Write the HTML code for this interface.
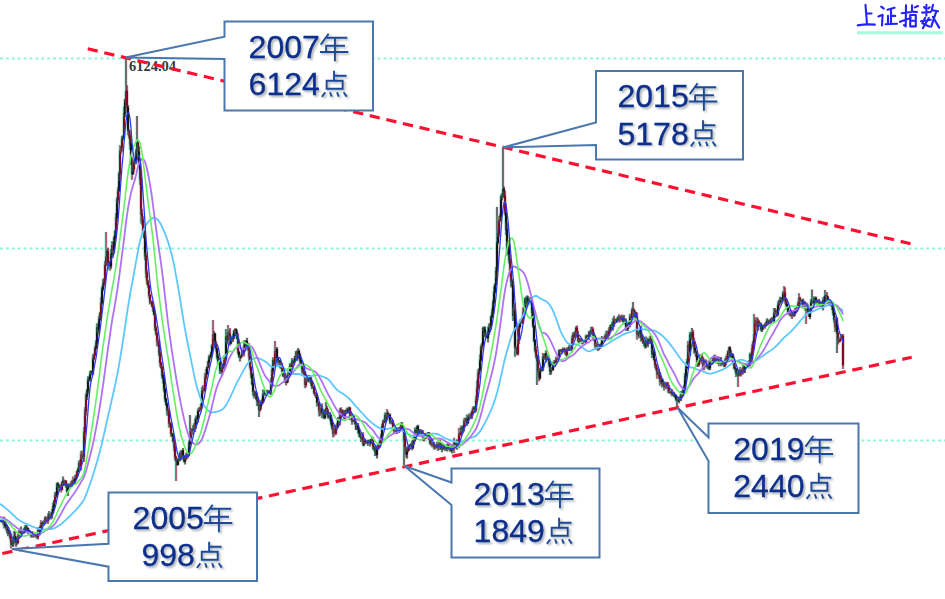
<!DOCTYPE html><html><head><meta charset="utf-8"><style>html,body{margin:0;padding:0;background:#fff;overflow:hidden}svg{display:block}</style></head><body>
<svg width="945" height="599" viewBox="0 0 945 599">
<defs><filter id="b" x="-10%" y="-10%" width="120%" height="120%"><feGaussianBlur stdDeviation="0.45"/></filter><filter id="tb" x="-10%" y="-10%" width="120%" height="120%"><feGaussianBlur stdDeviation="0.4"/></filter><filter id="sh" x="-10%" y="-10%" width="120%" height="130%"><feGaussianBlur stdDeviation="0.9"/></filter></defs>
<rect width="945" height="599" fill="#fff"/>
<line x1="0" y1="58.5" x2="945" y2="58.5" stroke="#8ef5d8" stroke-width="2.2" stroke-dasharray="2.9 3"/>
<line x1="0" y1="248.5" x2="945" y2="248.5" stroke="#8ef5d8" stroke-width="2.2" stroke-dasharray="2.9 3"/>
<line x1="0" y1="440.5" x2="945" y2="440.5" stroke="#8ef5d8" stroke-width="2.2" stroke-dasharray="2.9 3"/>
<g filter="url(#b)"><line x1="-0.1" y1="519.1" x2="-0.1" y2="522.3" stroke="#40e8b8" stroke-width="1" opacity="0.45"/><line x1="2.0" y1="519.1" x2="2.0" y2="522.3" stroke="#e070a0" stroke-width="1" opacity="0.4"/><line x1="1" y1="519.1" x2="1" y2="522.3" stroke="#181818" stroke-width="1.2"/><line x1="1" y1="520.1" x2="1" y2="521.7" stroke="#181818" stroke-width="2.2"/><line x1="0.9" y1="520.2" x2="0.9" y2="522.6" stroke="#40e8b8" stroke-width="1" opacity="0.45"/><line x1="3.0" y1="520.2" x2="3.0" y2="522.6" stroke="#e070a0" stroke-width="1" opacity="0.4"/><line x1="2" y1="520.2" x2="2" y2="522.6" stroke="#181818" stroke-width="1.2"/><line x1="2" y1="520.7" x2="2" y2="522.3" stroke="#181818" stroke-width="2.2"/><line x1="1.9" y1="518.4" x2="1.9" y2="524.6" stroke="#40e8b8" stroke-width="1" opacity="0.45"/><line x1="4.0" y1="518.4" x2="4.0" y2="524.6" stroke="#e070a0" stroke-width="1" opacity="0.4"/><line x1="3" y1="518.4" x2="3" y2="524.6" stroke="#7a0a28" stroke-width="1.2"/><line x1="3" y1="519.0" x2="3" y2="522.3" stroke="#7a0a28" stroke-width="2.2"/><line x1="2.9" y1="516.4" x2="2.9" y2="528.4" stroke="#40e8b8" stroke-width="1" opacity="0.45"/><line x1="5.0" y1="516.4" x2="5.0" y2="528.4" stroke="#e070a0" stroke-width="1" opacity="0.4"/><line x1="4" y1="516.4" x2="4" y2="528.4" stroke="#7a0a28" stroke-width="1.2"/><line x1="4" y1="519.0" x2="4" y2="525.1" stroke="#7a0a28" stroke-width="2.2"/><line x1="3.9" y1="521.1" x2="3.9" y2="528.1" stroke="#40e8b8" stroke-width="1" opacity="0.45"/><line x1="6.0" y1="521.1" x2="6.0" y2="528.1" stroke="#e070a0" stroke-width="1" opacity="0.4"/><line x1="5" y1="521.1" x2="5" y2="528.1" stroke="#181818" stroke-width="1.2"/><line x1="5" y1="524.1" x2="5" y2="526.2" stroke="#181818" stroke-width="2.2"/><line x1="4.9" y1="524.7" x2="4.9" y2="530.5" stroke="#40e8b8" stroke-width="1" opacity="0.45"/><line x1="7.0" y1="524.7" x2="7.0" y2="530.5" stroke="#e070a0" stroke-width="1" opacity="0.4"/><line x1="6" y1="524.7" x2="6" y2="530.5" stroke="#181818" stroke-width="1.2"/><line x1="6" y1="525.2" x2="6" y2="527.7" stroke="#181818" stroke-width="2.2"/><line x1="5.9" y1="526.5" x2="5.9" y2="533.6" stroke="#40e8b8" stroke-width="1" opacity="0.45"/><line x1="8.0" y1="526.5" x2="8.0" y2="533.6" stroke="#e070a0" stroke-width="1" opacity="0.4"/><line x1="7" y1="526.5" x2="7" y2="533.6" stroke="#7a0a28" stroke-width="1.2"/><line x1="7" y1="526.7" x2="7" y2="531.2" stroke="#7a0a28" stroke-width="2.2"/><line x1="6.9" y1="526.8" x2="6.9" y2="536.3" stroke="#40e8b8" stroke-width="1" opacity="0.45"/><line x1="9.0" y1="526.8" x2="9.0" y2="536.3" stroke="#e070a0" stroke-width="1" opacity="0.4"/><line x1="8" y1="526.8" x2="8" y2="536.3" stroke="#181818" stroke-width="1.2"/><line x1="8" y1="530.2" x2="8" y2="533.4" stroke="#181818" stroke-width="2.2"/><line x1="7.9" y1="530.2" x2="7.9" y2="534.5" stroke="#40e8b8" stroke-width="1" opacity="0.45"/><line x1="10.0" y1="530.2" x2="10.0" y2="534.5" stroke="#e070a0" stroke-width="1" opacity="0.4"/><line x1="9" y1="530.2" x2="9" y2="534.5" stroke="#181818" stroke-width="1.2"/><line x1="9" y1="532.1" x2="9" y2="533.4" stroke="#181818" stroke-width="2.2"/><line x1="8.9" y1="531.1" x2="8.9" y2="539.4" stroke="#40e8b8" stroke-width="1" opacity="0.45"/><line x1="11.0" y1="531.1" x2="11.0" y2="539.4" stroke="#e070a0" stroke-width="1" opacity="0.4"/><line x1="10" y1="531.1" x2="10" y2="539.4" stroke="#7a0a28" stroke-width="1.2"/><line x1="10" y1="532.1" x2="10" y2="538.1" stroke="#7a0a28" stroke-width="2.2"/><line x1="9.9" y1="534.3" x2="9.9" y2="548.6" stroke="#40e8b8" stroke-width="1" opacity="0.45"/><line x1="12.0" y1="534.3" x2="12.0" y2="548.6" stroke="#e070a0" stroke-width="1" opacity="0.4"/><line x1="11" y1="534.3" x2="11" y2="548.6" stroke="#7a0a28" stroke-width="1.2"/><line x1="11" y1="537.1" x2="11" y2="544.7" stroke="#7a0a28" stroke-width="2.2"/><line x1="10.9" y1="542.2" x2="10.9" y2="545.8" stroke="#40e8b8" stroke-width="1" opacity="0.45"/><line x1="13.0" y1="542.2" x2="13.0" y2="545.8" stroke="#e070a0" stroke-width="1" opacity="0.4"/><line x1="12" y1="542.2" x2="12" y2="545.8" stroke="#181818" stroke-width="1.2"/><line x1="12" y1="543.3" x2="12" y2="544.7" stroke="#181818" stroke-width="2.2"/><line x1="11.9" y1="537.1" x2="11.9" y2="546.9" stroke="#40e8b8" stroke-width="1" opacity="0.45"/><line x1="14.0" y1="537.1" x2="14.0" y2="546.9" stroke="#e070a0" stroke-width="1" opacity="0.4"/><line x1="13" y1="537.1" x2="13" y2="546.9" stroke="#181818" stroke-width="1.2"/><line x1="13" y1="540.3" x2="13" y2="544.3" stroke="#181818" stroke-width="2.2"/><line x1="12.9" y1="531.1" x2="12.9" y2="544.7" stroke="#40e8b8" stroke-width="1" opacity="0.45"/><line x1="15.0" y1="531.1" x2="15.0" y2="544.7" stroke="#e070a0" stroke-width="1" opacity="0.4"/><line x1="14" y1="531.1" x2="14" y2="544.7" stroke="#7a0a28" stroke-width="1.2"/><line x1="14" y1="535.9" x2="14" y2="541.3" stroke="#7a0a28" stroke-width="2.2"/><line x1="13.9" y1="531.8" x2="13.9" y2="542.4" stroke="#40e8b8" stroke-width="1" opacity="0.45"/><line x1="16.0" y1="531.8" x2="16.0" y2="542.4" stroke="#e070a0" stroke-width="1" opacity="0.4"/><line x1="15" y1="531.8" x2="15" y2="542.4" stroke="#181818" stroke-width="1.2"/><line x1="15" y1="535.9" x2="15" y2="538.5" stroke="#181818" stroke-width="2.2"/><line x1="14.9" y1="536.2" x2="14.9" y2="546.8" stroke="#40e8b8" stroke-width="1" opacity="0.45"/><line x1="17.0" y1="536.2" x2="17.0" y2="546.8" stroke="#e070a0" stroke-width="1" opacity="0.4"/><line x1="16" y1="536.2" x2="16" y2="546.8" stroke="#181818" stroke-width="1.2"/><line x1="16" y1="537.5" x2="16" y2="543.1" stroke="#181818" stroke-width="2.2"/><line x1="15.9" y1="541.6" x2="15.9" y2="544.8" stroke="#40e8b8" stroke-width="1" opacity="0.45"/><line x1="18.0" y1="541.6" x2="18.0" y2="544.8" stroke="#e070a0" stroke-width="1" opacity="0.4"/><line x1="17" y1="541.6" x2="17" y2="544.8" stroke="#181818" stroke-width="1.2"/><line x1="17" y1="541.7" x2="17" y2="543.1" stroke="#181818" stroke-width="2.2"/><line x1="16.9" y1="533.4" x2="16.9" y2="543.8" stroke="#40e8b8" stroke-width="1" opacity="0.45"/><line x1="19.0" y1="533.4" x2="19.0" y2="543.8" stroke="#e070a0" stroke-width="1" opacity="0.4"/><line x1="18" y1="533.4" x2="18" y2="543.8" stroke="#7a0a28" stroke-width="1.2"/><line x1="18" y1="535.5" x2="18" y2="542.7" stroke="#7a0a28" stroke-width="2.2"/><line x1="17.9" y1="529.4" x2="17.9" y2="538.9" stroke="#40e8b8" stroke-width="1" opacity="0.45"/><line x1="20.0" y1="529.4" x2="20.0" y2="538.9" stroke="#e070a0" stroke-width="1" opacity="0.4"/><line x1="19" y1="529.4" x2="19" y2="538.9" stroke="#7a0a28" stroke-width="1.2"/><line x1="19" y1="531.5" x2="19" y2="536.5" stroke="#7a0a28" stroke-width="2.2"/><line x1="18.9" y1="531.1" x2="18.9" y2="537.1" stroke="#40e8b8" stroke-width="1" opacity="0.45"/><line x1="21.0" y1="531.1" x2="21.0" y2="537.1" stroke="#e070a0" stroke-width="1" opacity="0.4"/><line x1="20" y1="531.1" x2="20" y2="537.1" stroke="#7a0a28" stroke-width="1.2"/><line x1="20" y1="531.5" x2="20" y2="534.5" stroke="#7a0a28" stroke-width="2.2"/><line x1="19.9" y1="526.4" x2="19.9" y2="537.1" stroke="#40e8b8" stroke-width="1" opacity="0.45"/><line x1="22.0" y1="526.4" x2="22.0" y2="537.1" stroke="#e070a0" stroke-width="1" opacity="0.4"/><line x1="21" y1="526.4" x2="21" y2="537.1" stroke="#181818" stroke-width="1.2"/><line x1="21" y1="530.9" x2="21" y2="534.5" stroke="#181818" stroke-width="2.2"/><line x1="20.9" y1="530.7" x2="20.9" y2="534.1" stroke="#40e8b8" stroke-width="1" opacity="0.45"/><line x1="23.0" y1="530.7" x2="23.0" y2="534.1" stroke="#e070a0" stroke-width="1" opacity="0.4"/><line x1="22" y1="530.7" x2="22" y2="534.1" stroke="#7a0a28" stroke-width="1.2"/><line x1="22" y1="530.9" x2="22" y2="532.8" stroke="#7a0a28" stroke-width="2.2"/><line x1="21.9" y1="531.1" x2="21.9" y2="534.1" stroke="#40e8b8" stroke-width="1" opacity="0.45"/><line x1="24.0" y1="531.1" x2="24.0" y2="534.1" stroke="#e070a0" stroke-width="1" opacity="0.4"/><line x1="23" y1="531.1" x2="23" y2="534.1" stroke="#7a0a28" stroke-width="1.2"/><line x1="23" y1="531.8" x2="23" y2="533.1" stroke="#7a0a28" stroke-width="2.2"/><line x1="22.9" y1="528.0" x2="22.9" y2="533.6" stroke="#40e8b8" stroke-width="1" opacity="0.45"/><line x1="25.0" y1="528.0" x2="25.0" y2="533.6" stroke="#e070a0" stroke-width="1" opacity="0.4"/><line x1="24" y1="528.0" x2="24" y2="533.6" stroke="#181818" stroke-width="1.2"/><line x1="24" y1="529.4" x2="24" y2="533.1" stroke="#181818" stroke-width="2.2"/><line x1="23.9" y1="525.2" x2="23.9" y2="532.7" stroke="#40e8b8" stroke-width="1" opacity="0.45"/><line x1="26.0" y1="525.2" x2="26.0" y2="532.7" stroke="#e070a0" stroke-width="1" opacity="0.4"/><line x1="25" y1="525.2" x2="25" y2="532.7" stroke="#181818" stroke-width="1.2"/><line x1="25" y1="527.2" x2="25" y2="530.4" stroke="#181818" stroke-width="2.2"/><line x1="24.9" y1="525.1" x2="24.9" y2="531.7" stroke="#40e8b8" stroke-width="1" opacity="0.45"/><line x1="27.0" y1="525.1" x2="27.0" y2="531.7" stroke="#e070a0" stroke-width="1" opacity="0.4"/><line x1="26" y1="525.1" x2="26" y2="531.7" stroke="#181818" stroke-width="1.2"/><line x1="26" y1="527.2" x2="26" y2="529.6" stroke="#181818" stroke-width="2.2"/><line x1="25.9" y1="525.8" x2="25.9" y2="531.7" stroke="#40e8b8" stroke-width="1" opacity="0.45"/><line x1="28.0" y1="525.8" x2="28.0" y2="531.7" stroke="#e070a0" stroke-width="1" opacity="0.4"/><line x1="27" y1="525.8" x2="27" y2="531.7" stroke="#181818" stroke-width="1.2"/><line x1="27" y1="528.2" x2="27" y2="529.6" stroke="#181818" stroke-width="2.2"/><line x1="26.9" y1="527.5" x2="26.9" y2="534.3" stroke="#40e8b8" stroke-width="1" opacity="0.45"/><line x1="29.0" y1="527.5" x2="29.0" y2="534.3" stroke="#e070a0" stroke-width="1" opacity="0.4"/><line x1="28" y1="527.5" x2="28" y2="534.3" stroke="#181818" stroke-width="1.2"/><line x1="28" y1="528.2" x2="28" y2="532.0" stroke="#181818" stroke-width="2.2"/><line x1="27.9" y1="530.8" x2="27.9" y2="534.4" stroke="#40e8b8" stroke-width="1" opacity="0.45"/><line x1="30.0" y1="530.8" x2="30.0" y2="534.4" stroke="#e070a0" stroke-width="1" opacity="0.4"/><line x1="29" y1="530.8" x2="29" y2="534.4" stroke="#181818" stroke-width="1.2"/><line x1="29" y1="531.0" x2="29" y2="533.0" stroke="#181818" stroke-width="2.2"/><line x1="28.9" y1="531.2" x2="28.9" y2="535.5" stroke="#40e8b8" stroke-width="1" opacity="0.45"/><line x1="31.0" y1="531.2" x2="31.0" y2="535.5" stroke="#e070a0" stroke-width="1" opacity="0.4"/><line x1="30" y1="531.2" x2="30" y2="535.5" stroke="#7a0a28" stroke-width="1.2"/><line x1="30" y1="532.0" x2="30" y2="534.7" stroke="#7a0a28" stroke-width="2.2"/><line x1="29.9" y1="532.1" x2="29.9" y2="537.7" stroke="#40e8b8" stroke-width="1" opacity="0.45"/><line x1="32.0" y1="532.1" x2="32.0" y2="537.7" stroke="#e070a0" stroke-width="1" opacity="0.4"/><line x1="31" y1="532.1" x2="31" y2="537.7" stroke="#7a0a28" stroke-width="1.2"/><line x1="31" y1="533.7" x2="31" y2="535.4" stroke="#7a0a28" stroke-width="2.2"/><line x1="30.9" y1="531.6" x2="30.9" y2="537.1" stroke="#40e8b8" stroke-width="1" opacity="0.45"/><line x1="33.0" y1="531.6" x2="33.0" y2="537.1" stroke="#e070a0" stroke-width="1" opacity="0.4"/><line x1="32" y1="531.6" x2="32" y2="537.1" stroke="#7a0a28" stroke-width="1.2"/><line x1="32" y1="534.4" x2="32" y2="536.7" stroke="#7a0a28" stroke-width="2.2"/><line x1="31.9" y1="531.6" x2="31.9" y2="537.7" stroke="#40e8b8" stroke-width="1" opacity="0.45"/><line x1="34.0" y1="531.6" x2="34.0" y2="537.7" stroke="#e070a0" stroke-width="1" opacity="0.4"/><line x1="33" y1="531.6" x2="33" y2="537.7" stroke="#7a0a28" stroke-width="1.2"/><line x1="33" y1="534.9" x2="33" y2="536.7" stroke="#7a0a28" stroke-width="2.2"/><line x1="32.9" y1="533.8" x2="32.9" y2="537.2" stroke="#40e8b8" stroke-width="1" opacity="0.45"/><line x1="35.0" y1="533.8" x2="35.0" y2="537.2" stroke="#e070a0" stroke-width="1" opacity="0.4"/><line x1="34" y1="533.8" x2="34" y2="537.2" stroke="#7a0a28" stroke-width="1.2"/><line x1="34" y1="534.9" x2="34" y2="536.0" stroke="#7a0a28" stroke-width="2.2"/><line x1="33.9" y1="533.3" x2="33.9" y2="536.7" stroke="#40e8b8" stroke-width="1" opacity="0.45"/><line x1="36.0" y1="533.3" x2="36.0" y2="536.7" stroke="#e070a0" stroke-width="1" opacity="0.4"/><line x1="35" y1="533.3" x2="35" y2="536.7" stroke="#7a0a28" stroke-width="1.2"/><line x1="35" y1="534.7" x2="35" y2="536.0" stroke="#7a0a28" stroke-width="2.2"/><line x1="34.9" y1="534.2" x2="34.9" y2="537.8" stroke="#40e8b8" stroke-width="1" opacity="0.45"/><line x1="37.0" y1="534.2" x2="37.0" y2="537.8" stroke="#e070a0" stroke-width="1" opacity="0.4"/><line x1="36" y1="534.2" x2="36" y2="537.8" stroke="#181818" stroke-width="1.2"/><line x1="36" y1="534.6" x2="36" y2="535.7" stroke="#181818" stroke-width="2.2"/><line x1="35.9" y1="534.1" x2="35.9" y2="539.1" stroke="#40e8b8" stroke-width="1" opacity="0.45"/><line x1="38.0" y1="534.1" x2="38.0" y2="539.1" stroke="#e070a0" stroke-width="1" opacity="0.4"/><line x1="37" y1="534.1" x2="37" y2="539.1" stroke="#7a0a28" stroke-width="1.2"/><line x1="37" y1="534.6" x2="37" y2="537.2" stroke="#7a0a28" stroke-width="2.2"/><line x1="36.9" y1="527.2" x2="36.9" y2="539.5" stroke="#40e8b8" stroke-width="1" opacity="0.45"/><line x1="39.0" y1="527.2" x2="39.0" y2="539.5" stroke="#e070a0" stroke-width="1" opacity="0.4"/><line x1="38" y1="527.2" x2="38" y2="539.5" stroke="#7a0a28" stroke-width="1.2"/><line x1="38" y1="528.7" x2="38" y2="537.2" stroke="#7a0a28" stroke-width="2.2"/><line x1="37.9" y1="527.7" x2="37.9" y2="535.4" stroke="#40e8b8" stroke-width="1" opacity="0.45"/><line x1="40.0" y1="527.7" x2="40.0" y2="535.4" stroke="#e070a0" stroke-width="1" opacity="0.4"/><line x1="39" y1="527.7" x2="39" y2="535.4" stroke="#7a0a28" stroke-width="1.2"/><line x1="39" y1="528.7" x2="39" y2="533.1" stroke="#7a0a28" stroke-width="2.2"/><line x1="38.9" y1="525.5" x2="38.9" y2="535.2" stroke="#40e8b8" stroke-width="1" opacity="0.45"/><line x1="41.0" y1="525.5" x2="41.0" y2="535.2" stroke="#e070a0" stroke-width="1" opacity="0.4"/><line x1="40" y1="525.5" x2="40" y2="535.2" stroke="#181818" stroke-width="1.2"/><line x1="40" y1="526.9" x2="40" y2="533.1" stroke="#181818" stroke-width="2.2"/><line x1="39.9" y1="520.3" x2="39.9" y2="529.4" stroke="#40e8b8" stroke-width="1" opacity="0.45"/><line x1="42.0" y1="520.3" x2="42.0" y2="529.4" stroke="#e070a0" stroke-width="1" opacity="0.4"/><line x1="41" y1="520.3" x2="41" y2="529.4" stroke="#7a0a28" stroke-width="1.2"/><line x1="41" y1="522.8" x2="41" y2="527.9" stroke="#7a0a28" stroke-width="2.2"/><line x1="40.9" y1="522.2" x2="40.9" y2="526.2" stroke="#40e8b8" stroke-width="1" opacity="0.45"/><line x1="43.0" y1="522.2" x2="43.0" y2="526.2" stroke="#e070a0" stroke-width="1" opacity="0.4"/><line x1="42" y1="522.2" x2="42" y2="526.2" stroke="#181818" stroke-width="1.2"/><line x1="42" y1="522.8" x2="42" y2="524.0" stroke="#181818" stroke-width="2.2"/><line x1="41.9" y1="521.3" x2="41.9" y2="525.4" stroke="#40e8b8" stroke-width="1" opacity="0.45"/><line x1="44.0" y1="521.3" x2="44.0" y2="525.4" stroke="#e070a0" stroke-width="1" opacity="0.4"/><line x1="43" y1="521.3" x2="43" y2="525.4" stroke="#181818" stroke-width="1.2"/><line x1="43" y1="521.7" x2="43" y2="524.0" stroke="#181818" stroke-width="2.2"/><line x1="42.9" y1="520.1" x2="42.9" y2="523.5" stroke="#40e8b8" stroke-width="1" opacity="0.45"/><line x1="45.0" y1="520.1" x2="45.0" y2="523.5" stroke="#e070a0" stroke-width="1" opacity="0.4"/><line x1="44" y1="520.1" x2="44" y2="523.5" stroke="#7a0a28" stroke-width="1.2"/><line x1="44" y1="521.6" x2="44" y2="522.7" stroke="#7a0a28" stroke-width="2.2"/><line x1="43.9" y1="516.3" x2="43.9" y2="524.5" stroke="#40e8b8" stroke-width="1" opacity="0.45"/><line x1="46.0" y1="516.3" x2="46.0" y2="524.5" stroke="#e070a0" stroke-width="1" opacity="0.4"/><line x1="45" y1="516.3" x2="45" y2="524.5" stroke="#7a0a28" stroke-width="1.2"/><line x1="45" y1="517.8" x2="45" y2="522.6" stroke="#7a0a28" stroke-width="2.2"/><line x1="44.9" y1="516.6" x2="44.9" y2="523.4" stroke="#40e8b8" stroke-width="1" opacity="0.45"/><line x1="47.0" y1="516.6" x2="47.0" y2="523.4" stroke="#e070a0" stroke-width="1" opacity="0.4"/><line x1="46" y1="516.6" x2="46" y2="523.4" stroke="#7a0a28" stroke-width="1.2"/><line x1="46" y1="517.8" x2="46" y2="520.8" stroke="#7a0a28" stroke-width="2.2"/><line x1="45.9" y1="518.9" x2="45.9" y2="521.8" stroke="#40e8b8" stroke-width="1" opacity="0.45"/><line x1="48.0" y1="518.9" x2="48.0" y2="521.8" stroke="#e070a0" stroke-width="1" opacity="0.4"/><line x1="47" y1="518.9" x2="47" y2="521.8" stroke="#181818" stroke-width="1.2"/><line x1="47" y1="519.8" x2="47" y2="521.0" stroke="#181818" stroke-width="2.2"/><line x1="46.9" y1="513.4" x2="46.9" y2="524.0" stroke="#40e8b8" stroke-width="1" opacity="0.45"/><line x1="49.0" y1="513.4" x2="49.0" y2="524.0" stroke="#e070a0" stroke-width="1" opacity="0.4"/><line x1="48" y1="513.4" x2="48" y2="524.0" stroke="#7a0a28" stroke-width="1.2"/><line x1="48" y1="516.5" x2="48" y2="521.0" stroke="#7a0a28" stroke-width="2.2"/><line x1="47.9" y1="511.1" x2="47.9" y2="520.2" stroke="#40e8b8" stroke-width="1" opacity="0.45"/><line x1="50.0" y1="511.1" x2="50.0" y2="520.2" stroke="#e070a0" stroke-width="1" opacity="0.4"/><line x1="49" y1="511.1" x2="49" y2="520.2" stroke="#181818" stroke-width="1.2"/><line x1="49" y1="514.4" x2="49" y2="517.5" stroke="#181818" stroke-width="2.2"/><line x1="48.9" y1="513.7" x2="48.9" y2="517.2" stroke="#40e8b8" stroke-width="1" opacity="0.45"/><line x1="51.0" y1="513.7" x2="51.0" y2="517.2" stroke="#e070a0" stroke-width="1" opacity="0.4"/><line x1="50" y1="513.7" x2="50" y2="517.2" stroke="#7a0a28" stroke-width="1.2"/><line x1="50" y1="514.4" x2="50" y2="516.7" stroke="#7a0a28" stroke-width="2.2"/><line x1="49.9" y1="512.2" x2="49.9" y2="519.5" stroke="#40e8b8" stroke-width="1" opacity="0.45"/><line x1="52.0" y1="512.2" x2="52.0" y2="519.5" stroke="#e070a0" stroke-width="1" opacity="0.4"/><line x1="51" y1="512.2" x2="51" y2="519.5" stroke="#7a0a28" stroke-width="1.2"/><line x1="51" y1="513.4" x2="51" y2="516.7" stroke="#7a0a28" stroke-width="2.2"/><line x1="50.9" y1="509.1" x2="50.9" y2="518.4" stroke="#40e8b8" stroke-width="1" opacity="0.45"/><line x1="53.0" y1="509.1" x2="53.0" y2="518.4" stroke="#e070a0" stroke-width="1" opacity="0.4"/><line x1="52" y1="509.1" x2="52" y2="518.4" stroke="#181818" stroke-width="1.2"/><line x1="52" y1="512.2" x2="52" y2="514.4" stroke="#181818" stroke-width="2.2"/><line x1="51.9" y1="502.9" x2="51.9" y2="513.9" stroke="#40e8b8" stroke-width="1" opacity="0.45"/><line x1="54.0" y1="502.9" x2="54.0" y2="513.9" stroke="#e070a0" stroke-width="1" opacity="0.4"/><line x1="53" y1="502.9" x2="53" y2="513.9" stroke="#181818" stroke-width="1.2"/><line x1="53" y1="506.2" x2="53" y2="513.2" stroke="#181818" stroke-width="2.2"/><line x1="52.9" y1="500.1" x2="52.9" y2="509.0" stroke="#40e8b8" stroke-width="1" opacity="0.45"/><line x1="55.0" y1="500.1" x2="55.0" y2="509.0" stroke="#e070a0" stroke-width="1" opacity="0.4"/><line x1="54" y1="500.1" x2="54" y2="509.0" stroke="#181818" stroke-width="1.2"/><line x1="54" y1="501.0" x2="54" y2="507.2" stroke="#181818" stroke-width="2.2"/><line x1="53.9" y1="492.0" x2="53.9" y2="504.2" stroke="#40e8b8" stroke-width="1" opacity="0.45"/><line x1="56.0" y1="492.0" x2="56.0" y2="504.2" stroke="#e070a0" stroke-width="1" opacity="0.4"/><line x1="55" y1="492.0" x2="55" y2="504.2" stroke="#7a0a28" stroke-width="1.2"/><line x1="55" y1="495.3" x2="55" y2="502.0" stroke="#7a0a28" stroke-width="2.2"/><line x1="54.9" y1="491.8" x2="54.9" y2="497.4" stroke="#40e8b8" stroke-width="1" opacity="0.45"/><line x1="57.0" y1="491.8" x2="57.0" y2="497.4" stroke="#e070a0" stroke-width="1" opacity="0.4"/><line x1="56" y1="491.8" x2="56" y2="497.4" stroke="#181818" stroke-width="1.2"/><line x1="56" y1="493.7" x2="56" y2="496.3" stroke="#181818" stroke-width="2.2"/><line x1="55.9" y1="482.5" x2="55.9" y2="497.2" stroke="#40e8b8" stroke-width="1" opacity="0.45"/><line x1="58.0" y1="482.5" x2="58.0" y2="497.2" stroke="#e070a0" stroke-width="1" opacity="0.4"/><line x1="57" y1="482.5" x2="57" y2="497.2" stroke="#181818" stroke-width="1.2"/><line x1="57" y1="483.6" x2="57" y2="494.7" stroke="#181818" stroke-width="2.2"/><line x1="56.9" y1="482.3" x2="56.9" y2="487.4" stroke="#40e8b8" stroke-width="1" opacity="0.45"/><line x1="59.0" y1="482.3" x2="59.0" y2="487.4" stroke="#e070a0" stroke-width="1" opacity="0.4"/><line x1="58" y1="482.3" x2="58" y2="487.4" stroke="#181818" stroke-width="1.2"/><line x1="58" y1="483.6" x2="58" y2="485.8" stroke="#181818" stroke-width="2.2"/><line x1="57.9" y1="484.3" x2="57.9" y2="490.8" stroke="#40e8b8" stroke-width="1" opacity="0.45"/><line x1="60.0" y1="484.3" x2="60.0" y2="490.8" stroke="#e070a0" stroke-width="1" opacity="0.4"/><line x1="59" y1="484.3" x2="59" y2="490.8" stroke="#181818" stroke-width="1.2"/><line x1="59" y1="484.8" x2="59" y2="488.0" stroke="#181818" stroke-width="2.2"/><line x1="58.9" y1="485.6" x2="58.9" y2="488.3" stroke="#40e8b8" stroke-width="1" opacity="0.45"/><line x1="61.0" y1="485.6" x2="61.0" y2="488.3" stroke="#e070a0" stroke-width="1" opacity="0.4"/><line x1="60" y1="485.6" x2="60" y2="488.3" stroke="#181818" stroke-width="1.2"/><line x1="60" y1="485.8" x2="60" y2="488.0" stroke="#181818" stroke-width="2.2"/><line x1="59.9" y1="484.3" x2="59.9" y2="492.5" stroke="#40e8b8" stroke-width="1" opacity="0.45"/><line x1="62.0" y1="484.3" x2="62.0" y2="492.5" stroke="#e070a0" stroke-width="1" opacity="0.4"/><line x1="61" y1="484.3" x2="61" y2="492.5" stroke="#7a0a28" stroke-width="1.2"/><line x1="61" y1="485.8" x2="61" y2="490.0" stroke="#7a0a28" stroke-width="2.2"/><line x1="60.9" y1="481.3" x2="60.9" y2="490.5" stroke="#40e8b8" stroke-width="1" opacity="0.45"/><line x1="63.0" y1="481.3" x2="63.0" y2="490.5" stroke="#e070a0" stroke-width="1" opacity="0.4"/><line x1="62" y1="481.3" x2="62" y2="490.5" stroke="#7a0a28" stroke-width="1.2"/><line x1="62" y1="481.7" x2="62" y2="490.0" stroke="#7a0a28" stroke-width="2.2"/><line x1="61.9" y1="476.4" x2="61.9" y2="483.6" stroke="#40e8b8" stroke-width="1" opacity="0.45"/><line x1="64.0" y1="476.4" x2="64.0" y2="483.6" stroke="#e070a0" stroke-width="1" opacity="0.4"/><line x1="63" y1="476.4" x2="63" y2="483.6" stroke="#181818" stroke-width="1.2"/><line x1="63" y1="480.4" x2="63" y2="482.7" stroke="#181818" stroke-width="2.2"/><line x1="62.9" y1="479.4" x2="62.9" y2="485.7" stroke="#40e8b8" stroke-width="1" opacity="0.45"/><line x1="65.0" y1="479.4" x2="65.0" y2="485.7" stroke="#e070a0" stroke-width="1" opacity="0.4"/><line x1="64" y1="479.4" x2="64" y2="485.7" stroke="#181818" stroke-width="1.2"/><line x1="64" y1="480.4" x2="64" y2="484.7" stroke="#181818" stroke-width="2.2"/><line x1="63.9" y1="480.0" x2="63.9" y2="485.6" stroke="#40e8b8" stroke-width="1" opacity="0.45"/><line x1="66.0" y1="480.0" x2="66.0" y2="485.6" stroke="#e070a0" stroke-width="1" opacity="0.4"/><line x1="65" y1="480.0" x2="65" y2="485.6" stroke="#7a0a28" stroke-width="1.2"/><line x1="65" y1="481.4" x2="65" y2="484.7" stroke="#7a0a28" stroke-width="2.2"/><line x1="64.9" y1="480.1" x2="64.9" y2="488.1" stroke="#40e8b8" stroke-width="1" opacity="0.45"/><line x1="67.0" y1="480.1" x2="67.0" y2="488.1" stroke="#e070a0" stroke-width="1" opacity="0.4"/><line x1="66" y1="480.1" x2="66" y2="488.1" stroke="#7a0a28" stroke-width="1.2"/><line x1="66" y1="481.4" x2="66" y2="486.5" stroke="#7a0a28" stroke-width="2.2"/><line x1="65.9" y1="485.0" x2="65.9" y2="492.9" stroke="#40e8b8" stroke-width="1" opacity="0.45"/><line x1="68.0" y1="485.0" x2="68.0" y2="492.9" stroke="#e070a0" stroke-width="1" opacity="0.4"/><line x1="67" y1="485.0" x2="67" y2="492.9" stroke="#181818" stroke-width="1.2"/><line x1="67" y1="485.5" x2="67" y2="492.0" stroke="#181818" stroke-width="2.2"/><line x1="66.9" y1="483.2" x2="66.9" y2="496.0" stroke="#40e8b8" stroke-width="1" opacity="0.45"/><line x1="69.0" y1="483.2" x2="69.0" y2="496.0" stroke="#e070a0" stroke-width="1" opacity="0.4"/><line x1="68" y1="483.2" x2="68" y2="496.0" stroke="#181818" stroke-width="1.2"/><line x1="68" y1="485.4" x2="68" y2="492.0" stroke="#181818" stroke-width="2.2"/><line x1="67.9" y1="483.9" x2="67.9" y2="487.7" stroke="#40e8b8" stroke-width="1" opacity="0.45"/><line x1="70.0" y1="483.9" x2="70.0" y2="487.7" stroke="#e070a0" stroke-width="1" opacity="0.4"/><line x1="69" y1="483.9" x2="69" y2="487.7" stroke="#181818" stroke-width="1.2"/><line x1="69" y1="484.9" x2="69" y2="486.4" stroke="#181818" stroke-width="2.2"/><line x1="68.9" y1="483.2" x2="68.9" y2="487.0" stroke="#40e8b8" stroke-width="1" opacity="0.45"/><line x1="71.0" y1="483.2" x2="71.0" y2="487.0" stroke="#e070a0" stroke-width="1" opacity="0.4"/><line x1="70" y1="483.2" x2="70" y2="487.0" stroke="#7a0a28" stroke-width="1.2"/><line x1="70" y1="484.9" x2="70" y2="485.9" stroke="#7a0a28" stroke-width="2.2"/><line x1="69.9" y1="481.1" x2="69.9" y2="486.3" stroke="#40e8b8" stroke-width="1" opacity="0.45"/><line x1="72.0" y1="481.1" x2="72.0" y2="486.3" stroke="#e070a0" stroke-width="1" opacity="0.4"/><line x1="71" y1="481.1" x2="71" y2="486.3" stroke="#7a0a28" stroke-width="1.2"/><line x1="71" y1="483.3" x2="71" y2="485.9" stroke="#7a0a28" stroke-width="2.2"/><line x1="70.9" y1="479.7" x2="70.9" y2="486.8" stroke="#40e8b8" stroke-width="1" opacity="0.45"/><line x1="73.0" y1="479.7" x2="73.0" y2="486.8" stroke="#e070a0" stroke-width="1" opacity="0.4"/><line x1="72" y1="479.7" x2="72" y2="486.8" stroke="#7a0a28" stroke-width="1.2"/><line x1="72" y1="482.0" x2="72" y2="484.3" stroke="#7a0a28" stroke-width="2.2"/><line x1="71.9" y1="476.5" x2="71.9" y2="484.5" stroke="#40e8b8" stroke-width="1" opacity="0.45"/><line x1="74.0" y1="476.5" x2="74.0" y2="484.5" stroke="#e070a0" stroke-width="1" opacity="0.4"/><line x1="73" y1="476.5" x2="73" y2="484.5" stroke="#7a0a28" stroke-width="1.2"/><line x1="73" y1="480.1" x2="73" y2="483.0" stroke="#7a0a28" stroke-width="2.2"/><line x1="72.9" y1="479.0" x2="72.9" y2="482.3" stroke="#40e8b8" stroke-width="1" opacity="0.45"/><line x1="75.0" y1="479.0" x2="75.0" y2="482.3" stroke="#e070a0" stroke-width="1" opacity="0.4"/><line x1="74" y1="479.0" x2="74" y2="482.3" stroke="#181818" stroke-width="1.2"/><line x1="74" y1="480.1" x2="74" y2="481.4" stroke="#181818" stroke-width="2.2"/><line x1="73.9" y1="475.1" x2="73.9" y2="484.6" stroke="#40e8b8" stroke-width="1" opacity="0.45"/><line x1="76.0" y1="475.1" x2="76.0" y2="484.6" stroke="#e070a0" stroke-width="1" opacity="0.4"/><line x1="75" y1="475.1" x2="75" y2="484.6" stroke="#181818" stroke-width="1.2"/><line x1="75" y1="478.0" x2="75" y2="481.4" stroke="#181818" stroke-width="2.2"/><line x1="74.9" y1="474.2" x2="74.9" y2="479.0" stroke="#40e8b8" stroke-width="1" opacity="0.45"/><line x1="77.0" y1="474.2" x2="77.0" y2="479.0" stroke="#e070a0" stroke-width="1" opacity="0.4"/><line x1="76" y1="474.2" x2="76" y2="479.0" stroke="#7a0a28" stroke-width="1.2"/><line x1="76" y1="475.3" x2="76" y2="479.0" stroke="#7a0a28" stroke-width="2.2"/><line x1="75.9" y1="470.2" x2="75.9" y2="477.1" stroke="#40e8b8" stroke-width="1" opacity="0.45"/><line x1="78.0" y1="470.2" x2="78.0" y2="477.1" stroke="#e070a0" stroke-width="1" opacity="0.4"/><line x1="77" y1="470.2" x2="77" y2="477.1" stroke="#7a0a28" stroke-width="1.2"/><line x1="77" y1="470.9" x2="77" y2="476.3" stroke="#7a0a28" stroke-width="2.2"/><line x1="76.9" y1="467.5" x2="76.9" y2="472.5" stroke="#40e8b8" stroke-width="1" opacity="0.45"/><line x1="79.0" y1="467.5" x2="79.0" y2="472.5" stroke="#e070a0" stroke-width="1" opacity="0.4"/><line x1="78" y1="467.5" x2="78" y2="472.5" stroke="#181818" stroke-width="1.2"/><line x1="78" y1="468.7" x2="78" y2="471.9" stroke="#181818" stroke-width="2.2"/><line x1="77.9" y1="460.4" x2="77.9" y2="471.5" stroke="#40e8b8" stroke-width="1" opacity="0.45"/><line x1="80.0" y1="460.4" x2="80.0" y2="471.5" stroke="#e070a0" stroke-width="1" opacity="0.4"/><line x1="79" y1="460.4" x2="79" y2="471.5" stroke="#181818" stroke-width="1.2"/><line x1="79" y1="462.6" x2="79" y2="469.7" stroke="#181818" stroke-width="2.2"/><line x1="78.9" y1="459.6" x2="78.9" y2="469.9" stroke="#40e8b8" stroke-width="1" opacity="0.45"/><line x1="81.0" y1="459.6" x2="81.0" y2="469.9" stroke="#e070a0" stroke-width="1" opacity="0.4"/><line x1="80" y1="459.6" x2="80" y2="469.9" stroke="#7a0a28" stroke-width="1.2"/><line x1="80" y1="462.6" x2="80" y2="466.0" stroke="#7a0a28" stroke-width="2.2"/><line x1="79.9" y1="451.0" x2="79.9" y2="470.4" stroke="#40e8b8" stroke-width="1" opacity="0.45"/><line x1="82.0" y1="451.0" x2="82.0" y2="470.4" stroke="#e070a0" stroke-width="1" opacity="0.4"/><line x1="81" y1="451.0" x2="81" y2="470.4" stroke="#7a0a28" stroke-width="1.2"/><line x1="81" y1="454.3" x2="81" y2="466.0" stroke="#7a0a28" stroke-width="2.2"/><line x1="80.9" y1="450.4" x2="80.9" y2="459.0" stroke="#40e8b8" stroke-width="1" opacity="0.45"/><line x1="83.0" y1="450.4" x2="83.0" y2="459.0" stroke="#e070a0" stroke-width="1" opacity="0.4"/><line x1="82" y1="450.4" x2="82" y2="459.0" stroke="#7a0a28" stroke-width="1.2"/><line x1="82" y1="454.3" x2="82" y2="458.4" stroke="#7a0a28" stroke-width="2.2"/><line x1="81.9" y1="453.0" x2="81.9" y2="459.3" stroke="#40e8b8" stroke-width="1" opacity="0.45"/><line x1="84.0" y1="453.0" x2="84.0" y2="459.3" stroke="#e070a0" stroke-width="1" opacity="0.4"/><line x1="83" y1="453.0" x2="83" y2="459.3" stroke="#7a0a28" stroke-width="1.2"/><line x1="83" y1="455.8" x2="83" y2="458.4" stroke="#7a0a28" stroke-width="2.2"/><line x1="82.9" y1="427.0" x2="82.9" y2="462.1" stroke="#40e8b8" stroke-width="1" opacity="0.45"/><line x1="85.0" y1="427.0" x2="85.0" y2="462.1" stroke="#e070a0" stroke-width="1" opacity="0.4"/><line x1="84" y1="427.0" x2="84" y2="462.1" stroke="#7a0a28" stroke-width="1.2"/><line x1="84" y1="431.6" x2="84" y2="456.8" stroke="#7a0a28" stroke-width="2.2"/><line x1="83.9" y1="407.1" x2="83.9" y2="435.5" stroke="#40e8b8" stroke-width="1" opacity="0.45"/><line x1="86.0" y1="407.1" x2="86.0" y2="435.5" stroke="#e070a0" stroke-width="1" opacity="0.4"/><line x1="85" y1="407.1" x2="85" y2="435.5" stroke="#7a0a28" stroke-width="1.2"/><line x1="85" y1="410.3" x2="85" y2="432.6" stroke="#7a0a28" stroke-width="2.2"/><line x1="84.9" y1="393.3" x2="84.9" y2="415.5" stroke="#40e8b8" stroke-width="1" opacity="0.45"/><line x1="87.0" y1="393.3" x2="87.0" y2="415.5" stroke="#e070a0" stroke-width="1" opacity="0.4"/><line x1="86" y1="393.3" x2="86" y2="415.5" stroke="#7a0a28" stroke-width="1.2"/><line x1="86" y1="395.6" x2="86" y2="411.3" stroke="#7a0a28" stroke-width="2.2"/><line x1="85.9" y1="389.1" x2="85.9" y2="400.0" stroke="#40e8b8" stroke-width="1" opacity="0.45"/><line x1="88.0" y1="389.1" x2="88.0" y2="400.0" stroke="#e070a0" stroke-width="1" opacity="0.4"/><line x1="87" y1="389.1" x2="87" y2="400.0" stroke="#181818" stroke-width="1.2"/><line x1="87" y1="390.3" x2="87" y2="396.6" stroke="#181818" stroke-width="2.2"/><line x1="86.9" y1="376.3" x2="86.9" y2="394.3" stroke="#40e8b8" stroke-width="1" opacity="0.45"/><line x1="89.0" y1="376.3" x2="89.0" y2="394.3" stroke="#e070a0" stroke-width="1" opacity="0.4"/><line x1="88" y1="376.3" x2="88" y2="394.3" stroke="#181818" stroke-width="1.2"/><line x1="88" y1="379.5" x2="88" y2="391.3" stroke="#181818" stroke-width="2.2"/><line x1="87.9" y1="377.0" x2="87.9" y2="381.3" stroke="#40e8b8" stroke-width="1" opacity="0.45"/><line x1="90.0" y1="377.0" x2="90.0" y2="381.3" stroke="#e070a0" stroke-width="1" opacity="0.4"/><line x1="89" y1="377.0" x2="89" y2="381.3" stroke="#181818" stroke-width="1.2"/><line x1="89" y1="378.1" x2="89" y2="380.5" stroke="#181818" stroke-width="2.2"/><line x1="88.9" y1="370.8" x2="88.9" y2="381.6" stroke="#40e8b8" stroke-width="1" opacity="0.45"/><line x1="91.0" y1="370.8" x2="91.0" y2="381.6" stroke="#e070a0" stroke-width="1" opacity="0.4"/><line x1="90" y1="370.8" x2="90" y2="381.6" stroke="#181818" stroke-width="1.2"/><line x1="90" y1="373.7" x2="90" y2="379.1" stroke="#181818" stroke-width="2.2"/><line x1="89.9" y1="370.4" x2="89.9" y2="375.2" stroke="#40e8b8" stroke-width="1" opacity="0.45"/><line x1="92.0" y1="370.4" x2="92.0" y2="375.2" stroke="#e070a0" stroke-width="1" opacity="0.4"/><line x1="91" y1="370.4" x2="91" y2="375.2" stroke="#181818" stroke-width="1.2"/><line x1="91" y1="371.0" x2="91" y2="374.7" stroke="#181818" stroke-width="2.2"/><line x1="90.9" y1="370.4" x2="90.9" y2="374.5" stroke="#40e8b8" stroke-width="1" opacity="0.45"/><line x1="93.0" y1="370.4" x2="93.0" y2="374.5" stroke="#e070a0" stroke-width="1" opacity="0.4"/><line x1="92" y1="370.4" x2="92" y2="374.5" stroke="#181818" stroke-width="1.2"/><line x1="92" y1="371.0" x2="92" y2="373.0" stroke="#181818" stroke-width="2.2"/><line x1="91.9" y1="354.4" x2="91.9" y2="375.3" stroke="#40e8b8" stroke-width="1" opacity="0.45"/><line x1="94.0" y1="354.4" x2="94.0" y2="375.3" stroke="#e070a0" stroke-width="1" opacity="0.4"/><line x1="93" y1="354.4" x2="93" y2="375.3" stroke="#181818" stroke-width="1.2"/><line x1="93" y1="358.0" x2="93" y2="373.0" stroke="#181818" stroke-width="2.2"/><line x1="92.9" y1="353.2" x2="92.9" y2="360.1" stroke="#40e8b8" stroke-width="1" opacity="0.45"/><line x1="95.0" y1="353.2" x2="95.0" y2="360.1" stroke="#e070a0" stroke-width="1" opacity="0.4"/><line x1="94" y1="353.2" x2="94" y2="360.1" stroke="#7a0a28" stroke-width="1.2"/><line x1="94" y1="354.4" x2="94" y2="359.0" stroke="#7a0a28" stroke-width="2.2"/><line x1="93.9" y1="346.0" x2="93.9" y2="356.4" stroke="#40e8b8" stroke-width="1" opacity="0.45"/><line x1="96.0" y1="346.0" x2="96.0" y2="356.4" stroke="#e070a0" stroke-width="1" opacity="0.4"/><line x1="95" y1="346.0" x2="95" y2="356.4" stroke="#7a0a28" stroke-width="1.2"/><line x1="95" y1="347.8" x2="95" y2="355.4" stroke="#7a0a28" stroke-width="2.2"/><line x1="94.9" y1="340.1" x2="94.9" y2="349.4" stroke="#40e8b8" stroke-width="1" opacity="0.45"/><line x1="97.0" y1="340.1" x2="97.0" y2="349.4" stroke="#e070a0" stroke-width="1" opacity="0.4"/><line x1="96" y1="340.1" x2="96" y2="349.4" stroke="#181818" stroke-width="1.2"/><line x1="96" y1="342.6" x2="96" y2="348.8" stroke="#181818" stroke-width="2.2"/><line x1="95.9" y1="323.3" x2="95.9" y2="346.7" stroke="#40e8b8" stroke-width="1" opacity="0.45"/><line x1="98.0" y1="323.3" x2="98.0" y2="346.7" stroke="#e070a0" stroke-width="1" opacity="0.4"/><line x1="97" y1="323.3" x2="97" y2="346.7" stroke="#181818" stroke-width="1.2"/><line x1="97" y1="327.1" x2="97" y2="343.6" stroke="#181818" stroke-width="2.2"/><line x1="96.9" y1="324.6" x2="96.9" y2="331.9" stroke="#40e8b8" stroke-width="1" opacity="0.45"/><line x1="99.0" y1="324.6" x2="99.0" y2="331.9" stroke="#e070a0" stroke-width="1" opacity="0.4"/><line x1="98" y1="324.6" x2="98" y2="331.9" stroke="#181818" stroke-width="1.2"/><line x1="98" y1="327.1" x2="98" y2="329.7" stroke="#181818" stroke-width="2.2"/><line x1="97.9" y1="315.8" x2="97.9" y2="334.4" stroke="#40e8b8" stroke-width="1" opacity="0.45"/><line x1="100.0" y1="315.8" x2="100.0" y2="334.4" stroke="#e070a0" stroke-width="1" opacity="0.4"/><line x1="99" y1="315.8" x2="99" y2="334.4" stroke="#181818" stroke-width="1.2"/><line x1="99" y1="318.7" x2="99" y2="329.7" stroke="#181818" stroke-width="2.2"/><line x1="98.9" y1="311.8" x2="98.9" y2="320.9" stroke="#40e8b8" stroke-width="1" opacity="0.45"/><line x1="101.0" y1="311.8" x2="101.0" y2="320.9" stroke="#e070a0" stroke-width="1" opacity="0.4"/><line x1="100" y1="311.8" x2="100" y2="320.9" stroke="#181818" stroke-width="1.2"/><line x1="100" y1="312.9" x2="100" y2="319.7" stroke="#181818" stroke-width="2.2"/><line x1="99.9" y1="297.2" x2="99.9" y2="318.7" stroke="#40e8b8" stroke-width="1" opacity="0.45"/><line x1="102.0" y1="297.2" x2="102.0" y2="318.7" stroke="#e070a0" stroke-width="1" opacity="0.4"/><line x1="101" y1="297.2" x2="101" y2="318.7" stroke="#7a0a28" stroke-width="1.2"/><line x1="101" y1="302.4" x2="101" y2="313.9" stroke="#7a0a28" stroke-width="2.2"/><line x1="100.9" y1="286.6" x2="100.9" y2="304.7" stroke="#40e8b8" stroke-width="1" opacity="0.45"/><line x1="103.0" y1="286.6" x2="103.0" y2="304.7" stroke="#e070a0" stroke-width="1" opacity="0.4"/><line x1="102" y1="286.6" x2="102" y2="304.7" stroke="#181818" stroke-width="1.2"/><line x1="102" y1="288.2" x2="102" y2="303.4" stroke="#181818" stroke-width="2.2"/><line x1="101.9" y1="278.8" x2="101.9" y2="290.9" stroke="#40e8b8" stroke-width="1" opacity="0.45"/><line x1="104.0" y1="278.8" x2="104.0" y2="290.9" stroke="#e070a0" stroke-width="1" opacity="0.4"/><line x1="103" y1="278.8" x2="103" y2="290.9" stroke="#181818" stroke-width="1.2"/><line x1="103" y1="283.3" x2="103" y2="289.2" stroke="#181818" stroke-width="2.2"/><line x1="102.9" y1="278.2" x2="102.9" y2="286.4" stroke="#40e8b8" stroke-width="1" opacity="0.45"/><line x1="105.0" y1="278.2" x2="105.0" y2="286.4" stroke="#e070a0" stroke-width="1" opacity="0.4"/><line x1="104" y1="278.2" x2="104" y2="286.4" stroke="#7a0a28" stroke-width="1.2"/><line x1="104" y1="279.5" x2="104" y2="284.3" stroke="#7a0a28" stroke-width="2.2"/><line x1="103.9" y1="261.0" x2="103.9" y2="282.1" stroke="#40e8b8" stroke-width="1" opacity="0.45"/><line x1="106.0" y1="261.0" x2="106.0" y2="282.1" stroke="#e070a0" stroke-width="1" opacity="0.4"/><line x1="105" y1="261.0" x2="105" y2="282.1" stroke="#7a0a28" stroke-width="1.2"/><line x1="105" y1="264.7" x2="105" y2="280.5" stroke="#7a0a28" stroke-width="2.2"/><line x1="104.9" y1="232.0" x2="104.9" y2="266.2" stroke="#40e8b8" stroke-width="1" opacity="0.45"/><line x1="107.0" y1="232.0" x2="107.0" y2="266.2" stroke="#e070a0" stroke-width="1" opacity="0.4"/><line x1="106" y1="232.0" x2="106" y2="266.2" stroke="#7a0a28" stroke-width="1.2"/><line x1="106" y1="256.4" x2="106" y2="265.7" stroke="#7a0a28" stroke-width="2.2"/><line x1="105.9" y1="249.2" x2="105.9" y2="258.4" stroke="#40e8b8" stroke-width="1" opacity="0.45"/><line x1="108.0" y1="249.2" x2="108.0" y2="258.4" stroke="#e070a0" stroke-width="1" opacity="0.4"/><line x1="107" y1="249.2" x2="107" y2="258.4" stroke="#181818" stroke-width="1.2"/><line x1="107" y1="251.0" x2="107" y2="257.4" stroke="#181818" stroke-width="2.2"/><line x1="106.9" y1="247.7" x2="106.9" y2="269.5" stroke="#40e8b8" stroke-width="1" opacity="0.45"/><line x1="109.0" y1="247.7" x2="109.0" y2="269.5" stroke="#e070a0" stroke-width="1" opacity="0.4"/><line x1="108" y1="247.7" x2="108" y2="269.5" stroke="#7a0a28" stroke-width="1.2"/><line x1="108" y1="251.0" x2="108" y2="265.2" stroke="#7a0a28" stroke-width="2.2"/><line x1="107.9" y1="262.1" x2="107.9" y2="265.5" stroke="#40e8b8" stroke-width="1" opacity="0.45"/><line x1="110.0" y1="262.1" x2="110.0" y2="265.5" stroke="#e070a0" stroke-width="1" opacity="0.4"/><line x1="109" y1="262.1" x2="109" y2="265.5" stroke="#181818" stroke-width="1.2"/><line x1="109" y1="263.5" x2="109" y2="265.2" stroke="#181818" stroke-width="2.2"/><line x1="108.9" y1="262.6" x2="108.9" y2="270.7" stroke="#40e8b8" stroke-width="1" opacity="0.45"/><line x1="111.0" y1="262.6" x2="111.0" y2="270.7" stroke="#e070a0" stroke-width="1" opacity="0.4"/><line x1="110" y1="262.6" x2="110" y2="270.7" stroke="#7a0a28" stroke-width="1.2"/><line x1="110" y1="263.5" x2="110" y2="266.4" stroke="#7a0a28" stroke-width="2.2"/><line x1="109.9" y1="248.9" x2="109.9" y2="268.8" stroke="#40e8b8" stroke-width="1" opacity="0.45"/><line x1="112.0" y1="248.9" x2="112.0" y2="268.8" stroke="#e070a0" stroke-width="1" opacity="0.4"/><line x1="111" y1="248.9" x2="111" y2="268.8" stroke="#181818" stroke-width="1.2"/><line x1="111" y1="253.7" x2="111" y2="266.4" stroke="#181818" stroke-width="2.2"/><line x1="110.9" y1="241.2" x2="110.9" y2="256.4" stroke="#40e8b8" stroke-width="1" opacity="0.45"/><line x1="113.0" y1="241.2" x2="113.0" y2="256.4" stroke="#e070a0" stroke-width="1" opacity="0.4"/><line x1="112" y1="241.2" x2="112" y2="256.4" stroke="#181818" stroke-width="1.2"/><line x1="112" y1="245.3" x2="112" y2="254.7" stroke="#181818" stroke-width="2.2"/><line x1="111.9" y1="241.7" x2="111.9" y2="252.9" stroke="#40e8b8" stroke-width="1" opacity="0.45"/><line x1="114.0" y1="241.7" x2="114.0" y2="252.9" stroke="#e070a0" stroke-width="1" opacity="0.4"/><line x1="113" y1="241.7" x2="113" y2="252.9" stroke="#7a0a28" stroke-width="1.2"/><line x1="113" y1="245.3" x2="113" y2="249.9" stroke="#7a0a28" stroke-width="2.2"/><line x1="112.9" y1="235.9" x2="112.9" y2="253.6" stroke="#40e8b8" stroke-width="1" opacity="0.45"/><line x1="115.0" y1="235.9" x2="115.0" y2="253.6" stroke="#e070a0" stroke-width="1" opacity="0.4"/><line x1="114" y1="235.9" x2="114" y2="253.6" stroke="#181818" stroke-width="1.2"/><line x1="114" y1="238.0" x2="114" y2="249.9" stroke="#181818" stroke-width="2.2"/><line x1="113.9" y1="230.1" x2="113.9" y2="242.0" stroke="#40e8b8" stroke-width="1" opacity="0.45"/><line x1="116.0" y1="230.1" x2="116.0" y2="242.0" stroke="#e070a0" stroke-width="1" opacity="0.4"/><line x1="115" y1="230.1" x2="115" y2="242.0" stroke="#181818" stroke-width="1.2"/><line x1="115" y1="231.3" x2="115" y2="239.0" stroke="#181818" stroke-width="2.2"/><line x1="114.9" y1="213.0" x2="114.9" y2="235.4" stroke="#40e8b8" stroke-width="1" opacity="0.45"/><line x1="117.0" y1="213.0" x2="117.0" y2="235.4" stroke="#e070a0" stroke-width="1" opacity="0.4"/><line x1="116" y1="213.0" x2="116" y2="235.4" stroke="#7a0a28" stroke-width="1.2"/><line x1="116" y1="217.0" x2="116" y2="232.3" stroke="#7a0a28" stroke-width="2.2"/><line x1="115.9" y1="197.0" x2="115.9" y2="221.5" stroke="#40e8b8" stroke-width="1" opacity="0.45"/><line x1="118.0" y1="197.0" x2="118.0" y2="221.5" stroke="#e070a0" stroke-width="1" opacity="0.4"/><line x1="117" y1="197.0" x2="117" y2="221.5" stroke="#181818" stroke-width="1.2"/><line x1="117" y1="199.2" x2="117" y2="218.0" stroke="#181818" stroke-width="2.2"/><line x1="116.9" y1="186.9" x2="116.9" y2="203.6" stroke="#40e8b8" stroke-width="1" opacity="0.45"/><line x1="119.0" y1="186.9" x2="119.0" y2="203.6" stroke="#e070a0" stroke-width="1" opacity="0.4"/><line x1="118" y1="186.9" x2="118" y2="203.6" stroke="#7a0a28" stroke-width="1.2"/><line x1="118" y1="189.9" x2="118" y2="200.2" stroke="#7a0a28" stroke-width="2.2"/><line x1="117.9" y1="171.8" x2="117.9" y2="191.9" stroke="#40e8b8" stroke-width="1" opacity="0.45"/><line x1="120.0" y1="171.8" x2="120.0" y2="191.9" stroke="#e070a0" stroke-width="1" opacity="0.4"/><line x1="119" y1="171.8" x2="119" y2="191.9" stroke="#181818" stroke-width="1.2"/><line x1="119" y1="173.4" x2="119" y2="190.9" stroke="#181818" stroke-width="2.2"/><line x1="118.9" y1="145.0" x2="118.9" y2="180.9" stroke="#40e8b8" stroke-width="1" opacity="0.45"/><line x1="121.0" y1="145.0" x2="121.0" y2="180.9" stroke="#e070a0" stroke-width="1" opacity="0.4"/><line x1="120" y1="145.0" x2="120" y2="180.9" stroke="#7a0a28" stroke-width="1.2"/><line x1="120" y1="150.2" x2="120" y2="174.4" stroke="#7a0a28" stroke-width="2.2"/><line x1="119.9" y1="145.9" x2="119.9" y2="153.4" stroke="#40e8b8" stroke-width="1" opacity="0.45"/><line x1="122.0" y1="145.9" x2="122.0" y2="153.4" stroke="#e070a0" stroke-width="1" opacity="0.4"/><line x1="121" y1="145.9" x2="121" y2="153.4" stroke="#7a0a28" stroke-width="1.2"/><line x1="121" y1="147.0" x2="121" y2="151.2" stroke="#7a0a28" stroke-width="2.2"/><line x1="120.9" y1="136.1" x2="120.9" y2="151.6" stroke="#40e8b8" stroke-width="1" opacity="0.45"/><line x1="123.0" y1="136.1" x2="123.0" y2="151.6" stroke="#e070a0" stroke-width="1" opacity="0.4"/><line x1="122" y1="136.1" x2="122" y2="151.6" stroke="#7a0a28" stroke-width="1.2"/><line x1="122" y1="137.6" x2="122" y2="148.0" stroke="#7a0a28" stroke-width="2.2"/><line x1="121.9" y1="134.9" x2="121.9" y2="140.0" stroke="#40e8b8" stroke-width="1" opacity="0.45"/><line x1="124.0" y1="134.9" x2="124.0" y2="140.0" stroke="#e070a0" stroke-width="1" opacity="0.4"/><line x1="123" y1="134.9" x2="123" y2="140.0" stroke="#181818" stroke-width="1.2"/><line x1="123" y1="136.0" x2="123" y2="138.6" stroke="#181818" stroke-width="2.2"/><line x1="122.9" y1="106.6" x2="122.9" y2="138.6" stroke="#40e8b8" stroke-width="1" opacity="0.45"/><line x1="125.0" y1="106.6" x2="125.0" y2="138.6" stroke="#e070a0" stroke-width="1" opacity="0.4"/><line x1="124" y1="106.6" x2="124" y2="138.6" stroke="#7a0a28" stroke-width="1.2"/><line x1="124" y1="112.7" x2="124" y2="137.0" stroke="#7a0a28" stroke-width="2.2"/><line x1="123.9" y1="98.8" x2="123.9" y2="116.9" stroke="#40e8b8" stroke-width="1" opacity="0.45"/><line x1="126.0" y1="98.8" x2="126.0" y2="116.9" stroke="#e070a0" stroke-width="1" opacity="0.4"/><line x1="125" y1="98.8" x2="125" y2="116.9" stroke="#181818" stroke-width="1.2"/><line x1="125" y1="99.6" x2="125" y2="113.7" stroke="#181818" stroke-width="2.2"/><line x1="124.9" y1="57.5" x2="124.9" y2="102.2" stroke="#40e8b8" stroke-width="1" opacity="0.45"/><line x1="127.0" y1="57.5" x2="127.0" y2="102.2" stroke="#e070a0" stroke-width="1" opacity="0.4"/><line x1="126" y1="57.5" x2="126" y2="102.2" stroke="#181818" stroke-width="1.2"/><line x1="126" y1="90.8" x2="126" y2="100.6" stroke="#181818" stroke-width="2.2"/><line x1="125.9" y1="85.2" x2="125.9" y2="112.9" stroke="#40e8b8" stroke-width="1" opacity="0.45"/><line x1="128.0" y1="85.2" x2="128.0" y2="112.9" stroke="#e070a0" stroke-width="1" opacity="0.4"/><line x1="127" y1="85.2" x2="127" y2="112.9" stroke="#7a0a28" stroke-width="1.2"/><line x1="127" y1="90.8" x2="127" y2="108.2" stroke="#7a0a28" stroke-width="2.2"/><line x1="126.9" y1="105.0" x2="126.9" y2="135.3" stroke="#40e8b8" stroke-width="1" opacity="0.45"/><line x1="129.0" y1="105.0" x2="129.0" y2="135.3" stroke="#e070a0" stroke-width="1" opacity="0.4"/><line x1="128" y1="105.0" x2="128" y2="135.3" stroke="#181818" stroke-width="1.2"/><line x1="128" y1="107.2" x2="128" y2="131.1" stroke="#181818" stroke-width="2.2"/><line x1="127.9" y1="129.3" x2="127.9" y2="138.7" stroke="#40e8b8" stroke-width="1" opacity="0.45"/><line x1="130.0" y1="129.3" x2="130.0" y2="138.7" stroke="#e070a0" stroke-width="1" opacity="0.4"/><line x1="129" y1="129.3" x2="129" y2="138.7" stroke="#7a0a28" stroke-width="1.2"/><line x1="129" y1="130.1" x2="129" y2="136.5" stroke="#7a0a28" stroke-width="2.2"/><line x1="128.9" y1="130.7" x2="128.9" y2="149.7" stroke="#40e8b8" stroke-width="1" opacity="0.45"/><line x1="131.0" y1="130.7" x2="131.0" y2="149.7" stroke="#e070a0" stroke-width="1" opacity="0.4"/><line x1="130" y1="130.7" x2="130" y2="149.7" stroke="#7a0a28" stroke-width="1.2"/><line x1="130" y1="135.5" x2="130" y2="144.5" stroke="#7a0a28" stroke-width="2.2"/><line x1="129.9" y1="139.5" x2="129.9" y2="165.0" stroke="#40e8b8" stroke-width="1" opacity="0.45"/><line x1="132.0" y1="139.5" x2="132.0" y2="165.0" stroke="#e070a0" stroke-width="1" opacity="0.4"/><line x1="131" y1="139.5" x2="131" y2="165.0" stroke="#181818" stroke-width="1.2"/><line x1="131" y1="143.5" x2="131" y2="160.7" stroke="#181818" stroke-width="2.2"/><line x1="130.9" y1="157.3" x2="130.9" y2="179.8" stroke="#40e8b8" stroke-width="1" opacity="0.45"/><line x1="133.0" y1="157.3" x2="133.0" y2="179.8" stroke="#e070a0" stroke-width="1" opacity="0.4"/><line x1="132" y1="157.3" x2="132" y2="179.8" stroke="#7a0a28" stroke-width="1.2"/><line x1="132" y1="159.7" x2="132" y2="174.3" stroke="#7a0a28" stroke-width="2.2"/><line x1="131.9" y1="164.9" x2="131.9" y2="174.8" stroke="#40e8b8" stroke-width="1" opacity="0.45"/><line x1="134.0" y1="164.9" x2="134.0" y2="174.8" stroke="#e070a0" stroke-width="1" opacity="0.4"/><line x1="133" y1="164.9" x2="133" y2="174.8" stroke="#181818" stroke-width="1.2"/><line x1="133" y1="168.0" x2="133" y2="174.3" stroke="#181818" stroke-width="2.2"/><line x1="132.9" y1="159.0" x2="132.9" y2="171.7" stroke="#40e8b8" stroke-width="1" opacity="0.45"/><line x1="135.0" y1="159.0" x2="135.0" y2="171.7" stroke="#e070a0" stroke-width="1" opacity="0.4"/><line x1="134" y1="159.0" x2="134" y2="171.7" stroke="#7a0a28" stroke-width="1.2"/><line x1="134" y1="161.5" x2="134" y2="169.0" stroke="#7a0a28" stroke-width="2.2"/><line x1="133.9" y1="159.2" x2="133.9" y2="162.6" stroke="#40e8b8" stroke-width="1" opacity="0.45"/><line x1="136.0" y1="159.2" x2="136.0" y2="162.6" stroke="#e070a0" stroke-width="1" opacity="0.4"/><line x1="135" y1="159.2" x2="135" y2="162.6" stroke="#181818" stroke-width="1.2"/><line x1="135" y1="160.1" x2="135" y2="162.5" stroke="#181818" stroke-width="2.2"/><line x1="134.9" y1="148.8" x2="134.9" y2="164.2" stroke="#40e8b8" stroke-width="1" opacity="0.45"/><line x1="137.0" y1="148.8" x2="137.0" y2="164.2" stroke="#e070a0" stroke-width="1" opacity="0.4"/><line x1="136" y1="148.8" x2="136" y2="164.2" stroke="#181818" stroke-width="1.2"/><line x1="136" y1="151.3" x2="136" y2="161.1" stroke="#181818" stroke-width="2.2"/><line x1="135.9" y1="116.0" x2="135.9" y2="157.2" stroke="#40e8b8" stroke-width="1" opacity="0.45"/><line x1="138.0" y1="116.0" x2="138.0" y2="157.2" stroke="#e070a0" stroke-width="1" opacity="0.4"/><line x1="137" y1="116.0" x2="137" y2="157.2" stroke="#181818" stroke-width="1.2"/><line x1="137" y1="142.4" x2="137" y2="152.3" stroke="#181818" stroke-width="2.2"/><line x1="136.9" y1="141.2" x2="136.9" y2="153.1" stroke="#40e8b8" stroke-width="1" opacity="0.45"/><line x1="139.0" y1="141.2" x2="139.0" y2="153.1" stroke="#e070a0" stroke-width="1" opacity="0.4"/><line x1="138" y1="141.2" x2="138" y2="153.1" stroke="#7a0a28" stroke-width="1.2"/><line x1="138" y1="142.4" x2="138" y2="152.3" stroke="#7a0a28" stroke-width="2.2"/><line x1="137.9" y1="146.2" x2="137.9" y2="166.9" stroke="#40e8b8" stroke-width="1" opacity="0.45"/><line x1="140.0" y1="146.2" x2="140.0" y2="166.9" stroke="#e070a0" stroke-width="1" opacity="0.4"/><line x1="139" y1="146.2" x2="139" y2="166.9" stroke="#181818" stroke-width="1.2"/><line x1="139" y1="151.3" x2="139" y2="164.7" stroke="#181818" stroke-width="2.2"/><line x1="138.9" y1="162.1" x2="138.9" y2="184.9" stroke="#40e8b8" stroke-width="1" opacity="0.45"/><line x1="141.0" y1="162.1" x2="141.0" y2="184.9" stroke="#e070a0" stroke-width="1" opacity="0.4"/><line x1="140" y1="162.1" x2="140" y2="184.9" stroke="#181818" stroke-width="1.2"/><line x1="140" y1="163.7" x2="140" y2="179.3" stroke="#181818" stroke-width="2.2"/><line x1="139.9" y1="169.5" x2="139.9" y2="223.4" stroke="#40e8b8" stroke-width="1" opacity="0.45"/><line x1="142.0" y1="169.5" x2="142.0" y2="223.4" stroke="#e070a0" stroke-width="1" opacity="0.4"/><line x1="141" y1="169.5" x2="141" y2="223.4" stroke="#7a0a28" stroke-width="1.2"/><line x1="141" y1="178.3" x2="141" y2="214.4" stroke="#7a0a28" stroke-width="2.2"/><line x1="140.9" y1="208.7" x2="140.9" y2="224.9" stroke="#40e8b8" stroke-width="1" opacity="0.45"/><line x1="143.0" y1="208.7" x2="143.0" y2="224.9" stroke="#e070a0" stroke-width="1" opacity="0.4"/><line x1="142" y1="208.7" x2="142" y2="224.9" stroke="#7a0a28" stroke-width="1.2"/><line x1="142" y1="213.4" x2="142" y2="220.5" stroke="#7a0a28" stroke-width="2.2"/><line x1="141.9" y1="216.3" x2="141.9" y2="233.0" stroke="#40e8b8" stroke-width="1" opacity="0.45"/><line x1="144.0" y1="216.3" x2="144.0" y2="233.0" stroke="#e070a0" stroke-width="1" opacity="0.4"/><line x1="143" y1="216.3" x2="143" y2="233.0" stroke="#7a0a28" stroke-width="1.2"/><line x1="143" y1="219.5" x2="143" y2="231.7" stroke="#7a0a28" stroke-width="2.2"/><line x1="142.9" y1="230.1" x2="142.9" y2="238.4" stroke="#40e8b8" stroke-width="1" opacity="0.45"/><line x1="145.0" y1="230.1" x2="145.0" y2="238.4" stroke="#e070a0" stroke-width="1" opacity="0.4"/><line x1="144" y1="230.1" x2="144" y2="238.4" stroke="#7a0a28" stroke-width="1.2"/><line x1="144" y1="230.7" x2="144" y2="237.9" stroke="#7a0a28" stroke-width="2.2"/><line x1="143.9" y1="232.5" x2="143.9" y2="260.3" stroke="#40e8b8" stroke-width="1" opacity="0.45"/><line x1="146.0" y1="232.5" x2="146.0" y2="260.3" stroke="#e070a0" stroke-width="1" opacity="0.4"/><line x1="145" y1="232.5" x2="145" y2="260.3" stroke="#181818" stroke-width="1.2"/><line x1="145" y1="236.9" x2="145" y2="256.6" stroke="#181818" stroke-width="2.2"/><line x1="144.9" y1="252.7" x2="144.9" y2="277.9" stroke="#40e8b8" stroke-width="1" opacity="0.45"/><line x1="147.0" y1="252.7" x2="147.0" y2="277.9" stroke="#e070a0" stroke-width="1" opacity="0.4"/><line x1="146" y1="252.7" x2="146" y2="277.9" stroke="#7a0a28" stroke-width="1.2"/><line x1="146" y1="255.6" x2="146" y2="273.5" stroke="#7a0a28" stroke-width="2.2"/><line x1="145.9" y1="269.4" x2="145.9" y2="285.1" stroke="#40e8b8" stroke-width="1" opacity="0.45"/><line x1="148.0" y1="269.4" x2="148.0" y2="285.1" stroke="#e070a0" stroke-width="1" opacity="0.4"/><line x1="147" y1="269.4" x2="147" y2="285.1" stroke="#7a0a28" stroke-width="1.2"/><line x1="147" y1="272.5" x2="147" y2="282.5" stroke="#7a0a28" stroke-width="2.2"/><line x1="146.9" y1="279.9" x2="146.9" y2="288.2" stroke="#40e8b8" stroke-width="1" opacity="0.45"/><line x1="149.0" y1="279.9" x2="149.0" y2="288.2" stroke="#e070a0" stroke-width="1" opacity="0.4"/><line x1="148" y1="279.9" x2="148" y2="288.2" stroke="#7a0a28" stroke-width="1.2"/><line x1="148" y1="281.5" x2="148" y2="286.4" stroke="#7a0a28" stroke-width="2.2"/><line x1="147.9" y1="284.6" x2="147.9" y2="298.3" stroke="#40e8b8" stroke-width="1" opacity="0.45"/><line x1="150.0" y1="284.6" x2="150.0" y2="298.3" stroke="#e070a0" stroke-width="1" opacity="0.4"/><line x1="149" y1="284.6" x2="149" y2="298.3" stroke="#7a0a28" stroke-width="1.2"/><line x1="149" y1="285.4" x2="149" y2="296.0" stroke="#7a0a28" stroke-width="2.2"/><line x1="148.9" y1="293.9" x2="148.9" y2="304.5" stroke="#40e8b8" stroke-width="1" opacity="0.45"/><line x1="151.0" y1="293.9" x2="151.0" y2="304.5" stroke="#e070a0" stroke-width="1" opacity="0.4"/><line x1="150" y1="293.9" x2="150" y2="304.5" stroke="#7a0a28" stroke-width="1.2"/><line x1="150" y1="295.0" x2="150" y2="303.3" stroke="#7a0a28" stroke-width="2.2"/><line x1="149.9" y1="301.3" x2="149.9" y2="303.5" stroke="#40e8b8" stroke-width="1" opacity="0.45"/><line x1="152.0" y1="301.3" x2="152.0" y2="303.5" stroke="#e070a0" stroke-width="1" opacity="0.4"/><line x1="151" y1="301.3" x2="151" y2="303.5" stroke="#7a0a28" stroke-width="1.2"/><line x1="151" y1="301.7" x2="151" y2="303.3" stroke="#7a0a28" stroke-width="2.2"/><line x1="150.9" y1="300.5" x2="150.9" y2="307.3" stroke="#40e8b8" stroke-width="1" opacity="0.45"/><line x1="153.0" y1="300.5" x2="153.0" y2="307.3" stroke="#e070a0" stroke-width="1" opacity="0.4"/><line x1="152" y1="300.5" x2="152" y2="307.3" stroke="#7a0a28" stroke-width="1.2"/><line x1="152" y1="301.7" x2="152" y2="307.1" stroke="#7a0a28" stroke-width="2.2"/><line x1="151.9" y1="304.8" x2="151.9" y2="312.0" stroke="#40e8b8" stroke-width="1" opacity="0.45"/><line x1="154.0" y1="304.8" x2="154.0" y2="312.0" stroke="#e070a0" stroke-width="1" opacity="0.4"/><line x1="153" y1="304.8" x2="153" y2="312.0" stroke="#7a0a28" stroke-width="1.2"/><line x1="153" y1="306.1" x2="153" y2="309.8" stroke="#7a0a28" stroke-width="2.2"/><line x1="152.9" y1="307.3" x2="152.9" y2="315.5" stroke="#40e8b8" stroke-width="1" opacity="0.45"/><line x1="155.0" y1="307.3" x2="155.0" y2="315.5" stroke="#e070a0" stroke-width="1" opacity="0.4"/><line x1="154" y1="307.3" x2="154" y2="315.5" stroke="#181818" stroke-width="1.2"/><line x1="154" y1="308.8" x2="154" y2="315.1" stroke="#181818" stroke-width="2.2"/><line x1="153.9" y1="313.2" x2="153.9" y2="331.1" stroke="#40e8b8" stroke-width="1" opacity="0.45"/><line x1="156.0" y1="313.2" x2="156.0" y2="331.1" stroke="#e070a0" stroke-width="1" opacity="0.4"/><line x1="155" y1="313.2" x2="155" y2="331.1" stroke="#7a0a28" stroke-width="1.2"/><line x1="155" y1="314.1" x2="155" y2="328.6" stroke="#7a0a28" stroke-width="2.2"/><line x1="154.9" y1="325.9" x2="154.9" y2="335.4" stroke="#40e8b8" stroke-width="1" opacity="0.45"/><line x1="157.0" y1="325.9" x2="157.0" y2="335.4" stroke="#e070a0" stroke-width="1" opacity="0.4"/><line x1="156" y1="325.9" x2="156" y2="335.4" stroke="#7a0a28" stroke-width="1.2"/><line x1="156" y1="327.6" x2="156" y2="334.5" stroke="#7a0a28" stroke-width="2.2"/><line x1="155.9" y1="331.6" x2="155.9" y2="346.4" stroke="#40e8b8" stroke-width="1" opacity="0.45"/><line x1="158.0" y1="331.6" x2="158.0" y2="346.4" stroke="#e070a0" stroke-width="1" opacity="0.4"/><line x1="157" y1="331.6" x2="157" y2="346.4" stroke="#7a0a28" stroke-width="1.2"/><line x1="157" y1="333.5" x2="157" y2="342.2" stroke="#7a0a28" stroke-width="2.2"/><line x1="156.9" y1="339.5" x2="156.9" y2="345.9" stroke="#40e8b8" stroke-width="1" opacity="0.45"/><line x1="159.0" y1="339.5" x2="159.0" y2="345.9" stroke="#e070a0" stroke-width="1" opacity="0.4"/><line x1="158" y1="339.5" x2="158" y2="345.9" stroke="#7a0a28" stroke-width="1.2"/><line x1="158" y1="341.2" x2="158" y2="344.3" stroke="#7a0a28" stroke-width="2.2"/><line x1="157.9" y1="339.5" x2="157.9" y2="356.1" stroke="#40e8b8" stroke-width="1" opacity="0.45"/><line x1="160.0" y1="339.5" x2="160.0" y2="356.1" stroke="#e070a0" stroke-width="1" opacity="0.4"/><line x1="159" y1="339.5" x2="159" y2="356.1" stroke="#7a0a28" stroke-width="1.2"/><line x1="159" y1="343.3" x2="159" y2="353.6" stroke="#7a0a28" stroke-width="2.2"/><line x1="158.9" y1="347.4" x2="158.9" y2="366.7" stroke="#40e8b8" stroke-width="1" opacity="0.45"/><line x1="161.0" y1="347.4" x2="161.0" y2="366.7" stroke="#e070a0" stroke-width="1" opacity="0.4"/><line x1="160" y1="347.4" x2="160" y2="366.7" stroke="#7a0a28" stroke-width="1.2"/><line x1="160" y1="352.6" x2="160" y2="363.3" stroke="#7a0a28" stroke-width="2.2"/><line x1="159.9" y1="362.1" x2="159.9" y2="368.6" stroke="#40e8b8" stroke-width="1" opacity="0.45"/><line x1="162.0" y1="362.1" x2="162.0" y2="368.6" stroke="#e070a0" stroke-width="1" opacity="0.4"/><line x1="161" y1="362.1" x2="161" y2="368.6" stroke="#7a0a28" stroke-width="1.2"/><line x1="161" y1="362.3" x2="161" y2="368.2" stroke="#7a0a28" stroke-width="2.2"/><line x1="160.9" y1="365.4" x2="160.9" y2="378.5" stroke="#40e8b8" stroke-width="1" opacity="0.45"/><line x1="163.0" y1="365.4" x2="163.0" y2="378.5" stroke="#e070a0" stroke-width="1" opacity="0.4"/><line x1="162" y1="365.4" x2="162" y2="378.5" stroke="#7a0a28" stroke-width="1.2"/><line x1="162" y1="367.2" x2="162" y2="376.0" stroke="#7a0a28" stroke-width="2.2"/><line x1="161.9" y1="372.3" x2="161.9" y2="383.5" stroke="#40e8b8" stroke-width="1" opacity="0.45"/><line x1="164.0" y1="372.3" x2="164.0" y2="383.5" stroke="#e070a0" stroke-width="1" opacity="0.4"/><line x1="163" y1="372.3" x2="163" y2="383.5" stroke="#181818" stroke-width="1.2"/><line x1="163" y1="375.0" x2="163" y2="379.4" stroke="#181818" stroke-width="2.2"/><line x1="162.9" y1="377.3" x2="162.9" y2="392.4" stroke="#40e8b8" stroke-width="1" opacity="0.45"/><line x1="165.0" y1="377.3" x2="165.0" y2="392.4" stroke="#e070a0" stroke-width="1" opacity="0.4"/><line x1="164" y1="377.3" x2="164" y2="392.4" stroke="#181818" stroke-width="1.2"/><line x1="164" y1="378.4" x2="164" y2="389.9" stroke="#181818" stroke-width="2.2"/><line x1="163.9" y1="387.5" x2="163.9" y2="402.1" stroke="#40e8b8" stroke-width="1" opacity="0.45"/><line x1="166.0" y1="387.5" x2="166.0" y2="402.1" stroke="#e070a0" stroke-width="1" opacity="0.4"/><line x1="165" y1="387.5" x2="165" y2="402.1" stroke="#181818" stroke-width="1.2"/><line x1="165" y1="388.9" x2="165" y2="399.6" stroke="#181818" stroke-width="2.2"/><line x1="164.9" y1="397.7" x2="164.9" y2="405.7" stroke="#40e8b8" stroke-width="1" opacity="0.45"/><line x1="167.0" y1="397.7" x2="167.0" y2="405.7" stroke="#e070a0" stroke-width="1" opacity="0.4"/><line x1="166" y1="397.7" x2="166" y2="405.7" stroke="#181818" stroke-width="1.2"/><line x1="166" y1="398.6" x2="166" y2="404.8" stroke="#181818" stroke-width="2.2"/><line x1="165.9" y1="402.3" x2="165.9" y2="415.4" stroke="#40e8b8" stroke-width="1" opacity="0.45"/><line x1="168.0" y1="402.3" x2="168.0" y2="415.4" stroke="#e070a0" stroke-width="1" opacity="0.4"/><line x1="167" y1="402.3" x2="167" y2="415.4" stroke="#181818" stroke-width="1.2"/><line x1="167" y1="403.8" x2="167" y2="411.1" stroke="#181818" stroke-width="2.2"/><line x1="166.9" y1="407.7" x2="166.9" y2="416.3" stroke="#40e8b8" stroke-width="1" opacity="0.45"/><line x1="169.0" y1="407.7" x2="169.0" y2="416.3" stroke="#e070a0" stroke-width="1" opacity="0.4"/><line x1="168" y1="407.7" x2="168" y2="416.3" stroke="#7a0a28" stroke-width="1.2"/><line x1="168" y1="410.1" x2="168" y2="412.4" stroke="#7a0a28" stroke-width="2.2"/><line x1="167.9" y1="409.9" x2="167.9" y2="427.8" stroke="#40e8b8" stroke-width="1" opacity="0.45"/><line x1="170.0" y1="409.9" x2="170.0" y2="427.8" stroke="#e070a0" stroke-width="1" opacity="0.4"/><line x1="169" y1="409.9" x2="169" y2="427.8" stroke="#7a0a28" stroke-width="1.2"/><line x1="169" y1="411.4" x2="169" y2="423.9" stroke="#7a0a28" stroke-width="2.2"/><line x1="168.9" y1="422.5" x2="168.9" y2="426.9" stroke="#40e8b8" stroke-width="1" opacity="0.45"/><line x1="171.0" y1="422.5" x2="171.0" y2="426.9" stroke="#e070a0" stroke-width="1" opacity="0.4"/><line x1="170" y1="422.5" x2="170" y2="426.9" stroke="#181818" stroke-width="1.2"/><line x1="170" y1="422.9" x2="170" y2="425.3" stroke="#181818" stroke-width="2.2"/><line x1="169.9" y1="421.9" x2="169.9" y2="437.1" stroke="#40e8b8" stroke-width="1" opacity="0.45"/><line x1="172.0" y1="421.9" x2="172.0" y2="437.1" stroke="#e070a0" stroke-width="1" opacity="0.4"/><line x1="171" y1="421.9" x2="171" y2="437.1" stroke="#7a0a28" stroke-width="1.2"/><line x1="171" y1="424.3" x2="171" y2="434.2" stroke="#7a0a28" stroke-width="2.2"/><line x1="170.9" y1="432.8" x2="170.9" y2="437.2" stroke="#40e8b8" stroke-width="1" opacity="0.45"/><line x1="173.0" y1="432.8" x2="173.0" y2="437.2" stroke="#e070a0" stroke-width="1" opacity="0.4"/><line x1="172" y1="432.8" x2="172" y2="437.2" stroke="#181818" stroke-width="1.2"/><line x1="172" y1="433.2" x2="172" y2="435.3" stroke="#181818" stroke-width="2.2"/><line x1="171.9" y1="433.4" x2="171.9" y2="442.5" stroke="#40e8b8" stroke-width="1" opacity="0.45"/><line x1="174.0" y1="433.4" x2="174.0" y2="442.5" stroke="#e070a0" stroke-width="1" opacity="0.4"/><line x1="173" y1="433.4" x2="173" y2="442.5" stroke="#181818" stroke-width="1.2"/><line x1="173" y1="434.3" x2="173" y2="441.1" stroke="#181818" stroke-width="2.2"/><line x1="172.9" y1="436.1" x2="172.9" y2="451.3" stroke="#40e8b8" stroke-width="1" opacity="0.45"/><line x1="175.0" y1="436.1" x2="175.0" y2="451.3" stroke="#e070a0" stroke-width="1" opacity="0.4"/><line x1="174" y1="436.1" x2="174" y2="451.3" stroke="#7a0a28" stroke-width="1.2"/><line x1="174" y1="440.1" x2="174" y2="447.4" stroke="#7a0a28" stroke-width="2.2"/><line x1="173.9" y1="441.6" x2="173.9" y2="460.5" stroke="#40e8b8" stroke-width="1" opacity="0.45"/><line x1="176.0" y1="441.6" x2="176.0" y2="460.5" stroke="#e070a0" stroke-width="1" opacity="0.4"/><line x1="175" y1="441.6" x2="175" y2="460.5" stroke="#7a0a28" stroke-width="1.2"/><line x1="175" y1="446.4" x2="175" y2="457.9" stroke="#7a0a28" stroke-width="2.2"/><line x1="174.9" y1="456.1" x2="174.9" y2="481.0" stroke="#40e8b8" stroke-width="1" opacity="0.45"/><line x1="177.0" y1="456.1" x2="177.0" y2="481.0" stroke="#e070a0" stroke-width="1" opacity="0.4"/><line x1="176" y1="456.1" x2="176" y2="481.0" stroke="#7a0a28" stroke-width="1.2"/><line x1="176" y1="456.9" x2="176" y2="461.7" stroke="#7a0a28" stroke-width="2.2"/><line x1="175.9" y1="460.0" x2="175.9" y2="465.4" stroke="#40e8b8" stroke-width="1" opacity="0.45"/><line x1="178.0" y1="460.0" x2="178.0" y2="465.4" stroke="#e070a0" stroke-width="1" opacity="0.4"/><line x1="177" y1="460.0" x2="177" y2="465.4" stroke="#181818" stroke-width="1.2"/><line x1="177" y1="460.7" x2="177" y2="464.9" stroke="#181818" stroke-width="2.2"/><line x1="176.9" y1="458.4" x2="176.9" y2="465.4" stroke="#40e8b8" stroke-width="1" opacity="0.45"/><line x1="179.0" y1="458.4" x2="179.0" y2="465.4" stroke="#e070a0" stroke-width="1" opacity="0.4"/><line x1="178" y1="458.4" x2="178" y2="465.4" stroke="#181818" stroke-width="1.2"/><line x1="178" y1="458.7" x2="178" y2="464.9" stroke="#181818" stroke-width="2.2"/><line x1="177.9" y1="458.5" x2="177.9" y2="460.7" stroke="#40e8b8" stroke-width="1" opacity="0.45"/><line x1="180.0" y1="458.5" x2="180.0" y2="460.7" stroke="#e070a0" stroke-width="1" opacity="0.4"/><line x1="179" y1="458.5" x2="179" y2="460.7" stroke="#181818" stroke-width="1.2"/><line x1="179" y1="458.7" x2="179" y2="459.8" stroke="#181818" stroke-width="2.2"/><line x1="178.9" y1="451.2" x2="178.9" y2="461.2" stroke="#40e8b8" stroke-width="1" opacity="0.45"/><line x1="181.0" y1="451.2" x2="181.0" y2="461.2" stroke="#e070a0" stroke-width="1" opacity="0.4"/><line x1="180" y1="451.2" x2="180" y2="461.2" stroke="#181818" stroke-width="1.2"/><line x1="180" y1="452.9" x2="180" y2="459.8" stroke="#181818" stroke-width="2.2"/><line x1="179.9" y1="449.9" x2="179.9" y2="459.6" stroke="#40e8b8" stroke-width="1" opacity="0.45"/><line x1="182.0" y1="449.9" x2="182.0" y2="459.6" stroke="#e070a0" stroke-width="1" opacity="0.4"/><line x1="181" y1="449.9" x2="181" y2="459.6" stroke="#7a0a28" stroke-width="1.2"/><line x1="181" y1="452.9" x2="181" y2="457.4" stroke="#7a0a28" stroke-width="2.2"/><line x1="180.9" y1="449.9" x2="180.9" y2="459.8" stroke="#40e8b8" stroke-width="1" opacity="0.45"/><line x1="183.0" y1="449.9" x2="183.0" y2="459.8" stroke="#e070a0" stroke-width="1" opacity="0.4"/><line x1="182" y1="449.9" x2="182" y2="459.8" stroke="#7a0a28" stroke-width="1.2"/><line x1="182" y1="450.3" x2="182" y2="457.4" stroke="#7a0a28" stroke-width="2.2"/><line x1="181.9" y1="448.1" x2="181.9" y2="457.8" stroke="#40e8b8" stroke-width="1" opacity="0.45"/><line x1="184.0" y1="448.1" x2="184.0" y2="457.8" stroke="#e070a0" stroke-width="1" opacity="0.4"/><line x1="183" y1="448.1" x2="183" y2="457.8" stroke="#181818" stroke-width="1.2"/><line x1="183" y1="450.3" x2="183" y2="457.3" stroke="#181818" stroke-width="2.2"/><line x1="182.9" y1="455.3" x2="182.9" y2="462.2" stroke="#40e8b8" stroke-width="1" opacity="0.45"/><line x1="185.0" y1="455.3" x2="185.0" y2="462.2" stroke="#e070a0" stroke-width="1" opacity="0.4"/><line x1="184" y1="455.3" x2="184" y2="462.2" stroke="#181818" stroke-width="1.2"/><line x1="184" y1="456.3" x2="184" y2="461.7" stroke="#181818" stroke-width="2.2"/><line x1="183.9" y1="455.4" x2="183.9" y2="464.6" stroke="#40e8b8" stroke-width="1" opacity="0.45"/><line x1="186.0" y1="455.4" x2="186.0" y2="464.6" stroke="#e070a0" stroke-width="1" opacity="0.4"/><line x1="185" y1="455.4" x2="185" y2="464.6" stroke="#181818" stroke-width="1.2"/><line x1="185" y1="457.8" x2="185" y2="461.7" stroke="#181818" stroke-width="2.2"/><line x1="184.9" y1="453.0" x2="184.9" y2="460.2" stroke="#40e8b8" stroke-width="1" opacity="0.45"/><line x1="187.0" y1="453.0" x2="187.0" y2="460.2" stroke="#e070a0" stroke-width="1" opacity="0.4"/><line x1="186" y1="453.0" x2="186" y2="460.2" stroke="#7a0a28" stroke-width="1.2"/><line x1="186" y1="454.8" x2="186" y2="458.8" stroke="#7a0a28" stroke-width="2.2"/><line x1="185.9" y1="452.0" x2="185.9" y2="459.0" stroke="#40e8b8" stroke-width="1" opacity="0.45"/><line x1="188.0" y1="452.0" x2="188.0" y2="459.0" stroke="#e070a0" stroke-width="1" opacity="0.4"/><line x1="187" y1="452.0" x2="187" y2="459.0" stroke="#7a0a28" stroke-width="1.2"/><line x1="187" y1="454.4" x2="187" y2="455.8" stroke="#7a0a28" stroke-width="2.2"/><line x1="186.9" y1="453.0" x2="186.9" y2="457.5" stroke="#40e8b8" stroke-width="1" opacity="0.45"/><line x1="189.0" y1="453.0" x2="189.0" y2="457.5" stroke="#e070a0" stroke-width="1" opacity="0.4"/><line x1="188" y1="453.0" x2="188" y2="457.5" stroke="#7a0a28" stroke-width="1.2"/><line x1="188" y1="454.4" x2="188" y2="455.4" stroke="#7a0a28" stroke-width="2.2"/><line x1="187.9" y1="440.6" x2="187.9" y2="456.2" stroke="#40e8b8" stroke-width="1" opacity="0.45"/><line x1="190.0" y1="440.6" x2="190.0" y2="456.2" stroke="#e070a0" stroke-width="1" opacity="0.4"/><line x1="189" y1="440.6" x2="189" y2="456.2" stroke="#181818" stroke-width="1.2"/><line x1="189" y1="443.0" x2="189" y2="455.4" stroke="#181818" stroke-width="2.2"/><line x1="188.9" y1="415.0" x2="188.9" y2="447.3" stroke="#40e8b8" stroke-width="1" opacity="0.45"/><line x1="191.0" y1="415.0" x2="191.0" y2="447.3" stroke="#e070a0" stroke-width="1" opacity="0.4"/><line x1="190" y1="415.0" x2="190" y2="447.3" stroke="#181818" stroke-width="1.2"/><line x1="190" y1="436.6" x2="190" y2="444.0" stroke="#181818" stroke-width="2.2"/><line x1="189.9" y1="428.1" x2="189.9" y2="440.7" stroke="#40e8b8" stroke-width="1" opacity="0.45"/><line x1="192.0" y1="428.1" x2="192.0" y2="440.7" stroke="#e070a0" stroke-width="1" opacity="0.4"/><line x1="191" y1="428.1" x2="191" y2="440.7" stroke="#7a0a28" stroke-width="1.2"/><line x1="191" y1="429.4" x2="191" y2="437.6" stroke="#7a0a28" stroke-width="2.2"/><line x1="190.9" y1="429.1" x2="190.9" y2="431.4" stroke="#40e8b8" stroke-width="1" opacity="0.45"/><line x1="193.0" y1="429.1" x2="193.0" y2="431.4" stroke="#e070a0" stroke-width="1" opacity="0.4"/><line x1="192" y1="429.1" x2="192" y2="431.4" stroke="#7a0a28" stroke-width="1.2"/><line x1="192" y1="429.4" x2="192" y2="430.8" stroke="#7a0a28" stroke-width="2.2"/><line x1="191.9" y1="424.9" x2="191.9" y2="434.8" stroke="#40e8b8" stroke-width="1" opacity="0.45"/><line x1="194.0" y1="424.9" x2="194.0" y2="434.8" stroke="#e070a0" stroke-width="1" opacity="0.4"/><line x1="193" y1="424.9" x2="193" y2="434.8" stroke="#181818" stroke-width="1.2"/><line x1="193" y1="428.3" x2="193" y2="430.8" stroke="#181818" stroke-width="2.2"/><line x1="192.9" y1="423.2" x2="192.9" y2="431.3" stroke="#40e8b8" stroke-width="1" opacity="0.45"/><line x1="195.0" y1="423.2" x2="195.0" y2="431.3" stroke="#e070a0" stroke-width="1" opacity="0.4"/><line x1="194" y1="423.2" x2="194" y2="431.3" stroke="#7a0a28" stroke-width="1.2"/><line x1="194" y1="426.4" x2="194" y2="429.3" stroke="#7a0a28" stroke-width="2.2"/><line x1="193.9" y1="418.5" x2="193.9" y2="432.1" stroke="#40e8b8" stroke-width="1" opacity="0.45"/><line x1="196.0" y1="418.5" x2="196.0" y2="432.1" stroke="#e070a0" stroke-width="1" opacity="0.4"/><line x1="195" y1="418.5" x2="195" y2="432.1" stroke="#7a0a28" stroke-width="1.2"/><line x1="195" y1="423.0" x2="195" y2="427.4" stroke="#7a0a28" stroke-width="2.2"/><line x1="194.9" y1="415.5" x2="194.9" y2="428.7" stroke="#40e8b8" stroke-width="1" opacity="0.45"/><line x1="197.0" y1="415.5" x2="197.0" y2="428.7" stroke="#e070a0" stroke-width="1" opacity="0.4"/><line x1="196" y1="415.5" x2="196" y2="428.7" stroke="#181818" stroke-width="1.2"/><line x1="196" y1="417.8" x2="196" y2="424.0" stroke="#181818" stroke-width="2.2"/><line x1="195.9" y1="415.8" x2="195.9" y2="419.8" stroke="#40e8b8" stroke-width="1" opacity="0.45"/><line x1="198.0" y1="415.8" x2="198.0" y2="419.8" stroke="#e070a0" stroke-width="1" opacity="0.4"/><line x1="197" y1="415.8" x2="197" y2="419.8" stroke="#7a0a28" stroke-width="1.2"/><line x1="197" y1="417.8" x2="197" y2="419.4" stroke="#7a0a28" stroke-width="2.2"/><line x1="196.9" y1="408.7" x2="196.9" y2="422.4" stroke="#40e8b8" stroke-width="1" opacity="0.45"/><line x1="199.0" y1="408.7" x2="199.0" y2="422.4" stroke="#e070a0" stroke-width="1" opacity="0.4"/><line x1="198" y1="408.7" x2="198" y2="422.4" stroke="#181818" stroke-width="1.2"/><line x1="198" y1="410.6" x2="198" y2="419.4" stroke="#181818" stroke-width="2.2"/><line x1="197.9" y1="407.3" x2="197.9" y2="411.9" stroke="#40e8b8" stroke-width="1" opacity="0.45"/><line x1="200.0" y1="407.3" x2="200.0" y2="411.9" stroke="#e070a0" stroke-width="1" opacity="0.4"/><line x1="199" y1="407.3" x2="199" y2="411.9" stroke="#7a0a28" stroke-width="1.2"/><line x1="199" y1="408.4" x2="199" y2="411.6" stroke="#7a0a28" stroke-width="2.2"/><line x1="198.9" y1="406.6" x2="198.9" y2="411.0" stroke="#40e8b8" stroke-width="1" opacity="0.45"/><line x1="201.0" y1="406.6" x2="201.0" y2="411.0" stroke="#e070a0" stroke-width="1" opacity="0.4"/><line x1="200" y1="406.6" x2="200" y2="411.0" stroke="#7a0a28" stroke-width="1.2"/><line x1="200" y1="408.2" x2="200" y2="409.4" stroke="#7a0a28" stroke-width="2.2"/><line x1="199.9" y1="403.6" x2="199.9" y2="410.0" stroke="#40e8b8" stroke-width="1" opacity="0.45"/><line x1="202.0" y1="403.6" x2="202.0" y2="410.0" stroke="#e070a0" stroke-width="1" opacity="0.4"/><line x1="201" y1="403.6" x2="201" y2="410.0" stroke="#7a0a28" stroke-width="1.2"/><line x1="201" y1="404.2" x2="201" y2="409.2" stroke="#7a0a28" stroke-width="2.2"/><line x1="200.9" y1="387.0" x2="200.9" y2="408.4" stroke="#40e8b8" stroke-width="1" opacity="0.45"/><line x1="203.0" y1="387.0" x2="203.0" y2="408.4" stroke="#e070a0" stroke-width="1" opacity="0.4"/><line x1="202" y1="387.0" x2="202" y2="408.4" stroke="#181818" stroke-width="1.2"/><line x1="202" y1="390.4" x2="202" y2="405.2" stroke="#181818" stroke-width="2.2"/><line x1="201.9" y1="385.1" x2="201.9" y2="393.4" stroke="#40e8b8" stroke-width="1" opacity="0.45"/><line x1="204.0" y1="385.1" x2="204.0" y2="393.4" stroke="#e070a0" stroke-width="1" opacity="0.4"/><line x1="203" y1="385.1" x2="203" y2="393.4" stroke="#7a0a28" stroke-width="1.2"/><line x1="203" y1="389.2" x2="203" y2="391.4" stroke="#7a0a28" stroke-width="2.2"/><line x1="202.9" y1="388.0" x2="202.9" y2="391.3" stroke="#40e8b8" stroke-width="1" opacity="0.45"/><line x1="205.0" y1="388.0" x2="205.0" y2="391.3" stroke="#e070a0" stroke-width="1" opacity="0.4"/><line x1="204" y1="388.0" x2="204" y2="391.3" stroke="#181818" stroke-width="1.2"/><line x1="204" y1="389.0" x2="204" y2="390.2" stroke="#181818" stroke-width="2.2"/><line x1="203.9" y1="372.9" x2="203.9" y2="391.7" stroke="#40e8b8" stroke-width="1" opacity="0.45"/><line x1="206.0" y1="372.9" x2="206.0" y2="391.7" stroke="#e070a0" stroke-width="1" opacity="0.4"/><line x1="205" y1="372.9" x2="205" y2="391.7" stroke="#7a0a28" stroke-width="1.2"/><line x1="205" y1="376.9" x2="205" y2="390.0" stroke="#7a0a28" stroke-width="2.2"/><line x1="204.9" y1="369.1" x2="204.9" y2="379.8" stroke="#40e8b8" stroke-width="1" opacity="0.45"/><line x1="207.0" y1="369.1" x2="207.0" y2="379.8" stroke="#e070a0" stroke-width="1" opacity="0.4"/><line x1="206" y1="369.1" x2="206" y2="379.8" stroke="#7a0a28" stroke-width="1.2"/><line x1="206" y1="373.1" x2="206" y2="377.9" stroke="#7a0a28" stroke-width="2.2"/><line x1="205.9" y1="366.3" x2="205.9" y2="375.3" stroke="#40e8b8" stroke-width="1" opacity="0.45"/><line x1="208.0" y1="366.3" x2="208.0" y2="375.3" stroke="#e070a0" stroke-width="1" opacity="0.4"/><line x1="207" y1="366.3" x2="207" y2="375.3" stroke="#181818" stroke-width="1.2"/><line x1="207" y1="366.9" x2="207" y2="374.1" stroke="#181818" stroke-width="2.2"/><line x1="206.9" y1="360.7" x2="206.9" y2="368.5" stroke="#40e8b8" stroke-width="1" opacity="0.45"/><line x1="209.0" y1="360.7" x2="209.0" y2="368.5" stroke="#e070a0" stroke-width="1" opacity="0.4"/><line x1="208" y1="360.7" x2="208" y2="368.5" stroke="#7a0a28" stroke-width="1.2"/><line x1="208" y1="361.6" x2="208" y2="367.9" stroke="#7a0a28" stroke-width="2.2"/><line x1="207.9" y1="354.8" x2="207.9" y2="367.1" stroke="#40e8b8" stroke-width="1" opacity="0.45"/><line x1="210.0" y1="354.8" x2="210.0" y2="367.1" stroke="#e070a0" stroke-width="1" opacity="0.4"/><line x1="209" y1="354.8" x2="209" y2="367.1" stroke="#181818" stroke-width="1.2"/><line x1="209" y1="357.2" x2="209" y2="362.6" stroke="#181818" stroke-width="2.2"/><line x1="208.9" y1="355.5" x2="208.9" y2="359.5" stroke="#40e8b8" stroke-width="1" opacity="0.45"/><line x1="211.0" y1="355.5" x2="211.0" y2="359.5" stroke="#e070a0" stroke-width="1" opacity="0.4"/><line x1="210" y1="355.5" x2="210" y2="359.5" stroke="#7a0a28" stroke-width="1.2"/><line x1="210" y1="356.1" x2="210" y2="358.2" stroke="#7a0a28" stroke-width="2.2"/><line x1="209.9" y1="351.4" x2="209.9" y2="357.5" stroke="#40e8b8" stroke-width="1" opacity="0.45"/><line x1="212.0" y1="351.4" x2="212.0" y2="357.5" stroke="#e070a0" stroke-width="1" opacity="0.4"/><line x1="211" y1="351.4" x2="211" y2="357.5" stroke="#181818" stroke-width="1.2"/><line x1="211" y1="352.7" x2="211" y2="357.1" stroke="#181818" stroke-width="2.2"/><line x1="210.9" y1="344.2" x2="210.9" y2="354.5" stroke="#40e8b8" stroke-width="1" opacity="0.45"/><line x1="213.0" y1="344.2" x2="213.0" y2="354.5" stroke="#e070a0" stroke-width="1" opacity="0.4"/><line x1="212" y1="344.2" x2="212" y2="354.5" stroke="#181818" stroke-width="1.2"/><line x1="212" y1="345.1" x2="212" y2="353.7" stroke="#181818" stroke-width="2.2"/><line x1="211.9" y1="320.0" x2="211.9" y2="346.8" stroke="#40e8b8" stroke-width="1" opacity="0.45"/><line x1="214.0" y1="320.0" x2="214.0" y2="346.8" stroke="#e070a0" stroke-width="1" opacity="0.4"/><line x1="213" y1="320.0" x2="213" y2="346.8" stroke="#7a0a28" stroke-width="1.2"/><line x1="213" y1="334.5" x2="213" y2="346.1" stroke="#7a0a28" stroke-width="2.2"/><line x1="212.9" y1="331.3" x2="212.9" y2="338.5" stroke="#40e8b8" stroke-width="1" opacity="0.45"/><line x1="215.0" y1="331.3" x2="215.0" y2="338.5" stroke="#e070a0" stroke-width="1" opacity="0.4"/><line x1="214" y1="331.3" x2="214" y2="338.5" stroke="#181818" stroke-width="1.2"/><line x1="214" y1="333.6" x2="214" y2="335.5" stroke="#181818" stroke-width="2.2"/><line x1="213.9" y1="332.7" x2="213.9" y2="348.0" stroke="#40e8b8" stroke-width="1" opacity="0.45"/><line x1="216.0" y1="332.7" x2="216.0" y2="348.0" stroke="#e070a0" stroke-width="1" opacity="0.4"/><line x1="215" y1="332.7" x2="215" y2="348.0" stroke="#181818" stroke-width="1.2"/><line x1="215" y1="333.6" x2="215" y2="344.9" stroke="#181818" stroke-width="2.2"/><line x1="214.9" y1="340.9" x2="214.9" y2="351.5" stroke="#40e8b8" stroke-width="1" opacity="0.45"/><line x1="217.0" y1="340.9" x2="217.0" y2="351.5" stroke="#e070a0" stroke-width="1" opacity="0.4"/><line x1="216" y1="340.9" x2="216" y2="351.5" stroke="#7a0a28" stroke-width="1.2"/><line x1="216" y1="343.9" x2="216" y2="349.3" stroke="#7a0a28" stroke-width="2.2"/><line x1="215.9" y1="348.0" x2="215.9" y2="359.5" stroke="#40e8b8" stroke-width="1" opacity="0.45"/><line x1="218.0" y1="348.0" x2="218.0" y2="359.5" stroke="#e070a0" stroke-width="1" opacity="0.4"/><line x1="217" y1="348.0" x2="217" y2="359.5" stroke="#181818" stroke-width="1.2"/><line x1="217" y1="348.3" x2="217" y2="357.3" stroke="#181818" stroke-width="2.2"/><line x1="216.9" y1="353.7" x2="216.9" y2="365.1" stroke="#40e8b8" stroke-width="1" opacity="0.45"/><line x1="219.0" y1="353.7" x2="219.0" y2="365.1" stroke="#e070a0" stroke-width="1" opacity="0.4"/><line x1="218" y1="353.7" x2="218" y2="365.1" stroke="#181818" stroke-width="1.2"/><line x1="218" y1="356.3" x2="218" y2="361.6" stroke="#181818" stroke-width="2.2"/><line x1="217.9" y1="358.0" x2="217.9" y2="363.4" stroke="#40e8b8" stroke-width="1" opacity="0.45"/><line x1="220.0" y1="358.0" x2="220.0" y2="363.4" stroke="#e070a0" stroke-width="1" opacity="0.4"/><line x1="219" y1="358.0" x2="219" y2="363.4" stroke="#181818" stroke-width="1.2"/><line x1="219" y1="360.4" x2="219" y2="361.6" stroke="#181818" stroke-width="2.2"/><line x1="218.9" y1="359.5" x2="218.9" y2="374.0" stroke="#40e8b8" stroke-width="1" opacity="0.45"/><line x1="221.0" y1="359.5" x2="221.0" y2="374.0" stroke="#e070a0" stroke-width="1" opacity="0.4"/><line x1="220" y1="359.5" x2="220" y2="374.0" stroke="#181818" stroke-width="1.2"/><line x1="220" y1="360.4" x2="220" y2="371.4" stroke="#181818" stroke-width="2.2"/><line x1="219.9" y1="369.1" x2="219.9" y2="373.0" stroke="#40e8b8" stroke-width="1" opacity="0.45"/><line x1="222.0" y1="369.1" x2="222.0" y2="373.0" stroke="#e070a0" stroke-width="1" opacity="0.4"/><line x1="221" y1="369.1" x2="221" y2="373.0" stroke="#7a0a28" stroke-width="1.2"/><line x1="221" y1="370.4" x2="221" y2="371.9" stroke="#7a0a28" stroke-width="2.2"/><line x1="220.9" y1="364.6" x2="220.9" y2="376.2" stroke="#40e8b8" stroke-width="1" opacity="0.45"/><line x1="223.0" y1="364.6" x2="223.0" y2="376.2" stroke="#e070a0" stroke-width="1" opacity="0.4"/><line x1="222" y1="364.6" x2="222" y2="376.2" stroke="#7a0a28" stroke-width="1.2"/><line x1="222" y1="366.9" x2="222" y2="371.9" stroke="#7a0a28" stroke-width="2.2"/><line x1="221.9" y1="363.9" x2="221.9" y2="368.9" stroke="#40e8b8" stroke-width="1" opacity="0.45"/><line x1="224.0" y1="363.9" x2="224.0" y2="368.9" stroke="#e070a0" stroke-width="1" opacity="0.4"/><line x1="223" y1="363.9" x2="223" y2="368.9" stroke="#181818" stroke-width="1.2"/><line x1="223" y1="365.2" x2="223" y2="367.9" stroke="#181818" stroke-width="2.2"/><line x1="222.9" y1="355.5" x2="222.9" y2="369.4" stroke="#40e8b8" stroke-width="1" opacity="0.45"/><line x1="225.0" y1="355.5" x2="225.0" y2="369.4" stroke="#e070a0" stroke-width="1" opacity="0.4"/><line x1="224" y1="355.5" x2="224" y2="369.4" stroke="#7a0a28" stroke-width="1.2"/><line x1="224" y1="360.1" x2="224" y2="366.2" stroke="#7a0a28" stroke-width="2.2"/><line x1="223.9" y1="355.6" x2="223.9" y2="362.9" stroke="#40e8b8" stroke-width="1" opacity="0.45"/><line x1="226.0" y1="355.6" x2="226.0" y2="362.9" stroke="#e070a0" stroke-width="1" opacity="0.4"/><line x1="225" y1="355.6" x2="225" y2="362.9" stroke="#7a0a28" stroke-width="1.2"/><line x1="225" y1="357.6" x2="225" y2="361.1" stroke="#7a0a28" stroke-width="2.2"/><line x1="224.9" y1="329.0" x2="224.9" y2="360.5" stroke="#40e8b8" stroke-width="1" opacity="0.45"/><line x1="227.0" y1="329.0" x2="227.0" y2="360.5" stroke="#e070a0" stroke-width="1" opacity="0.4"/><line x1="226" y1="329.0" x2="226" y2="360.5" stroke="#181818" stroke-width="1.2"/><line x1="226" y1="336.3" x2="226" y2="358.6" stroke="#181818" stroke-width="2.2"/><line x1="225.9" y1="334.8" x2="225.9" y2="342.7" stroke="#40e8b8" stroke-width="1" opacity="0.45"/><line x1="228.0" y1="334.8" x2="228.0" y2="342.7" stroke="#e070a0" stroke-width="1" opacity="0.4"/><line x1="227" y1="334.8" x2="227" y2="342.7" stroke="#181818" stroke-width="1.2"/><line x1="227" y1="336.3" x2="227" y2="340.1" stroke="#181818" stroke-width="2.2"/><line x1="226.9" y1="325.0" x2="226.9" y2="344.4" stroke="#40e8b8" stroke-width="1" opacity="0.45"/><line x1="229.0" y1="325.0" x2="229.0" y2="344.4" stroke="#e070a0" stroke-width="1" opacity="0.4"/><line x1="228" y1="325.0" x2="228" y2="344.4" stroke="#7a0a28" stroke-width="1.2"/><line x1="228" y1="332.1" x2="228" y2="340.1" stroke="#7a0a28" stroke-width="2.2"/><line x1="227.9" y1="330.0" x2="227.9" y2="335.6" stroke="#40e8b8" stroke-width="1" opacity="0.45"/><line x1="230.0" y1="330.0" x2="230.0" y2="335.6" stroke="#e070a0" stroke-width="1" opacity="0.4"/><line x1="229" y1="330.0" x2="229" y2="335.6" stroke="#7a0a28" stroke-width="1.2"/><line x1="229" y1="332.1" x2="229" y2="334.7" stroke="#7a0a28" stroke-width="2.2"/><line x1="228.9" y1="327.9" x2="228.9" y2="345.8" stroke="#40e8b8" stroke-width="1" opacity="0.45"/><line x1="231.0" y1="327.9" x2="231.0" y2="345.8" stroke="#e070a0" stroke-width="1" opacity="0.4"/><line x1="230" y1="327.9" x2="230" y2="345.8" stroke="#7a0a28" stroke-width="1.2"/><line x1="230" y1="333.7" x2="230" y2="343.4" stroke="#7a0a28" stroke-width="2.2"/><line x1="229.9" y1="336.4" x2="229.9" y2="344.3" stroke="#40e8b8" stroke-width="1" opacity="0.45"/><line x1="232.0" y1="336.4" x2="232.0" y2="344.3" stroke="#e070a0" stroke-width="1" opacity="0.4"/><line x1="231" y1="336.4" x2="231" y2="344.3" stroke="#181818" stroke-width="1.2"/><line x1="231" y1="337.0" x2="231" y2="343.4" stroke="#181818" stroke-width="2.2"/><line x1="230.9" y1="336.8" x2="230.9" y2="339.6" stroke="#40e8b8" stroke-width="1" opacity="0.45"/><line x1="233.0" y1="336.8" x2="233.0" y2="339.6" stroke="#e070a0" stroke-width="1" opacity="0.4"/><line x1="232" y1="336.8" x2="232" y2="339.6" stroke="#7a0a28" stroke-width="1.2"/><line x1="232" y1="337.0" x2="232" y2="339.3" stroke="#7a0a28" stroke-width="2.2"/><line x1="231.9" y1="333.7" x2="231.9" y2="342.1" stroke="#40e8b8" stroke-width="1" opacity="0.45"/><line x1="234.0" y1="333.7" x2="234.0" y2="342.1" stroke="#e070a0" stroke-width="1" opacity="0.4"/><line x1="233" y1="333.7" x2="233" y2="342.1" stroke="#181818" stroke-width="1.2"/><line x1="233" y1="336.2" x2="233" y2="339.3" stroke="#181818" stroke-width="2.2"/><line x1="232.9" y1="330.0" x2="232.9" y2="339.0" stroke="#40e8b8" stroke-width="1" opacity="0.45"/><line x1="235.0" y1="330.0" x2="235.0" y2="339.0" stroke="#e070a0" stroke-width="1" opacity="0.4"/><line x1="234" y1="330.0" x2="234" y2="339.0" stroke="#181818" stroke-width="1.2"/><line x1="234" y1="330.6" x2="234" y2="337.2" stroke="#181818" stroke-width="2.2"/><line x1="233.9" y1="328.5" x2="233.9" y2="332.3" stroke="#40e8b8" stroke-width="1" opacity="0.45"/><line x1="236.0" y1="328.5" x2="236.0" y2="332.3" stroke="#e070a0" stroke-width="1" opacity="0.4"/><line x1="235" y1="328.5" x2="235" y2="332.3" stroke="#7a0a28" stroke-width="1.2"/><line x1="235" y1="328.9" x2="235" y2="331.6" stroke="#7a0a28" stroke-width="2.2"/><line x1="234.9" y1="328.4" x2="234.9" y2="334.5" stroke="#40e8b8" stroke-width="1" opacity="0.45"/><line x1="237.0" y1="328.4" x2="237.0" y2="334.5" stroke="#e070a0" stroke-width="1" opacity="0.4"/><line x1="236" y1="328.4" x2="236" y2="334.5" stroke="#181818" stroke-width="1.2"/><line x1="236" y1="328.9" x2="236" y2="333.4" stroke="#181818" stroke-width="2.2"/><line x1="235.9" y1="330.1" x2="235.9" y2="339.5" stroke="#40e8b8" stroke-width="1" opacity="0.45"/><line x1="238.0" y1="330.1" x2="238.0" y2="339.5" stroke="#e070a0" stroke-width="1" opacity="0.4"/><line x1="237" y1="330.1" x2="237" y2="339.5" stroke="#181818" stroke-width="1.2"/><line x1="237" y1="332.4" x2="237" y2="339.0" stroke="#181818" stroke-width="2.2"/><line x1="236.9" y1="333.7" x2="236.9" y2="354.6" stroke="#40e8b8" stroke-width="1" opacity="0.45"/><line x1="239.0" y1="333.7" x2="239.0" y2="354.6" stroke="#e070a0" stroke-width="1" opacity="0.4"/><line x1="238" y1="333.7" x2="238" y2="354.6" stroke="#7a0a28" stroke-width="1.2"/><line x1="238" y1="338.0" x2="238" y2="353.0" stroke="#7a0a28" stroke-width="2.2"/><line x1="237.9" y1="350.8" x2="237.9" y2="358.1" stroke="#40e8b8" stroke-width="1" opacity="0.45"/><line x1="240.0" y1="350.8" x2="240.0" y2="358.1" stroke="#e070a0" stroke-width="1" opacity="0.4"/><line x1="239" y1="350.8" x2="239" y2="358.1" stroke="#181818" stroke-width="1.2"/><line x1="239" y1="352.0" x2="239" y2="356.9" stroke="#181818" stroke-width="2.2"/><line x1="238.9" y1="355.3" x2="238.9" y2="361.5" stroke="#40e8b8" stroke-width="1" opacity="0.45"/><line x1="241.0" y1="355.3" x2="241.0" y2="361.5" stroke="#e070a0" stroke-width="1" opacity="0.4"/><line x1="240" y1="355.3" x2="240" y2="361.5" stroke="#181818" stroke-width="1.2"/><line x1="240" y1="355.9" x2="240" y2="357.5" stroke="#181818" stroke-width="2.2"/><line x1="239.9" y1="355.0" x2="239.9" y2="358.6" stroke="#40e8b8" stroke-width="1" opacity="0.45"/><line x1="242.0" y1="355.0" x2="242.0" y2="358.6" stroke="#e070a0" stroke-width="1" opacity="0.4"/><line x1="241" y1="355.0" x2="241" y2="358.6" stroke="#181818" stroke-width="1.2"/><line x1="241" y1="355.3" x2="241" y2="357.5" stroke="#181818" stroke-width="2.2"/><line x1="240.9" y1="352.2" x2="240.9" y2="356.8" stroke="#40e8b8" stroke-width="1" opacity="0.45"/><line x1="243.0" y1="352.2" x2="243.0" y2="356.8" stroke="#e070a0" stroke-width="1" opacity="0.4"/><line x1="242" y1="352.2" x2="242" y2="356.8" stroke="#7a0a28" stroke-width="1.2"/><line x1="242" y1="352.6" x2="242" y2="356.3" stroke="#7a0a28" stroke-width="2.2"/><line x1="241.9" y1="347.9" x2="241.9" y2="353.9" stroke="#40e8b8" stroke-width="1" opacity="0.45"/><line x1="244.0" y1="347.9" x2="244.0" y2="353.9" stroke="#e070a0" stroke-width="1" opacity="0.4"/><line x1="243" y1="347.9" x2="243" y2="353.9" stroke="#7a0a28" stroke-width="1.2"/><line x1="243" y1="350.3" x2="243" y2="353.6" stroke="#7a0a28" stroke-width="2.2"/><line x1="242.9" y1="340.4" x2="242.9" y2="356.4" stroke="#40e8b8" stroke-width="1" opacity="0.45"/><line x1="245.0" y1="340.4" x2="245.0" y2="356.4" stroke="#e070a0" stroke-width="1" opacity="0.4"/><line x1="244" y1="340.4" x2="244" y2="356.4" stroke="#7a0a28" stroke-width="1.2"/><line x1="244" y1="345.6" x2="244" y2="351.3" stroke="#7a0a28" stroke-width="2.2"/><line x1="243.9" y1="340.3" x2="243.9" y2="348.0" stroke="#40e8b8" stroke-width="1" opacity="0.45"/><line x1="246.0" y1="340.3" x2="246.0" y2="348.0" stroke="#e070a0" stroke-width="1" opacity="0.4"/><line x1="245" y1="340.3" x2="245" y2="348.0" stroke="#181818" stroke-width="1.2"/><line x1="245" y1="342.9" x2="245" y2="346.6" stroke="#181818" stroke-width="2.2"/><line x1="244.9" y1="340.5" x2="244.9" y2="344.8" stroke="#40e8b8" stroke-width="1" opacity="0.45"/><line x1="247.0" y1="340.5" x2="247.0" y2="344.8" stroke="#e070a0" stroke-width="1" opacity="0.4"/><line x1="246" y1="340.5" x2="246" y2="344.8" stroke="#181818" stroke-width="1.2"/><line x1="246" y1="340.7" x2="246" y2="343.9" stroke="#181818" stroke-width="2.2"/><line x1="245.9" y1="337.7" x2="245.9" y2="349.7" stroke="#40e8b8" stroke-width="1" opacity="0.45"/><line x1="248.0" y1="337.7" x2="248.0" y2="349.7" stroke="#e070a0" stroke-width="1" opacity="0.4"/><line x1="247" y1="337.7" x2="247" y2="349.7" stroke="#181818" stroke-width="1.2"/><line x1="247" y1="340.7" x2="247" y2="347.2" stroke="#181818" stroke-width="2.2"/><line x1="246.9" y1="344.6" x2="246.9" y2="351.0" stroke="#40e8b8" stroke-width="1" opacity="0.45"/><line x1="249.0" y1="344.6" x2="249.0" y2="351.0" stroke="#e070a0" stroke-width="1" opacity="0.4"/><line x1="248" y1="344.6" x2="248" y2="351.0" stroke="#7a0a28" stroke-width="1.2"/><line x1="248" y1="346.2" x2="248" y2="348.7" stroke="#7a0a28" stroke-width="2.2"/><line x1="247.9" y1="343.3" x2="247.9" y2="360.9" stroke="#40e8b8" stroke-width="1" opacity="0.45"/><line x1="250.0" y1="343.3" x2="250.0" y2="360.9" stroke="#e070a0" stroke-width="1" opacity="0.4"/><line x1="249" y1="343.3" x2="249" y2="360.9" stroke="#7a0a28" stroke-width="1.2"/><line x1="249" y1="347.7" x2="249" y2="356.8" stroke="#7a0a28" stroke-width="2.2"/><line x1="248.9" y1="350.1" x2="248.9" y2="369.7" stroke="#40e8b8" stroke-width="1" opacity="0.45"/><line x1="251.0" y1="350.1" x2="251.0" y2="369.7" stroke="#e070a0" stroke-width="1" opacity="0.4"/><line x1="250" y1="350.1" x2="250" y2="369.7" stroke="#7a0a28" stroke-width="1.2"/><line x1="250" y1="355.8" x2="250" y2="367.8" stroke="#7a0a28" stroke-width="2.2"/><line x1="249.9" y1="366.4" x2="249.9" y2="378.2" stroke="#40e8b8" stroke-width="1" opacity="0.45"/><line x1="252.0" y1="366.4" x2="252.0" y2="378.2" stroke="#e070a0" stroke-width="1" opacity="0.4"/><line x1="251" y1="366.4" x2="251" y2="378.2" stroke="#7a0a28" stroke-width="1.2"/><line x1="251" y1="366.8" x2="251" y2="375.1" stroke="#7a0a28" stroke-width="2.2"/><line x1="250.9" y1="372.7" x2="250.9" y2="385.2" stroke="#40e8b8" stroke-width="1" opacity="0.45"/><line x1="253.0" y1="372.7" x2="253.0" y2="385.2" stroke="#e070a0" stroke-width="1" opacity="0.4"/><line x1="252" y1="372.7" x2="252" y2="385.2" stroke="#181818" stroke-width="1.2"/><line x1="252" y1="374.1" x2="252" y2="384.3" stroke="#181818" stroke-width="2.2"/><line x1="251.9" y1="378.1" x2="251.9" y2="395.8" stroke="#40e8b8" stroke-width="1" opacity="0.45"/><line x1="254.0" y1="378.1" x2="254.0" y2="395.8" stroke="#e070a0" stroke-width="1" opacity="0.4"/><line x1="253" y1="378.1" x2="253" y2="395.8" stroke="#181818" stroke-width="1.2"/><line x1="253" y1="383.3" x2="253" y2="392.0" stroke="#181818" stroke-width="2.2"/><line x1="252.9" y1="390.1" x2="252.9" y2="398.5" stroke="#40e8b8" stroke-width="1" opacity="0.45"/><line x1="255.0" y1="390.1" x2="255.0" y2="398.5" stroke="#e070a0" stroke-width="1" opacity="0.4"/><line x1="254" y1="390.1" x2="254" y2="398.5" stroke="#7a0a28" stroke-width="1.2"/><line x1="254" y1="391.0" x2="254" y2="395.9" stroke="#7a0a28" stroke-width="2.2"/><line x1="253.9" y1="391.5" x2="253.9" y2="396.5" stroke="#40e8b8" stroke-width="1" opacity="0.45"/><line x1="256.0" y1="391.5" x2="256.0" y2="396.5" stroke="#e070a0" stroke-width="1" opacity="0.4"/><line x1="255" y1="391.5" x2="255" y2="396.5" stroke="#181818" stroke-width="1.2"/><line x1="255" y1="392.6" x2="255" y2="395.9" stroke="#181818" stroke-width="2.2"/><line x1="254.9" y1="391.4" x2="254.9" y2="399.9" stroke="#40e8b8" stroke-width="1" opacity="0.45"/><line x1="257.0" y1="391.4" x2="257.0" y2="399.9" stroke="#e070a0" stroke-width="1" opacity="0.4"/><line x1="256" y1="391.4" x2="256" y2="399.9" stroke="#181818" stroke-width="1.2"/><line x1="256" y1="392.6" x2="256" y2="398.5" stroke="#181818" stroke-width="2.2"/><line x1="255.9" y1="392.8" x2="255.9" y2="406.0" stroke="#40e8b8" stroke-width="1" opacity="0.45"/><line x1="258.0" y1="392.8" x2="258.0" y2="406.0" stroke="#e070a0" stroke-width="1" opacity="0.4"/><line x1="257" y1="392.8" x2="257" y2="406.0" stroke="#181818" stroke-width="1.2"/><line x1="257" y1="397.5" x2="257" y2="401.6" stroke="#181818" stroke-width="2.2"/><line x1="256.9" y1="398.0" x2="256.9" y2="406.2" stroke="#40e8b8" stroke-width="1" opacity="0.45"/><line x1="259.0" y1="398.0" x2="259.0" y2="406.2" stroke="#e070a0" stroke-width="1" opacity="0.4"/><line x1="258" y1="398.0" x2="258" y2="406.2" stroke="#7a0a28" stroke-width="1.2"/><line x1="258" y1="400.6" x2="258" y2="405.4" stroke="#7a0a28" stroke-width="2.2"/><line x1="257.9" y1="401.6" x2="257.9" y2="417.0" stroke="#40e8b8" stroke-width="1" opacity="0.45"/><line x1="260.0" y1="401.6" x2="260.0" y2="417.0" stroke="#e070a0" stroke-width="1" opacity="0.4"/><line x1="259" y1="401.6" x2="259" y2="417.0" stroke="#181818" stroke-width="1.2"/><line x1="259" y1="404.4" x2="259" y2="410.3" stroke="#181818" stroke-width="2.2"/><line x1="258.9" y1="402.6" x2="258.9" y2="411.6" stroke="#40e8b8" stroke-width="1" opacity="0.45"/><line x1="261.0" y1="402.6" x2="261.0" y2="411.6" stroke="#e070a0" stroke-width="1" opacity="0.4"/><line x1="260" y1="402.6" x2="260" y2="411.6" stroke="#7a0a28" stroke-width="1.2"/><line x1="260" y1="405.3" x2="260" y2="410.3" stroke="#7a0a28" stroke-width="2.2"/><line x1="259.9" y1="400.3" x2="259.9" y2="409.4" stroke="#40e8b8" stroke-width="1" opacity="0.45"/><line x1="262.0" y1="400.3" x2="262.0" y2="409.4" stroke="#e070a0" stroke-width="1" opacity="0.4"/><line x1="261" y1="400.3" x2="261" y2="409.4" stroke="#181818" stroke-width="1.2"/><line x1="261" y1="403.2" x2="261" y2="406.3" stroke="#181818" stroke-width="2.2"/><line x1="260.9" y1="398.5" x2="260.9" y2="404.6" stroke="#40e8b8" stroke-width="1" opacity="0.45"/><line x1="263.0" y1="398.5" x2="263.0" y2="404.6" stroke="#e070a0" stroke-width="1" opacity="0.4"/><line x1="262" y1="398.5" x2="262" y2="404.6" stroke="#7a0a28" stroke-width="1.2"/><line x1="262" y1="400.4" x2="262" y2="404.2" stroke="#7a0a28" stroke-width="2.2"/><line x1="261.9" y1="389.6" x2="261.9" y2="402.4" stroke="#40e8b8" stroke-width="1" opacity="0.45"/><line x1="264.0" y1="389.6" x2="264.0" y2="402.4" stroke="#e070a0" stroke-width="1" opacity="0.4"/><line x1="263" y1="389.6" x2="263" y2="402.4" stroke="#181818" stroke-width="1.2"/><line x1="263" y1="393.8" x2="263" y2="401.4" stroke="#181818" stroke-width="2.2"/><line x1="262.9" y1="390.9" x2="262.9" y2="395.7" stroke="#40e8b8" stroke-width="1" opacity="0.45"/><line x1="265.0" y1="390.9" x2="265.0" y2="395.7" stroke="#e070a0" stroke-width="1" opacity="0.4"/><line x1="264" y1="390.9" x2="264" y2="395.7" stroke="#7a0a28" stroke-width="1.2"/><line x1="264" y1="393.3" x2="264" y2="394.8" stroke="#7a0a28" stroke-width="2.2"/><line x1="263.9" y1="390.0" x2="263.9" y2="395.6" stroke="#40e8b8" stroke-width="1" opacity="0.45"/><line x1="266.0" y1="390.0" x2="266.0" y2="395.6" stroke="#e070a0" stroke-width="1" opacity="0.4"/><line x1="265" y1="390.0" x2="265" y2="395.6" stroke="#181818" stroke-width="1.2"/><line x1="265" y1="392.6" x2="265" y2="394.3" stroke="#181818" stroke-width="2.2"/><line x1="264.9" y1="391.1" x2="264.9" y2="395.3" stroke="#40e8b8" stroke-width="1" opacity="0.45"/><line x1="267.0" y1="391.1" x2="267.0" y2="395.3" stroke="#e070a0" stroke-width="1" opacity="0.4"/><line x1="266" y1="391.1" x2="266" y2="395.3" stroke="#181818" stroke-width="1.2"/><line x1="266" y1="392.6" x2="266" y2="394.0" stroke="#181818" stroke-width="2.2"/><line x1="265.9" y1="389.7" x2="265.9" y2="395.9" stroke="#40e8b8" stroke-width="1" opacity="0.45"/><line x1="268.0" y1="389.7" x2="268.0" y2="395.9" stroke="#e070a0" stroke-width="1" opacity="0.4"/><line x1="267" y1="389.7" x2="267" y2="395.9" stroke="#181818" stroke-width="1.2"/><line x1="267" y1="390.8" x2="267" y2="394.0" stroke="#181818" stroke-width="2.2"/><line x1="266.9" y1="390.2" x2="266.9" y2="393.1" stroke="#40e8b8" stroke-width="1" opacity="0.45"/><line x1="269.0" y1="390.2" x2="269.0" y2="393.1" stroke="#e070a0" stroke-width="1" opacity="0.4"/><line x1="268" y1="390.2" x2="268" y2="393.1" stroke="#7a0a28" stroke-width="1.2"/><line x1="268" y1="390.8" x2="268" y2="392.3" stroke="#7a0a28" stroke-width="2.2"/><line x1="267.9" y1="390.6" x2="267.9" y2="393.5" stroke="#40e8b8" stroke-width="1" opacity="0.45"/><line x1="270.0" y1="390.6" x2="270.0" y2="393.5" stroke="#e070a0" stroke-width="1" opacity="0.4"/><line x1="269" y1="390.6" x2="269" y2="393.5" stroke="#7a0a28" stroke-width="1.2"/><line x1="269" y1="391.3" x2="269" y2="393.0" stroke="#7a0a28" stroke-width="2.2"/><line x1="268.9" y1="390.0" x2="268.9" y2="394.2" stroke="#40e8b8" stroke-width="1" opacity="0.45"/><line x1="271.0" y1="390.0" x2="271.0" y2="394.2" stroke="#e070a0" stroke-width="1" opacity="0.4"/><line x1="270" y1="390.0" x2="270" y2="394.2" stroke="#181818" stroke-width="1.2"/><line x1="270" y1="390.2" x2="270" y2="393.0" stroke="#181818" stroke-width="2.2"/><line x1="269.9" y1="377.9" x2="269.9" y2="395.1" stroke="#40e8b8" stroke-width="1" opacity="0.45"/><line x1="272.0" y1="377.9" x2="272.0" y2="395.1" stroke="#e070a0" stroke-width="1" opacity="0.4"/><line x1="271" y1="377.9" x2="271" y2="395.1" stroke="#181818" stroke-width="1.2"/><line x1="271" y1="381.4" x2="271" y2="391.2" stroke="#181818" stroke-width="2.2"/><line x1="270.9" y1="366.6" x2="270.9" y2="387.1" stroke="#40e8b8" stroke-width="1" opacity="0.45"/><line x1="273.0" y1="366.6" x2="273.0" y2="387.1" stroke="#e070a0" stroke-width="1" opacity="0.4"/><line x1="272" y1="366.6" x2="272" y2="387.1" stroke="#7a0a28" stroke-width="1.2"/><line x1="272" y1="370.0" x2="272" y2="382.4" stroke="#7a0a28" stroke-width="2.2"/><line x1="271.9" y1="357.2" x2="271.9" y2="374.3" stroke="#40e8b8" stroke-width="1" opacity="0.45"/><line x1="274.0" y1="357.2" x2="274.0" y2="374.3" stroke="#e070a0" stroke-width="1" opacity="0.4"/><line x1="273" y1="357.2" x2="273" y2="374.3" stroke="#181818" stroke-width="1.2"/><line x1="273" y1="360.0" x2="273" y2="371.0" stroke="#181818" stroke-width="2.2"/><line x1="272.9" y1="359.4" x2="272.9" y2="365.5" stroke="#40e8b8" stroke-width="1" opacity="0.45"/><line x1="275.0" y1="359.4" x2="275.0" y2="365.5" stroke="#e070a0" stroke-width="1" opacity="0.4"/><line x1="274" y1="359.4" x2="274" y2="365.5" stroke="#181818" stroke-width="1.2"/><line x1="274" y1="360.0" x2="274" y2="363.5" stroke="#181818" stroke-width="2.2"/><line x1="273.9" y1="341.0" x2="273.9" y2="365.0" stroke="#40e8b8" stroke-width="1" opacity="0.45"/><line x1="276.0" y1="341.0" x2="276.0" y2="365.0" stroke="#e070a0" stroke-width="1" opacity="0.4"/><line x1="275" y1="341.0" x2="275" y2="365.0" stroke="#7a0a28" stroke-width="1.2"/><line x1="275" y1="350.8" x2="275" y2="363.5" stroke="#7a0a28" stroke-width="2.2"/><line x1="274.9" y1="348.1" x2="274.9" y2="353.3" stroke="#40e8b8" stroke-width="1" opacity="0.45"/><line x1="277.0" y1="348.1" x2="277.0" y2="353.3" stroke="#e070a0" stroke-width="1" opacity="0.4"/><line x1="276" y1="348.1" x2="276" y2="353.3" stroke="#7a0a28" stroke-width="1.2"/><line x1="276" y1="349.2" x2="276" y2="351.8" stroke="#7a0a28" stroke-width="2.2"/><line x1="275.9" y1="346.9" x2="275.9" y2="362.2" stroke="#40e8b8" stroke-width="1" opacity="0.45"/><line x1="278.0" y1="346.9" x2="278.0" y2="362.2" stroke="#e070a0" stroke-width="1" opacity="0.4"/><line x1="277" y1="346.9" x2="277" y2="362.2" stroke="#181818" stroke-width="1.2"/><line x1="277" y1="349.2" x2="277" y2="359.1" stroke="#181818" stroke-width="2.2"/><line x1="276.9" y1="357.7" x2="276.9" y2="364.7" stroke="#40e8b8" stroke-width="1" opacity="0.45"/><line x1="279.0" y1="357.7" x2="279.0" y2="364.7" stroke="#e070a0" stroke-width="1" opacity="0.4"/><line x1="278" y1="357.7" x2="278" y2="364.7" stroke="#181818" stroke-width="1.2"/><line x1="278" y1="358.1" x2="278" y2="361.7" stroke="#181818" stroke-width="2.2"/><line x1="277.9" y1="359.9" x2="277.9" y2="362.7" stroke="#40e8b8" stroke-width="1" opacity="0.45"/><line x1="280.0" y1="359.9" x2="280.0" y2="362.7" stroke="#e070a0" stroke-width="1" opacity="0.4"/><line x1="279" y1="359.9" x2="279" y2="362.7" stroke="#181818" stroke-width="1.2"/><line x1="279" y1="360.4" x2="279" y2="361.7" stroke="#181818" stroke-width="2.2"/><line x1="278.9" y1="360.3" x2="278.9" y2="368.3" stroke="#40e8b8" stroke-width="1" opacity="0.45"/><line x1="281.0" y1="360.3" x2="281.0" y2="368.3" stroke="#e070a0" stroke-width="1" opacity="0.4"/><line x1="280" y1="360.3" x2="280" y2="368.3" stroke="#7a0a28" stroke-width="1.2"/><line x1="280" y1="360.4" x2="280" y2="367.1" stroke="#7a0a28" stroke-width="2.2"/><line x1="279.9" y1="362.6" x2="279.9" y2="369.1" stroke="#40e8b8" stroke-width="1" opacity="0.45"/><line x1="282.0" y1="362.6" x2="282.0" y2="369.1" stroke="#e070a0" stroke-width="1" opacity="0.4"/><line x1="281" y1="362.6" x2="281" y2="369.1" stroke="#7a0a28" stroke-width="1.2"/><line x1="281" y1="366.1" x2="281" y2="367.4" stroke="#7a0a28" stroke-width="2.2"/><line x1="280.9" y1="363.1" x2="280.9" y2="372.5" stroke="#40e8b8" stroke-width="1" opacity="0.45"/><line x1="283.0" y1="363.1" x2="283.0" y2="372.5" stroke="#e070a0" stroke-width="1" opacity="0.4"/><line x1="282" y1="363.1" x2="282" y2="372.5" stroke="#7a0a28" stroke-width="1.2"/><line x1="282" y1="366.4" x2="282" y2="371.4" stroke="#7a0a28" stroke-width="2.2"/><line x1="281.9" y1="368.9" x2="281.9" y2="376.5" stroke="#40e8b8" stroke-width="1" opacity="0.45"/><line x1="284.0" y1="368.9" x2="284.0" y2="376.5" stroke="#e070a0" stroke-width="1" opacity="0.4"/><line x1="283" y1="368.9" x2="283" y2="376.5" stroke="#181818" stroke-width="1.2"/><line x1="283" y1="370.4" x2="283" y2="376.4" stroke="#181818" stroke-width="2.2"/><line x1="282.9" y1="373.6" x2="282.9" y2="377.5" stroke="#40e8b8" stroke-width="1" opacity="0.45"/><line x1="285.0" y1="373.6" x2="285.0" y2="377.5" stroke="#e070a0" stroke-width="1" opacity="0.4"/><line x1="284" y1="373.6" x2="284" y2="377.5" stroke="#7a0a28" stroke-width="1.2"/><line x1="284" y1="375.4" x2="284" y2="377.1" stroke="#7a0a28" stroke-width="2.2"/><line x1="283.9" y1="373.2" x2="283.9" y2="382.9" stroke="#40e8b8" stroke-width="1" opacity="0.45"/><line x1="286.0" y1="373.2" x2="286.0" y2="382.9" stroke="#e070a0" stroke-width="1" opacity="0.4"/><line x1="285" y1="373.2" x2="285" y2="382.9" stroke="#7a0a28" stroke-width="1.2"/><line x1="285" y1="376.1" x2="285" y2="380.9" stroke="#7a0a28" stroke-width="2.2"/><line x1="284.9" y1="376.6" x2="284.9" y2="385.6" stroke="#40e8b8" stroke-width="1" opacity="0.45"/><line x1="287.0" y1="376.6" x2="287.0" y2="385.6" stroke="#e070a0" stroke-width="1" opacity="0.4"/><line x1="286" y1="376.6" x2="286" y2="385.6" stroke="#7a0a28" stroke-width="1.2"/><line x1="286" y1="379.9" x2="286" y2="382.9" stroke="#7a0a28" stroke-width="2.2"/><line x1="285.9" y1="375.8" x2="285.9" y2="383.3" stroke="#40e8b8" stroke-width="1" opacity="0.45"/><line x1="288.0" y1="375.8" x2="288.0" y2="383.3" stroke="#e070a0" stroke-width="1" opacity="0.4"/><line x1="287" y1="375.8" x2="287" y2="383.3" stroke="#181818" stroke-width="1.2"/><line x1="287" y1="378.3" x2="287" y2="382.9" stroke="#181818" stroke-width="2.2"/><line x1="286.9" y1="372.1" x2="286.9" y2="382.4" stroke="#40e8b8" stroke-width="1" opacity="0.45"/><line x1="289.0" y1="372.1" x2="289.0" y2="382.4" stroke="#e070a0" stroke-width="1" opacity="0.4"/><line x1="288" y1="372.1" x2="288" y2="382.4" stroke="#181818" stroke-width="1.2"/><line x1="288" y1="373.8" x2="288" y2="379.3" stroke="#181818" stroke-width="2.2"/><line x1="287.9" y1="370.8" x2="287.9" y2="376.2" stroke="#40e8b8" stroke-width="1" opacity="0.45"/><line x1="290.0" y1="370.8" x2="290.0" y2="376.2" stroke="#e070a0" stroke-width="1" opacity="0.4"/><line x1="289" y1="370.8" x2="289" y2="376.2" stroke="#7a0a28" stroke-width="1.2"/><line x1="289" y1="373.8" x2="289" y2="375.1" stroke="#7a0a28" stroke-width="2.2"/><line x1="288.9" y1="363.1" x2="288.9" y2="376.3" stroke="#40e8b8" stroke-width="1" opacity="0.45"/><line x1="291.0" y1="363.1" x2="291.0" y2="376.3" stroke="#e070a0" stroke-width="1" opacity="0.4"/><line x1="290" y1="363.1" x2="290" y2="376.3" stroke="#181818" stroke-width="1.2"/><line x1="290" y1="364.8" x2="290" y2="375.1" stroke="#181818" stroke-width="2.2"/><line x1="289.9" y1="363.2" x2="289.9" y2="369.4" stroke="#40e8b8" stroke-width="1" opacity="0.45"/><line x1="292.0" y1="363.2" x2="292.0" y2="369.4" stroke="#e070a0" stroke-width="1" opacity="0.4"/><line x1="291" y1="363.2" x2="291" y2="369.4" stroke="#7a0a28" stroke-width="1.2"/><line x1="291" y1="364.8" x2="291" y2="367.5" stroke="#7a0a28" stroke-width="2.2"/><line x1="290.9" y1="358.1" x2="290.9" y2="369.2" stroke="#40e8b8" stroke-width="1" opacity="0.45"/><line x1="293.0" y1="358.1" x2="293.0" y2="369.2" stroke="#e070a0" stroke-width="1" opacity="0.4"/><line x1="292" y1="358.1" x2="292" y2="369.2" stroke="#7a0a28" stroke-width="1.2"/><line x1="292" y1="360.6" x2="292" y2="367.5" stroke="#7a0a28" stroke-width="2.2"/><line x1="291.9" y1="360.0" x2="291.9" y2="363.4" stroke="#40e8b8" stroke-width="1" opacity="0.45"/><line x1="294.0" y1="360.0" x2="294.0" y2="363.4" stroke="#e070a0" stroke-width="1" opacity="0.4"/><line x1="293" y1="360.0" x2="293" y2="363.4" stroke="#181818" stroke-width="1.2"/><line x1="293" y1="360.6" x2="293" y2="363.0" stroke="#181818" stroke-width="2.2"/><line x1="292.9" y1="358.8" x2="292.9" y2="365.0" stroke="#40e8b8" stroke-width="1" opacity="0.45"/><line x1="295.0" y1="358.8" x2="295.0" y2="365.0" stroke="#e070a0" stroke-width="1" opacity="0.4"/><line x1="294" y1="358.8" x2="294" y2="365.0" stroke="#7a0a28" stroke-width="1.2"/><line x1="294" y1="359.5" x2="294" y2="363.0" stroke="#7a0a28" stroke-width="2.2"/><line x1="293.9" y1="355.7" x2="293.9" y2="361.1" stroke="#40e8b8" stroke-width="1" opacity="0.45"/><line x1="296.0" y1="355.7" x2="296.0" y2="361.1" stroke="#e070a0" stroke-width="1" opacity="0.4"/><line x1="295" y1="355.7" x2="295" y2="361.1" stroke="#181818" stroke-width="1.2"/><line x1="295" y1="356.3" x2="295" y2="360.5" stroke="#181818" stroke-width="2.2"/><line x1="294.9" y1="350.9" x2="294.9" y2="358.2" stroke="#40e8b8" stroke-width="1" opacity="0.45"/><line x1="297.0" y1="350.9" x2="297.0" y2="358.2" stroke="#e070a0" stroke-width="1" opacity="0.4"/><line x1="296" y1="350.9" x2="296" y2="358.2" stroke="#7a0a28" stroke-width="1.2"/><line x1="296" y1="351.4" x2="296" y2="357.3" stroke="#7a0a28" stroke-width="2.2"/><line x1="295.9" y1="350.1" x2="295.9" y2="361.3" stroke="#40e8b8" stroke-width="1" opacity="0.45"/><line x1="298.0" y1="350.1" x2="298.0" y2="361.3" stroke="#e070a0" stroke-width="1" opacity="0.4"/><line x1="297" y1="350.1" x2="297" y2="361.3" stroke="#7a0a28" stroke-width="1.2"/><line x1="297" y1="351.4" x2="297" y2="358.3" stroke="#7a0a28" stroke-width="2.2"/><line x1="296.9" y1="348.1" x2="296.9" y2="359.5" stroke="#40e8b8" stroke-width="1" opacity="0.45"/><line x1="299.0" y1="348.1" x2="299.0" y2="359.5" stroke="#e070a0" stroke-width="1" opacity="0.4"/><line x1="298" y1="348.1" x2="298" y2="359.5" stroke="#181818" stroke-width="1.2"/><line x1="298" y1="351.1" x2="298" y2="358.3" stroke="#181818" stroke-width="2.2"/><line x1="297.9" y1="349.4" x2="297.9" y2="356.9" stroke="#40e8b8" stroke-width="1" opacity="0.45"/><line x1="300.0" y1="349.4" x2="300.0" y2="356.9" stroke="#e070a0" stroke-width="1" opacity="0.4"/><line x1="299" y1="349.4" x2="299" y2="356.9" stroke="#181818" stroke-width="1.2"/><line x1="299" y1="351.1" x2="299" y2="355.1" stroke="#181818" stroke-width="2.2"/><line x1="298.9" y1="353.6" x2="298.9" y2="364.5" stroke="#40e8b8" stroke-width="1" opacity="0.45"/><line x1="301.0" y1="353.6" x2="301.0" y2="364.5" stroke="#e070a0" stroke-width="1" opacity="0.4"/><line x1="300" y1="353.6" x2="300" y2="364.5" stroke="#181818" stroke-width="1.2"/><line x1="300" y1="354.1" x2="300" y2="361.4" stroke="#181818" stroke-width="2.2"/><line x1="299.9" y1="358.4" x2="299.9" y2="365.9" stroke="#40e8b8" stroke-width="1" opacity="0.45"/><line x1="302.0" y1="358.4" x2="302.0" y2="365.9" stroke="#e070a0" stroke-width="1" opacity="0.4"/><line x1="301" y1="358.4" x2="301" y2="365.9" stroke="#181818" stroke-width="1.2"/><line x1="301" y1="360.4" x2="301" y2="364.8" stroke="#181818" stroke-width="2.2"/><line x1="300.9" y1="362.5" x2="300.9" y2="373.3" stroke="#40e8b8" stroke-width="1" opacity="0.45"/><line x1="303.0" y1="362.5" x2="303.0" y2="373.3" stroke="#e070a0" stroke-width="1" opacity="0.4"/><line x1="302" y1="362.5" x2="302" y2="373.3" stroke="#181818" stroke-width="1.2"/><line x1="302" y1="363.8" x2="302" y2="369.7" stroke="#181818" stroke-width="2.2"/><line x1="301.9" y1="365.9" x2="301.9" y2="374.5" stroke="#40e8b8" stroke-width="1" opacity="0.45"/><line x1="304.0" y1="365.9" x2="304.0" y2="374.5" stroke="#e070a0" stroke-width="1" opacity="0.4"/><line x1="303" y1="365.9" x2="303" y2="374.5" stroke="#7a0a28" stroke-width="1.2"/><line x1="303" y1="368.7" x2="303" y2="373.1" stroke="#7a0a28" stroke-width="2.2"/><line x1="302.9" y1="370.6" x2="302.9" y2="377.1" stroke="#40e8b8" stroke-width="1" opacity="0.45"/><line x1="305.0" y1="370.6" x2="305.0" y2="377.1" stroke="#e070a0" stroke-width="1" opacity="0.4"/><line x1="304" y1="370.6" x2="304" y2="377.1" stroke="#181818" stroke-width="1.2"/><line x1="304" y1="372.1" x2="304" y2="374.3" stroke="#181818" stroke-width="2.2"/><line x1="303.9" y1="371.3" x2="303.9" y2="388.2" stroke="#40e8b8" stroke-width="1" opacity="0.45"/><line x1="306.0" y1="371.3" x2="306.0" y2="388.2" stroke="#e070a0" stroke-width="1" opacity="0.4"/><line x1="305" y1="371.3" x2="305" y2="388.2" stroke="#7a0a28" stroke-width="1.2"/><line x1="305" y1="373.3" x2="305" y2="385.1" stroke="#7a0a28" stroke-width="2.2"/><line x1="304.9" y1="376.6" x2="304.9" y2="387.0" stroke="#40e8b8" stroke-width="1" opacity="0.45"/><line x1="307.0" y1="376.6" x2="307.0" y2="387.0" stroke="#e070a0" stroke-width="1" opacity="0.4"/><line x1="306" y1="376.6" x2="306" y2="387.0" stroke="#7a0a28" stroke-width="1.2"/><line x1="306" y1="379.9" x2="306" y2="385.1" stroke="#7a0a28" stroke-width="2.2"/><line x1="305.9" y1="376.9" x2="305.9" y2="381.6" stroke="#40e8b8" stroke-width="1" opacity="0.45"/><line x1="308.0" y1="376.9" x2="308.0" y2="381.6" stroke="#e070a0" stroke-width="1" opacity="0.4"/><line x1="307" y1="376.9" x2="307" y2="381.6" stroke="#7a0a28" stroke-width="1.2"/><line x1="307" y1="379.5" x2="307" y2="380.9" stroke="#7a0a28" stroke-width="2.2"/><line x1="306.9" y1="375.2" x2="306.9" y2="381.9" stroke="#40e8b8" stroke-width="1" opacity="0.45"/><line x1="309.0" y1="375.2" x2="309.0" y2="381.9" stroke="#e070a0" stroke-width="1" opacity="0.4"/><line x1="308" y1="375.2" x2="308" y2="381.9" stroke="#181818" stroke-width="1.2"/><line x1="308" y1="377.6" x2="308" y2="380.5" stroke="#181818" stroke-width="2.2"/><line x1="307.9" y1="374.9" x2="307.9" y2="382.6" stroke="#40e8b8" stroke-width="1" opacity="0.45"/><line x1="310.0" y1="374.9" x2="310.0" y2="382.6" stroke="#e070a0" stroke-width="1" opacity="0.4"/><line x1="309" y1="374.9" x2="309" y2="382.6" stroke="#181818" stroke-width="1.2"/><line x1="309" y1="377.3" x2="309" y2="378.6" stroke="#181818" stroke-width="2.2"/><line x1="308.9" y1="375.9" x2="308.9" y2="380.1" stroke="#40e8b8" stroke-width="1" opacity="0.45"/><line x1="311.0" y1="375.9" x2="311.0" y2="380.1" stroke="#e070a0" stroke-width="1" opacity="0.4"/><line x1="310" y1="375.9" x2="310" y2="380.1" stroke="#181818" stroke-width="1.2"/><line x1="310" y1="377.3" x2="310" y2="379.7" stroke="#181818" stroke-width="2.2"/><line x1="309.9" y1="376.9" x2="309.9" y2="385.8" stroke="#40e8b8" stroke-width="1" opacity="0.45"/><line x1="312.0" y1="376.9" x2="312.0" y2="385.8" stroke="#e070a0" stroke-width="1" opacity="0.4"/><line x1="311" y1="376.9" x2="311" y2="385.8" stroke="#181818" stroke-width="1.2"/><line x1="311" y1="378.7" x2="311" y2="383.5" stroke="#181818" stroke-width="2.2"/><line x1="310.9" y1="380.6" x2="310.9" y2="389.2" stroke="#40e8b8" stroke-width="1" opacity="0.45"/><line x1="313.0" y1="380.6" x2="313.0" y2="389.2" stroke="#e070a0" stroke-width="1" opacity="0.4"/><line x1="312" y1="380.6" x2="312" y2="389.2" stroke="#7a0a28" stroke-width="1.2"/><line x1="312" y1="382.5" x2="312" y2="387.7" stroke="#7a0a28" stroke-width="2.2"/><line x1="311.9" y1="386.0" x2="311.9" y2="388.2" stroke="#40e8b8" stroke-width="1" opacity="0.45"/><line x1="314.0" y1="386.0" x2="314.0" y2="388.2" stroke="#e070a0" stroke-width="1" opacity="0.4"/><line x1="313" y1="386.0" x2="313" y2="388.2" stroke="#181818" stroke-width="1.2"/><line x1="313" y1="386.7" x2="313" y2="387.8" stroke="#181818" stroke-width="2.2"/><line x1="312.9" y1="385.7" x2="312.9" y2="394.3" stroke="#40e8b8" stroke-width="1" opacity="0.45"/><line x1="315.0" y1="385.7" x2="315.0" y2="394.3" stroke="#e070a0" stroke-width="1" opacity="0.4"/><line x1="314" y1="385.7" x2="314" y2="394.3" stroke="#7a0a28" stroke-width="1.2"/><line x1="314" y1="386.8" x2="314" y2="393.6" stroke="#7a0a28" stroke-width="2.2"/><line x1="313.9" y1="392.0" x2="313.9" y2="396.1" stroke="#40e8b8" stroke-width="1" opacity="0.45"/><line x1="316.0" y1="392.0" x2="316.0" y2="396.1" stroke="#e070a0" stroke-width="1" opacity="0.4"/><line x1="315" y1="392.0" x2="315" y2="396.1" stroke="#7a0a28" stroke-width="1.2"/><line x1="315" y1="392.6" x2="315" y2="395.7" stroke="#7a0a28" stroke-width="2.2"/><line x1="314.9" y1="393.6" x2="314.9" y2="398.2" stroke="#40e8b8" stroke-width="1" opacity="0.45"/><line x1="317.0" y1="393.6" x2="317.0" y2="398.2" stroke="#e070a0" stroke-width="1" opacity="0.4"/><line x1="316" y1="393.6" x2="316" y2="398.2" stroke="#7a0a28" stroke-width="1.2"/><line x1="316" y1="394.7" x2="316" y2="397.9" stroke="#7a0a28" stroke-width="2.2"/><line x1="315.9" y1="393.3" x2="315.9" y2="406.5" stroke="#40e8b8" stroke-width="1" opacity="0.45"/><line x1="318.0" y1="393.3" x2="318.0" y2="406.5" stroke="#e070a0" stroke-width="1" opacity="0.4"/><line x1="317" y1="393.3" x2="317" y2="406.5" stroke="#181818" stroke-width="1.2"/><line x1="317" y1="396.9" x2="317" y2="403.1" stroke="#181818" stroke-width="2.2"/><line x1="316.9" y1="401.8" x2="316.9" y2="405.4" stroke="#40e8b8" stroke-width="1" opacity="0.45"/><line x1="319.0" y1="401.8" x2="319.0" y2="405.4" stroke="#e070a0" stroke-width="1" opacity="0.4"/><line x1="318" y1="401.8" x2="318" y2="405.4" stroke="#7a0a28" stroke-width="1.2"/><line x1="318" y1="402.1" x2="318" y2="404.6" stroke="#7a0a28" stroke-width="2.2"/><line x1="317.9" y1="402.3" x2="317.9" y2="416.4" stroke="#40e8b8" stroke-width="1" opacity="0.45"/><line x1="320.0" y1="402.3" x2="320.0" y2="416.4" stroke="#e070a0" stroke-width="1" opacity="0.4"/><line x1="319" y1="402.3" x2="319" y2="416.4" stroke="#7a0a28" stroke-width="1.2"/><line x1="319" y1="403.6" x2="319" y2="411.1" stroke="#7a0a28" stroke-width="2.2"/><line x1="318.9" y1="409.2" x2="318.9" y2="416.0" stroke="#40e8b8" stroke-width="1" opacity="0.45"/><line x1="321.0" y1="409.2" x2="321.0" y2="416.0" stroke="#e070a0" stroke-width="1" opacity="0.4"/><line x1="320" y1="409.2" x2="320" y2="416.0" stroke="#7a0a28" stroke-width="1.2"/><line x1="320" y1="410.1" x2="320" y2="413.2" stroke="#7a0a28" stroke-width="2.2"/><line x1="319.9" y1="405.7" x2="319.9" y2="414.3" stroke="#40e8b8" stroke-width="1" opacity="0.45"/><line x1="322.0" y1="405.7" x2="322.0" y2="414.3" stroke="#e070a0" stroke-width="1" opacity="0.4"/><line x1="321" y1="405.7" x2="321" y2="414.3" stroke="#7a0a28" stroke-width="1.2"/><line x1="321" y1="407.8" x2="321" y2="413.2" stroke="#7a0a28" stroke-width="2.2"/><line x1="320.9" y1="403.4" x2="320.9" y2="418.3" stroke="#40e8b8" stroke-width="1" opacity="0.45"/><line x1="323.0" y1="403.4" x2="323.0" y2="418.3" stroke="#e070a0" stroke-width="1" opacity="0.4"/><line x1="322" y1="403.4" x2="322" y2="418.3" stroke="#181818" stroke-width="1.2"/><line x1="322" y1="407.8" x2="322" y2="414.1" stroke="#181818" stroke-width="2.2"/><line x1="321.9" y1="411.8" x2="321.9" y2="415.0" stroke="#40e8b8" stroke-width="1" opacity="0.45"/><line x1="324.0" y1="411.8" x2="324.0" y2="415.0" stroke="#e070a0" stroke-width="1" opacity="0.4"/><line x1="323" y1="411.8" x2="323" y2="415.0" stroke="#7a0a28" stroke-width="1.2"/><line x1="323" y1="412.7" x2="323" y2="414.1" stroke="#7a0a28" stroke-width="2.2"/><line x1="322.9" y1="409.3" x2="322.9" y2="419.3" stroke="#40e8b8" stroke-width="1" opacity="0.45"/><line x1="325.0" y1="409.3" x2="325.0" y2="419.3" stroke="#e070a0" stroke-width="1" opacity="0.4"/><line x1="324" y1="409.3" x2="324" y2="419.3" stroke="#181818" stroke-width="1.2"/><line x1="324" y1="412.7" x2="324" y2="418.0" stroke="#181818" stroke-width="2.2"/><line x1="323.9" y1="409.6" x2="323.9" y2="418.8" stroke="#40e8b8" stroke-width="1" opacity="0.45"/><line x1="326.0" y1="409.6" x2="326.0" y2="418.8" stroke="#e070a0" stroke-width="1" opacity="0.4"/><line x1="325" y1="409.6" x2="325" y2="418.8" stroke="#181818" stroke-width="1.2"/><line x1="325" y1="411.4" x2="325" y2="418.0" stroke="#181818" stroke-width="2.2"/><line x1="324.9" y1="402.0" x2="324.9" y2="414.7" stroke="#40e8b8" stroke-width="1" opacity="0.45"/><line x1="327.0" y1="402.0" x2="327.0" y2="414.7" stroke="#e070a0" stroke-width="1" opacity="0.4"/><line x1="326" y1="402.0" x2="326" y2="414.7" stroke="#181818" stroke-width="1.2"/><line x1="326" y1="408.1" x2="326" y2="412.4" stroke="#181818" stroke-width="2.2"/><line x1="325.9" y1="406.1" x2="325.9" y2="415.5" stroke="#40e8b8" stroke-width="1" opacity="0.45"/><line x1="328.0" y1="406.1" x2="328.0" y2="415.5" stroke="#e070a0" stroke-width="1" opacity="0.4"/><line x1="327" y1="406.1" x2="327" y2="415.5" stroke="#7a0a28" stroke-width="1.2"/><line x1="327" y1="408.1" x2="327" y2="412.2" stroke="#7a0a28" stroke-width="2.2"/><line x1="326.9" y1="408.9" x2="326.9" y2="418.7" stroke="#40e8b8" stroke-width="1" opacity="0.45"/><line x1="329.0" y1="408.9" x2="329.0" y2="418.7" stroke="#e070a0" stroke-width="1" opacity="0.4"/><line x1="328" y1="408.9" x2="328" y2="418.7" stroke="#7a0a28" stroke-width="1.2"/><line x1="328" y1="411.2" x2="328" y2="417.0" stroke="#7a0a28" stroke-width="2.2"/><line x1="327.9" y1="414.9" x2="327.9" y2="418.3" stroke="#40e8b8" stroke-width="1" opacity="0.45"/><line x1="330.0" y1="414.9" x2="330.0" y2="418.3" stroke="#e070a0" stroke-width="1" opacity="0.4"/><line x1="329" y1="414.9" x2="329" y2="418.3" stroke="#181818" stroke-width="1.2"/><line x1="329" y1="416.0" x2="329" y2="417.9" stroke="#181818" stroke-width="2.2"/><line x1="328.9" y1="412.1" x2="328.9" y2="420.6" stroke="#40e8b8" stroke-width="1" opacity="0.45"/><line x1="331.0" y1="412.1" x2="331.0" y2="420.6" stroke="#e070a0" stroke-width="1" opacity="0.4"/><line x1="330" y1="412.1" x2="330" y2="420.6" stroke="#181818" stroke-width="1.2"/><line x1="330" y1="415.1" x2="330" y2="417.9" stroke="#181818" stroke-width="2.2"/><line x1="329.9" y1="414.6" x2="329.9" y2="425.7" stroke="#40e8b8" stroke-width="1" opacity="0.45"/><line x1="332.0" y1="414.6" x2="332.0" y2="425.7" stroke="#e070a0" stroke-width="1" opacity="0.4"/><line x1="331" y1="414.6" x2="331" y2="425.7" stroke="#181818" stroke-width="1.2"/><line x1="331" y1="415.1" x2="331" y2="423.5" stroke="#181818" stroke-width="2.2"/><line x1="330.9" y1="420.9" x2="330.9" y2="429.7" stroke="#40e8b8" stroke-width="1" opacity="0.45"/><line x1="333.0" y1="420.9" x2="333.0" y2="429.7" stroke="#e070a0" stroke-width="1" opacity="0.4"/><line x1="332" y1="420.9" x2="332" y2="429.7" stroke="#181818" stroke-width="1.2"/><line x1="332" y1="422.5" x2="332" y2="428.4" stroke="#181818" stroke-width="2.2"/><line x1="331.9" y1="424.9" x2="331.9" y2="437.5" stroke="#40e8b8" stroke-width="1" opacity="0.45"/><line x1="334.0" y1="424.9" x2="334.0" y2="437.5" stroke="#e070a0" stroke-width="1" opacity="0.4"/><line x1="333" y1="424.9" x2="333" y2="437.5" stroke="#7a0a28" stroke-width="1.2"/><line x1="333" y1="427.4" x2="333" y2="434.0" stroke="#7a0a28" stroke-width="2.2"/><line x1="332.9" y1="426.7" x2="332.9" y2="436.3" stroke="#40e8b8" stroke-width="1" opacity="0.45"/><line x1="335.0" y1="426.7" x2="335.0" y2="436.3" stroke="#e070a0" stroke-width="1" opacity="0.4"/><line x1="334" y1="426.7" x2="334" y2="436.3" stroke="#7a0a28" stroke-width="1.2"/><line x1="334" y1="429.2" x2="334" y2="434.0" stroke="#7a0a28" stroke-width="2.2"/><line x1="333.9" y1="428.0" x2="333.9" y2="434.8" stroke="#40e8b8" stroke-width="1" opacity="0.45"/><line x1="336.0" y1="428.0" x2="336.0" y2="434.8" stroke="#e070a0" stroke-width="1" opacity="0.4"/><line x1="335" y1="428.0" x2="335" y2="434.8" stroke="#7a0a28" stroke-width="1.2"/><line x1="335" y1="429.2" x2="335" y2="433.0" stroke="#7a0a28" stroke-width="2.2"/><line x1="334.9" y1="424.7" x2="334.9" y2="435.0" stroke="#40e8b8" stroke-width="1" opacity="0.45"/><line x1="337.0" y1="424.7" x2="337.0" y2="435.0" stroke="#e070a0" stroke-width="1" opacity="0.4"/><line x1="336" y1="424.7" x2="336" y2="435.0" stroke="#7a0a28" stroke-width="1.2"/><line x1="336" y1="424.9" x2="336" y2="433.0" stroke="#7a0a28" stroke-width="2.2"/><line x1="335.9" y1="422.4" x2="335.9" y2="427.8" stroke="#40e8b8" stroke-width="1" opacity="0.45"/><line x1="338.0" y1="422.4" x2="338.0" y2="427.8" stroke="#e070a0" stroke-width="1" opacity="0.4"/><line x1="337" y1="422.4" x2="337" y2="427.8" stroke="#7a0a28" stroke-width="1.2"/><line x1="337" y1="424.9" x2="337" y2="426.2" stroke="#7a0a28" stroke-width="2.2"/><line x1="336.9" y1="417.2" x2="336.9" y2="428.0" stroke="#40e8b8" stroke-width="1" opacity="0.45"/><line x1="339.0" y1="417.2" x2="339.0" y2="428.0" stroke="#e070a0" stroke-width="1" opacity="0.4"/><line x1="338" y1="417.2" x2="338" y2="428.0" stroke="#181818" stroke-width="1.2"/><line x1="338" y1="417.8" x2="338" y2="426.2" stroke="#181818" stroke-width="2.2"/><line x1="337.9" y1="417.8" x2="337.9" y2="421.0" stroke="#40e8b8" stroke-width="1" opacity="0.45"/><line x1="340.0" y1="417.8" x2="340.0" y2="421.0" stroke="#e070a0" stroke-width="1" opacity="0.4"/><line x1="339" y1="417.8" x2="339" y2="421.0" stroke="#7a0a28" stroke-width="1.2"/><line x1="339" y1="417.8" x2="339" y2="420.1" stroke="#7a0a28" stroke-width="2.2"/><line x1="338.9" y1="408.0" x2="338.9" y2="425.4" stroke="#40e8b8" stroke-width="1" opacity="0.45"/><line x1="341.0" y1="408.0" x2="341.0" y2="425.4" stroke="#e070a0" stroke-width="1" opacity="0.4"/><line x1="340" y1="408.0" x2="340" y2="425.4" stroke="#7a0a28" stroke-width="1.2"/><line x1="340" y1="409.4" x2="340" y2="420.1" stroke="#7a0a28" stroke-width="2.2"/><line x1="339.9" y1="407.2" x2="339.9" y2="416.5" stroke="#40e8b8" stroke-width="1" opacity="0.45"/><line x1="342.0" y1="407.2" x2="342.0" y2="416.5" stroke="#e070a0" stroke-width="1" opacity="0.4"/><line x1="341" y1="407.2" x2="341" y2="416.5" stroke="#7a0a28" stroke-width="1.2"/><line x1="341" y1="409.4" x2="341" y2="413.4" stroke="#7a0a28" stroke-width="2.2"/><line x1="340.9" y1="409.8" x2="340.9" y2="415.1" stroke="#40e8b8" stroke-width="1" opacity="0.45"/><line x1="343.0" y1="409.8" x2="343.0" y2="415.1" stroke="#e070a0" stroke-width="1" opacity="0.4"/><line x1="342" y1="409.8" x2="342" y2="415.1" stroke="#7a0a28" stroke-width="1.2"/><line x1="342" y1="410.8" x2="342" y2="413.4" stroke="#7a0a28" stroke-width="2.2"/><line x1="341.9" y1="409.6" x2="341.9" y2="416.6" stroke="#40e8b8" stroke-width="1" opacity="0.45"/><line x1="344.0" y1="409.6" x2="344.0" y2="416.6" stroke="#e070a0" stroke-width="1" opacity="0.4"/><line x1="343" y1="409.6" x2="343" y2="416.6" stroke="#7a0a28" stroke-width="1.2"/><line x1="343" y1="410.8" x2="343" y2="416.3" stroke="#7a0a28" stroke-width="2.2"/><line x1="342.9" y1="413.3" x2="342.9" y2="420.2" stroke="#40e8b8" stroke-width="1" opacity="0.45"/><line x1="345.0" y1="413.3" x2="345.0" y2="420.2" stroke="#e070a0" stroke-width="1" opacity="0.4"/><line x1="344" y1="413.3" x2="344" y2="420.2" stroke="#7a0a28" stroke-width="1.2"/><line x1="344" y1="415.3" x2="344" y2="418.1" stroke="#7a0a28" stroke-width="2.2"/><line x1="343.9" y1="410.2" x2="343.9" y2="419.0" stroke="#40e8b8" stroke-width="1" opacity="0.45"/><line x1="346.0" y1="410.2" x2="346.0" y2="419.0" stroke="#e070a0" stroke-width="1" opacity="0.4"/><line x1="345" y1="410.2" x2="345" y2="419.0" stroke="#7a0a28" stroke-width="1.2"/><line x1="345" y1="410.4" x2="345" y2="418.1" stroke="#7a0a28" stroke-width="2.2"/><line x1="344.9" y1="409.2" x2="344.9" y2="413.7" stroke="#40e8b8" stroke-width="1" opacity="0.45"/><line x1="347.0" y1="409.2" x2="347.0" y2="413.7" stroke="#e070a0" stroke-width="1" opacity="0.4"/><line x1="346" y1="409.2" x2="346" y2="413.7" stroke="#181818" stroke-width="1.2"/><line x1="346" y1="410.1" x2="346" y2="411.4" stroke="#181818" stroke-width="2.2"/><line x1="345.9" y1="407.6" x2="345.9" y2="413.3" stroke="#40e8b8" stroke-width="1" opacity="0.45"/><line x1="348.0" y1="407.6" x2="348.0" y2="413.3" stroke="#e070a0" stroke-width="1" opacity="0.4"/><line x1="347" y1="407.6" x2="347" y2="413.3" stroke="#7a0a28" stroke-width="1.2"/><line x1="347" y1="410.1" x2="347" y2="411.5" stroke="#7a0a28" stroke-width="2.2"/><line x1="346.9" y1="408.0" x2="346.9" y2="413.5" stroke="#40e8b8" stroke-width="1" opacity="0.45"/><line x1="349.0" y1="408.0" x2="349.0" y2="413.5" stroke="#e070a0" stroke-width="1" opacity="0.4"/><line x1="348" y1="408.0" x2="348" y2="413.5" stroke="#181818" stroke-width="1.2"/><line x1="348" y1="408.2" x2="348" y2="411.5" stroke="#181818" stroke-width="2.2"/><line x1="347.9" y1="406.5" x2="347.9" y2="410.0" stroke="#40e8b8" stroke-width="1" opacity="0.45"/><line x1="350.0" y1="406.5" x2="350.0" y2="410.0" stroke="#e070a0" stroke-width="1" opacity="0.4"/><line x1="349" y1="406.5" x2="349" y2="410.0" stroke="#181818" stroke-width="1.2"/><line x1="349" y1="407.8" x2="349" y2="409.2" stroke="#181818" stroke-width="2.2"/><line x1="348.9" y1="406.9" x2="348.9" y2="420.3" stroke="#40e8b8" stroke-width="1" opacity="0.45"/><line x1="351.0" y1="406.9" x2="351.0" y2="420.3" stroke="#e070a0" stroke-width="1" opacity="0.4"/><line x1="350" y1="406.9" x2="350" y2="420.3" stroke="#7a0a28" stroke-width="1.2"/><line x1="350" y1="407.8" x2="350" y2="416.3" stroke="#7a0a28" stroke-width="2.2"/><line x1="349.9" y1="413.1" x2="349.9" y2="416.7" stroke="#40e8b8" stroke-width="1" opacity="0.45"/><line x1="352.0" y1="413.1" x2="352.0" y2="416.7" stroke="#e070a0" stroke-width="1" opacity="0.4"/><line x1="351" y1="413.1" x2="351" y2="416.7" stroke="#7a0a28" stroke-width="1.2"/><line x1="351" y1="415.3" x2="351" y2="416.4" stroke="#7a0a28" stroke-width="2.2"/><line x1="350.9" y1="414.3" x2="350.9" y2="424.7" stroke="#40e8b8" stroke-width="1" opacity="0.45"/><line x1="353.0" y1="414.3" x2="353.0" y2="424.7" stroke="#e070a0" stroke-width="1" opacity="0.4"/><line x1="352" y1="414.3" x2="352" y2="424.7" stroke="#7a0a28" stroke-width="1.2"/><line x1="352" y1="415.4" x2="352" y2="421.4" stroke="#7a0a28" stroke-width="2.2"/><line x1="351.9" y1="420.0" x2="351.9" y2="421.4" stroke="#40e8b8" stroke-width="1" opacity="0.45"/><line x1="354.0" y1="420.0" x2="354.0" y2="421.4" stroke="#e070a0" stroke-width="1" opacity="0.4"/><line x1="353" y1="420.0" x2="353" y2="421.4" stroke="#181818" stroke-width="1.2"/><line x1="353" y1="420.4" x2="353" y2="421.6" stroke="#181818" stroke-width="2.2"/><line x1="352.9" y1="416.0" x2="352.9" y2="422.2" stroke="#40e8b8" stroke-width="1" opacity="0.45"/><line x1="355.0" y1="416.0" x2="355.0" y2="422.2" stroke="#e070a0" stroke-width="1" opacity="0.4"/><line x1="354" y1="416.0" x2="354" y2="422.2" stroke="#181818" stroke-width="1.2"/><line x1="354" y1="419.8" x2="354" y2="421.6" stroke="#181818" stroke-width="2.2"/><line x1="353.9" y1="418.5" x2="353.9" y2="425.0" stroke="#40e8b8" stroke-width="1" opacity="0.45"/><line x1="356.0" y1="418.5" x2="356.0" y2="425.0" stroke="#e070a0" stroke-width="1" opacity="0.4"/><line x1="355" y1="418.5" x2="355" y2="425.0" stroke="#7a0a28" stroke-width="1.2"/><line x1="355" y1="419.8" x2="355" y2="424.1" stroke="#7a0a28" stroke-width="2.2"/><line x1="354.9" y1="421.5" x2="354.9" y2="429.9" stroke="#40e8b8" stroke-width="1" opacity="0.45"/><line x1="357.0" y1="421.5" x2="357.0" y2="429.9" stroke="#e070a0" stroke-width="1" opacity="0.4"/><line x1="356" y1="421.5" x2="356" y2="429.9" stroke="#181818" stroke-width="1.2"/><line x1="356" y1="423.1" x2="356" y2="429.6" stroke="#181818" stroke-width="2.2"/><line x1="355.9" y1="423.7" x2="355.9" y2="429.9" stroke="#40e8b8" stroke-width="1" opacity="0.45"/><line x1="358.0" y1="423.7" x2="358.0" y2="429.9" stroke="#e070a0" stroke-width="1" opacity="0.4"/><line x1="357" y1="423.7" x2="357" y2="429.9" stroke="#7a0a28" stroke-width="1.2"/><line x1="357" y1="425.4" x2="357" y2="429.6" stroke="#7a0a28" stroke-width="2.2"/><line x1="356.9" y1="422.9" x2="356.9" y2="433.5" stroke="#40e8b8" stroke-width="1" opacity="0.45"/><line x1="359.0" y1="422.9" x2="359.0" y2="433.5" stroke="#e070a0" stroke-width="1" opacity="0.4"/><line x1="358" y1="422.9" x2="358" y2="433.5" stroke="#181818" stroke-width="1.2"/><line x1="358" y1="425.4" x2="358" y2="430.1" stroke="#181818" stroke-width="2.2"/><line x1="357.9" y1="428.4" x2="357.9" y2="436.9" stroke="#40e8b8" stroke-width="1" opacity="0.45"/><line x1="360.0" y1="428.4" x2="360.0" y2="436.9" stroke="#e070a0" stroke-width="1" opacity="0.4"/><line x1="359" y1="428.4" x2="359" y2="436.9" stroke="#181818" stroke-width="1.2"/><line x1="359" y1="429.1" x2="359" y2="434.1" stroke="#181818" stroke-width="2.2"/><line x1="358.9" y1="432.5" x2="358.9" y2="437.8" stroke="#40e8b8" stroke-width="1" opacity="0.45"/><line x1="361.0" y1="432.5" x2="361.0" y2="437.8" stroke="#e070a0" stroke-width="1" opacity="0.4"/><line x1="360" y1="432.5" x2="360" y2="437.8" stroke="#181818" stroke-width="1.2"/><line x1="360" y1="433.1" x2="360" y2="436.9" stroke="#181818" stroke-width="2.2"/><line x1="359.9" y1="433.7" x2="359.9" y2="441.9" stroke="#40e8b8" stroke-width="1" opacity="0.45"/><line x1="362.0" y1="433.7" x2="362.0" y2="441.9" stroke="#e070a0" stroke-width="1" opacity="0.4"/><line x1="361" y1="433.7" x2="361" y2="441.9" stroke="#181818" stroke-width="1.2"/><line x1="361" y1="435.9" x2="361" y2="438.6" stroke="#181818" stroke-width="2.2"/><line x1="360.9" y1="433.8" x2="360.9" y2="440.3" stroke="#40e8b8" stroke-width="1" opacity="0.45"/><line x1="363.0" y1="433.8" x2="363.0" y2="440.3" stroke="#e070a0" stroke-width="1" opacity="0.4"/><line x1="362" y1="433.8" x2="362" y2="440.3" stroke="#7a0a28" stroke-width="1.2"/><line x1="362" y1="435.2" x2="362" y2="438.6" stroke="#7a0a28" stroke-width="2.2"/><line x1="361.9" y1="432.3" x2="361.9" y2="445.9" stroke="#40e8b8" stroke-width="1" opacity="0.45"/><line x1="364.0" y1="432.3" x2="364.0" y2="445.9" stroke="#e070a0" stroke-width="1" opacity="0.4"/><line x1="363" y1="432.3" x2="363" y2="445.9" stroke="#7a0a28" stroke-width="1.2"/><line x1="363" y1="435.2" x2="363" y2="444.6" stroke="#7a0a28" stroke-width="2.2"/><line x1="362.9" y1="439.9" x2="362.9" y2="446.2" stroke="#40e8b8" stroke-width="1" opacity="0.45"/><line x1="365.0" y1="439.9" x2="365.0" y2="446.2" stroke="#e070a0" stroke-width="1" opacity="0.4"/><line x1="364" y1="439.9" x2="364" y2="446.2" stroke="#181818" stroke-width="1.2"/><line x1="364" y1="440.8" x2="364" y2="444.6" stroke="#181818" stroke-width="2.2"/><line x1="363.9" y1="438.5" x2="363.9" y2="443.8" stroke="#40e8b8" stroke-width="1" opacity="0.45"/><line x1="366.0" y1="438.5" x2="366.0" y2="443.8" stroke="#e070a0" stroke-width="1" opacity="0.4"/><line x1="365" y1="438.5" x2="365" y2="443.8" stroke="#7a0a28" stroke-width="1.2"/><line x1="365" y1="440.8" x2="365" y2="442.6" stroke="#7a0a28" stroke-width="2.2"/><line x1="364.9" y1="441.4" x2="364.9" y2="443.7" stroke="#40e8b8" stroke-width="1" opacity="0.45"/><line x1="367.0" y1="441.4" x2="367.0" y2="443.7" stroke="#e070a0" stroke-width="1" opacity="0.4"/><line x1="366" y1="441.4" x2="366" y2="443.7" stroke="#181818" stroke-width="1.2"/><line x1="366" y1="441.6" x2="366" y2="443.0" stroke="#181818" stroke-width="2.2"/><line x1="365.9" y1="441.7" x2="365.9" y2="443.4" stroke="#40e8b8" stroke-width="1" opacity="0.45"/><line x1="368.0" y1="441.7" x2="368.0" y2="443.4" stroke="#e070a0" stroke-width="1" opacity="0.4"/><line x1="367" y1="441.7" x2="367" y2="443.4" stroke="#7a0a28" stroke-width="1.2"/><line x1="367" y1="442.0" x2="367" y2="443.2" stroke="#7a0a28" stroke-width="2.2"/><line x1="366.9" y1="439.8" x2="366.9" y2="445.9" stroke="#40e8b8" stroke-width="1" opacity="0.45"/><line x1="369.0" y1="439.8" x2="369.0" y2="445.9" stroke="#e070a0" stroke-width="1" opacity="0.4"/><line x1="368" y1="439.8" x2="368" y2="445.9" stroke="#181818" stroke-width="1.2"/><line x1="368" y1="440.7" x2="368" y2="443.2" stroke="#181818" stroke-width="2.2"/><line x1="367.9" y1="439.7" x2="367.9" y2="442.2" stroke="#40e8b8" stroke-width="1" opacity="0.45"/><line x1="370.0" y1="439.7" x2="370.0" y2="442.2" stroke="#e070a0" stroke-width="1" opacity="0.4"/><line x1="369" y1="439.7" x2="369" y2="442.2" stroke="#181818" stroke-width="1.2"/><line x1="369" y1="440.7" x2="369" y2="442.1" stroke="#181818" stroke-width="2.2"/><line x1="368.9" y1="439.5" x2="368.9" y2="446.6" stroke="#40e8b8" stroke-width="1" opacity="0.45"/><line x1="371.0" y1="439.5" x2="371.0" y2="446.6" stroke="#e070a0" stroke-width="1" opacity="0.4"/><line x1="370" y1="439.5" x2="370" y2="446.6" stroke="#7a0a28" stroke-width="1.2"/><line x1="370" y1="441.1" x2="370" y2="443.7" stroke="#7a0a28" stroke-width="2.2"/><line x1="369.9" y1="438.8" x2="369.9" y2="444.2" stroke="#40e8b8" stroke-width="1" opacity="0.45"/><line x1="372.0" y1="438.8" x2="372.0" y2="444.2" stroke="#e070a0" stroke-width="1" opacity="0.4"/><line x1="371" y1="438.8" x2="371" y2="444.2" stroke="#181818" stroke-width="1.2"/><line x1="371" y1="439.4" x2="371" y2="443.7" stroke="#181818" stroke-width="2.2"/><line x1="370.9" y1="436.6" x2="370.9" y2="440.9" stroke="#40e8b8" stroke-width="1" opacity="0.45"/><line x1="373.0" y1="436.6" x2="373.0" y2="440.9" stroke="#e070a0" stroke-width="1" opacity="0.4"/><line x1="372" y1="436.6" x2="372" y2="440.9" stroke="#181818" stroke-width="1.2"/><line x1="372" y1="439.0" x2="372" y2="440.4" stroke="#181818" stroke-width="2.2"/><line x1="371.9" y1="437.1" x2="371.9" y2="449.9" stroke="#40e8b8" stroke-width="1" opacity="0.45"/><line x1="374.0" y1="437.1" x2="374.0" y2="449.9" stroke="#e070a0" stroke-width="1" opacity="0.4"/><line x1="373" y1="437.1" x2="373" y2="449.9" stroke="#7a0a28" stroke-width="1.2"/><line x1="373" y1="439.0" x2="373" y2="447.6" stroke="#7a0a28" stroke-width="2.2"/><line x1="372.9" y1="445.8" x2="372.9" y2="450.4" stroke="#40e8b8" stroke-width="1" opacity="0.45"/><line x1="375.0" y1="445.8" x2="375.0" y2="450.4" stroke="#e070a0" stroke-width="1" opacity="0.4"/><line x1="374" y1="445.8" x2="374" y2="450.4" stroke="#181818" stroke-width="1.2"/><line x1="374" y1="446.6" x2="374" y2="449.2" stroke="#181818" stroke-width="2.2"/><line x1="373.9" y1="446.8" x2="373.9" y2="456.1" stroke="#40e8b8" stroke-width="1" opacity="0.45"/><line x1="376.0" y1="446.8" x2="376.0" y2="456.1" stroke="#e070a0" stroke-width="1" opacity="0.4"/><line x1="375" y1="446.8" x2="375" y2="456.1" stroke="#181818" stroke-width="1.2"/><line x1="375" y1="448.2" x2="375" y2="451.9" stroke="#181818" stroke-width="2.2"/><line x1="374.9" y1="446.9" x2="374.9" y2="455.9" stroke="#40e8b8" stroke-width="1" opacity="0.45"/><line x1="377.0" y1="446.9" x2="377.0" y2="455.9" stroke="#e070a0" stroke-width="1" opacity="0.4"/><line x1="376" y1="446.9" x2="376" y2="455.9" stroke="#181818" stroke-width="1.2"/><line x1="376" y1="450.9" x2="376" y2="454.9" stroke="#181818" stroke-width="2.2"/><line x1="375.9" y1="445.3" x2="375.9" y2="458.6" stroke="#40e8b8" stroke-width="1" opacity="0.45"/><line x1="378.0" y1="445.3" x2="378.0" y2="458.6" stroke="#e070a0" stroke-width="1" opacity="0.4"/><line x1="377" y1="445.3" x2="377" y2="458.6" stroke="#181818" stroke-width="1.2"/><line x1="377" y1="446.6" x2="377" y2="454.9" stroke="#181818" stroke-width="2.2"/><line x1="376.9" y1="443.6" x2="376.9" y2="449.6" stroke="#40e8b8" stroke-width="1" opacity="0.45"/><line x1="379.0" y1="443.6" x2="379.0" y2="449.6" stroke="#e070a0" stroke-width="1" opacity="0.4"/><line x1="378" y1="443.6" x2="378" y2="449.6" stroke="#7a0a28" stroke-width="1.2"/><line x1="378" y1="445.5" x2="378" y2="447.6" stroke="#7a0a28" stroke-width="2.2"/><line x1="377.9" y1="442.5" x2="377.9" y2="448.1" stroke="#40e8b8" stroke-width="1" opacity="0.45"/><line x1="380.0" y1="442.5" x2="380.0" y2="448.1" stroke="#e070a0" stroke-width="1" opacity="0.4"/><line x1="379" y1="442.5" x2="379" y2="448.1" stroke="#7a0a28" stroke-width="1.2"/><line x1="379" y1="442.9" x2="379" y2="446.5" stroke="#7a0a28" stroke-width="2.2"/><line x1="378.9" y1="439.5" x2="378.9" y2="446.2" stroke="#40e8b8" stroke-width="1" opacity="0.45"/><line x1="381.0" y1="439.5" x2="381.0" y2="446.2" stroke="#e070a0" stroke-width="1" opacity="0.4"/><line x1="380" y1="439.5" x2="380" y2="446.2" stroke="#7a0a28" stroke-width="1.2"/><line x1="380" y1="440.6" x2="380" y2="443.9" stroke="#7a0a28" stroke-width="2.2"/><line x1="379.9" y1="433.8" x2="379.9" y2="442.2" stroke="#40e8b8" stroke-width="1" opacity="0.45"/><line x1="382.0" y1="433.8" x2="382.0" y2="442.2" stroke="#e070a0" stroke-width="1" opacity="0.4"/><line x1="381" y1="433.8" x2="381" y2="442.2" stroke="#7a0a28" stroke-width="1.2"/><line x1="381" y1="435.7" x2="381" y2="441.6" stroke="#7a0a28" stroke-width="2.2"/><line x1="380.9" y1="423.8" x2="380.9" y2="438.0" stroke="#40e8b8" stroke-width="1" opacity="0.45"/><line x1="383.0" y1="423.8" x2="383.0" y2="438.0" stroke="#e070a0" stroke-width="1" opacity="0.4"/><line x1="382" y1="423.8" x2="382" y2="438.0" stroke="#181818" stroke-width="1.2"/><line x1="382" y1="426.2" x2="382" y2="436.7" stroke="#181818" stroke-width="2.2"/><line x1="381.9" y1="419.9" x2="381.9" y2="429.9" stroke="#40e8b8" stroke-width="1" opacity="0.45"/><line x1="384.0" y1="419.9" x2="384.0" y2="429.9" stroke="#e070a0" stroke-width="1" opacity="0.4"/><line x1="383" y1="419.9" x2="383" y2="429.9" stroke="#7a0a28" stroke-width="1.2"/><line x1="383" y1="420.7" x2="383" y2="427.2" stroke="#7a0a28" stroke-width="2.2"/><line x1="382.9" y1="418.7" x2="382.9" y2="423.2" stroke="#40e8b8" stroke-width="1" opacity="0.45"/><line x1="385.0" y1="418.7" x2="385.0" y2="423.2" stroke="#e070a0" stroke-width="1" opacity="0.4"/><line x1="384" y1="418.7" x2="384" y2="423.2" stroke="#7a0a28" stroke-width="1.2"/><line x1="384" y1="420.4" x2="384" y2="421.7" stroke="#7a0a28" stroke-width="2.2"/><line x1="383.9" y1="412.6" x2="383.9" y2="423.2" stroke="#40e8b8" stroke-width="1" opacity="0.45"/><line x1="386.0" y1="412.6" x2="386.0" y2="423.2" stroke="#e070a0" stroke-width="1" opacity="0.4"/><line x1="385" y1="412.6" x2="385" y2="423.2" stroke="#181818" stroke-width="1.2"/><line x1="385" y1="415.0" x2="385" y2="421.4" stroke="#181818" stroke-width="2.2"/><line x1="384.9" y1="412.8" x2="384.9" y2="421.5" stroke="#40e8b8" stroke-width="1" opacity="0.45"/><line x1="387.0" y1="412.8" x2="387.0" y2="421.5" stroke="#e070a0" stroke-width="1" opacity="0.4"/><line x1="386" y1="412.8" x2="386" y2="421.5" stroke="#181818" stroke-width="1.2"/><line x1="386" y1="415.0" x2="386" y2="419.1" stroke="#181818" stroke-width="2.2"/><line x1="385.9" y1="409.0" x2="385.9" y2="420.7" stroke="#40e8b8" stroke-width="1" opacity="0.45"/><line x1="388.0" y1="409.0" x2="388.0" y2="420.7" stroke="#e070a0" stroke-width="1" opacity="0.4"/><line x1="387" y1="409.0" x2="387" y2="420.7" stroke="#7a0a28" stroke-width="1.2"/><line x1="387" y1="413.1" x2="387" y2="419.1" stroke="#7a0a28" stroke-width="2.2"/><line x1="386.9" y1="411.4" x2="386.9" y2="417.2" stroke="#40e8b8" stroke-width="1" opacity="0.45"/><line x1="389.0" y1="411.4" x2="389.0" y2="417.2" stroke="#e070a0" stroke-width="1" opacity="0.4"/><line x1="388" y1="411.4" x2="388" y2="417.2" stroke="#181818" stroke-width="1.2"/><line x1="388" y1="413.1" x2="388" y2="415.6" stroke="#181818" stroke-width="2.2"/><line x1="387.9" y1="414.1" x2="387.9" y2="417.7" stroke="#40e8b8" stroke-width="1" opacity="0.45"/><line x1="390.0" y1="414.1" x2="390.0" y2="417.7" stroke="#e070a0" stroke-width="1" opacity="0.4"/><line x1="389" y1="414.1" x2="389" y2="417.7" stroke="#7a0a28" stroke-width="1.2"/><line x1="389" y1="414.6" x2="389" y2="416.3" stroke="#7a0a28" stroke-width="2.2"/><line x1="388.9" y1="413.4" x2="388.9" y2="424.3" stroke="#40e8b8" stroke-width="1" opacity="0.45"/><line x1="391.0" y1="413.4" x2="391.0" y2="424.3" stroke="#e070a0" stroke-width="1" opacity="0.4"/><line x1="390" y1="413.4" x2="390" y2="424.3" stroke="#181818" stroke-width="1.2"/><line x1="390" y1="415.3" x2="390" y2="422.3" stroke="#181818" stroke-width="2.2"/><line x1="389.9" y1="419.8" x2="389.9" y2="422.8" stroke="#40e8b8" stroke-width="1" opacity="0.45"/><line x1="392.0" y1="419.8" x2="392.0" y2="422.8" stroke="#e070a0" stroke-width="1" opacity="0.4"/><line x1="391" y1="419.8" x2="391" y2="422.8" stroke="#181818" stroke-width="1.2"/><line x1="391" y1="421.3" x2="391" y2="422.4" stroke="#181818" stroke-width="2.2"/><line x1="390.9" y1="419.9" x2="390.9" y2="424.5" stroke="#40e8b8" stroke-width="1" opacity="0.45"/><line x1="393.0" y1="419.9" x2="393.0" y2="424.5" stroke="#e070a0" stroke-width="1" opacity="0.4"/><line x1="392" y1="419.9" x2="392" y2="424.5" stroke="#7a0a28" stroke-width="1.2"/><line x1="392" y1="421.4" x2="392" y2="423.9" stroke="#7a0a28" stroke-width="2.2"/><line x1="391.9" y1="420.1" x2="391.9" y2="430.7" stroke="#40e8b8" stroke-width="1" opacity="0.45"/><line x1="394.0" y1="420.1" x2="394.0" y2="430.7" stroke="#e070a0" stroke-width="1" opacity="0.4"/><line x1="393" y1="420.1" x2="393" y2="430.7" stroke="#7a0a28" stroke-width="1.2"/><line x1="393" y1="422.9" x2="393" y2="429.3" stroke="#7a0a28" stroke-width="2.2"/><line x1="392.9" y1="428.0" x2="392.9" y2="433.7" stroke="#40e8b8" stroke-width="1" opacity="0.45"/><line x1="395.0" y1="428.0" x2="395.0" y2="433.7" stroke="#e070a0" stroke-width="1" opacity="0.4"/><line x1="394" y1="428.0" x2="394" y2="433.7" stroke="#7a0a28" stroke-width="1.2"/><line x1="394" y1="428.3" x2="394" y2="430.9" stroke="#7a0a28" stroke-width="2.2"/><line x1="393.9" y1="429.3" x2="393.9" y2="431.8" stroke="#40e8b8" stroke-width="1" opacity="0.45"/><line x1="396.0" y1="429.3" x2="396.0" y2="431.8" stroke="#e070a0" stroke-width="1" opacity="0.4"/><line x1="395" y1="429.3" x2="395" y2="431.8" stroke="#7a0a28" stroke-width="1.2"/><line x1="395" y1="429.9" x2="395" y2="431.7" stroke="#7a0a28" stroke-width="2.2"/><line x1="394.9" y1="429.4" x2="394.9" y2="433.7" stroke="#40e8b8" stroke-width="1" opacity="0.45"/><line x1="397.0" y1="429.4" x2="397.0" y2="433.7" stroke="#e070a0" stroke-width="1" opacity="0.4"/><line x1="396" y1="429.4" x2="396" y2="433.7" stroke="#7a0a28" stroke-width="1.2"/><line x1="396" y1="430.7" x2="396" y2="432.6" stroke="#7a0a28" stroke-width="2.2"/><line x1="395.9" y1="427.3" x2="395.9" y2="434.0" stroke="#40e8b8" stroke-width="1" opacity="0.45"/><line x1="398.0" y1="427.3" x2="398.0" y2="434.0" stroke="#e070a0" stroke-width="1" opacity="0.4"/><line x1="397" y1="427.3" x2="397" y2="434.0" stroke="#181818" stroke-width="1.2"/><line x1="397" y1="429.7" x2="397" y2="432.6" stroke="#181818" stroke-width="2.2"/><line x1="396.9" y1="429.2" x2="396.9" y2="431.8" stroke="#40e8b8" stroke-width="1" opacity="0.45"/><line x1="399.0" y1="429.2" x2="399.0" y2="431.8" stroke="#e070a0" stroke-width="1" opacity="0.4"/><line x1="398" y1="429.2" x2="398" y2="431.8" stroke="#181818" stroke-width="1.2"/><line x1="398" y1="429.7" x2="398" y2="431.2" stroke="#181818" stroke-width="2.2"/><line x1="397.9" y1="427.0" x2="397.9" y2="432.9" stroke="#40e8b8" stroke-width="1" opacity="0.45"/><line x1="400.0" y1="427.0" x2="400.0" y2="432.9" stroke="#e070a0" stroke-width="1" opacity="0.4"/><line x1="399" y1="427.0" x2="399" y2="432.9" stroke="#181818" stroke-width="1.2"/><line x1="399" y1="428.3" x2="399" y2="431.2" stroke="#181818" stroke-width="2.2"/><line x1="398.9" y1="426.6" x2="398.9" y2="430.2" stroke="#40e8b8" stroke-width="1" opacity="0.45"/><line x1="401.0" y1="426.6" x2="401.0" y2="430.2" stroke="#e070a0" stroke-width="1" opacity="0.4"/><line x1="400" y1="426.6" x2="400" y2="430.2" stroke="#7a0a28" stroke-width="1.2"/><line x1="400" y1="427.6" x2="400" y2="429.3" stroke="#7a0a28" stroke-width="2.2"/><line x1="399.9" y1="422.4" x2="399.9" y2="430.4" stroke="#40e8b8" stroke-width="1" opacity="0.45"/><line x1="402.0" y1="422.4" x2="402.0" y2="430.4" stroke="#e070a0" stroke-width="1" opacity="0.4"/><line x1="401" y1="422.4" x2="401" y2="430.4" stroke="#7a0a28" stroke-width="1.2"/><line x1="401" y1="424.2" x2="401" y2="428.6" stroke="#7a0a28" stroke-width="2.2"/><line x1="400.9" y1="422.0" x2="400.9" y2="428.4" stroke="#40e8b8" stroke-width="1" opacity="0.45"/><line x1="403.0" y1="422.0" x2="403.0" y2="428.4" stroke="#e070a0" stroke-width="1" opacity="0.4"/><line x1="402" y1="422.0" x2="402" y2="428.4" stroke="#181818" stroke-width="1.2"/><line x1="402" y1="424.2" x2="402" y2="427.6" stroke="#181818" stroke-width="2.2"/><line x1="401.9" y1="424.9" x2="401.9" y2="431.2" stroke="#40e8b8" stroke-width="1" opacity="0.45"/><line x1="404.0" y1="424.9" x2="404.0" y2="431.2" stroke="#e070a0" stroke-width="1" opacity="0.4"/><line x1="403" y1="424.9" x2="403" y2="431.2" stroke="#181818" stroke-width="1.2"/><line x1="403" y1="426.6" x2="403" y2="430.9" stroke="#181818" stroke-width="2.2"/><line x1="402.9" y1="429.3" x2="402.9" y2="465.0" stroke="#40e8b8" stroke-width="1" opacity="0.45"/><line x1="405.0" y1="429.3" x2="405.0" y2="465.0" stroke="#e070a0" stroke-width="1" opacity="0.4"/><line x1="404" y1="429.3" x2="404" y2="465.0" stroke="#181818" stroke-width="1.2"/><line x1="404" y1="429.9" x2="404" y2="439.6" stroke="#181818" stroke-width="2.2"/><line x1="403.9" y1="433.4" x2="403.9" y2="454.2" stroke="#40e8b8" stroke-width="1" opacity="0.45"/><line x1="406.0" y1="433.4" x2="406.0" y2="454.2" stroke="#e070a0" stroke-width="1" opacity="0.4"/><line x1="405" y1="433.4" x2="405" y2="454.2" stroke="#7a0a28" stroke-width="1.2"/><line x1="405" y1="438.6" x2="405" y2="448.6" stroke="#7a0a28" stroke-width="2.2"/><line x1="404.9" y1="446.9" x2="404.9" y2="457.2" stroke="#40e8b8" stroke-width="1" opacity="0.45"/><line x1="407.0" y1="446.9" x2="407.0" y2="457.2" stroke="#e070a0" stroke-width="1" opacity="0.4"/><line x1="406" y1="446.9" x2="406" y2="457.2" stroke="#7a0a28" stroke-width="1.2"/><line x1="406" y1="447.6" x2="406" y2="454.5" stroke="#7a0a28" stroke-width="2.2"/><line x1="405.9" y1="446.7" x2="405.9" y2="458.7" stroke="#40e8b8" stroke-width="1" opacity="0.45"/><line x1="408.0" y1="446.7" x2="408.0" y2="458.7" stroke="#e070a0" stroke-width="1" opacity="0.4"/><line x1="407" y1="446.7" x2="407" y2="458.7" stroke="#181818" stroke-width="1.2"/><line x1="407" y1="450.1" x2="407" y2="454.5" stroke="#181818" stroke-width="2.2"/><line x1="406.9" y1="445.9" x2="406.9" y2="451.9" stroke="#40e8b8" stroke-width="1" opacity="0.45"/><line x1="409.0" y1="445.9" x2="409.0" y2="451.9" stroke="#e070a0" stroke-width="1" opacity="0.4"/><line x1="408" y1="445.9" x2="408" y2="451.9" stroke="#181818" stroke-width="1.2"/><line x1="408" y1="448.5" x2="408" y2="451.1" stroke="#181818" stroke-width="2.2"/><line x1="407.9" y1="445.0" x2="407.9" y2="451.1" stroke="#40e8b8" stroke-width="1" opacity="0.45"/><line x1="410.0" y1="445.0" x2="410.0" y2="451.1" stroke="#e070a0" stroke-width="1" opacity="0.4"/><line x1="409" y1="445.0" x2="409" y2="451.1" stroke="#7a0a28" stroke-width="1.2"/><line x1="409" y1="445.2" x2="409" y2="449.5" stroke="#7a0a28" stroke-width="2.2"/><line x1="408.9" y1="444.0" x2="408.9" y2="447.1" stroke="#40e8b8" stroke-width="1" opacity="0.45"/><line x1="411.0" y1="444.0" x2="411.0" y2="447.1" stroke="#e070a0" stroke-width="1" opacity="0.4"/><line x1="410" y1="444.0" x2="410" y2="447.1" stroke="#181818" stroke-width="1.2"/><line x1="410" y1="444.4" x2="410" y2="446.2" stroke="#181818" stroke-width="2.2"/><line x1="409.9" y1="443.2" x2="409.9" y2="446.5" stroke="#40e8b8" stroke-width="1" opacity="0.45"/><line x1="412.0" y1="443.2" x2="412.0" y2="446.5" stroke="#e070a0" stroke-width="1" opacity="0.4"/><line x1="411" y1="443.2" x2="411" y2="446.5" stroke="#7a0a28" stroke-width="1.2"/><line x1="411" y1="443.7" x2="411" y2="445.4" stroke="#7a0a28" stroke-width="2.2"/><line x1="410.9" y1="440.7" x2="410.9" y2="450.2" stroke="#40e8b8" stroke-width="1" opacity="0.45"/><line x1="413.0" y1="440.7" x2="413.0" y2="450.2" stroke="#e070a0" stroke-width="1" opacity="0.4"/><line x1="412" y1="440.7" x2="412" y2="450.2" stroke="#181818" stroke-width="1.2"/><line x1="412" y1="443.7" x2="412" y2="447.6" stroke="#181818" stroke-width="2.2"/><line x1="411.9" y1="440.0" x2="411.9" y2="448.9" stroke="#40e8b8" stroke-width="1" opacity="0.45"/><line x1="414.0" y1="440.0" x2="414.0" y2="448.9" stroke="#e070a0" stroke-width="1" opacity="0.4"/><line x1="413" y1="440.0" x2="413" y2="448.9" stroke="#181818" stroke-width="1.2"/><line x1="413" y1="440.5" x2="413" y2="447.6" stroke="#181818" stroke-width="2.2"/><line x1="412.9" y1="435.5" x2="412.9" y2="444.7" stroke="#40e8b8" stroke-width="1" opacity="0.45"/><line x1="415.0" y1="435.5" x2="415.0" y2="444.7" stroke="#e070a0" stroke-width="1" opacity="0.4"/><line x1="414" y1="435.5" x2="414" y2="444.7" stroke="#7a0a28" stroke-width="1.2"/><line x1="414" y1="437.1" x2="414" y2="441.5" stroke="#7a0a28" stroke-width="2.2"/><line x1="413.9" y1="427.4" x2="413.9" y2="441.2" stroke="#40e8b8" stroke-width="1" opacity="0.45"/><line x1="416.0" y1="427.4" x2="416.0" y2="441.2" stroke="#e070a0" stroke-width="1" opacity="0.4"/><line x1="415" y1="427.4" x2="415" y2="441.2" stroke="#181818" stroke-width="1.2"/><line x1="415" y1="430.2" x2="415" y2="438.1" stroke="#181818" stroke-width="2.2"/><line x1="414.9" y1="429.0" x2="414.9" y2="433.9" stroke="#40e8b8" stroke-width="1" opacity="0.45"/><line x1="417.0" y1="429.0" x2="417.0" y2="433.9" stroke="#e070a0" stroke-width="1" opacity="0.4"/><line x1="416" y1="429.0" x2="416" y2="433.9" stroke="#181818" stroke-width="1.2"/><line x1="416" y1="430.2" x2="416" y2="432.6" stroke="#181818" stroke-width="2.2"/><line x1="415.9" y1="425.5" x2="415.9" y2="433.2" stroke="#40e8b8" stroke-width="1" opacity="0.45"/><line x1="418.0" y1="425.5" x2="418.0" y2="433.2" stroke="#e070a0" stroke-width="1" opacity="0.4"/><line x1="417" y1="425.5" x2="417" y2="433.2" stroke="#181818" stroke-width="1.2"/><line x1="417" y1="426.4" x2="417" y2="432.6" stroke="#181818" stroke-width="2.2"/><line x1="416.9" y1="424.7" x2="416.9" y2="435.6" stroke="#40e8b8" stroke-width="1" opacity="0.45"/><line x1="419.0" y1="424.7" x2="419.0" y2="435.6" stroke="#e070a0" stroke-width="1" opacity="0.4"/><line x1="418" y1="424.7" x2="418" y2="435.6" stroke="#181818" stroke-width="1.2"/><line x1="418" y1="426.4" x2="418" y2="433.5" stroke="#181818" stroke-width="2.2"/><line x1="417.9" y1="428.9" x2="417.9" y2="435.5" stroke="#40e8b8" stroke-width="1" opacity="0.45"/><line x1="420.0" y1="428.9" x2="420.0" y2="435.5" stroke="#e070a0" stroke-width="1" opacity="0.4"/><line x1="419" y1="428.9" x2="419" y2="435.5" stroke="#181818" stroke-width="1.2"/><line x1="419" y1="429.8" x2="419" y2="433.5" stroke="#181818" stroke-width="2.2"/><line x1="418.9" y1="429.6" x2="418.9" y2="434.5" stroke="#40e8b8" stroke-width="1" opacity="0.45"/><line x1="421.0" y1="429.6" x2="421.0" y2="434.5" stroke="#e070a0" stroke-width="1" opacity="0.4"/><line x1="420" y1="429.6" x2="420" y2="434.5" stroke="#181818" stroke-width="1.2"/><line x1="420" y1="429.8" x2="420" y2="432.4" stroke="#181818" stroke-width="2.2"/><line x1="419.9" y1="429.2" x2="419.9" y2="435.4" stroke="#40e8b8" stroke-width="1" opacity="0.45"/><line x1="422.0" y1="429.2" x2="422.0" y2="435.4" stroke="#e070a0" stroke-width="1" opacity="0.4"/><line x1="421" y1="429.2" x2="421" y2="435.4" stroke="#7a0a28" stroke-width="1.2"/><line x1="421" y1="430.6" x2="421" y2="432.4" stroke="#7a0a28" stroke-width="2.2"/><line x1="420.9" y1="430.4" x2="420.9" y2="435.0" stroke="#40e8b8" stroke-width="1" opacity="0.45"/><line x1="423.0" y1="430.4" x2="423.0" y2="435.0" stroke="#e070a0" stroke-width="1" opacity="0.4"/><line x1="422" y1="430.4" x2="422" y2="435.0" stroke="#181818" stroke-width="1.2"/><line x1="422" y1="430.6" x2="422" y2="434.2" stroke="#181818" stroke-width="2.2"/><line x1="421.9" y1="430.2" x2="421.9" y2="441.1" stroke="#40e8b8" stroke-width="1" opacity="0.45"/><line x1="424.0" y1="430.2" x2="424.0" y2="441.1" stroke="#e070a0" stroke-width="1" opacity="0.4"/><line x1="423" y1="430.2" x2="423" y2="441.1" stroke="#7a0a28" stroke-width="1.2"/><line x1="423" y1="433.2" x2="423" y2="439.0" stroke="#7a0a28" stroke-width="2.2"/><line x1="422.9" y1="432.9" x2="422.9" y2="441.4" stroke="#40e8b8" stroke-width="1" opacity="0.45"/><line x1="425.0" y1="432.9" x2="425.0" y2="441.4" stroke="#e070a0" stroke-width="1" opacity="0.4"/><line x1="424" y1="432.9" x2="424" y2="441.4" stroke="#7a0a28" stroke-width="1.2"/><line x1="424" y1="435.3" x2="424" y2="439.0" stroke="#7a0a28" stroke-width="2.2"/><line x1="423.9" y1="433.4" x2="423.9" y2="438.7" stroke="#40e8b8" stroke-width="1" opacity="0.45"/><line x1="426.0" y1="433.4" x2="426.0" y2="438.7" stroke="#e070a0" stroke-width="1" opacity="0.4"/><line x1="425" y1="433.4" x2="425" y2="438.7" stroke="#7a0a28" stroke-width="1.2"/><line x1="425" y1="434.9" x2="425" y2="436.3" stroke="#7a0a28" stroke-width="2.2"/><line x1="424.9" y1="432.8" x2="424.9" y2="439.1" stroke="#40e8b8" stroke-width="1" opacity="0.45"/><line x1="427.0" y1="432.8" x2="427.0" y2="439.1" stroke="#e070a0" stroke-width="1" opacity="0.4"/><line x1="426" y1="432.8" x2="426" y2="439.1" stroke="#7a0a28" stroke-width="1.2"/><line x1="426" y1="434.2" x2="426" y2="435.9" stroke="#7a0a28" stroke-width="2.2"/><line x1="425.9" y1="432.9" x2="425.9" y2="438.0" stroke="#40e8b8" stroke-width="1" opacity="0.45"/><line x1="428.0" y1="432.9" x2="428.0" y2="438.0" stroke="#e070a0" stroke-width="1" opacity="0.4"/><line x1="427" y1="432.9" x2="427" y2="438.0" stroke="#7a0a28" stroke-width="1.2"/><line x1="427" y1="434.2" x2="427" y2="436.0" stroke="#7a0a28" stroke-width="2.2"/><line x1="426.9" y1="432.2" x2="426.9" y2="437.3" stroke="#40e8b8" stroke-width="1" opacity="0.45"/><line x1="429.0" y1="432.2" x2="429.0" y2="437.3" stroke="#e070a0" stroke-width="1" opacity="0.4"/><line x1="428" y1="432.2" x2="428" y2="437.3" stroke="#181818" stroke-width="1.2"/><line x1="428" y1="432.6" x2="428" y2="436.0" stroke="#181818" stroke-width="2.2"/><line x1="427.9" y1="432.1" x2="427.9" y2="439.9" stroke="#40e8b8" stroke-width="1" opacity="0.45"/><line x1="430.0" y1="432.1" x2="430.0" y2="439.9" stroke="#e070a0" stroke-width="1" opacity="0.4"/><line x1="429" y1="432.1" x2="429" y2="439.9" stroke="#181818" stroke-width="1.2"/><line x1="429" y1="432.6" x2="429" y2="439.4" stroke="#181818" stroke-width="2.2"/><line x1="428.9" y1="436.5" x2="428.9" y2="444.4" stroke="#40e8b8" stroke-width="1" opacity="0.45"/><line x1="431.0" y1="436.5" x2="431.0" y2="444.4" stroke="#e070a0" stroke-width="1" opacity="0.4"/><line x1="430" y1="436.5" x2="430" y2="444.4" stroke="#181818" stroke-width="1.2"/><line x1="430" y1="438.4" x2="430" y2="443.2" stroke="#181818" stroke-width="2.2"/><line x1="429.9" y1="439.3" x2="429.9" y2="445.5" stroke="#40e8b8" stroke-width="1" opacity="0.45"/><line x1="432.0" y1="439.3" x2="432.0" y2="445.5" stroke="#e070a0" stroke-width="1" opacity="0.4"/><line x1="431" y1="439.3" x2="431" y2="445.5" stroke="#7a0a28" stroke-width="1.2"/><line x1="431" y1="442.2" x2="431" y2="445.1" stroke="#7a0a28" stroke-width="2.2"/><line x1="430.9" y1="442.9" x2="430.9" y2="447.3" stroke="#40e8b8" stroke-width="1" opacity="0.45"/><line x1="433.0" y1="442.9" x2="433.0" y2="447.3" stroke="#e070a0" stroke-width="1" opacity="0.4"/><line x1="432" y1="442.9" x2="432" y2="447.3" stroke="#7a0a28" stroke-width="1.2"/><line x1="432" y1="443.2" x2="432" y2="445.1" stroke="#7a0a28" stroke-width="2.2"/><line x1="431.9" y1="441.8" x2="431.9" y2="446.7" stroke="#40e8b8" stroke-width="1" opacity="0.45"/><line x1="434.0" y1="441.8" x2="434.0" y2="446.7" stroke="#e070a0" stroke-width="1" opacity="0.4"/><line x1="433" y1="441.8" x2="433" y2="446.7" stroke="#7a0a28" stroke-width="1.2"/><line x1="433" y1="443.2" x2="433" y2="445.4" stroke="#7a0a28" stroke-width="2.2"/><line x1="432.9" y1="441.9" x2="432.9" y2="449.6" stroke="#40e8b8" stroke-width="1" opacity="0.45"/><line x1="435.0" y1="441.9" x2="435.0" y2="449.6" stroke="#e070a0" stroke-width="1" opacity="0.4"/><line x1="434" y1="441.9" x2="434" y2="449.6" stroke="#7a0a28" stroke-width="1.2"/><line x1="434" y1="444.4" x2="434" y2="447.7" stroke="#7a0a28" stroke-width="2.2"/><line x1="433.9" y1="444.6" x2="433.9" y2="449.5" stroke="#40e8b8" stroke-width="1" opacity="0.45"/><line x1="436.0" y1="444.6" x2="436.0" y2="449.5" stroke="#e070a0" stroke-width="1" opacity="0.4"/><line x1="435" y1="444.6" x2="435" y2="449.5" stroke="#7a0a28" stroke-width="1.2"/><line x1="435" y1="445.9" x2="435" y2="447.7" stroke="#7a0a28" stroke-width="2.2"/><line x1="434.9" y1="446.0" x2="434.9" y2="447.6" stroke="#40e8b8" stroke-width="1" opacity="0.45"/><line x1="437.0" y1="446.0" x2="437.0" y2="447.6" stroke="#e070a0" stroke-width="1" opacity="0.4"/><line x1="436" y1="446.0" x2="436" y2="447.6" stroke="#7a0a28" stroke-width="1.2"/><line x1="436" y1="445.9" x2="436" y2="447.6" stroke="#7a0a28" stroke-width="2.2"/><line x1="435.9" y1="441.7" x2="435.9" y2="449.0" stroke="#40e8b8" stroke-width="1" opacity="0.45"/><line x1="438.0" y1="441.7" x2="438.0" y2="449.0" stroke="#e070a0" stroke-width="1" opacity="0.4"/><line x1="437" y1="441.7" x2="437" y2="449.0" stroke="#181818" stroke-width="1.2"/><line x1="437" y1="444.4" x2="437" y2="447.6" stroke="#181818" stroke-width="2.2"/><line x1="436.9" y1="443.9" x2="436.9" y2="450.9" stroke="#40e8b8" stroke-width="1" opacity="0.45"/><line x1="439.0" y1="443.9" x2="439.0" y2="450.9" stroke="#e070a0" stroke-width="1" opacity="0.4"/><line x1="438" y1="443.9" x2="438" y2="450.9" stroke="#7a0a28" stroke-width="1.2"/><line x1="438" y1="444.4" x2="438" y2="448.1" stroke="#7a0a28" stroke-width="2.2"/><line x1="437.9" y1="442.0" x2="437.9" y2="450.0" stroke="#40e8b8" stroke-width="1" opacity="0.45"/><line x1="440.0" y1="442.0" x2="440.0" y2="450.0" stroke="#e070a0" stroke-width="1" opacity="0.4"/><line x1="439" y1="442.0" x2="439" y2="450.0" stroke="#7a0a28" stroke-width="1.2"/><line x1="439" y1="443.2" x2="439" y2="448.1" stroke="#7a0a28" stroke-width="2.2"/><line x1="438.9" y1="439.7" x2="438.9" y2="448.5" stroke="#40e8b8" stroke-width="1" opacity="0.45"/><line x1="441.0" y1="439.7" x2="441.0" y2="448.5" stroke="#e070a0" stroke-width="1" opacity="0.4"/><line x1="440" y1="439.7" x2="440" y2="448.5" stroke="#7a0a28" stroke-width="1.2"/><line x1="440" y1="443.2" x2="440" y2="445.9" stroke="#7a0a28" stroke-width="2.2"/><line x1="439.9" y1="442.6" x2="439.9" y2="449.7" stroke="#40e8b8" stroke-width="1" opacity="0.45"/><line x1="442.0" y1="442.6" x2="442.0" y2="449.7" stroke="#e070a0" stroke-width="1" opacity="0.4"/><line x1="441" y1="442.6" x2="441" y2="449.7" stroke="#181818" stroke-width="1.2"/><line x1="441" y1="444.9" x2="441" y2="449.3" stroke="#181818" stroke-width="2.2"/><line x1="440.9" y1="443.5" x2="440.9" y2="452.3" stroke="#40e8b8" stroke-width="1" opacity="0.45"/><line x1="443.0" y1="443.5" x2="443.0" y2="452.3" stroke="#e070a0" stroke-width="1" opacity="0.4"/><line x1="442" y1="443.5" x2="442" y2="452.3" stroke="#181818" stroke-width="1.2"/><line x1="442" y1="447.3" x2="442" y2="449.3" stroke="#181818" stroke-width="2.2"/><line x1="441.9" y1="444.4" x2="441.9" y2="450.1" stroke="#40e8b8" stroke-width="1" opacity="0.45"/><line x1="444.0" y1="444.4" x2="444.0" y2="450.1" stroke="#e070a0" stroke-width="1" opacity="0.4"/><line x1="443" y1="444.4" x2="443" y2="450.1" stroke="#7a0a28" stroke-width="1.2"/><line x1="443" y1="446.0" x2="443" y2="448.3" stroke="#7a0a28" stroke-width="2.2"/><line x1="442.9" y1="444.5" x2="442.9" y2="449.2" stroke="#40e8b8" stroke-width="1" opacity="0.45"/><line x1="445.0" y1="444.5" x2="445.0" y2="449.2" stroke="#e070a0" stroke-width="1" opacity="0.4"/><line x1="444" y1="444.5" x2="444" y2="449.2" stroke="#181818" stroke-width="1.2"/><line x1="444" y1="446.0" x2="444" y2="449.0" stroke="#181818" stroke-width="2.2"/><line x1="443.9" y1="446.0" x2="443.9" y2="450.9" stroke="#40e8b8" stroke-width="1" opacity="0.45"/><line x1="446.0" y1="446.0" x2="446.0" y2="450.9" stroke="#e070a0" stroke-width="1" opacity="0.4"/><line x1="445" y1="446.0" x2="445" y2="450.9" stroke="#181818" stroke-width="1.2"/><line x1="445" y1="448.0" x2="445" y2="449.1" stroke="#181818" stroke-width="2.2"/><line x1="444.9" y1="447.4" x2="444.9" y2="450.4" stroke="#40e8b8" stroke-width="1" opacity="0.45"/><line x1="447.0" y1="447.4" x2="447.0" y2="450.4" stroke="#e070a0" stroke-width="1" opacity="0.4"/><line x1="446" y1="447.4" x2="446" y2="450.4" stroke="#7a0a28" stroke-width="1.2"/><line x1="446" y1="447.9" x2="446" y2="449.1" stroke="#7a0a28" stroke-width="2.2"/><line x1="445.9" y1="444.0" x2="445.9" y2="451.4" stroke="#40e8b8" stroke-width="1" opacity="0.45"/><line x1="448.0" y1="444.0" x2="448.0" y2="451.4" stroke="#e070a0" stroke-width="1" opacity="0.4"/><line x1="447" y1="444.0" x2="447" y2="451.4" stroke="#181818" stroke-width="1.2"/><line x1="447" y1="446.0" x2="447" y2="448.9" stroke="#181818" stroke-width="2.2"/><line x1="446.9" y1="442.8" x2="446.9" y2="449.8" stroke="#40e8b8" stroke-width="1" opacity="0.45"/><line x1="449.0" y1="442.8" x2="449.0" y2="449.8" stroke="#e070a0" stroke-width="1" opacity="0.4"/><line x1="448" y1="442.8" x2="448" y2="449.8" stroke="#181818" stroke-width="1.2"/><line x1="448" y1="446.0" x2="448" y2="448.0" stroke="#181818" stroke-width="2.2"/><line x1="447.9" y1="443.9" x2="447.9" y2="450.4" stroke="#40e8b8" stroke-width="1" opacity="0.45"/><line x1="450.0" y1="443.9" x2="450.0" y2="450.4" stroke="#e070a0" stroke-width="1" opacity="0.4"/><line x1="449" y1="443.9" x2="449" y2="450.4" stroke="#7a0a28" stroke-width="1.2"/><line x1="449" y1="447.0" x2="449" y2="448.8" stroke="#7a0a28" stroke-width="2.2"/><line x1="448.9" y1="446.9" x2="448.9" y2="451.8" stroke="#40e8b8" stroke-width="1" opacity="0.45"/><line x1="451.0" y1="446.9" x2="451.0" y2="451.8" stroke="#e070a0" stroke-width="1" opacity="0.4"/><line x1="450" y1="446.9" x2="450" y2="451.8" stroke="#7a0a28" stroke-width="1.2"/><line x1="450" y1="447.8" x2="450" y2="449.1" stroke="#7a0a28" stroke-width="2.2"/><line x1="449.9" y1="446.2" x2="449.9" y2="451.8" stroke="#40e8b8" stroke-width="1" opacity="0.45"/><line x1="452.0" y1="446.2" x2="452.0" y2="451.8" stroke="#e070a0" stroke-width="1" opacity="0.4"/><line x1="451" y1="446.2" x2="451" y2="451.8" stroke="#181818" stroke-width="1.2"/><line x1="451" y1="448.1" x2="451" y2="450.8" stroke="#181818" stroke-width="2.2"/><line x1="450.9" y1="445.1" x2="450.9" y2="453.5" stroke="#40e8b8" stroke-width="1" opacity="0.45"/><line x1="453.0" y1="445.1" x2="453.0" y2="453.5" stroke="#e070a0" stroke-width="1" opacity="0.4"/><line x1="452" y1="445.1" x2="452" y2="453.5" stroke="#181818" stroke-width="1.2"/><line x1="452" y1="448.0" x2="452" y2="450.8" stroke="#181818" stroke-width="2.2"/><line x1="451.9" y1="444.4" x2="451.9" y2="450.1" stroke="#40e8b8" stroke-width="1" opacity="0.45"/><line x1="454.0" y1="444.4" x2="454.0" y2="450.1" stroke="#e070a0" stroke-width="1" opacity="0.4"/><line x1="453" y1="444.4" x2="453" y2="450.1" stroke="#181818" stroke-width="1.2"/><line x1="453" y1="448.0" x2="453" y2="449.1" stroke="#181818" stroke-width="2.2"/><line x1="452.9" y1="437.8" x2="452.9" y2="453.0" stroke="#40e8b8" stroke-width="1" opacity="0.45"/><line x1="455.0" y1="437.8" x2="455.0" y2="453.0" stroke="#e070a0" stroke-width="1" opacity="0.4"/><line x1="454" y1="437.8" x2="454" y2="453.0" stroke="#7a0a28" stroke-width="1.2"/><line x1="454" y1="442.7" x2="454" y2="449.1" stroke="#7a0a28" stroke-width="2.2"/><line x1="453.9" y1="441.1" x2="453.9" y2="447.9" stroke="#40e8b8" stroke-width="1" opacity="0.45"/><line x1="456.0" y1="441.1" x2="456.0" y2="447.9" stroke="#e070a0" stroke-width="1" opacity="0.4"/><line x1="455" y1="441.1" x2="455" y2="447.9" stroke="#181818" stroke-width="1.2"/><line x1="455" y1="442.7" x2="455" y2="447.3" stroke="#181818" stroke-width="2.2"/><line x1="454.9" y1="443.8" x2="454.9" y2="448.7" stroke="#40e8b8" stroke-width="1" opacity="0.45"/><line x1="457.0" y1="443.8" x2="457.0" y2="448.7" stroke="#e070a0" stroke-width="1" opacity="0.4"/><line x1="456" y1="443.8" x2="456" y2="448.7" stroke="#7a0a28" stroke-width="1.2"/><line x1="456" y1="446.3" x2="456" y2="447.6" stroke="#7a0a28" stroke-width="2.2"/><line x1="455.9" y1="439.3" x2="455.9" y2="449.8" stroke="#40e8b8" stroke-width="1" opacity="0.45"/><line x1="458.0" y1="439.3" x2="458.0" y2="449.8" stroke="#e070a0" stroke-width="1" opacity="0.4"/><line x1="457" y1="439.3" x2="457" y2="449.8" stroke="#181818" stroke-width="1.2"/><line x1="457" y1="442.7" x2="457" y2="447.6" stroke="#181818" stroke-width="2.2"/><line x1="456.9" y1="440.7" x2="456.9" y2="445.0" stroke="#40e8b8" stroke-width="1" opacity="0.45"/><line x1="459.0" y1="440.7" x2="459.0" y2="445.0" stroke="#e070a0" stroke-width="1" opacity="0.4"/><line x1="458" y1="440.7" x2="458" y2="445.0" stroke="#7a0a28" stroke-width="1.2"/><line x1="458" y1="442.4" x2="458" y2="443.7" stroke="#7a0a28" stroke-width="2.2"/><line x1="457.9" y1="427.8" x2="457.9" y2="448.3" stroke="#40e8b8" stroke-width="1" opacity="0.45"/><line x1="460.0" y1="427.8" x2="460.0" y2="448.3" stroke="#e070a0" stroke-width="1" opacity="0.4"/><line x1="459" y1="427.8" x2="459" y2="448.3" stroke="#7a0a28" stroke-width="1.2"/><line x1="459" y1="433.4" x2="459" y2="443.4" stroke="#7a0a28" stroke-width="2.2"/><line x1="458.9" y1="432.3" x2="458.9" y2="435.7" stroke="#40e8b8" stroke-width="1" opacity="0.45"/><line x1="461.0" y1="432.3" x2="461.0" y2="435.7" stroke="#e070a0" stroke-width="1" opacity="0.4"/><line x1="460" y1="432.3" x2="460" y2="435.7" stroke="#181818" stroke-width="1.2"/><line x1="460" y1="433.4" x2="460" y2="434.4" stroke="#181818" stroke-width="2.2"/><line x1="459.9" y1="425.6" x2="459.9" y2="436.0" stroke="#40e8b8" stroke-width="1" opacity="0.45"/><line x1="462.0" y1="425.6" x2="462.0" y2="436.0" stroke="#e070a0" stroke-width="1" opacity="0.4"/><line x1="461" y1="425.6" x2="461" y2="436.0" stroke="#7a0a28" stroke-width="1.2"/><line x1="461" y1="427.7" x2="461" y2="434.4" stroke="#7a0a28" stroke-width="2.2"/><line x1="460.9" y1="426.1" x2="460.9" y2="432.0" stroke="#40e8b8" stroke-width="1" opacity="0.45"/><line x1="463.0" y1="426.1" x2="463.0" y2="432.0" stroke="#e070a0" stroke-width="1" opacity="0.4"/><line x1="462" y1="426.1" x2="462" y2="432.0" stroke="#181818" stroke-width="1.2"/><line x1="462" y1="427.7" x2="462" y2="429.9" stroke="#181818" stroke-width="2.2"/><line x1="461.9" y1="425.6" x2="461.9" y2="432.9" stroke="#40e8b8" stroke-width="1" opacity="0.45"/><line x1="464.0" y1="425.6" x2="464.0" y2="432.9" stroke="#e070a0" stroke-width="1" opacity="0.4"/><line x1="463" y1="425.6" x2="463" y2="432.9" stroke="#181818" stroke-width="1.2"/><line x1="463" y1="426.6" x2="463" y2="429.9" stroke="#181818" stroke-width="2.2"/><line x1="462.9" y1="418.2" x2="462.9" y2="431.5" stroke="#40e8b8" stroke-width="1" opacity="0.45"/><line x1="465.0" y1="418.2" x2="465.0" y2="431.5" stroke="#e070a0" stroke-width="1" opacity="0.4"/><line x1="464" y1="418.2" x2="464" y2="431.5" stroke="#7a0a28" stroke-width="1.2"/><line x1="464" y1="421.0" x2="464" y2="427.6" stroke="#7a0a28" stroke-width="2.2"/><line x1="463.9" y1="417.4" x2="463.9" y2="424.4" stroke="#40e8b8" stroke-width="1" opacity="0.45"/><line x1="466.0" y1="417.4" x2="466.0" y2="424.4" stroke="#e070a0" stroke-width="1" opacity="0.4"/><line x1="465" y1="417.4" x2="465" y2="424.4" stroke="#7a0a28" stroke-width="1.2"/><line x1="465" y1="420.0" x2="465" y2="422.0" stroke="#7a0a28" stroke-width="2.2"/><line x1="464.9" y1="417.9" x2="464.9" y2="422.9" stroke="#40e8b8" stroke-width="1" opacity="0.45"/><line x1="467.0" y1="417.9" x2="467.0" y2="422.9" stroke="#e070a0" stroke-width="1" opacity="0.4"/><line x1="466" y1="417.9" x2="466" y2="422.9" stroke="#7a0a28" stroke-width="1.2"/><line x1="466" y1="418.6" x2="466" y2="421.0" stroke="#7a0a28" stroke-width="2.2"/><line x1="465.9" y1="414.5" x2="465.9" y2="425.9" stroke="#40e8b8" stroke-width="1" opacity="0.45"/><line x1="468.0" y1="414.5" x2="468.0" y2="425.9" stroke="#e070a0" stroke-width="1" opacity="0.4"/><line x1="467" y1="414.5" x2="467" y2="425.9" stroke="#181818" stroke-width="1.2"/><line x1="467" y1="418.6" x2="467" y2="423.2" stroke="#181818" stroke-width="2.2"/><line x1="466.9" y1="415.4" x2="466.9" y2="424.0" stroke="#40e8b8" stroke-width="1" opacity="0.45"/><line x1="469.0" y1="415.4" x2="469.0" y2="424.0" stroke="#e070a0" stroke-width="1" opacity="0.4"/><line x1="468" y1="415.4" x2="468" y2="424.0" stroke="#181818" stroke-width="1.2"/><line x1="468" y1="417.2" x2="468" y2="423.2" stroke="#181818" stroke-width="2.2"/><line x1="467.9" y1="413.6" x2="467.9" y2="418.9" stroke="#40e8b8" stroke-width="1" opacity="0.45"/><line x1="470.0" y1="413.6" x2="470.0" y2="418.9" stroke="#e070a0" stroke-width="1" opacity="0.4"/><line x1="469" y1="413.6" x2="469" y2="418.9" stroke="#181818" stroke-width="1.2"/><line x1="469" y1="416.5" x2="469" y2="418.2" stroke="#181818" stroke-width="2.2"/><line x1="468.9" y1="415.2" x2="468.9" y2="418.0" stroke="#40e8b8" stroke-width="1" opacity="0.45"/><line x1="471.0" y1="415.2" x2="471.0" y2="418.0" stroke="#e070a0" stroke-width="1" opacity="0.4"/><line x1="470" y1="415.2" x2="470" y2="418.0" stroke="#7a0a28" stroke-width="1.2"/><line x1="470" y1="415.8" x2="470" y2="417.5" stroke="#7a0a28" stroke-width="2.2"/><line x1="469.9" y1="411.7" x2="469.9" y2="418.5" stroke="#40e8b8" stroke-width="1" opacity="0.45"/><line x1="472.0" y1="411.7" x2="472.0" y2="418.5" stroke="#e070a0" stroke-width="1" opacity="0.4"/><line x1="471" y1="411.7" x2="471" y2="418.5" stroke="#7a0a28" stroke-width="1.2"/><line x1="471" y1="414.1" x2="471" y2="416.8" stroke="#7a0a28" stroke-width="2.2"/><line x1="470.9" y1="409.7" x2="470.9" y2="419.0" stroke="#40e8b8" stroke-width="1" opacity="0.45"/><line x1="473.0" y1="409.7" x2="473.0" y2="419.0" stroke="#e070a0" stroke-width="1" opacity="0.4"/><line x1="472" y1="409.7" x2="472" y2="419.0" stroke="#7a0a28" stroke-width="1.2"/><line x1="472" y1="411.6" x2="472" y2="415.1" stroke="#7a0a28" stroke-width="2.2"/><line x1="471.9" y1="406.2" x2="471.9" y2="412.7" stroke="#40e8b8" stroke-width="1" opacity="0.45"/><line x1="474.0" y1="406.2" x2="474.0" y2="412.7" stroke="#e070a0" stroke-width="1" opacity="0.4"/><line x1="473" y1="406.2" x2="473" y2="412.7" stroke="#7a0a28" stroke-width="1.2"/><line x1="473" y1="408.0" x2="473" y2="412.6" stroke="#7a0a28" stroke-width="2.2"/><line x1="472.9" y1="406.5" x2="472.9" y2="411.2" stroke="#40e8b8" stroke-width="1" opacity="0.45"/><line x1="475.0" y1="406.5" x2="475.0" y2="411.2" stroke="#e070a0" stroke-width="1" opacity="0.4"/><line x1="474" y1="406.5" x2="474" y2="411.2" stroke="#181818" stroke-width="1.2"/><line x1="474" y1="407.2" x2="474" y2="409.0" stroke="#181818" stroke-width="2.2"/><line x1="473.9" y1="405.9" x2="473.9" y2="412.7" stroke="#40e8b8" stroke-width="1" opacity="0.45"/><line x1="476.0" y1="405.9" x2="476.0" y2="412.7" stroke="#e070a0" stroke-width="1" opacity="0.4"/><line x1="475" y1="405.9" x2="475" y2="412.7" stroke="#181818" stroke-width="1.2"/><line x1="475" y1="407.2" x2="475" y2="410.1" stroke="#181818" stroke-width="2.2"/><line x1="474.9" y1="395.7" x2="474.9" y2="412.1" stroke="#40e8b8" stroke-width="1" opacity="0.45"/><line x1="477.0" y1="395.7" x2="477.0" y2="412.1" stroke="#e070a0" stroke-width="1" opacity="0.4"/><line x1="476" y1="395.7" x2="476" y2="412.1" stroke="#7a0a28" stroke-width="1.2"/><line x1="476" y1="399.1" x2="476" y2="410.1" stroke="#7a0a28" stroke-width="2.2"/><line x1="475.9" y1="380.6" x2="475.9" y2="401.1" stroke="#40e8b8" stroke-width="1" opacity="0.45"/><line x1="478.0" y1="380.6" x2="478.0" y2="401.1" stroke="#e070a0" stroke-width="1" opacity="0.4"/><line x1="477" y1="380.6" x2="477" y2="401.1" stroke="#7a0a28" stroke-width="1.2"/><line x1="477" y1="387.3" x2="477" y2="400.1" stroke="#7a0a28" stroke-width="2.2"/><line x1="476.9" y1="369.5" x2="476.9" y2="389.7" stroke="#40e8b8" stroke-width="1" opacity="0.45"/><line x1="479.0" y1="369.5" x2="479.0" y2="389.7" stroke="#e070a0" stroke-width="1" opacity="0.4"/><line x1="478" y1="369.5" x2="478" y2="389.7" stroke="#7a0a28" stroke-width="1.2"/><line x1="478" y1="373.3" x2="478" y2="388.3" stroke="#7a0a28" stroke-width="2.2"/><line x1="477.9" y1="368.1" x2="477.9" y2="378.6" stroke="#40e8b8" stroke-width="1" opacity="0.45"/><line x1="480.0" y1="368.1" x2="480.0" y2="378.6" stroke="#e070a0" stroke-width="1" opacity="0.4"/><line x1="479" y1="368.1" x2="479" y2="378.6" stroke="#7a0a28" stroke-width="1.2"/><line x1="479" y1="369.2" x2="479" y2="374.3" stroke="#7a0a28" stroke-width="2.2"/><line x1="478.9" y1="354.5" x2="478.9" y2="372.1" stroke="#40e8b8" stroke-width="1" opacity="0.45"/><line x1="481.0" y1="354.5" x2="481.0" y2="372.1" stroke="#e070a0" stroke-width="1" opacity="0.4"/><line x1="480" y1="354.5" x2="480" y2="372.1" stroke="#181818" stroke-width="1.2"/><line x1="480" y1="359.6" x2="480" y2="370.2" stroke="#181818" stroke-width="2.2"/><line x1="479.9" y1="344.8" x2="479.9" y2="361.5" stroke="#40e8b8" stroke-width="1" opacity="0.45"/><line x1="482.0" y1="344.8" x2="482.0" y2="361.5" stroke="#e070a0" stroke-width="1" opacity="0.4"/><line x1="481" y1="344.8" x2="481" y2="361.5" stroke="#181818" stroke-width="1.2"/><line x1="481" y1="346.4" x2="481" y2="360.6" stroke="#181818" stroke-width="2.2"/><line x1="480.9" y1="342.4" x2="480.9" y2="350.3" stroke="#40e8b8" stroke-width="1" opacity="0.45"/><line x1="483.0" y1="342.4" x2="483.0" y2="350.3" stroke="#e070a0" stroke-width="1" opacity="0.4"/><line x1="482" y1="342.4" x2="482" y2="350.3" stroke="#7a0a28" stroke-width="1.2"/><line x1="482" y1="343.7" x2="482" y2="347.4" stroke="#7a0a28" stroke-width="2.2"/><line x1="481.9" y1="326.6" x2="481.9" y2="347.2" stroke="#40e8b8" stroke-width="1" opacity="0.45"/><line x1="484.0" y1="326.6" x2="484.0" y2="347.2" stroke="#e070a0" stroke-width="1" opacity="0.4"/><line x1="483" y1="326.6" x2="483" y2="347.2" stroke="#181818" stroke-width="1.2"/><line x1="483" y1="327.8" x2="483" y2="344.7" stroke="#181818" stroke-width="2.2"/><line x1="482.9" y1="327.1" x2="482.9" y2="331.0" stroke="#40e8b8" stroke-width="1" opacity="0.45"/><line x1="485.0" y1="327.1" x2="485.0" y2="331.0" stroke="#e070a0" stroke-width="1" opacity="0.4"/><line x1="484" y1="327.1" x2="484" y2="331.0" stroke="#181818" stroke-width="1.2"/><line x1="484" y1="327.8" x2="484" y2="330.2" stroke="#181818" stroke-width="2.2"/><line x1="483.9" y1="326.3" x2="483.9" y2="337.1" stroke="#40e8b8" stroke-width="1" opacity="0.45"/><line x1="486.0" y1="326.3" x2="486.0" y2="337.1" stroke="#e070a0" stroke-width="1" opacity="0.4"/><line x1="485" y1="326.3" x2="485" y2="337.1" stroke="#181818" stroke-width="1.2"/><line x1="485" y1="329.2" x2="485" y2="336.7" stroke="#181818" stroke-width="2.2"/><line x1="484.9" y1="332.2" x2="484.9" y2="338.0" stroke="#40e8b8" stroke-width="1" opacity="0.45"/><line x1="487.0" y1="332.2" x2="487.0" y2="338.0" stroke="#e070a0" stroke-width="1" opacity="0.4"/><line x1="486" y1="332.2" x2="486" y2="338.0" stroke="#7a0a28" stroke-width="1.2"/><line x1="486" y1="334.9" x2="486" y2="336.7" stroke="#7a0a28" stroke-width="2.2"/><line x1="485.9" y1="333.7" x2="485.9" y2="338.3" stroke="#40e8b8" stroke-width="1" opacity="0.45"/><line x1="488.0" y1="333.7" x2="488.0" y2="338.3" stroke="#e070a0" stroke-width="1" opacity="0.4"/><line x1="487" y1="333.7" x2="487" y2="338.3" stroke="#7a0a28" stroke-width="1.2"/><line x1="487" y1="334.9" x2="487" y2="338.2" stroke="#7a0a28" stroke-width="2.2"/><line x1="486.9" y1="326.8" x2="486.9" y2="342.5" stroke="#40e8b8" stroke-width="1" opacity="0.45"/><line x1="489.0" y1="326.8" x2="489.0" y2="342.5" stroke="#e070a0" stroke-width="1" opacity="0.4"/><line x1="488" y1="326.8" x2="488" y2="342.5" stroke="#181818" stroke-width="1.2"/><line x1="488" y1="331.2" x2="488" y2="338.2" stroke="#181818" stroke-width="2.2"/><line x1="487.9" y1="323.2" x2="487.9" y2="335.0" stroke="#40e8b8" stroke-width="1" opacity="0.45"/><line x1="490.0" y1="323.2" x2="490.0" y2="335.0" stroke="#e070a0" stroke-width="1" opacity="0.4"/><line x1="489" y1="323.2" x2="489" y2="335.0" stroke="#181818" stroke-width="1.2"/><line x1="489" y1="326.5" x2="489" y2="332.2" stroke="#181818" stroke-width="2.2"/><line x1="488.9" y1="324.3" x2="488.9" y2="327.9" stroke="#40e8b8" stroke-width="1" opacity="0.45"/><line x1="491.0" y1="324.3" x2="491.0" y2="327.9" stroke="#e070a0" stroke-width="1" opacity="0.4"/><line x1="490" y1="324.3" x2="490" y2="327.9" stroke="#7a0a28" stroke-width="1.2"/><line x1="490" y1="324.6" x2="490" y2="327.5" stroke="#7a0a28" stroke-width="2.2"/><line x1="489.9" y1="315.4" x2="489.9" y2="329.7" stroke="#40e8b8" stroke-width="1" opacity="0.45"/><line x1="492.0" y1="315.4" x2="492.0" y2="329.7" stroke="#e070a0" stroke-width="1" opacity="0.4"/><line x1="491" y1="315.4" x2="491" y2="329.7" stroke="#181818" stroke-width="1.2"/><line x1="491" y1="316.3" x2="491" y2="325.6" stroke="#181818" stroke-width="2.2"/><line x1="490.9" y1="308.7" x2="490.9" y2="318.6" stroke="#40e8b8" stroke-width="1" opacity="0.45"/><line x1="493.0" y1="308.7" x2="493.0" y2="318.6" stroke="#e070a0" stroke-width="1" opacity="0.4"/><line x1="492" y1="308.7" x2="492" y2="318.6" stroke="#181818" stroke-width="1.2"/><line x1="492" y1="312.5" x2="492" y2="317.3" stroke="#181818" stroke-width="2.2"/><line x1="491.9" y1="299.8" x2="491.9" y2="315.1" stroke="#40e8b8" stroke-width="1" opacity="0.45"/><line x1="494.0" y1="299.8" x2="494.0" y2="315.1" stroke="#e070a0" stroke-width="1" opacity="0.4"/><line x1="493" y1="299.8" x2="493" y2="315.1" stroke="#181818" stroke-width="1.2"/><line x1="493" y1="302.2" x2="493" y2="313.5" stroke="#181818" stroke-width="2.2"/><line x1="492.9" y1="286.2" x2="492.9" y2="306.2" stroke="#40e8b8" stroke-width="1" opacity="0.45"/><line x1="495.0" y1="286.2" x2="495.0" y2="306.2" stroke="#e070a0" stroke-width="1" opacity="0.4"/><line x1="494" y1="286.2" x2="494" y2="306.2" stroke="#181818" stroke-width="1.2"/><line x1="494" y1="291.4" x2="494" y2="303.2" stroke="#181818" stroke-width="2.2"/><line x1="493.9" y1="283.2" x2="493.9" y2="293.7" stroke="#40e8b8" stroke-width="1" opacity="0.45"/><line x1="496.0" y1="283.2" x2="496.0" y2="293.7" stroke="#e070a0" stroke-width="1" opacity="0.4"/><line x1="495" y1="283.2" x2="495" y2="293.7" stroke="#181818" stroke-width="1.2"/><line x1="495" y1="284.0" x2="495" y2="292.4" stroke="#181818" stroke-width="2.2"/><line x1="494.9" y1="266.8" x2="494.9" y2="285.6" stroke="#40e8b8" stroke-width="1" opacity="0.45"/><line x1="497.0" y1="266.8" x2="497.0" y2="285.6" stroke="#e070a0" stroke-width="1" opacity="0.4"/><line x1="496" y1="266.8" x2="496" y2="285.6" stroke="#181818" stroke-width="1.2"/><line x1="496" y1="270.5" x2="496" y2="285.0" stroke="#181818" stroke-width="2.2"/><line x1="495.9" y1="207.0" x2="495.9" y2="278.1" stroke="#40e8b8" stroke-width="1" opacity="0.45"/><line x1="498.0" y1="207.0" x2="498.0" y2="278.1" stroke="#e070a0" stroke-width="1" opacity="0.4"/><line x1="497" y1="207.0" x2="497" y2="278.1" stroke="#181818" stroke-width="1.2"/><line x1="497" y1="241.7" x2="497" y2="271.5" stroke="#181818" stroke-width="2.2"/><line x1="496.9" y1="230.2" x2="496.9" y2="244.3" stroke="#40e8b8" stroke-width="1" opacity="0.45"/><line x1="499.0" y1="230.2" x2="499.0" y2="244.3" stroke="#e070a0" stroke-width="1" opacity="0.4"/><line x1="498" y1="230.2" x2="498" y2="244.3" stroke="#181818" stroke-width="1.2"/><line x1="498" y1="233.4" x2="498" y2="242.7" stroke="#181818" stroke-width="2.2"/><line x1="497.9" y1="216.3" x2="497.9" y2="237.0" stroke="#40e8b8" stroke-width="1" opacity="0.45"/><line x1="500.0" y1="216.3" x2="500.0" y2="237.0" stroke="#e070a0" stroke-width="1" opacity="0.4"/><line x1="499" y1="216.3" x2="499" y2="237.0" stroke="#7a0a28" stroke-width="1.2"/><line x1="499" y1="220.0" x2="499" y2="234.4" stroke="#7a0a28" stroke-width="2.2"/><line x1="498.9" y1="213.8" x2="498.9" y2="221.9" stroke="#40e8b8" stroke-width="1" opacity="0.45"/><line x1="501.0" y1="213.8" x2="501.0" y2="221.9" stroke="#e070a0" stroke-width="1" opacity="0.4"/><line x1="500" y1="213.8" x2="500" y2="221.9" stroke="#7a0a28" stroke-width="1.2"/><line x1="500" y1="215.8" x2="500" y2="221.0" stroke="#7a0a28" stroke-width="2.2"/><line x1="499.9" y1="194.6" x2="499.9" y2="220.5" stroke="#40e8b8" stroke-width="1" opacity="0.45"/><line x1="502.0" y1="194.6" x2="502.0" y2="220.5" stroke="#e070a0" stroke-width="1" opacity="0.4"/><line x1="501" y1="194.6" x2="501" y2="220.5" stroke="#181818" stroke-width="1.2"/><line x1="501" y1="196.5" x2="501" y2="216.8" stroke="#181818" stroke-width="2.2"/><line x1="500.9" y1="193.1" x2="500.9" y2="200.2" stroke="#40e8b8" stroke-width="1" opacity="0.45"/><line x1="503.0" y1="193.1" x2="503.0" y2="200.2" stroke="#e070a0" stroke-width="1" opacity="0.4"/><line x1="502" y1="193.1" x2="502" y2="200.2" stroke="#181818" stroke-width="1.2"/><line x1="502" y1="195.9" x2="502" y2="197.5" stroke="#181818" stroke-width="2.2"/><line x1="501.9" y1="147.5" x2="501.9" y2="197.7" stroke="#40e8b8" stroke-width="1" opacity="0.45"/><line x1="504.0" y1="147.5" x2="504.0" y2="197.7" stroke="#e070a0" stroke-width="1" opacity="0.4"/><line x1="503" y1="147.5" x2="503" y2="197.7" stroke="#181818" stroke-width="1.2"/><line x1="503" y1="188.9" x2="503" y2="196.9" stroke="#181818" stroke-width="2.2"/><line x1="502.9" y1="186.6" x2="502.9" y2="197.6" stroke="#40e8b8" stroke-width="1" opacity="0.45"/><line x1="505.0" y1="186.6" x2="505.0" y2="197.6" stroke="#e070a0" stroke-width="1" opacity="0.4"/><line x1="504" y1="186.6" x2="504" y2="197.6" stroke="#181818" stroke-width="1.2"/><line x1="504" y1="188.9" x2="504" y2="196.5" stroke="#181818" stroke-width="2.2"/><line x1="503.9" y1="191.1" x2="503.9" y2="215.5" stroke="#40e8b8" stroke-width="1" opacity="0.45"/><line x1="506.0" y1="191.1" x2="506.0" y2="215.5" stroke="#e070a0" stroke-width="1" opacity="0.4"/><line x1="505" y1="191.1" x2="505" y2="215.5" stroke="#7a0a28" stroke-width="1.2"/><line x1="505" y1="195.5" x2="505" y2="213.7" stroke="#7a0a28" stroke-width="2.2"/><line x1="504.9" y1="210.5" x2="504.9" y2="235.0" stroke="#40e8b8" stroke-width="1" opacity="0.45"/><line x1="507.0" y1="210.5" x2="507.0" y2="235.0" stroke="#e070a0" stroke-width="1" opacity="0.4"/><line x1="506" y1="210.5" x2="506" y2="235.0" stroke="#181818" stroke-width="1.2"/><line x1="506" y1="212.7" x2="506" y2="230.1" stroke="#181818" stroke-width="2.2"/><line x1="505.9" y1="222.7" x2="505.9" y2="255.4" stroke="#40e8b8" stroke-width="1" opacity="0.45"/><line x1="508.0" y1="222.7" x2="508.0" y2="255.4" stroke="#e070a0" stroke-width="1" opacity="0.4"/><line x1="507" y1="222.7" x2="507" y2="255.4" stroke="#181818" stroke-width="1.2"/><line x1="507" y1="229.1" x2="507" y2="250.9" stroke="#181818" stroke-width="2.2"/><line x1="506.9" y1="241.1" x2="506.9" y2="253.8" stroke="#40e8b8" stroke-width="1" opacity="0.45"/><line x1="509.0" y1="241.1" x2="509.0" y2="253.8" stroke="#e070a0" stroke-width="1" opacity="0.4"/><line x1="508" y1="241.1" x2="508" y2="253.8" stroke="#7a0a28" stroke-width="1.2"/><line x1="508" y1="244.1" x2="508" y2="250.9" stroke="#7a0a28" stroke-width="2.2"/><line x1="507.9" y1="240.4" x2="507.9" y2="263.6" stroke="#40e8b8" stroke-width="1" opacity="0.45"/><line x1="510.0" y1="240.4" x2="510.0" y2="263.6" stroke="#e070a0" stroke-width="1" opacity="0.4"/><line x1="509" y1="240.4" x2="509" y2="263.6" stroke="#181818" stroke-width="1.2"/><line x1="509" y1="244.1" x2="509" y2="260.4" stroke="#181818" stroke-width="2.2"/><line x1="508.9" y1="254.2" x2="508.9" y2="276.4" stroke="#40e8b8" stroke-width="1" opacity="0.45"/><line x1="511.0" y1="254.2" x2="511.0" y2="276.4" stroke="#e070a0" stroke-width="1" opacity="0.4"/><line x1="510" y1="254.2" x2="510" y2="276.4" stroke="#7a0a28" stroke-width="1.2"/><line x1="510" y1="259.4" x2="510" y2="271.1" stroke="#7a0a28" stroke-width="2.2"/><line x1="509.9" y1="266.3" x2="509.9" y2="287.6" stroke="#40e8b8" stroke-width="1" opacity="0.45"/><line x1="512.0" y1="266.3" x2="512.0" y2="287.6" stroke="#e070a0" stroke-width="1" opacity="0.4"/><line x1="511" y1="266.3" x2="511" y2="287.6" stroke="#7a0a28" stroke-width="1.2"/><line x1="511" y1="270.1" x2="511" y2="282.2" stroke="#7a0a28" stroke-width="2.2"/><line x1="510.9" y1="278.9" x2="510.9" y2="287.1" stroke="#40e8b8" stroke-width="1" opacity="0.45"/><line x1="513.0" y1="278.9" x2="513.0" y2="287.1" stroke="#e070a0" stroke-width="1" opacity="0.4"/><line x1="512" y1="278.9" x2="512" y2="287.1" stroke="#181818" stroke-width="1.2"/><line x1="512" y1="281.2" x2="512" y2="286.1" stroke="#181818" stroke-width="2.2"/><line x1="511.9" y1="280.6" x2="511.9" y2="320.9" stroke="#40e8b8" stroke-width="1" opacity="0.45"/><line x1="514.0" y1="280.6" x2="514.0" y2="320.9" stroke="#e070a0" stroke-width="1" opacity="0.4"/><line x1="513" y1="280.6" x2="513" y2="320.9" stroke="#181818" stroke-width="1.2"/><line x1="513" y1="285.1" x2="513" y2="316.0" stroke="#181818" stroke-width="2.2"/><line x1="512.9" y1="307.5" x2="512.9" y2="320.3" stroke="#40e8b8" stroke-width="1" opacity="0.45"/><line x1="515.0" y1="307.5" x2="515.0" y2="320.3" stroke="#e070a0" stroke-width="1" opacity="0.4"/><line x1="514" y1="307.5" x2="514" y2="320.3" stroke="#7a0a28" stroke-width="1.2"/><line x1="514" y1="310.7" x2="514" y2="316.0" stroke="#7a0a28" stroke-width="2.2"/><line x1="513.9" y1="303.3" x2="513.9" y2="356.8" stroke="#40e8b8" stroke-width="1" opacity="0.45"/><line x1="516.0" y1="303.3" x2="516.0" y2="356.8" stroke="#e070a0" stroke-width="1" opacity="0.4"/><line x1="515" y1="303.3" x2="515" y2="356.8" stroke="#181818" stroke-width="1.2"/><line x1="515" y1="310.7" x2="515" y2="348.1" stroke="#181818" stroke-width="2.2"/><line x1="514.9" y1="345.8" x2="514.9" y2="349.8" stroke="#40e8b8" stroke-width="1" opacity="0.45"/><line x1="517.0" y1="345.8" x2="517.0" y2="349.8" stroke="#e070a0" stroke-width="1" opacity="0.4"/><line x1="516" y1="345.8" x2="516" y2="349.8" stroke="#7a0a28" stroke-width="1.2"/><line x1="516" y1="347.1" x2="516" y2="349.0" stroke="#7a0a28" stroke-width="2.2"/><line x1="515.9" y1="347.4" x2="515.9" y2="354.9" stroke="#40e8b8" stroke-width="1" opacity="0.45"/><line x1="518.0" y1="347.4" x2="518.0" y2="354.9" stroke="#e070a0" stroke-width="1" opacity="0.4"/><line x1="517" y1="347.4" x2="517" y2="354.9" stroke="#181818" stroke-width="1.2"/><line x1="517" y1="348.0" x2="517" y2="353.8" stroke="#181818" stroke-width="2.2"/><line x1="516.9" y1="333.8" x2="516.9" y2="355.6" stroke="#40e8b8" stroke-width="1" opacity="0.45"/><line x1="519.0" y1="333.8" x2="519.0" y2="355.6" stroke="#e070a0" stroke-width="1" opacity="0.4"/><line x1="518" y1="333.8" x2="518" y2="355.6" stroke="#7a0a28" stroke-width="1.2"/><line x1="518" y1="339.3" x2="518" y2="353.8" stroke="#7a0a28" stroke-width="2.2"/><line x1="517.9" y1="323.1" x2="517.9" y2="344.1" stroke="#40e8b8" stroke-width="1" opacity="0.45"/><line x1="520.0" y1="323.1" x2="520.0" y2="344.1" stroke="#e070a0" stroke-width="1" opacity="0.4"/><line x1="519" y1="323.1" x2="519" y2="344.1" stroke="#7a0a28" stroke-width="1.2"/><line x1="519" y1="325.9" x2="519" y2="340.3" stroke="#7a0a28" stroke-width="2.2"/><line x1="518.9" y1="319.6" x2="518.9" y2="328.4" stroke="#40e8b8" stroke-width="1" opacity="0.45"/><line x1="521.0" y1="319.6" x2="521.0" y2="328.4" stroke="#e070a0" stroke-width="1" opacity="0.4"/><line x1="520" y1="319.6" x2="520" y2="328.4" stroke="#181818" stroke-width="1.2"/><line x1="520" y1="322.3" x2="520" y2="326.9" stroke="#181818" stroke-width="2.2"/><line x1="519.9" y1="320.1" x2="519.9" y2="323.5" stroke="#40e8b8" stroke-width="1" opacity="0.45"/><line x1="522.0" y1="320.1" x2="522.0" y2="323.5" stroke="#e070a0" stroke-width="1" opacity="0.4"/><line x1="521" y1="320.1" x2="521" y2="323.5" stroke="#7a0a28" stroke-width="1.2"/><line x1="521" y1="320.9" x2="521" y2="323.3" stroke="#7a0a28" stroke-width="2.2"/><line x1="520.9" y1="319.4" x2="520.9" y2="324.1" stroke="#40e8b8" stroke-width="1" opacity="0.45"/><line x1="523.0" y1="319.4" x2="523.0" y2="324.1" stroke="#e070a0" stroke-width="1" opacity="0.4"/><line x1="522" y1="319.4" x2="522" y2="324.1" stroke="#7a0a28" stroke-width="1.2"/><line x1="522" y1="320.9" x2="522" y2="322.4" stroke="#7a0a28" stroke-width="2.2"/><line x1="521.9" y1="307.5" x2="521.9" y2="324.0" stroke="#40e8b8" stroke-width="1" opacity="0.45"/><line x1="524.0" y1="307.5" x2="524.0" y2="324.0" stroke="#e070a0" stroke-width="1" opacity="0.4"/><line x1="523" y1="307.5" x2="523" y2="324.0" stroke="#7a0a28" stroke-width="1.2"/><line x1="523" y1="312.4" x2="523" y2="322.4" stroke="#7a0a28" stroke-width="2.2"/><line x1="522.9" y1="304.6" x2="522.9" y2="314.6" stroke="#40e8b8" stroke-width="1" opacity="0.45"/><line x1="525.0" y1="304.6" x2="525.0" y2="314.6" stroke="#e070a0" stroke-width="1" opacity="0.4"/><line x1="524" y1="304.6" x2="524" y2="314.6" stroke="#7a0a28" stroke-width="1.2"/><line x1="524" y1="307.2" x2="524" y2="313.4" stroke="#7a0a28" stroke-width="2.2"/><line x1="523.9" y1="297.2" x2="523.9" y2="310.5" stroke="#40e8b8" stroke-width="1" opacity="0.45"/><line x1="526.0" y1="297.2" x2="526.0" y2="310.5" stroke="#e070a0" stroke-width="1" opacity="0.4"/><line x1="525" y1="297.2" x2="525" y2="310.5" stroke="#181818" stroke-width="1.2"/><line x1="525" y1="298.6" x2="525" y2="308.2" stroke="#181818" stroke-width="2.2"/><line x1="524.9" y1="296.6" x2="524.9" y2="306.0" stroke="#40e8b8" stroke-width="1" opacity="0.45"/><line x1="527.0" y1="296.6" x2="527.0" y2="306.0" stroke="#e070a0" stroke-width="1" opacity="0.4"/><line x1="526" y1="296.6" x2="526" y2="306.0" stroke="#181818" stroke-width="1.2"/><line x1="526" y1="298.6" x2="526" y2="303.2" stroke="#181818" stroke-width="2.2"/><line x1="525.9" y1="295.5" x2="525.9" y2="304.7" stroke="#40e8b8" stroke-width="1" opacity="0.45"/><line x1="528.0" y1="295.5" x2="528.0" y2="304.7" stroke="#e070a0" stroke-width="1" opacity="0.4"/><line x1="527" y1="295.5" x2="527" y2="304.7" stroke="#181818" stroke-width="1.2"/><line x1="527" y1="298.1" x2="527" y2="303.2" stroke="#181818" stroke-width="2.2"/><line x1="526.9" y1="295.7" x2="526.9" y2="304.9" stroke="#40e8b8" stroke-width="1" opacity="0.45"/><line x1="529.0" y1="295.7" x2="529.0" y2="304.9" stroke="#e070a0" stroke-width="1" opacity="0.4"/><line x1="528" y1="295.7" x2="528" y2="304.9" stroke="#181818" stroke-width="1.2"/><line x1="528" y1="298.1" x2="528" y2="302.7" stroke="#181818" stroke-width="2.2"/><line x1="527.9" y1="300.5" x2="527.9" y2="304.3" stroke="#40e8b8" stroke-width="1" opacity="0.45"/><line x1="530.0" y1="300.5" x2="530.0" y2="304.3" stroke="#e070a0" stroke-width="1" opacity="0.4"/><line x1="529" y1="300.5" x2="529" y2="304.3" stroke="#7a0a28" stroke-width="1.2"/><line x1="529" y1="301.6" x2="529" y2="302.7" stroke="#7a0a28" stroke-width="2.2"/><line x1="528.9" y1="297.3" x2="528.9" y2="302.8" stroke="#40e8b8" stroke-width="1" opacity="0.45"/><line x1="531.0" y1="297.3" x2="531.0" y2="302.8" stroke="#e070a0" stroke-width="1" opacity="0.4"/><line x1="530" y1="297.3" x2="530" y2="302.8" stroke="#181818" stroke-width="1.2"/><line x1="530" y1="299.5" x2="530" y2="302.6" stroke="#181818" stroke-width="2.2"/><line x1="529.9" y1="299.0" x2="529.9" y2="304.6" stroke="#40e8b8" stroke-width="1" opacity="0.45"/><line x1="532.0" y1="299.0" x2="532.0" y2="304.6" stroke="#e070a0" stroke-width="1" opacity="0.4"/><line x1="531" y1="299.0" x2="531" y2="304.6" stroke="#7a0a28" stroke-width="1.2"/><line x1="531" y1="299.5" x2="531" y2="302.4" stroke="#7a0a28" stroke-width="2.2"/><line x1="530.9" y1="298.9" x2="530.9" y2="318.9" stroke="#40e8b8" stroke-width="1" opacity="0.45"/><line x1="533.0" y1="298.9" x2="533.0" y2="318.9" stroke="#e070a0" stroke-width="1" opacity="0.4"/><line x1="532" y1="298.9" x2="532" y2="318.9" stroke="#181818" stroke-width="1.2"/><line x1="532" y1="301.4" x2="532" y2="313.2" stroke="#181818" stroke-width="2.2"/><line x1="531.9" y1="310.2" x2="531.9" y2="327.7" stroke="#40e8b8" stroke-width="1" opacity="0.45"/><line x1="534.0" y1="310.2" x2="534.0" y2="327.7" stroke="#e070a0" stroke-width="1" opacity="0.4"/><line x1="533" y1="310.2" x2="533" y2="327.7" stroke="#181818" stroke-width="1.2"/><line x1="533" y1="312.2" x2="533" y2="326.7" stroke="#181818" stroke-width="2.2"/><line x1="532.9" y1="324.9" x2="532.9" y2="342.2" stroke="#40e8b8" stroke-width="1" opacity="0.45"/><line x1="535.0" y1="324.9" x2="535.0" y2="342.2" stroke="#e070a0" stroke-width="1" opacity="0.4"/><line x1="534" y1="324.9" x2="534" y2="342.2" stroke="#181818" stroke-width="1.2"/><line x1="534" y1="325.7" x2="534" y2="341.3" stroke="#181818" stroke-width="2.2"/><line x1="533.9" y1="338.9" x2="533.9" y2="352.5" stroke="#40e8b8" stroke-width="1" opacity="0.45"/><line x1="536.0" y1="338.9" x2="536.0" y2="352.5" stroke="#e070a0" stroke-width="1" opacity="0.4"/><line x1="535" y1="338.9" x2="535" y2="352.5" stroke="#181818" stroke-width="1.2"/><line x1="535" y1="340.3" x2="535" y2="350.6" stroke="#181818" stroke-width="2.2"/><line x1="534.9" y1="346.1" x2="534.9" y2="358.5" stroke="#40e8b8" stroke-width="1" opacity="0.45"/><line x1="537.0" y1="346.1" x2="537.0" y2="358.5" stroke="#e070a0" stroke-width="1" opacity="0.4"/><line x1="536" y1="346.1" x2="536" y2="358.5" stroke="#7a0a28" stroke-width="1.2"/><line x1="536" y1="349.6" x2="536" y2="357.1" stroke="#7a0a28" stroke-width="2.2"/><line x1="535.9" y1="354.5" x2="535.9" y2="385.0" stroke="#40e8b8" stroke-width="1" opacity="0.45"/><line x1="538.0" y1="354.5" x2="538.0" y2="385.0" stroke="#e070a0" stroke-width="1" opacity="0.4"/><line x1="537" y1="354.5" x2="537" y2="385.0" stroke="#181818" stroke-width="1.2"/><line x1="537" y1="356.1" x2="537" y2="361.2" stroke="#181818" stroke-width="2.2"/><line x1="536.9" y1="356.3" x2="536.9" y2="375.6" stroke="#40e8b8" stroke-width="1" opacity="0.45"/><line x1="539.0" y1="356.3" x2="539.0" y2="375.6" stroke="#e070a0" stroke-width="1" opacity="0.4"/><line x1="538" y1="356.3" x2="538" y2="375.6" stroke="#7a0a28" stroke-width="1.2"/><line x1="538" y1="360.2" x2="538" y2="372.0" stroke="#7a0a28" stroke-width="2.2"/><line x1="537.9" y1="370.4" x2="537.9" y2="381.3" stroke="#40e8b8" stroke-width="1" opacity="0.45"/><line x1="540.0" y1="370.4" x2="540.0" y2="381.3" stroke="#e070a0" stroke-width="1" opacity="0.4"/><line x1="539" y1="370.4" x2="539" y2="381.3" stroke="#7a0a28" stroke-width="1.2"/><line x1="539" y1="371.0" x2="539" y2="378.3" stroke="#7a0a28" stroke-width="2.2"/><line x1="538.9" y1="367.6" x2="538.9" y2="379.5" stroke="#40e8b8" stroke-width="1" opacity="0.45"/><line x1="541.0" y1="367.6" x2="541.0" y2="379.5" stroke="#e070a0" stroke-width="1" opacity="0.4"/><line x1="540" y1="367.6" x2="540" y2="379.5" stroke="#181818" stroke-width="1.2"/><line x1="540" y1="368.6" x2="540" y2="378.3" stroke="#181818" stroke-width="2.2"/><line x1="539.9" y1="367.8" x2="539.9" y2="371.6" stroke="#40e8b8" stroke-width="1" opacity="0.45"/><line x1="542.0" y1="367.8" x2="542.0" y2="371.6" stroke="#e070a0" stroke-width="1" opacity="0.4"/><line x1="541" y1="367.8" x2="541" y2="371.6" stroke="#181818" stroke-width="1.2"/><line x1="541" y1="368.6" x2="541" y2="370.6" stroke="#181818" stroke-width="2.2"/><line x1="540.9" y1="366.3" x2="540.9" y2="371.4" stroke="#40e8b8" stroke-width="1" opacity="0.45"/><line x1="543.0" y1="366.3" x2="543.0" y2="371.4" stroke="#e070a0" stroke-width="1" opacity="0.4"/><line x1="542" y1="366.3" x2="542" y2="371.4" stroke="#181818" stroke-width="1.2"/><line x1="542" y1="367.7" x2="542" y2="370.6" stroke="#181818" stroke-width="2.2"/><line x1="541.9" y1="353.1" x2="541.9" y2="370.9" stroke="#40e8b8" stroke-width="1" opacity="0.45"/><line x1="544.0" y1="353.1" x2="544.0" y2="370.9" stroke="#e070a0" stroke-width="1" opacity="0.4"/><line x1="543" y1="353.1" x2="543" y2="370.9" stroke="#181818" stroke-width="1.2"/><line x1="543" y1="357.0" x2="543" y2="368.7" stroke="#181818" stroke-width="2.2"/><line x1="542.9" y1="355.3" x2="542.9" y2="359.2" stroke="#40e8b8" stroke-width="1" opacity="0.45"/><line x1="545.0" y1="355.3" x2="545.0" y2="359.2" stroke="#e070a0" stroke-width="1" opacity="0.4"/><line x1="544" y1="355.3" x2="544" y2="359.2" stroke="#181818" stroke-width="1.2"/><line x1="544" y1="355.6" x2="544" y2="358.0" stroke="#181818" stroke-width="2.2"/><line x1="543.9" y1="352.9" x2="543.9" y2="359.9" stroke="#40e8b8" stroke-width="1" opacity="0.45"/><line x1="546.0" y1="352.9" x2="546.0" y2="359.9" stroke="#e070a0" stroke-width="1" opacity="0.4"/><line x1="545" y1="352.9" x2="545" y2="359.9" stroke="#7a0a28" stroke-width="1.2"/><line x1="545" y1="353.5" x2="545" y2="356.6" stroke="#7a0a28" stroke-width="2.2"/><line x1="544.9" y1="350.3" x2="544.9" y2="362.6" stroke="#40e8b8" stroke-width="1" opacity="0.45"/><line x1="547.0" y1="350.3" x2="547.0" y2="362.6" stroke="#e070a0" stroke-width="1" opacity="0.4"/><line x1="546" y1="350.3" x2="546" y2="362.6" stroke="#181818" stroke-width="1.2"/><line x1="546" y1="353.5" x2="546" y2="360.0" stroke="#181818" stroke-width="2.2"/><line x1="545.9" y1="356.5" x2="545.9" y2="360.5" stroke="#40e8b8" stroke-width="1" opacity="0.45"/><line x1="548.0" y1="356.5" x2="548.0" y2="360.5" stroke="#e070a0" stroke-width="1" opacity="0.4"/><line x1="547" y1="356.5" x2="547" y2="360.5" stroke="#7a0a28" stroke-width="1.2"/><line x1="547" y1="357.7" x2="547" y2="360.0" stroke="#7a0a28" stroke-width="2.2"/><line x1="546.9" y1="354.3" x2="546.9" y2="359.2" stroke="#40e8b8" stroke-width="1" opacity="0.45"/><line x1="549.0" y1="354.3" x2="549.0" y2="359.2" stroke="#e070a0" stroke-width="1" opacity="0.4"/><line x1="548" y1="354.3" x2="548" y2="359.2" stroke="#7a0a28" stroke-width="1.2"/><line x1="548" y1="357.7" x2="548" y2="358.7" stroke="#7a0a28" stroke-width="2.2"/><line x1="547.9" y1="355.5" x2="547.9" y2="367.3" stroke="#40e8b8" stroke-width="1" opacity="0.45"/><line x1="550.0" y1="355.5" x2="550.0" y2="367.3" stroke="#e070a0" stroke-width="1" opacity="0.4"/><line x1="549" y1="355.5" x2="549" y2="367.3" stroke="#181818" stroke-width="1.2"/><line x1="549" y1="357.7" x2="549" y2="365.1" stroke="#181818" stroke-width="2.2"/><line x1="548.9" y1="360.4" x2="548.9" y2="374.9" stroke="#40e8b8" stroke-width="1" opacity="0.45"/><line x1="551.0" y1="360.4" x2="551.0" y2="374.9" stroke="#e070a0" stroke-width="1" opacity="0.4"/><line x1="550" y1="360.4" x2="550" y2="374.9" stroke="#181818" stroke-width="1.2"/><line x1="550" y1="364.1" x2="550" y2="371.6" stroke="#181818" stroke-width="2.2"/><line x1="549.9" y1="367.4" x2="549.9" y2="374.4" stroke="#40e8b8" stroke-width="1" opacity="0.45"/><line x1="552.0" y1="367.4" x2="552.0" y2="374.4" stroke="#e070a0" stroke-width="1" opacity="0.4"/><line x1="551" y1="367.4" x2="551" y2="374.4" stroke="#181818" stroke-width="1.2"/><line x1="551" y1="368.5" x2="551" y2="371.6" stroke="#181818" stroke-width="2.2"/><line x1="550.9" y1="366.9" x2="550.9" y2="370.7" stroke="#40e8b8" stroke-width="1" opacity="0.45"/><line x1="553.0" y1="366.9" x2="553.0" y2="370.7" stroke="#e070a0" stroke-width="1" opacity="0.4"/><line x1="552" y1="366.9" x2="552" y2="370.7" stroke="#7a0a28" stroke-width="1.2"/><line x1="552" y1="368.5" x2="552" y2="369.8" stroke="#7a0a28" stroke-width="2.2"/><line x1="551.9" y1="361.8" x2="551.9" y2="370.8" stroke="#40e8b8" stroke-width="1" opacity="0.45"/><line x1="554.0" y1="361.8" x2="554.0" y2="370.8" stroke="#e070a0" stroke-width="1" opacity="0.4"/><line x1="553" y1="361.8" x2="553" y2="370.8" stroke="#181818" stroke-width="1.2"/><line x1="553" y1="364.0" x2="553" y2="369.8" stroke="#181818" stroke-width="2.2"/><line x1="552.9" y1="360.1" x2="552.9" y2="366.2" stroke="#40e8b8" stroke-width="1" opacity="0.45"/><line x1="555.0" y1="360.1" x2="555.0" y2="366.2" stroke="#e070a0" stroke-width="1" opacity="0.4"/><line x1="554" y1="360.1" x2="554" y2="366.2" stroke="#7a0a28" stroke-width="1.2"/><line x1="554" y1="362.3" x2="554" y2="365.0" stroke="#7a0a28" stroke-width="2.2"/><line x1="553.9" y1="360.4" x2="553.9" y2="364.4" stroke="#40e8b8" stroke-width="1" opacity="0.45"/><line x1="556.0" y1="360.4" x2="556.0" y2="364.4" stroke="#e070a0" stroke-width="1" opacity="0.4"/><line x1="555" y1="360.4" x2="555" y2="364.4" stroke="#181818" stroke-width="1.2"/><line x1="555" y1="362.3" x2="555" y2="363.7" stroke="#181818" stroke-width="2.2"/><line x1="554.9" y1="356.5" x2="554.9" y2="364.4" stroke="#40e8b8" stroke-width="1" opacity="0.45"/><line x1="557.0" y1="356.5" x2="557.0" y2="364.4" stroke="#e070a0" stroke-width="1" opacity="0.4"/><line x1="556" y1="356.5" x2="556" y2="364.4" stroke="#7a0a28" stroke-width="1.2"/><line x1="556" y1="358.9" x2="556" y2="363.7" stroke="#7a0a28" stroke-width="2.2"/><line x1="555.9" y1="357.9" x2="555.9" y2="360.7" stroke="#40e8b8" stroke-width="1" opacity="0.45"/><line x1="558.0" y1="357.9" x2="558.0" y2="360.7" stroke="#e070a0" stroke-width="1" opacity="0.4"/><line x1="557" y1="357.9" x2="557" y2="360.7" stroke="#7a0a28" stroke-width="1.2"/><line x1="557" y1="358.0" x2="557" y2="359.9" stroke="#7a0a28" stroke-width="2.2"/><line x1="556.9" y1="356.0" x2="556.9" y2="360.1" stroke="#40e8b8" stroke-width="1" opacity="0.45"/><line x1="559.0" y1="356.0" x2="559.0" y2="360.1" stroke="#e070a0" stroke-width="1" opacity="0.4"/><line x1="558" y1="356.0" x2="558" y2="360.1" stroke="#7a0a28" stroke-width="1.2"/><line x1="558" y1="356.8" x2="558" y2="359.0" stroke="#7a0a28" stroke-width="2.2"/><line x1="557.9" y1="349.4" x2="557.9" y2="360.4" stroke="#40e8b8" stroke-width="1" opacity="0.45"/><line x1="560.0" y1="349.4" x2="560.0" y2="360.4" stroke="#e070a0" stroke-width="1" opacity="0.4"/><line x1="559" y1="349.4" x2="559" y2="360.4" stroke="#181818" stroke-width="1.2"/><line x1="559" y1="350.4" x2="559" y2="357.8" stroke="#181818" stroke-width="2.2"/><line x1="558.9" y1="348.9" x2="558.9" y2="354.5" stroke="#40e8b8" stroke-width="1" opacity="0.45"/><line x1="561.0" y1="348.9" x2="561.0" y2="354.5" stroke="#e070a0" stroke-width="1" opacity="0.4"/><line x1="560" y1="348.9" x2="560" y2="354.5" stroke="#7a0a28" stroke-width="1.2"/><line x1="560" y1="349.9" x2="560" y2="351.4" stroke="#7a0a28" stroke-width="2.2"/><line x1="559.9" y1="349.7" x2="559.9" y2="351.4" stroke="#40e8b8" stroke-width="1" opacity="0.45"/><line x1="562.0" y1="349.7" x2="562.0" y2="351.4" stroke="#e070a0" stroke-width="1" opacity="0.4"/><line x1="561" y1="349.7" x2="561" y2="351.4" stroke="#181818" stroke-width="1.2"/><line x1="561" y1="349.6" x2="561" y2="350.9" stroke="#181818" stroke-width="2.2"/><line x1="560.9" y1="349.0" x2="560.9" y2="353.8" stroke="#40e8b8" stroke-width="1" opacity="0.45"/><line x1="563.0" y1="349.0" x2="563.0" y2="353.8" stroke="#e070a0" stroke-width="1" opacity="0.4"/><line x1="562" y1="349.0" x2="562" y2="353.8" stroke="#7a0a28" stroke-width="1.2"/><line x1="562" y1="349.6" x2="562" y2="352.0" stroke="#7a0a28" stroke-width="2.2"/><line x1="561.9" y1="347.6" x2="561.9" y2="352.1" stroke="#40e8b8" stroke-width="1" opacity="0.45"/><line x1="564.0" y1="347.6" x2="564.0" y2="352.1" stroke="#e070a0" stroke-width="1" opacity="0.4"/><line x1="563" y1="347.6" x2="563" y2="352.1" stroke="#181818" stroke-width="1.2"/><line x1="563" y1="348.6" x2="563" y2="352.0" stroke="#181818" stroke-width="2.2"/><line x1="562.9" y1="347.7" x2="562.9" y2="351.6" stroke="#40e8b8" stroke-width="1" opacity="0.45"/><line x1="565.0" y1="347.7" x2="565.0" y2="351.6" stroke="#e070a0" stroke-width="1" opacity="0.4"/><line x1="564" y1="347.7" x2="564" y2="351.6" stroke="#7a0a28" stroke-width="1.2"/><line x1="564" y1="348.6" x2="564" y2="350.3" stroke="#7a0a28" stroke-width="2.2"/><line x1="563.9" y1="347.8" x2="563.9" y2="354.3" stroke="#40e8b8" stroke-width="1" opacity="0.45"/><line x1="566.0" y1="347.8" x2="566.0" y2="354.3" stroke="#e070a0" stroke-width="1" opacity="0.4"/><line x1="565" y1="347.8" x2="565" y2="354.3" stroke="#7a0a28" stroke-width="1.2"/><line x1="565" y1="349.3" x2="565" y2="352.7" stroke="#7a0a28" stroke-width="2.2"/><line x1="564.9" y1="350.8" x2="564.9" y2="356.1" stroke="#40e8b8" stroke-width="1" opacity="0.45"/><line x1="567.0" y1="350.8" x2="567.0" y2="356.1" stroke="#e070a0" stroke-width="1" opacity="0.4"/><line x1="566" y1="350.8" x2="566" y2="356.1" stroke="#7a0a28" stroke-width="1.2"/><line x1="566" y1="351.7" x2="566" y2="355.0" stroke="#7a0a28" stroke-width="2.2"/><line x1="565.9" y1="347.3" x2="565.9" y2="358.9" stroke="#40e8b8" stroke-width="1" opacity="0.45"/><line x1="568.0" y1="347.3" x2="568.0" y2="358.9" stroke="#e070a0" stroke-width="1" opacity="0.4"/><line x1="567" y1="347.3" x2="567" y2="358.9" stroke="#7a0a28" stroke-width="1.2"/><line x1="567" y1="348.7" x2="567" y2="355.0" stroke="#7a0a28" stroke-width="2.2"/><line x1="566.9" y1="347.8" x2="566.9" y2="349.9" stroke="#40e8b8" stroke-width="1" opacity="0.45"/><line x1="569.0" y1="347.8" x2="569.0" y2="349.9" stroke="#e070a0" stroke-width="1" opacity="0.4"/><line x1="568" y1="347.8" x2="568" y2="349.9" stroke="#7a0a28" stroke-width="1.2"/><line x1="568" y1="347.9" x2="568" y2="349.7" stroke="#7a0a28" stroke-width="2.2"/><line x1="567.9" y1="345.2" x2="567.9" y2="351.0" stroke="#40e8b8" stroke-width="1" opacity="0.45"/><line x1="570.0" y1="345.2" x2="570.0" y2="351.0" stroke="#e070a0" stroke-width="1" opacity="0.4"/><line x1="569" y1="345.2" x2="569" y2="351.0" stroke="#181818" stroke-width="1.2"/><line x1="569" y1="347.2" x2="569" y2="348.9" stroke="#181818" stroke-width="2.2"/><line x1="568.9" y1="343.7" x2="568.9" y2="349.6" stroke="#40e8b8" stroke-width="1" opacity="0.45"/><line x1="571.0" y1="343.7" x2="571.0" y2="349.6" stroke="#e070a0" stroke-width="1" opacity="0.4"/><line x1="570" y1="343.7" x2="570" y2="349.6" stroke="#7a0a28" stroke-width="1.2"/><line x1="570" y1="347.1" x2="570" y2="348.2" stroke="#7a0a28" stroke-width="2.2"/><line x1="569.9" y1="346.2" x2="569.9" y2="351.2" stroke="#40e8b8" stroke-width="1" opacity="0.45"/><line x1="572.0" y1="346.2" x2="572.0" y2="351.2" stroke="#e070a0" stroke-width="1" opacity="0.4"/><line x1="571" y1="346.2" x2="571" y2="351.2" stroke="#7a0a28" stroke-width="1.2"/><line x1="571" y1="347.1" x2="571" y2="350.0" stroke="#7a0a28" stroke-width="2.2"/><line x1="570.9" y1="335.5" x2="570.9" y2="352.5" stroke="#40e8b8" stroke-width="1" opacity="0.45"/><line x1="573.0" y1="335.5" x2="573.0" y2="352.5" stroke="#e070a0" stroke-width="1" opacity="0.4"/><line x1="572" y1="335.5" x2="572" y2="352.5" stroke="#7a0a28" stroke-width="1.2"/><line x1="572" y1="338.5" x2="572" y2="350.0" stroke="#7a0a28" stroke-width="2.2"/><line x1="571.9" y1="332.1" x2="571.9" y2="342.0" stroke="#40e8b8" stroke-width="1" opacity="0.45"/><line x1="574.0" y1="332.1" x2="574.0" y2="342.0" stroke="#e070a0" stroke-width="1" opacity="0.4"/><line x1="573" y1="332.1" x2="573" y2="342.0" stroke="#7a0a28" stroke-width="1.2"/><line x1="573" y1="334.3" x2="573" y2="339.5" stroke="#7a0a28" stroke-width="2.2"/><line x1="572.9" y1="332.2" x2="572.9" y2="338.0" stroke="#40e8b8" stroke-width="1" opacity="0.45"/><line x1="575.0" y1="332.2" x2="575.0" y2="338.0" stroke="#e070a0" stroke-width="1" opacity="0.4"/><line x1="574" y1="332.2" x2="574" y2="338.0" stroke="#181818" stroke-width="1.2"/><line x1="574" y1="334.3" x2="574" y2="336.4" stroke="#181818" stroke-width="2.2"/><line x1="573.9" y1="331.0" x2="573.9" y2="336.9" stroke="#40e8b8" stroke-width="1" opacity="0.45"/><line x1="576.0" y1="331.0" x2="576.0" y2="336.9" stroke="#e070a0" stroke-width="1" opacity="0.4"/><line x1="575" y1="331.0" x2="575" y2="336.9" stroke="#7a0a28" stroke-width="1.2"/><line x1="575" y1="332.7" x2="575" y2="336.4" stroke="#7a0a28" stroke-width="2.2"/><line x1="574.9" y1="326.3" x2="574.9" y2="334.3" stroke="#40e8b8" stroke-width="1" opacity="0.45"/><line x1="577.0" y1="326.3" x2="577.0" y2="334.3" stroke="#e070a0" stroke-width="1" opacity="0.4"/><line x1="576" y1="326.3" x2="576" y2="334.3" stroke="#181818" stroke-width="1.2"/><line x1="576" y1="327.8" x2="576" y2="333.7" stroke="#181818" stroke-width="2.2"/><line x1="575.9" y1="325.4" x2="575.9" y2="336.4" stroke="#40e8b8" stroke-width="1" opacity="0.45"/><line x1="578.0" y1="325.4" x2="578.0" y2="336.4" stroke="#e070a0" stroke-width="1" opacity="0.4"/><line x1="577" y1="325.4" x2="577" y2="336.4" stroke="#7a0a28" stroke-width="1.2"/><line x1="577" y1="327.8" x2="577" y2="334.7" stroke="#7a0a28" stroke-width="2.2"/><line x1="576.9" y1="331.1" x2="576.9" y2="342.4" stroke="#40e8b8" stroke-width="1" opacity="0.45"/><line x1="579.0" y1="331.1" x2="579.0" y2="342.4" stroke="#e070a0" stroke-width="1" opacity="0.4"/><line x1="578" y1="331.1" x2="578" y2="342.4" stroke="#7a0a28" stroke-width="1.2"/><line x1="578" y1="333.7" x2="578" y2="341.4" stroke="#7a0a28" stroke-width="2.2"/><line x1="577.9" y1="338.1" x2="577.9" y2="342.7" stroke="#40e8b8" stroke-width="1" opacity="0.45"/><line x1="580.0" y1="338.1" x2="580.0" y2="342.7" stroke="#e070a0" stroke-width="1" opacity="0.4"/><line x1="579" y1="338.1" x2="579" y2="342.7" stroke="#181818" stroke-width="1.2"/><line x1="579" y1="338.6" x2="579" y2="341.4" stroke="#181818" stroke-width="2.2"/><line x1="578.9" y1="337.8" x2="578.9" y2="342.4" stroke="#40e8b8" stroke-width="1" opacity="0.45"/><line x1="581.0" y1="337.8" x2="581.0" y2="342.4" stroke="#e070a0" stroke-width="1" opacity="0.4"/><line x1="580" y1="337.8" x2="580" y2="342.4" stroke="#7a0a28" stroke-width="1.2"/><line x1="580" y1="338.6" x2="580" y2="341.3" stroke="#7a0a28" stroke-width="2.2"/><line x1="579.9" y1="338.8" x2="579.9" y2="341.4" stroke="#40e8b8" stroke-width="1" opacity="0.45"/><line x1="582.0" y1="338.8" x2="582.0" y2="341.4" stroke="#e070a0" stroke-width="1" opacity="0.4"/><line x1="581" y1="338.8" x2="581" y2="341.4" stroke="#7a0a28" stroke-width="1.2"/><line x1="581" y1="340.3" x2="581" y2="341.3" stroke="#7a0a28" stroke-width="2.2"/><line x1="580.9" y1="338.5" x2="580.9" y2="344.4" stroke="#40e8b8" stroke-width="1" opacity="0.45"/><line x1="583.0" y1="338.5" x2="583.0" y2="344.4" stroke="#e070a0" stroke-width="1" opacity="0.4"/><line x1="582" y1="338.5" x2="582" y2="344.4" stroke="#7a0a28" stroke-width="1.2"/><line x1="582" y1="340.3" x2="582" y2="342.2" stroke="#7a0a28" stroke-width="2.2"/><line x1="581.9" y1="340.3" x2="581.9" y2="343.7" stroke="#40e8b8" stroke-width="1" opacity="0.45"/><line x1="584.0" y1="340.3" x2="584.0" y2="343.7" stroke="#e070a0" stroke-width="1" opacity="0.4"/><line x1="583" y1="340.3" x2="583" y2="343.7" stroke="#181818" stroke-width="1.2"/><line x1="583" y1="341.2" x2="583" y2="342.2" stroke="#181818" stroke-width="2.2"/><line x1="582.9" y1="340.1" x2="582.9" y2="342.8" stroke="#40e8b8" stroke-width="1" opacity="0.45"/><line x1="585.0" y1="340.1" x2="585.0" y2="342.8" stroke="#e070a0" stroke-width="1" opacity="0.4"/><line x1="584" y1="340.1" x2="584" y2="342.8" stroke="#7a0a28" stroke-width="1.2"/><line x1="584" y1="340.7" x2="584" y2="342.2" stroke="#7a0a28" stroke-width="2.2"/><line x1="583.9" y1="339.2" x2="583.9" y2="342.5" stroke="#40e8b8" stroke-width="1" opacity="0.45"/><line x1="586.0" y1="339.2" x2="586.0" y2="342.5" stroke="#e070a0" stroke-width="1" opacity="0.4"/><line x1="585" y1="339.2" x2="585" y2="342.5" stroke="#7a0a28" stroke-width="1.2"/><line x1="585" y1="340.7" x2="585" y2="341.9" stroke="#7a0a28" stroke-width="2.2"/><line x1="584.9" y1="334.4" x2="584.9" y2="343.1" stroke="#40e8b8" stroke-width="1" opacity="0.45"/><line x1="587.0" y1="334.4" x2="587.0" y2="343.1" stroke="#e070a0" stroke-width="1" opacity="0.4"/><line x1="586" y1="334.4" x2="586" y2="343.1" stroke="#7a0a28" stroke-width="1.2"/><line x1="586" y1="336.0" x2="586" y2="341.9" stroke="#7a0a28" stroke-width="2.2"/><line x1="585.9" y1="335.1" x2="585.9" y2="338.1" stroke="#40e8b8" stroke-width="1" opacity="0.45"/><line x1="588.0" y1="335.1" x2="588.0" y2="338.1" stroke="#e070a0" stroke-width="1" opacity="0.4"/><line x1="587" y1="335.1" x2="587" y2="338.1" stroke="#181818" stroke-width="1.2"/><line x1="587" y1="335.5" x2="587" y2="337.0" stroke="#181818" stroke-width="2.2"/><line x1="586.9" y1="334.8" x2="586.9" y2="336.8" stroke="#40e8b8" stroke-width="1" opacity="0.45"/><line x1="589.0" y1="334.8" x2="589.0" y2="336.8" stroke="#e070a0" stroke-width="1" opacity="0.4"/><line x1="588" y1="334.8" x2="588" y2="336.8" stroke="#181818" stroke-width="1.2"/><line x1="588" y1="335.5" x2="588" y2="336.5" stroke="#181818" stroke-width="2.2"/><line x1="587.9" y1="330.9" x2="587.9" y2="340.1" stroke="#40e8b8" stroke-width="1" opacity="0.45"/><line x1="590.0" y1="330.9" x2="590.0" y2="340.1" stroke="#e070a0" stroke-width="1" opacity="0.4"/><line x1="589" y1="330.9" x2="589" y2="340.1" stroke="#7a0a28" stroke-width="1.2"/><line x1="589" y1="332.1" x2="589" y2="336.5" stroke="#7a0a28" stroke-width="2.2"/><line x1="588.9" y1="330.4" x2="588.9" y2="334.3" stroke="#40e8b8" stroke-width="1" opacity="0.45"/><line x1="591.0" y1="330.4" x2="591.0" y2="334.3" stroke="#e070a0" stroke-width="1" opacity="0.4"/><line x1="590" y1="330.4" x2="590" y2="334.3" stroke="#181818" stroke-width="1.2"/><line x1="590" y1="331.6" x2="590" y2="333.1" stroke="#181818" stroke-width="2.2"/><line x1="589.9" y1="326.9" x2="589.9" y2="334.6" stroke="#40e8b8" stroke-width="1" opacity="0.45"/><line x1="592.0" y1="326.9" x2="592.0" y2="334.6" stroke="#e070a0" stroke-width="1" opacity="0.4"/><line x1="591" y1="326.9" x2="591" y2="334.6" stroke="#181818" stroke-width="1.2"/><line x1="591" y1="330.3" x2="591" y2="332.6" stroke="#181818" stroke-width="2.2"/><line x1="590.9" y1="326.5" x2="590.9" y2="334.2" stroke="#40e8b8" stroke-width="1" opacity="0.45"/><line x1="593.0" y1="326.5" x2="593.0" y2="334.2" stroke="#e070a0" stroke-width="1" opacity="0.4"/><line x1="592" y1="326.5" x2="592" y2="334.2" stroke="#7a0a28" stroke-width="1.2"/><line x1="592" y1="329.4" x2="592" y2="331.3" stroke="#7a0a28" stroke-width="2.2"/><line x1="591.9" y1="327.6" x2="591.9" y2="339.0" stroke="#40e8b8" stroke-width="1" opacity="0.45"/><line x1="594.0" y1="327.6" x2="594.0" y2="339.0" stroke="#e070a0" stroke-width="1" opacity="0.4"/><line x1="593" y1="327.6" x2="593" y2="339.0" stroke="#7a0a28" stroke-width="1.2"/><line x1="593" y1="329.4" x2="593" y2="337.1" stroke="#7a0a28" stroke-width="2.2"/><line x1="592.9" y1="332.5" x2="592.9" y2="341.1" stroke="#40e8b8" stroke-width="1" opacity="0.45"/><line x1="595.0" y1="332.5" x2="595.0" y2="341.1" stroke="#e070a0" stroke-width="1" opacity="0.4"/><line x1="594" y1="332.5" x2="594" y2="341.1" stroke="#181818" stroke-width="1.2"/><line x1="594" y1="336.1" x2="594" y2="338.1" stroke="#181818" stroke-width="2.2"/><line x1="593.9" y1="335.7" x2="593.9" y2="349.9" stroke="#40e8b8" stroke-width="1" opacity="0.45"/><line x1="596.0" y1="335.7" x2="596.0" y2="349.9" stroke="#e070a0" stroke-width="1" opacity="0.4"/><line x1="595" y1="335.7" x2="595" y2="349.9" stroke="#7a0a28" stroke-width="1.2"/><line x1="595" y1="337.1" x2="595" y2="345.8" stroke="#7a0a28" stroke-width="2.2"/><line x1="594.9" y1="342.0" x2="594.9" y2="348.1" stroke="#40e8b8" stroke-width="1" opacity="0.45"/><line x1="597.0" y1="342.0" x2="597.0" y2="348.1" stroke="#e070a0" stroke-width="1" opacity="0.4"/><line x1="596" y1="342.0" x2="596" y2="348.1" stroke="#7a0a28" stroke-width="1.2"/><line x1="596" y1="344.8" x2="596" y2="346.6" stroke="#7a0a28" stroke-width="2.2"/><line x1="595.9" y1="344.0" x2="595.9" y2="349.7" stroke="#40e8b8" stroke-width="1" opacity="0.45"/><line x1="598.0" y1="344.0" x2="598.0" y2="349.7" stroke="#e070a0" stroke-width="1" opacity="0.4"/><line x1="597" y1="344.0" x2="597" y2="349.7" stroke="#7a0a28" stroke-width="1.2"/><line x1="597" y1="345.6" x2="597" y2="347.4" stroke="#7a0a28" stroke-width="2.2"/><line x1="596.9" y1="344.3" x2="596.9" y2="350.9" stroke="#40e8b8" stroke-width="1" opacity="0.45"/><line x1="599.0" y1="344.3" x2="599.0" y2="350.9" stroke="#e070a0" stroke-width="1" opacity="0.4"/><line x1="598" y1="344.3" x2="598" y2="350.9" stroke="#181818" stroke-width="1.2"/><line x1="598" y1="346.4" x2="598" y2="348.8" stroke="#181818" stroke-width="2.2"/><line x1="597.9" y1="345.1" x2="597.9" y2="349.9" stroke="#40e8b8" stroke-width="1" opacity="0.45"/><line x1="600.0" y1="345.1" x2="600.0" y2="349.9" stroke="#e070a0" stroke-width="1" opacity="0.4"/><line x1="599" y1="345.1" x2="599" y2="349.9" stroke="#7a0a28" stroke-width="1.2"/><line x1="599" y1="346.7" x2="599" y2="348.8" stroke="#7a0a28" stroke-width="2.2"/><line x1="598.9" y1="343.8" x2="598.9" y2="349.0" stroke="#40e8b8" stroke-width="1" opacity="0.45"/><line x1="601.0" y1="343.8" x2="601.0" y2="349.0" stroke="#e070a0" stroke-width="1" opacity="0.4"/><line x1="600" y1="343.8" x2="600" y2="349.0" stroke="#7a0a28" stroke-width="1.2"/><line x1="600" y1="344.1" x2="600" y2="347.7" stroke="#7a0a28" stroke-width="2.2"/><line x1="599.9" y1="342.8" x2="599.9" y2="345.5" stroke="#40e8b8" stroke-width="1" opacity="0.45"/><line x1="602.0" y1="342.8" x2="602.0" y2="345.5" stroke="#e070a0" stroke-width="1" opacity="0.4"/><line x1="601" y1="342.8" x2="601" y2="345.5" stroke="#181818" stroke-width="1.2"/><line x1="601" y1="343.9" x2="601" y2="345.1" stroke="#181818" stroke-width="2.2"/><line x1="600.9" y1="335.9" x2="600.9" y2="346.4" stroke="#40e8b8" stroke-width="1" opacity="0.45"/><line x1="603.0" y1="335.9" x2="603.0" y2="346.4" stroke="#e070a0" stroke-width="1" opacity="0.4"/><line x1="602" y1="335.9" x2="602" y2="346.4" stroke="#181818" stroke-width="1.2"/><line x1="602" y1="338.9" x2="602" y2="344.9" stroke="#181818" stroke-width="2.2"/><line x1="601.9" y1="338.1" x2="601.9" y2="340.5" stroke="#40e8b8" stroke-width="1" opacity="0.45"/><line x1="604.0" y1="338.1" x2="604.0" y2="340.5" stroke="#e070a0" stroke-width="1" opacity="0.4"/><line x1="603" y1="338.1" x2="603" y2="340.5" stroke="#181818" stroke-width="1.2"/><line x1="603" y1="338.9" x2="603" y2="340.4" stroke="#181818" stroke-width="2.2"/><line x1="602.9" y1="336.9" x2="602.9" y2="341.2" stroke="#40e8b8" stroke-width="1" opacity="0.45"/><line x1="605.0" y1="336.9" x2="605.0" y2="341.2" stroke="#e070a0" stroke-width="1" opacity="0.4"/><line x1="604" y1="336.9" x2="604" y2="341.2" stroke="#181818" stroke-width="1.2"/><line x1="604" y1="338.5" x2="604" y2="340.4" stroke="#181818" stroke-width="2.2"/><line x1="603.9" y1="333.9" x2="603.9" y2="341.5" stroke="#40e8b8" stroke-width="1" opacity="0.45"/><line x1="606.0" y1="333.9" x2="606.0" y2="341.5" stroke="#e070a0" stroke-width="1" opacity="0.4"/><line x1="605" y1="333.9" x2="605" y2="341.5" stroke="#7a0a28" stroke-width="1.2"/><line x1="605" y1="336.0" x2="605" y2="339.5" stroke="#7a0a28" stroke-width="2.2"/><line x1="604.9" y1="331.0" x2="604.9" y2="338.2" stroke="#40e8b8" stroke-width="1" opacity="0.45"/><line x1="607.0" y1="331.0" x2="607.0" y2="338.2" stroke="#e070a0" stroke-width="1" opacity="0.4"/><line x1="606" y1="331.0" x2="606" y2="338.2" stroke="#7a0a28" stroke-width="1.2"/><line x1="606" y1="334.6" x2="606" y2="337.0" stroke="#7a0a28" stroke-width="2.2"/><line x1="605.9" y1="330.6" x2="605.9" y2="336.6" stroke="#40e8b8" stroke-width="1" opacity="0.45"/><line x1="608.0" y1="330.6" x2="608.0" y2="336.6" stroke="#e070a0" stroke-width="1" opacity="0.4"/><line x1="607" y1="330.6" x2="607" y2="336.6" stroke="#181818" stroke-width="1.2"/><line x1="607" y1="334.6" x2="607" y2="335.7" stroke="#181818" stroke-width="2.2"/><line x1="606.9" y1="331.2" x2="606.9" y2="339.3" stroke="#40e8b8" stroke-width="1" opacity="0.45"/><line x1="609.0" y1="331.2" x2="609.0" y2="339.3" stroke="#e070a0" stroke-width="1" opacity="0.4"/><line x1="608" y1="331.2" x2="608" y2="339.3" stroke="#7a0a28" stroke-width="1.2"/><line x1="608" y1="332.8" x2="608" y2="335.7" stroke="#7a0a28" stroke-width="2.2"/><line x1="607.9" y1="327.1" x2="607.9" y2="336.1" stroke="#40e8b8" stroke-width="1" opacity="0.45"/><line x1="610.0" y1="327.1" x2="610.0" y2="336.1" stroke="#e070a0" stroke-width="1" opacity="0.4"/><line x1="609" y1="327.1" x2="609" y2="336.1" stroke="#7a0a28" stroke-width="1.2"/><line x1="609" y1="329.5" x2="609" y2="333.8" stroke="#7a0a28" stroke-width="2.2"/><line x1="608.9" y1="325.1" x2="608.9" y2="331.8" stroke="#40e8b8" stroke-width="1" opacity="0.45"/><line x1="611.0" y1="325.1" x2="611.0" y2="331.8" stroke="#e070a0" stroke-width="1" opacity="0.4"/><line x1="610" y1="325.1" x2="610" y2="331.8" stroke="#7a0a28" stroke-width="1.2"/><line x1="610" y1="327.7" x2="610" y2="330.5" stroke="#7a0a28" stroke-width="2.2"/><line x1="609.9" y1="324.3" x2="609.9" y2="330.6" stroke="#40e8b8" stroke-width="1" opacity="0.45"/><line x1="612.0" y1="324.3" x2="612.0" y2="330.6" stroke="#e070a0" stroke-width="1" opacity="0.4"/><line x1="611" y1="324.3" x2="611" y2="330.6" stroke="#181818" stroke-width="1.2"/><line x1="611" y1="324.7" x2="611" y2="328.7" stroke="#181818" stroke-width="2.2"/><line x1="610.9" y1="321.6" x2="610.9" y2="326.7" stroke="#40e8b8" stroke-width="1" opacity="0.45"/><line x1="613.0" y1="321.6" x2="613.0" y2="326.7" stroke="#e070a0" stroke-width="1" opacity="0.4"/><line x1="612" y1="321.6" x2="612" y2="326.7" stroke="#7a0a28" stroke-width="1.2"/><line x1="612" y1="324.7" x2="612" y2="325.8" stroke="#7a0a28" stroke-width="2.2"/><line x1="611.9" y1="318.0" x2="611.9" y2="330.5" stroke="#40e8b8" stroke-width="1" opacity="0.45"/><line x1="614.0" y1="318.0" x2="614.0" y2="330.5" stroke="#e070a0" stroke-width="1" opacity="0.4"/><line x1="613" y1="318.0" x2="613" y2="330.5" stroke="#181818" stroke-width="1.2"/><line x1="613" y1="322.2" x2="613" y2="325.8" stroke="#181818" stroke-width="2.2"/><line x1="612.9" y1="315.7" x2="612.9" y2="326.9" stroke="#40e8b8" stroke-width="1" opacity="0.45"/><line x1="615.0" y1="315.7" x2="615.0" y2="326.9" stroke="#e070a0" stroke-width="1" opacity="0.4"/><line x1="614" y1="315.7" x2="614" y2="326.9" stroke="#7a0a28" stroke-width="1.2"/><line x1="614" y1="318.9" x2="614" y2="323.2" stroke="#7a0a28" stroke-width="2.2"/><line x1="613.9" y1="318.7" x2="613.9" y2="320.7" stroke="#40e8b8" stroke-width="1" opacity="0.45"/><line x1="616.0" y1="318.7" x2="616.0" y2="320.7" stroke="#e070a0" stroke-width="1" opacity="0.4"/><line x1="615" y1="318.7" x2="615" y2="320.7" stroke="#7a0a28" stroke-width="1.2"/><line x1="615" y1="318.9" x2="615" y2="320.9" stroke="#7a0a28" stroke-width="2.2"/><line x1="614.9" y1="318.9" x2="614.9" y2="322.2" stroke="#40e8b8" stroke-width="1" opacity="0.45"/><line x1="617.0" y1="318.9" x2="617.0" y2="322.2" stroke="#e070a0" stroke-width="1" opacity="0.4"/><line x1="616" y1="318.9" x2="616" y2="322.2" stroke="#7a0a28" stroke-width="1.2"/><line x1="616" y1="319.9" x2="616" y2="321.3" stroke="#7a0a28" stroke-width="2.2"/><line x1="615.9" y1="317.8" x2="615.9" y2="322.7" stroke="#40e8b8" stroke-width="1" opacity="0.45"/><line x1="618.0" y1="317.8" x2="618.0" y2="322.7" stroke="#e070a0" stroke-width="1" opacity="0.4"/><line x1="617" y1="317.8" x2="617" y2="322.7" stroke="#181818" stroke-width="1.2"/><line x1="617" y1="319.1" x2="617" y2="321.3" stroke="#181818" stroke-width="2.2"/><line x1="616.9" y1="316.3" x2="616.9" y2="320.1" stroke="#40e8b8" stroke-width="1" opacity="0.45"/><line x1="619.0" y1="316.3" x2="619.0" y2="320.1" stroke="#e070a0" stroke-width="1" opacity="0.4"/><line x1="618" y1="316.3" x2="618" y2="320.1" stroke="#181818" stroke-width="1.2"/><line x1="618" y1="316.7" x2="618" y2="320.1" stroke="#181818" stroke-width="2.2"/><line x1="617.9" y1="314.3" x2="617.9" y2="322.2" stroke="#40e8b8" stroke-width="1" opacity="0.45"/><line x1="620.0" y1="314.3" x2="620.0" y2="322.2" stroke="#e070a0" stroke-width="1" opacity="0.4"/><line x1="619" y1="314.3" x2="619" y2="322.2" stroke="#7a0a28" stroke-width="1.2"/><line x1="619" y1="316.7" x2="619" y2="319.3" stroke="#7a0a28" stroke-width="2.2"/><line x1="618.9" y1="315.7" x2="618.9" y2="322.2" stroke="#40e8b8" stroke-width="1" opacity="0.45"/><line x1="621.0" y1="315.7" x2="621.0" y2="322.2" stroke="#e070a0" stroke-width="1" opacity="0.4"/><line x1="620" y1="315.7" x2="620" y2="322.2" stroke="#7a0a28" stroke-width="1.2"/><line x1="620" y1="317.5" x2="620" y2="319.3" stroke="#7a0a28" stroke-width="2.2"/><line x1="619.9" y1="315.3" x2="619.9" y2="319.7" stroke="#40e8b8" stroke-width="1" opacity="0.45"/><line x1="622.0" y1="315.3" x2="622.0" y2="319.7" stroke="#e070a0" stroke-width="1" opacity="0.4"/><line x1="621" y1="315.3" x2="621" y2="319.7" stroke="#7a0a28" stroke-width="1.2"/><line x1="621" y1="316.6" x2="621" y2="318.5" stroke="#7a0a28" stroke-width="2.2"/><line x1="620.9" y1="314.6" x2="620.9" y2="321.4" stroke="#40e8b8" stroke-width="1" opacity="0.45"/><line x1="623.0" y1="314.6" x2="623.0" y2="321.4" stroke="#e070a0" stroke-width="1" opacity="0.4"/><line x1="622" y1="314.6" x2="622" y2="321.4" stroke="#7a0a28" stroke-width="1.2"/><line x1="622" y1="316.6" x2="622" y2="320.5" stroke="#7a0a28" stroke-width="2.2"/><line x1="621.9" y1="316.9" x2="621.9" y2="322.4" stroke="#40e8b8" stroke-width="1" opacity="0.45"/><line x1="624.0" y1="316.9" x2="624.0" y2="322.4" stroke="#e070a0" stroke-width="1" opacity="0.4"/><line x1="623" y1="316.9" x2="623" y2="322.4" stroke="#181818" stroke-width="1.2"/><line x1="623" y1="318.3" x2="623" y2="320.5" stroke="#181818" stroke-width="2.2"/><line x1="622.9" y1="315.0" x2="622.9" y2="324.5" stroke="#40e8b8" stroke-width="1" opacity="0.45"/><line x1="625.0" y1="315.0" x2="625.0" y2="324.5" stroke="#e070a0" stroke-width="1" opacity="0.4"/><line x1="624" y1="315.0" x2="624" y2="324.5" stroke="#181818" stroke-width="1.2"/><line x1="624" y1="318.3" x2="624" y2="323.0" stroke="#181818" stroke-width="2.2"/><line x1="623.9" y1="319.6" x2="623.9" y2="324.0" stroke="#40e8b8" stroke-width="1" opacity="0.45"/><line x1="626.0" y1="319.6" x2="626.0" y2="324.0" stroke="#e070a0" stroke-width="1" opacity="0.4"/><line x1="625" y1="319.6" x2="625" y2="324.0" stroke="#7a0a28" stroke-width="1.2"/><line x1="625" y1="322.0" x2="625" y2="323.4" stroke="#7a0a28" stroke-width="2.2"/><line x1="624.9" y1="318.5" x2="624.9" y2="331.0" stroke="#40e8b8" stroke-width="1" opacity="0.45"/><line x1="627.0" y1="318.5" x2="627.0" y2="331.0" stroke="#e070a0" stroke-width="1" opacity="0.4"/><line x1="626" y1="318.5" x2="626" y2="331.0" stroke="#181818" stroke-width="1.2"/><line x1="626" y1="322.4" x2="626" y2="327.6" stroke="#181818" stroke-width="2.2"/><line x1="625.9" y1="326.1" x2="625.9" y2="330.6" stroke="#40e8b8" stroke-width="1" opacity="0.45"/><line x1="628.0" y1="326.1" x2="628.0" y2="330.6" stroke="#e070a0" stroke-width="1" opacity="0.4"/><line x1="627" y1="326.1" x2="627" y2="330.6" stroke="#181818" stroke-width="1.2"/><line x1="627" y1="326.6" x2="627" y2="328.7" stroke="#181818" stroke-width="2.2"/><line x1="626.9" y1="322.9" x2="626.9" y2="330.7" stroke="#40e8b8" stroke-width="1" opacity="0.45"/><line x1="629.0" y1="322.9" x2="629.0" y2="330.7" stroke="#e070a0" stroke-width="1" opacity="0.4"/><line x1="628" y1="322.9" x2="628" y2="330.7" stroke="#181818" stroke-width="1.2"/><line x1="628" y1="324.4" x2="628" y2="328.7" stroke="#181818" stroke-width="2.2"/><line x1="627.9" y1="321.5" x2="627.9" y2="327.3" stroke="#40e8b8" stroke-width="1" opacity="0.45"/><line x1="630.0" y1="321.5" x2="630.0" y2="327.3" stroke="#e070a0" stroke-width="1" opacity="0.4"/><line x1="629" y1="321.5" x2="629" y2="327.3" stroke="#181818" stroke-width="1.2"/><line x1="629" y1="322.2" x2="629" y2="325.4" stroke="#181818" stroke-width="2.2"/><line x1="628.9" y1="313.7" x2="628.9" y2="327.3" stroke="#40e8b8" stroke-width="1" opacity="0.45"/><line x1="631.0" y1="313.7" x2="631.0" y2="327.3" stroke="#e070a0" stroke-width="1" opacity="0.4"/><line x1="630" y1="313.7" x2="630" y2="327.3" stroke="#181818" stroke-width="1.2"/><line x1="630" y1="316.2" x2="630" y2="323.2" stroke="#181818" stroke-width="2.2"/><line x1="629.9" y1="314.5" x2="629.9" y2="318.5" stroke="#40e8b8" stroke-width="1" opacity="0.45"/><line x1="632.0" y1="314.5" x2="632.0" y2="318.5" stroke="#e070a0" stroke-width="1" opacity="0.4"/><line x1="631" y1="314.5" x2="631" y2="318.5" stroke="#7a0a28" stroke-width="1.2"/><line x1="631" y1="316.2" x2="631" y2="317.6" stroke="#7a0a28" stroke-width="2.2"/><line x1="630.9" y1="307.7" x2="630.9" y2="319.4" stroke="#40e8b8" stroke-width="1" opacity="0.45"/><line x1="633.0" y1="307.7" x2="633.0" y2="319.4" stroke="#e070a0" stroke-width="1" opacity="0.4"/><line x1="632" y1="307.7" x2="632" y2="319.4" stroke="#7a0a28" stroke-width="1.2"/><line x1="632" y1="309.4" x2="632" y2="317.6" stroke="#7a0a28" stroke-width="2.2"/><line x1="631.9" y1="302.0" x2="631.9" y2="311.1" stroke="#40e8b8" stroke-width="1" opacity="0.45"/><line x1="634.0" y1="302.0" x2="634.0" y2="311.1" stroke="#e070a0" stroke-width="1" opacity="0.4"/><line x1="633" y1="302.0" x2="633" y2="311.1" stroke="#181818" stroke-width="1.2"/><line x1="633" y1="309.4" x2="633" y2="311.0" stroke="#181818" stroke-width="2.2"/><line x1="632.9" y1="308.4" x2="632.9" y2="317.5" stroke="#40e8b8" stroke-width="1" opacity="0.45"/><line x1="635.0" y1="308.4" x2="635.0" y2="317.5" stroke="#e070a0" stroke-width="1" opacity="0.4"/><line x1="634" y1="308.4" x2="634" y2="317.5" stroke="#7a0a28" stroke-width="1.2"/><line x1="634" y1="310.0" x2="634" y2="316.0" stroke="#7a0a28" stroke-width="2.2"/><line x1="633.9" y1="310.6" x2="633.9" y2="318.4" stroke="#40e8b8" stroke-width="1" opacity="0.45"/><line x1="636.0" y1="310.6" x2="636.0" y2="318.4" stroke="#e070a0" stroke-width="1" opacity="0.4"/><line x1="635" y1="310.6" x2="635" y2="318.4" stroke="#181818" stroke-width="1.2"/><line x1="635" y1="312.8" x2="635" y2="316.0" stroke="#181818" stroke-width="2.2"/><line x1="634.9" y1="312.1" x2="634.9" y2="320.1" stroke="#40e8b8" stroke-width="1" opacity="0.45"/><line x1="637.0" y1="312.1" x2="637.0" y2="320.1" stroke="#e070a0" stroke-width="1" opacity="0.4"/><line x1="636" y1="312.1" x2="636" y2="320.1" stroke="#181818" stroke-width="1.2"/><line x1="636" y1="312.8" x2="636" y2="317.2" stroke="#181818" stroke-width="2.2"/><line x1="635.9" y1="312.5" x2="635.9" y2="339.7" stroke="#40e8b8" stroke-width="1" opacity="0.45"/><line x1="638.0" y1="312.5" x2="638.0" y2="339.7" stroke="#e070a0" stroke-width="1" opacity="0.4"/><line x1="637" y1="312.5" x2="637" y2="339.7" stroke="#7a0a28" stroke-width="1.2"/><line x1="637" y1="316.2" x2="637" y2="335.2" stroke="#7a0a28" stroke-width="2.2"/><line x1="636.9" y1="331.9" x2="636.9" y2="336.6" stroke="#40e8b8" stroke-width="1" opacity="0.45"/><line x1="639.0" y1="331.9" x2="639.0" y2="336.6" stroke="#e070a0" stroke-width="1" opacity="0.4"/><line x1="638" y1="331.9" x2="638" y2="336.6" stroke="#7a0a28" stroke-width="1.2"/><line x1="638" y1="332.7" x2="638" y2="335.2" stroke="#7a0a28" stroke-width="2.2"/><line x1="637.9" y1="329.7" x2="637.9" y2="338.2" stroke="#40e8b8" stroke-width="1" opacity="0.45"/><line x1="640.0" y1="329.7" x2="640.0" y2="338.2" stroke="#e070a0" stroke-width="1" opacity="0.4"/><line x1="639" y1="329.7" x2="639" y2="338.2" stroke="#181818" stroke-width="1.2"/><line x1="639" y1="331.8" x2="639" y2="333.7" stroke="#181818" stroke-width="2.2"/><line x1="638.9" y1="328.6" x2="638.9" y2="334.9" stroke="#40e8b8" stroke-width="1" opacity="0.45"/><line x1="641.0" y1="328.6" x2="641.0" y2="334.9" stroke="#e070a0" stroke-width="1" opacity="0.4"/><line x1="640" y1="328.6" x2="640" y2="334.9" stroke="#181818" stroke-width="1.2"/><line x1="640" y1="329.1" x2="640" y2="332.8" stroke="#181818" stroke-width="2.2"/><line x1="639.9" y1="325.7" x2="639.9" y2="341.5" stroke="#40e8b8" stroke-width="1" opacity="0.45"/><line x1="642.0" y1="325.7" x2="642.0" y2="341.5" stroke="#e070a0" stroke-width="1" opacity="0.4"/><line x1="641" y1="325.7" x2="641" y2="341.5" stroke="#181818" stroke-width="1.2"/><line x1="641" y1="329.1" x2="641" y2="338.3" stroke="#181818" stroke-width="2.2"/><line x1="640.9" y1="333.7" x2="640.9" y2="341.7" stroke="#40e8b8" stroke-width="1" opacity="0.45"/><line x1="643.0" y1="333.7" x2="643.0" y2="341.7" stroke="#e070a0" stroke-width="1" opacity="0.4"/><line x1="642" y1="333.7" x2="642" y2="341.7" stroke="#181818" stroke-width="1.2"/><line x1="642" y1="337.3" x2="642" y2="340.2" stroke="#181818" stroke-width="2.2"/><line x1="641.9" y1="336.1" x2="641.9" y2="343.9" stroke="#40e8b8" stroke-width="1" opacity="0.45"/><line x1="644.0" y1="336.1" x2="644.0" y2="343.9" stroke="#e070a0" stroke-width="1" opacity="0.4"/><line x1="643" y1="336.1" x2="643" y2="343.9" stroke="#7a0a28" stroke-width="1.2"/><line x1="643" y1="339.2" x2="643" y2="343.3" stroke="#7a0a28" stroke-width="2.2"/><line x1="642.9" y1="340.3" x2="642.9" y2="346.4" stroke="#40e8b8" stroke-width="1" opacity="0.45"/><line x1="645.0" y1="340.3" x2="645.0" y2="346.4" stroke="#e070a0" stroke-width="1" opacity="0.4"/><line x1="644" y1="340.3" x2="644" y2="346.4" stroke="#181818" stroke-width="1.2"/><line x1="644" y1="341.9" x2="644" y2="343.3" stroke="#181818" stroke-width="2.2"/><line x1="643.9" y1="340.9" x2="643.9" y2="348.4" stroke="#40e8b8" stroke-width="1" opacity="0.45"/><line x1="646.0" y1="340.9" x2="646.0" y2="348.4" stroke="#e070a0" stroke-width="1" opacity="0.4"/><line x1="645" y1="340.9" x2="645" y2="348.4" stroke="#181818" stroke-width="1.2"/><line x1="645" y1="341.9" x2="645" y2="346.1" stroke="#181818" stroke-width="2.2"/><line x1="644.9" y1="336.6" x2="644.9" y2="347.9" stroke="#40e8b8" stroke-width="1" opacity="0.45"/><line x1="647.0" y1="336.6" x2="647.0" y2="347.9" stroke="#e070a0" stroke-width="1" opacity="0.4"/><line x1="646" y1="336.6" x2="646" y2="347.9" stroke="#181818" stroke-width="1.2"/><line x1="646" y1="341.1" x2="646" y2="346.1" stroke="#181818" stroke-width="2.2"/><line x1="645.9" y1="340.2" x2="645.9" y2="344.9" stroke="#40e8b8" stroke-width="1" opacity="0.45"/><line x1="648.0" y1="340.2" x2="648.0" y2="344.9" stroke="#e070a0" stroke-width="1" opacity="0.4"/><line x1="647" y1="340.2" x2="647" y2="344.9" stroke="#7a0a28" stroke-width="1.2"/><line x1="647" y1="341.1" x2="647" y2="344.1" stroke="#7a0a28" stroke-width="2.2"/><line x1="646.9" y1="337.7" x2="646.9" y2="347.2" stroke="#40e8b8" stroke-width="1" opacity="0.45"/><line x1="649.0" y1="337.7" x2="649.0" y2="347.2" stroke="#e070a0" stroke-width="1" opacity="0.4"/><line x1="648" y1="337.7" x2="648" y2="347.2" stroke="#181818" stroke-width="1.2"/><line x1="648" y1="339.4" x2="648" y2="344.1" stroke="#181818" stroke-width="2.2"/><line x1="647.9" y1="338.9" x2="647.9" y2="343.7" stroke="#40e8b8" stroke-width="1" opacity="0.45"/><line x1="650.0" y1="338.9" x2="650.0" y2="343.7" stroke="#e070a0" stroke-width="1" opacity="0.4"/><line x1="649" y1="338.9" x2="649" y2="343.7" stroke="#181818" stroke-width="1.2"/><line x1="649" y1="339.4" x2="649" y2="340.9" stroke="#181818" stroke-width="2.2"/><line x1="648.9" y1="335.7" x2="648.9" y2="343.9" stroke="#40e8b8" stroke-width="1" opacity="0.45"/><line x1="651.0" y1="335.7" x2="651.0" y2="343.9" stroke="#e070a0" stroke-width="1" opacity="0.4"/><line x1="650" y1="335.7" x2="650" y2="343.9" stroke="#181818" stroke-width="1.2"/><line x1="650" y1="338.8" x2="650" y2="340.9" stroke="#181818" stroke-width="2.2"/><line x1="649.9" y1="336.0" x2="649.9" y2="344.3" stroke="#40e8b8" stroke-width="1" opacity="0.45"/><line x1="652.0" y1="336.0" x2="652.0" y2="344.3" stroke="#e070a0" stroke-width="1" opacity="0.4"/><line x1="651" y1="336.0" x2="651" y2="344.3" stroke="#7a0a28" stroke-width="1.2"/><line x1="651" y1="338.8" x2="651" y2="343.3" stroke="#7a0a28" stroke-width="2.2"/><line x1="650.9" y1="339.5" x2="650.9" y2="357.9" stroke="#40e8b8" stroke-width="1" opacity="0.45"/><line x1="653.0" y1="339.5" x2="653.0" y2="357.9" stroke="#e070a0" stroke-width="1" opacity="0.4"/><line x1="652" y1="339.5" x2="652" y2="357.9" stroke="#181818" stroke-width="1.2"/><line x1="652" y1="342.3" x2="652" y2="354.4" stroke="#181818" stroke-width="2.2"/><line x1="651.9" y1="348.6" x2="651.9" y2="356.3" stroke="#40e8b8" stroke-width="1" opacity="0.45"/><line x1="654.0" y1="348.6" x2="654.0" y2="356.3" stroke="#e070a0" stroke-width="1" opacity="0.4"/><line x1="653" y1="348.6" x2="653" y2="356.3" stroke="#181818" stroke-width="1.2"/><line x1="653" y1="351.6" x2="653" y2="354.4" stroke="#181818" stroke-width="2.2"/><line x1="652.9" y1="350.9" x2="652.9" y2="360.8" stroke="#40e8b8" stroke-width="1" opacity="0.45"/><line x1="655.0" y1="350.9" x2="655.0" y2="360.8" stroke="#e070a0" stroke-width="1" opacity="0.4"/><line x1="654" y1="350.9" x2="654" y2="360.8" stroke="#181818" stroke-width="1.2"/><line x1="654" y1="351.6" x2="654" y2="360.2" stroke="#181818" stroke-width="2.2"/><line x1="653.9" y1="358.6" x2="653.9" y2="368.0" stroke="#40e8b8" stroke-width="1" opacity="0.45"/><line x1="656.0" y1="358.6" x2="656.0" y2="368.0" stroke="#e070a0" stroke-width="1" opacity="0.4"/><line x1="655" y1="358.6" x2="655" y2="368.0" stroke="#7a0a28" stroke-width="1.2"/><line x1="655" y1="359.2" x2="655" y2="365.4" stroke="#7a0a28" stroke-width="2.2"/><line x1="654.9" y1="364.1" x2="654.9" y2="370.8" stroke="#40e8b8" stroke-width="1" opacity="0.45"/><line x1="657.0" y1="364.1" x2="657.0" y2="370.8" stroke="#e070a0" stroke-width="1" opacity="0.4"/><line x1="656" y1="364.1" x2="656" y2="370.8" stroke="#7a0a28" stroke-width="1.2"/><line x1="656" y1="364.4" x2="656" y2="369.3" stroke="#7a0a28" stroke-width="2.2"/><line x1="655.9" y1="365.9" x2="655.9" y2="378.8" stroke="#40e8b8" stroke-width="1" opacity="0.45"/><line x1="658.0" y1="365.9" x2="658.0" y2="378.8" stroke="#e070a0" stroke-width="1" opacity="0.4"/><line x1="657" y1="365.9" x2="657" y2="378.8" stroke="#7a0a28" stroke-width="1.2"/><line x1="657" y1="368.3" x2="657" y2="374.4" stroke="#7a0a28" stroke-width="2.2"/><line x1="656.9" y1="370.6" x2="656.9" y2="375.0" stroke="#40e8b8" stroke-width="1" opacity="0.45"/><line x1="659.0" y1="370.6" x2="659.0" y2="375.0" stroke="#e070a0" stroke-width="1" opacity="0.4"/><line x1="658" y1="370.6" x2="658" y2="375.0" stroke="#181818" stroke-width="1.2"/><line x1="658" y1="372.5" x2="658" y2="374.4" stroke="#181818" stroke-width="2.2"/><line x1="657.9" y1="368.8" x2="657.9" y2="379.2" stroke="#40e8b8" stroke-width="1" opacity="0.45"/><line x1="660.0" y1="368.8" x2="660.0" y2="379.2" stroke="#e070a0" stroke-width="1" opacity="0.4"/><line x1="659" y1="368.8" x2="659" y2="379.2" stroke="#7a0a28" stroke-width="1.2"/><line x1="659" y1="372.5" x2="659" y2="376.5" stroke="#7a0a28" stroke-width="2.2"/><line x1="658.9" y1="371.9" x2="658.9" y2="385.7" stroke="#40e8b8" stroke-width="1" opacity="0.45"/><line x1="661.0" y1="371.9" x2="661.0" y2="385.7" stroke="#e070a0" stroke-width="1" opacity="0.4"/><line x1="660" y1="371.9" x2="660" y2="385.7" stroke="#7a0a28" stroke-width="1.2"/><line x1="660" y1="375.5" x2="660" y2="382.4" stroke="#7a0a28" stroke-width="2.2"/><line x1="659.9" y1="379.2" x2="659.9" y2="383.7" stroke="#40e8b8" stroke-width="1" opacity="0.45"/><line x1="662.0" y1="379.2" x2="662.0" y2="383.7" stroke="#e070a0" stroke-width="1" opacity="0.4"/><line x1="661" y1="379.2" x2="661" y2="383.7" stroke="#7a0a28" stroke-width="1.2"/><line x1="661" y1="379.6" x2="661" y2="382.4" stroke="#7a0a28" stroke-width="2.2"/><line x1="660.9" y1="377.9" x2="660.9" y2="387.5" stroke="#40e8b8" stroke-width="1" opacity="0.45"/><line x1="663.0" y1="377.9" x2="663.0" y2="387.5" stroke="#e070a0" stroke-width="1" opacity="0.4"/><line x1="662" y1="377.9" x2="662" y2="387.5" stroke="#181818" stroke-width="1.2"/><line x1="662" y1="379.6" x2="662" y2="384.0" stroke="#181818" stroke-width="2.2"/><line x1="661.9" y1="382.0" x2="661.9" y2="386.1" stroke="#40e8b8" stroke-width="1" opacity="0.45"/><line x1="664.0" y1="382.0" x2="664.0" y2="386.1" stroke="#e070a0" stroke-width="1" opacity="0.4"/><line x1="663" y1="382.0" x2="663" y2="386.1" stroke="#7a0a28" stroke-width="1.2"/><line x1="663" y1="383.0" x2="663" y2="384.9" stroke="#7a0a28" stroke-width="2.2"/><line x1="662.9" y1="381.8" x2="662.9" y2="390.4" stroke="#40e8b8" stroke-width="1" opacity="0.45"/><line x1="665.0" y1="381.8" x2="665.0" y2="390.4" stroke="#e070a0" stroke-width="1" opacity="0.4"/><line x1="664" y1="381.8" x2="664" y2="390.4" stroke="#7a0a28" stroke-width="1.2"/><line x1="664" y1="383.9" x2="664" y2="387.3" stroke="#7a0a28" stroke-width="2.2"/><line x1="663.9" y1="384.8" x2="663.9" y2="388.2" stroke="#40e8b8" stroke-width="1" opacity="0.45"/><line x1="666.0" y1="384.8" x2="666.0" y2="388.2" stroke="#e070a0" stroke-width="1" opacity="0.4"/><line x1="665" y1="384.8" x2="665" y2="388.2" stroke="#7a0a28" stroke-width="1.2"/><line x1="665" y1="385.6" x2="665" y2="387.3" stroke="#7a0a28" stroke-width="2.2"/><line x1="664.9" y1="381.7" x2="664.9" y2="389.2" stroke="#40e8b8" stroke-width="1" opacity="0.45"/><line x1="667.0" y1="381.7" x2="667.0" y2="389.2" stroke="#e070a0" stroke-width="1" opacity="0.4"/><line x1="666" y1="381.7" x2="666" y2="389.2" stroke="#7a0a28" stroke-width="1.2"/><line x1="666" y1="383.1" x2="666" y2="386.6" stroke="#7a0a28" stroke-width="2.2"/><line x1="665.9" y1="382.0" x2="665.9" y2="387.9" stroke="#40e8b8" stroke-width="1" opacity="0.45"/><line x1="668.0" y1="382.0" x2="668.0" y2="387.9" stroke="#e070a0" stroke-width="1" opacity="0.4"/><line x1="667" y1="382.0" x2="667" y2="387.9" stroke="#7a0a28" stroke-width="1.2"/><line x1="667" y1="383.1" x2="667" y2="386.9" stroke="#7a0a28" stroke-width="2.2"/><line x1="666.9" y1="381.9" x2="666.9" y2="392.7" stroke="#40e8b8" stroke-width="1" opacity="0.45"/><line x1="669.0" y1="381.9" x2="669.0" y2="392.7" stroke="#e070a0" stroke-width="1" opacity="0.4"/><line x1="668" y1="381.9" x2="668" y2="392.7" stroke="#7a0a28" stroke-width="1.2"/><line x1="668" y1="385.9" x2="668" y2="388.8" stroke="#7a0a28" stroke-width="2.2"/><line x1="667.9" y1="384.8" x2="667.9" y2="393.6" stroke="#40e8b8" stroke-width="1" opacity="0.45"/><line x1="670.0" y1="384.8" x2="670.0" y2="393.6" stroke="#e070a0" stroke-width="1" opacity="0.4"/><line x1="669" y1="384.8" x2="669" y2="393.6" stroke="#7a0a28" stroke-width="1.2"/><line x1="669" y1="387.8" x2="669" y2="393.1" stroke="#7a0a28" stroke-width="2.2"/><line x1="668.9" y1="391.0" x2="668.9" y2="393.6" stroke="#40e8b8" stroke-width="1" opacity="0.45"/><line x1="671.0" y1="391.0" x2="671.0" y2="393.6" stroke="#e070a0" stroke-width="1" opacity="0.4"/><line x1="670" y1="391.0" x2="670" y2="393.6" stroke="#7a0a28" stroke-width="1.2"/><line x1="670" y1="392.1" x2="670" y2="393.1" stroke="#7a0a28" stroke-width="2.2"/><line x1="669.9" y1="390.7" x2="669.9" y2="394.4" stroke="#40e8b8" stroke-width="1" opacity="0.45"/><line x1="672.0" y1="390.7" x2="672.0" y2="394.4" stroke="#e070a0" stroke-width="1" opacity="0.4"/><line x1="671" y1="390.7" x2="671" y2="394.4" stroke="#181818" stroke-width="1.2"/><line x1="671" y1="391.8" x2="671" y2="393.1" stroke="#181818" stroke-width="2.2"/><line x1="670.9" y1="389.1" x2="670.9" y2="396.4" stroke="#40e8b8" stroke-width="1" opacity="0.45"/><line x1="673.0" y1="389.1" x2="673.0" y2="396.4" stroke="#e070a0" stroke-width="1" opacity="0.4"/><line x1="672" y1="389.1" x2="672" y2="396.4" stroke="#7a0a28" stroke-width="1.2"/><line x1="672" y1="391.8" x2="672" y2="394.7" stroke="#7a0a28" stroke-width="2.2"/><line x1="671.9" y1="392.8" x2="671.9" y2="395.5" stroke="#40e8b8" stroke-width="1" opacity="0.45"/><line x1="674.0" y1="392.8" x2="674.0" y2="395.5" stroke="#e070a0" stroke-width="1" opacity="0.4"/><line x1="673" y1="392.8" x2="673" y2="395.5" stroke="#7a0a28" stroke-width="1.2"/><line x1="673" y1="393.1" x2="673" y2="394.7" stroke="#7a0a28" stroke-width="2.2"/><line x1="672.9" y1="391.8" x2="672.9" y2="397.1" stroke="#40e8b8" stroke-width="1" opacity="0.45"/><line x1="675.0" y1="391.8" x2="675.0" y2="397.1" stroke="#e070a0" stroke-width="1" opacity="0.4"/><line x1="674" y1="391.8" x2="674" y2="397.1" stroke="#181818" stroke-width="1.2"/><line x1="674" y1="393.1" x2="674" y2="395.9" stroke="#181818" stroke-width="2.2"/><line x1="673.9" y1="393.9" x2="673.9" y2="398.1" stroke="#40e8b8" stroke-width="1" opacity="0.45"/><line x1="676.0" y1="393.9" x2="676.0" y2="398.1" stroke="#e070a0" stroke-width="1" opacity="0.4"/><line x1="675" y1="393.9" x2="675" y2="398.1" stroke="#181818" stroke-width="1.2"/><line x1="675" y1="394.9" x2="675" y2="396.8" stroke="#181818" stroke-width="2.2"/><line x1="674.9" y1="394.4" x2="674.9" y2="401.4" stroke="#40e8b8" stroke-width="1" opacity="0.45"/><line x1="677.0" y1="394.4" x2="677.0" y2="401.4" stroke="#e070a0" stroke-width="1" opacity="0.4"/><line x1="676" y1="394.4" x2="676" y2="401.4" stroke="#181818" stroke-width="1.2"/><line x1="676" y1="395.8" x2="676" y2="399.9" stroke="#181818" stroke-width="2.2"/><line x1="675.9" y1="398.9" x2="675.9" y2="407.0" stroke="#40e8b8" stroke-width="1" opacity="0.45"/><line x1="678.0" y1="398.9" x2="678.0" y2="407.0" stroke="#e070a0" stroke-width="1" opacity="0.4"/><line x1="677" y1="398.9" x2="677" y2="407.0" stroke="#181818" stroke-width="1.2"/><line x1="677" y1="398.9" x2="677" y2="400.0" stroke="#181818" stroke-width="2.2"/><line x1="676.9" y1="397.9" x2="676.9" y2="401.6" stroke="#40e8b8" stroke-width="1" opacity="0.45"/><line x1="679.0" y1="397.9" x2="679.0" y2="401.6" stroke="#e070a0" stroke-width="1" opacity="0.4"/><line x1="678" y1="397.9" x2="678" y2="401.6" stroke="#7a0a28" stroke-width="1.2"/><line x1="678" y1="399.0" x2="678" y2="401.4" stroke="#7a0a28" stroke-width="2.2"/><line x1="677.9" y1="396.8" x2="677.9" y2="403.3" stroke="#40e8b8" stroke-width="1" opacity="0.45"/><line x1="680.0" y1="396.8" x2="680.0" y2="403.3" stroke="#e070a0" stroke-width="1" opacity="0.4"/><line x1="679" y1="396.8" x2="679" y2="403.3" stroke="#181818" stroke-width="1.2"/><line x1="679" y1="397.5" x2="679" y2="401.4" stroke="#181818" stroke-width="2.2"/><line x1="678.9" y1="395.5" x2="678.9" y2="400.5" stroke="#40e8b8" stroke-width="1" opacity="0.45"/><line x1="681.0" y1="395.5" x2="681.0" y2="400.5" stroke="#e070a0" stroke-width="1" opacity="0.4"/><line x1="680" y1="395.5" x2="680" y2="400.5" stroke="#7a0a28" stroke-width="1.2"/><line x1="680" y1="397.3" x2="680" y2="398.5" stroke="#7a0a28" stroke-width="2.2"/><line x1="679.9" y1="391.0" x2="679.9" y2="401.0" stroke="#40e8b8" stroke-width="1" opacity="0.45"/><line x1="682.0" y1="391.0" x2="682.0" y2="401.0" stroke="#e070a0" stroke-width="1" opacity="0.4"/><line x1="681" y1="391.0" x2="681" y2="401.0" stroke="#181818" stroke-width="1.2"/><line x1="681" y1="394.3" x2="681" y2="398.3" stroke="#181818" stroke-width="2.2"/><line x1="680.9" y1="391.2" x2="680.9" y2="397.4" stroke="#40e8b8" stroke-width="1" opacity="0.45"/><line x1="683.0" y1="391.2" x2="683.0" y2="397.4" stroke="#e070a0" stroke-width="1" opacity="0.4"/><line x1="682" y1="391.2" x2="682" y2="397.4" stroke="#7a0a28" stroke-width="1.2"/><line x1="682" y1="393.5" x2="682" y2="395.3" stroke="#7a0a28" stroke-width="2.2"/><line x1="681.9" y1="387.1" x2="681.9" y2="396.6" stroke="#40e8b8" stroke-width="1" opacity="0.45"/><line x1="684.0" y1="387.1" x2="684.0" y2="396.6" stroke="#e070a0" stroke-width="1" opacity="0.4"/><line x1="683" y1="387.1" x2="683" y2="396.6" stroke="#181818" stroke-width="1.2"/><line x1="683" y1="390.0" x2="683" y2="394.5" stroke="#181818" stroke-width="2.2"/><line x1="682.9" y1="384.8" x2="682.9" y2="392.6" stroke="#40e8b8" stroke-width="1" opacity="0.45"/><line x1="685.0" y1="384.8" x2="685.0" y2="392.6" stroke="#e070a0" stroke-width="1" opacity="0.4"/><line x1="684" y1="384.8" x2="684" y2="392.6" stroke="#181818" stroke-width="1.2"/><line x1="684" y1="386.4" x2="684" y2="391.0" stroke="#181818" stroke-width="2.2"/><line x1="683.9" y1="372.9" x2="683.9" y2="388.2" stroke="#40e8b8" stroke-width="1" opacity="0.45"/><line x1="686.0" y1="372.9" x2="686.0" y2="388.2" stroke="#e070a0" stroke-width="1" opacity="0.4"/><line x1="685" y1="372.9" x2="685" y2="388.2" stroke="#181818" stroke-width="1.2"/><line x1="685" y1="375.6" x2="685" y2="387.4" stroke="#181818" stroke-width="2.2"/><line x1="684.9" y1="363.7" x2="684.9" y2="380.3" stroke="#40e8b8" stroke-width="1" opacity="0.45"/><line x1="687.0" y1="363.7" x2="687.0" y2="380.3" stroke="#e070a0" stroke-width="1" opacity="0.4"/><line x1="686" y1="363.7" x2="686" y2="380.3" stroke="#181818" stroke-width="1.2"/><line x1="686" y1="366.9" x2="686" y2="376.6" stroke="#181818" stroke-width="2.2"/><line x1="685.9" y1="358.7" x2="685.9" y2="369.3" stroke="#40e8b8" stroke-width="1" opacity="0.45"/><line x1="688.0" y1="358.7" x2="688.0" y2="369.3" stroke="#e070a0" stroke-width="1" opacity="0.4"/><line x1="687" y1="358.7" x2="687" y2="369.3" stroke="#181818" stroke-width="1.2"/><line x1="687" y1="361.3" x2="687" y2="367.9" stroke="#181818" stroke-width="2.2"/><line x1="686.9" y1="340.8" x2="686.9" y2="363.8" stroke="#40e8b8" stroke-width="1" opacity="0.45"/><line x1="689.0" y1="340.8" x2="689.0" y2="363.8" stroke="#e070a0" stroke-width="1" opacity="0.4"/><line x1="688" y1="340.8" x2="688" y2="363.8" stroke="#7a0a28" stroke-width="1.2"/><line x1="688" y1="344.7" x2="688" y2="362.3" stroke="#7a0a28" stroke-width="2.2"/><line x1="687.9" y1="343.8" x2="687.9" y2="352.3" stroke="#40e8b8" stroke-width="1" opacity="0.45"/><line x1="690.0" y1="343.8" x2="690.0" y2="352.3" stroke="#e070a0" stroke-width="1" opacity="0.4"/><line x1="689" y1="343.8" x2="689" y2="352.3" stroke="#7a0a28" stroke-width="1.2"/><line x1="689" y1="344.7" x2="689" y2="351.2" stroke="#7a0a28" stroke-width="2.2"/><line x1="688.9" y1="331.7" x2="688.9" y2="356.0" stroke="#40e8b8" stroke-width="1" opacity="0.45"/><line x1="691.0" y1="331.7" x2="691.0" y2="356.0" stroke="#e070a0" stroke-width="1" opacity="0.4"/><line x1="690" y1="331.7" x2="690" y2="356.0" stroke="#181818" stroke-width="1.2"/><line x1="690" y1="334.4" x2="690" y2="351.2" stroke="#181818" stroke-width="2.2"/><line x1="689.9" y1="332.4" x2="689.9" y2="340.8" stroke="#40e8b8" stroke-width="1" opacity="0.45"/><line x1="692.0" y1="332.4" x2="692.0" y2="340.8" stroke="#e070a0" stroke-width="1" opacity="0.4"/><line x1="691" y1="332.4" x2="691" y2="340.8" stroke="#181818" stroke-width="1.2"/><line x1="691" y1="334.4" x2="691" y2="337.5" stroke="#181818" stroke-width="2.2"/><line x1="690.9" y1="328.0" x2="690.9" y2="338.7" stroke="#40e8b8" stroke-width="1" opacity="0.45"/><line x1="693.0" y1="328.0" x2="693.0" y2="338.7" stroke="#e070a0" stroke-width="1" opacity="0.4"/><line x1="692" y1="328.0" x2="692" y2="338.7" stroke="#181818" stroke-width="1.2"/><line x1="692" y1="332.4" x2="692" y2="337.5" stroke="#181818" stroke-width="2.2"/><line x1="691.9" y1="330.1" x2="691.9" y2="346.9" stroke="#40e8b8" stroke-width="1" opacity="0.45"/><line x1="694.0" y1="330.1" x2="694.0" y2="346.9" stroke="#e070a0" stroke-width="1" opacity="0.4"/><line x1="693" y1="330.1" x2="693" y2="346.9" stroke="#7a0a28" stroke-width="1.2"/><line x1="693" y1="332.4" x2="693" y2="343.2" stroke="#7a0a28" stroke-width="2.2"/><line x1="692.9" y1="337.8" x2="692.9" y2="353.7" stroke="#40e8b8" stroke-width="1" opacity="0.45"/><line x1="695.0" y1="337.8" x2="695.0" y2="353.7" stroke="#e070a0" stroke-width="1" opacity="0.4"/><line x1="694" y1="337.8" x2="694" y2="353.7" stroke="#7a0a28" stroke-width="1.2"/><line x1="694" y1="342.2" x2="694" y2="349.0" stroke="#7a0a28" stroke-width="2.2"/><line x1="693.9" y1="344.8" x2="693.9" y2="353.1" stroke="#40e8b8" stroke-width="1" opacity="0.45"/><line x1="696.0" y1="344.8" x2="696.0" y2="353.1" stroke="#e070a0" stroke-width="1" opacity="0.4"/><line x1="695" y1="344.8" x2="695" y2="353.1" stroke="#181818" stroke-width="1.2"/><line x1="695" y1="348.0" x2="695" y2="352.2" stroke="#181818" stroke-width="2.2"/><line x1="694.9" y1="350.6" x2="694.9" y2="356.8" stroke="#40e8b8" stroke-width="1" opacity="0.45"/><line x1="697.0" y1="350.6" x2="697.0" y2="356.8" stroke="#e070a0" stroke-width="1" opacity="0.4"/><line x1="696" y1="350.6" x2="696" y2="356.8" stroke="#7a0a28" stroke-width="1.2"/><line x1="696" y1="351.2" x2="696" y2="356.6" stroke="#7a0a28" stroke-width="2.2"/><line x1="695.9" y1="352.3" x2="695.9" y2="366.7" stroke="#40e8b8" stroke-width="1" opacity="0.45"/><line x1="698.0" y1="352.3" x2="698.0" y2="366.7" stroke="#e070a0" stroke-width="1" opacity="0.4"/><line x1="697" y1="352.3" x2="697" y2="366.7" stroke="#181818" stroke-width="1.2"/><line x1="697" y1="355.6" x2="697" y2="362.5" stroke="#181818" stroke-width="2.2"/><line x1="696.9" y1="359.9" x2="696.9" y2="366.8" stroke="#40e8b8" stroke-width="1" opacity="0.45"/><line x1="699.0" y1="359.9" x2="699.0" y2="366.8" stroke="#e070a0" stroke-width="1" opacity="0.4"/><line x1="698" y1="359.9" x2="698" y2="366.8" stroke="#181818" stroke-width="1.2"/><line x1="698" y1="361.5" x2="698" y2="365.0" stroke="#181818" stroke-width="2.2"/><line x1="697.9" y1="360.0" x2="697.9" y2="366.3" stroke="#40e8b8" stroke-width="1" opacity="0.45"/><line x1="700.0" y1="360.0" x2="700.0" y2="366.3" stroke="#e070a0" stroke-width="1" opacity="0.4"/><line x1="699" y1="360.0" x2="699" y2="366.3" stroke="#7a0a28" stroke-width="1.2"/><line x1="699" y1="360.6" x2="699" y2="365.0" stroke="#7a0a28" stroke-width="2.2"/><line x1="698.9" y1="353.9" x2="698.9" y2="363.4" stroke="#40e8b8" stroke-width="1" opacity="0.45"/><line x1="701.0" y1="353.9" x2="701.0" y2="363.4" stroke="#e070a0" stroke-width="1" opacity="0.4"/><line x1="700" y1="353.9" x2="700" y2="363.4" stroke="#7a0a28" stroke-width="1.2"/><line x1="700" y1="355.8" x2="700" y2="361.6" stroke="#7a0a28" stroke-width="2.2"/><line x1="699.9" y1="354.9" x2="699.9" y2="359.8" stroke="#40e8b8" stroke-width="1" opacity="0.45"/><line x1="702.0" y1="354.9" x2="702.0" y2="359.8" stroke="#e070a0" stroke-width="1" opacity="0.4"/><line x1="701" y1="354.9" x2="701" y2="359.8" stroke="#181818" stroke-width="1.2"/><line x1="701" y1="355.8" x2="701" y2="358.5" stroke="#181818" stroke-width="2.2"/><line x1="700.9" y1="354.1" x2="700.9" y2="364.1" stroke="#40e8b8" stroke-width="1" opacity="0.45"/><line x1="703.0" y1="354.1" x2="703.0" y2="364.1" stroke="#e070a0" stroke-width="1" opacity="0.4"/><line x1="702" y1="354.1" x2="702" y2="364.1" stroke="#7a0a28" stroke-width="1.2"/><line x1="702" y1="357.5" x2="702" y2="361.2" stroke="#7a0a28" stroke-width="2.2"/><line x1="701.9" y1="356.8" x2="701.9" y2="369.7" stroke="#40e8b8" stroke-width="1" opacity="0.45"/><line x1="704.0" y1="356.8" x2="704.0" y2="369.7" stroke="#e070a0" stroke-width="1" opacity="0.4"/><line x1="703" y1="356.8" x2="703" y2="369.7" stroke="#7a0a28" stroke-width="1.2"/><line x1="703" y1="360.2" x2="703" y2="367.7" stroke="#7a0a28" stroke-width="2.2"/><line x1="702.9" y1="358.7" x2="702.9" y2="370.3" stroke="#40e8b8" stroke-width="1" opacity="0.45"/><line x1="705.0" y1="358.7" x2="705.0" y2="370.3" stroke="#e070a0" stroke-width="1" opacity="0.4"/><line x1="704" y1="358.7" x2="704" y2="370.3" stroke="#7a0a28" stroke-width="1.2"/><line x1="704" y1="361.2" x2="704" y2="367.7" stroke="#7a0a28" stroke-width="2.2"/><line x1="703.9" y1="360.7" x2="703.9" y2="366.2" stroke="#40e8b8" stroke-width="1" opacity="0.45"/><line x1="706.0" y1="360.7" x2="706.0" y2="366.2" stroke="#e070a0" stroke-width="1" opacity="0.4"/><line x1="705" y1="360.7" x2="705" y2="366.2" stroke="#7a0a28" stroke-width="1.2"/><line x1="705" y1="361.2" x2="705" y2="364.2" stroke="#7a0a28" stroke-width="2.2"/><line x1="704.9" y1="359.6" x2="704.9" y2="367.2" stroke="#40e8b8" stroke-width="1" opacity="0.45"/><line x1="707.0" y1="359.6" x2="707.0" y2="367.2" stroke="#e070a0" stroke-width="1" opacity="0.4"/><line x1="706" y1="359.6" x2="706" y2="367.2" stroke="#181818" stroke-width="1.2"/><line x1="706" y1="363.2" x2="706" y2="366.6" stroke="#181818" stroke-width="2.2"/><line x1="705.9" y1="364.1" x2="705.9" y2="368.8" stroke="#40e8b8" stroke-width="1" opacity="0.45"/><line x1="708.0" y1="364.1" x2="708.0" y2="368.8" stroke="#e070a0" stroke-width="1" opacity="0.4"/><line x1="707" y1="364.1" x2="707" y2="368.8" stroke="#7a0a28" stroke-width="1.2"/><line x1="707" y1="365.6" x2="707" y2="367.2" stroke="#7a0a28" stroke-width="2.2"/><line x1="706.9" y1="364.8" x2="706.9" y2="369.2" stroke="#40e8b8" stroke-width="1" opacity="0.45"/><line x1="709.0" y1="364.8" x2="709.0" y2="369.2" stroke="#e070a0" stroke-width="1" opacity="0.4"/><line x1="708" y1="364.8" x2="708" y2="369.2" stroke="#181818" stroke-width="1.2"/><line x1="708" y1="365.1" x2="708" y2="367.2" stroke="#181818" stroke-width="2.2"/><line x1="707.9" y1="361.2" x2="707.9" y2="370.3" stroke="#40e8b8" stroke-width="1" opacity="0.45"/><line x1="710.0" y1="361.2" x2="710.0" y2="370.3" stroke="#e070a0" stroke-width="1" opacity="0.4"/><line x1="709" y1="361.2" x2="709" y2="370.3" stroke="#181818" stroke-width="1.2"/><line x1="709" y1="365.1" x2="709" y2="368.3" stroke="#181818" stroke-width="2.2"/><line x1="708.9" y1="359.9" x2="708.9" y2="369.9" stroke="#40e8b8" stroke-width="1" opacity="0.45"/><line x1="711.0" y1="359.9" x2="711.0" y2="369.9" stroke="#e070a0" stroke-width="1" opacity="0.4"/><line x1="710" y1="359.9" x2="710" y2="369.9" stroke="#181818" stroke-width="1.2"/><line x1="710" y1="361.2" x2="710" y2="368.3" stroke="#181818" stroke-width="2.2"/><line x1="709.9" y1="360.1" x2="709.9" y2="363.4" stroke="#40e8b8" stroke-width="1" opacity="0.45"/><line x1="712.0" y1="360.1" x2="712.0" y2="363.4" stroke="#e070a0" stroke-width="1" opacity="0.4"/><line x1="711" y1="360.1" x2="711" y2="363.4" stroke="#181818" stroke-width="1.2"/><line x1="711" y1="361.2" x2="711" y2="362.2" stroke="#181818" stroke-width="2.2"/><line x1="710.9" y1="360.0" x2="710.9" y2="364.5" stroke="#40e8b8" stroke-width="1" opacity="0.45"/><line x1="713.0" y1="360.0" x2="713.0" y2="364.5" stroke="#e070a0" stroke-width="1" opacity="0.4"/><line x1="712" y1="360.0" x2="712" y2="364.5" stroke="#7a0a28" stroke-width="1.2"/><line x1="712" y1="361.2" x2="712" y2="363.0" stroke="#7a0a28" stroke-width="2.2"/><line x1="711.9" y1="356.6" x2="711.9" y2="364.1" stroke="#40e8b8" stroke-width="1" opacity="0.45"/><line x1="714.0" y1="356.6" x2="714.0" y2="364.1" stroke="#e070a0" stroke-width="1" opacity="0.4"/><line x1="713" y1="356.6" x2="713" y2="364.1" stroke="#7a0a28" stroke-width="1.2"/><line x1="713" y1="357.5" x2="713" y2="363.0" stroke="#7a0a28" stroke-width="2.2"/><line x1="712.9" y1="355.3" x2="712.9" y2="360.8" stroke="#40e8b8" stroke-width="1" opacity="0.45"/><line x1="715.0" y1="355.3" x2="715.0" y2="360.8" stroke="#e070a0" stroke-width="1" opacity="0.4"/><line x1="714" y1="355.3" x2="714" y2="360.8" stroke="#181818" stroke-width="1.2"/><line x1="714" y1="357.5" x2="714" y2="359.3" stroke="#181818" stroke-width="2.2"/><line x1="713.9" y1="354.4" x2="713.9" y2="363.1" stroke="#40e8b8" stroke-width="1" opacity="0.45"/><line x1="716.0" y1="354.4" x2="716.0" y2="363.1" stroke="#e070a0" stroke-width="1" opacity="0.4"/><line x1="715" y1="354.4" x2="715" y2="363.1" stroke="#7a0a28" stroke-width="1.2"/><line x1="715" y1="358.3" x2="715" y2="361.3" stroke="#7a0a28" stroke-width="2.2"/><line x1="714.9" y1="357.2" x2="714.9" y2="363.4" stroke="#40e8b8" stroke-width="1" opacity="0.45"/><line x1="717.0" y1="357.2" x2="717.0" y2="363.4" stroke="#e070a0" stroke-width="1" opacity="0.4"/><line x1="716" y1="357.2" x2="716" y2="363.4" stroke="#7a0a28" stroke-width="1.2"/><line x1="716" y1="358.1" x2="716" y2="361.3" stroke="#7a0a28" stroke-width="2.2"/><line x1="715.9" y1="356.1" x2="715.9" y2="359.8" stroke="#40e8b8" stroke-width="1" opacity="0.45"/><line x1="718.0" y1="356.1" x2="718.0" y2="359.8" stroke="#e070a0" stroke-width="1" opacity="0.4"/><line x1="717" y1="356.1" x2="717" y2="359.8" stroke="#7a0a28" stroke-width="1.2"/><line x1="717" y1="357.8" x2="717" y2="359.1" stroke="#7a0a28" stroke-width="2.2"/><line x1="716.9" y1="356.8" x2="716.9" y2="364.0" stroke="#40e8b8" stroke-width="1" opacity="0.45"/><line x1="719.0" y1="356.8" x2="719.0" y2="364.0" stroke="#e070a0" stroke-width="1" opacity="0.4"/><line x1="718" y1="356.8" x2="718" y2="364.0" stroke="#181818" stroke-width="1.2"/><line x1="718" y1="357.8" x2="718" y2="360.5" stroke="#181818" stroke-width="2.2"/><line x1="717.9" y1="356.7" x2="717.9" y2="366.2" stroke="#40e8b8" stroke-width="1" opacity="0.45"/><line x1="720.0" y1="356.7" x2="720.0" y2="366.2" stroke="#e070a0" stroke-width="1" opacity="0.4"/><line x1="719" y1="356.7" x2="719" y2="366.2" stroke="#7a0a28" stroke-width="1.2"/><line x1="719" y1="359.5" x2="719" y2="363.6" stroke="#7a0a28" stroke-width="2.2"/><line x1="718.9" y1="358.3" x2="718.9" y2="363.9" stroke="#40e8b8" stroke-width="1" opacity="0.45"/><line x1="721.0" y1="358.3" x2="721.0" y2="363.9" stroke="#e070a0" stroke-width="1" opacity="0.4"/><line x1="720" y1="358.3" x2="720" y2="363.9" stroke="#7a0a28" stroke-width="1.2"/><line x1="720" y1="359.9" x2="720" y2="363.6" stroke="#7a0a28" stroke-width="2.2"/><line x1="719.9" y1="357.1" x2="719.9" y2="366.3" stroke="#40e8b8" stroke-width="1" opacity="0.45"/><line x1="722.0" y1="357.1" x2="722.0" y2="366.3" stroke="#e070a0" stroke-width="1" opacity="0.4"/><line x1="721" y1="357.1" x2="721" y2="366.3" stroke="#181818" stroke-width="1.2"/><line x1="721" y1="359.9" x2="721" y2="363.4" stroke="#181818" stroke-width="2.2"/><line x1="720.9" y1="361.1" x2="720.9" y2="364.6" stroke="#40e8b8" stroke-width="1" opacity="0.45"/><line x1="723.0" y1="361.1" x2="723.0" y2="364.6" stroke="#e070a0" stroke-width="1" opacity="0.4"/><line x1="722" y1="361.1" x2="722" y2="364.6" stroke="#181818" stroke-width="1.2"/><line x1="722" y1="362.3" x2="722" y2="363.4" stroke="#181818" stroke-width="2.2"/><line x1="721.9" y1="361.3" x2="721.9" y2="365.2" stroke="#40e8b8" stroke-width="1" opacity="0.45"/><line x1="724.0" y1="361.3" x2="724.0" y2="365.2" stroke="#e070a0" stroke-width="1" opacity="0.4"/><line x1="723" y1="361.3" x2="723" y2="365.2" stroke="#181818" stroke-width="1.2"/><line x1="723" y1="362.3" x2="723" y2="364.1" stroke="#181818" stroke-width="2.2"/><line x1="722.9" y1="361.9" x2="722.9" y2="367.2" stroke="#40e8b8" stroke-width="1" opacity="0.45"/><line x1="725.0" y1="361.9" x2="725.0" y2="367.2" stroke="#e070a0" stroke-width="1" opacity="0.4"/><line x1="724" y1="361.9" x2="724" y2="367.2" stroke="#7a0a28" stroke-width="1.2"/><line x1="724" y1="363.1" x2="724" y2="366.2" stroke="#7a0a28" stroke-width="2.2"/><line x1="723.9" y1="358.2" x2="723.9" y2="366.9" stroke="#40e8b8" stroke-width="1" opacity="0.45"/><line x1="726.0" y1="358.2" x2="726.0" y2="366.9" stroke="#e070a0" stroke-width="1" opacity="0.4"/><line x1="725" y1="358.2" x2="725" y2="366.9" stroke="#7a0a28" stroke-width="1.2"/><line x1="725" y1="360.6" x2="725" y2="366.2" stroke="#7a0a28" stroke-width="2.2"/><line x1="724.9" y1="355.7" x2="724.9" y2="364.9" stroke="#40e8b8" stroke-width="1" opacity="0.45"/><line x1="727.0" y1="355.7" x2="727.0" y2="364.9" stroke="#e070a0" stroke-width="1" opacity="0.4"/><line x1="726" y1="355.7" x2="726" y2="364.9" stroke="#7a0a28" stroke-width="1.2"/><line x1="726" y1="357.9" x2="726" y2="361.6" stroke="#7a0a28" stroke-width="2.2"/><line x1="725.9" y1="353.7" x2="725.9" y2="361.7" stroke="#40e8b8" stroke-width="1" opacity="0.45"/><line x1="728.0" y1="353.7" x2="728.0" y2="361.7" stroke="#e070a0" stroke-width="1" opacity="0.4"/><line x1="727" y1="353.7" x2="727" y2="361.7" stroke="#7a0a28" stroke-width="1.2"/><line x1="727" y1="356.9" x2="727" y2="358.9" stroke="#7a0a28" stroke-width="2.2"/><line x1="726.9" y1="350.4" x2="726.9" y2="359.6" stroke="#40e8b8" stroke-width="1" opacity="0.45"/><line x1="729.0" y1="350.4" x2="729.0" y2="359.6" stroke="#e070a0" stroke-width="1" opacity="0.4"/><line x1="728" y1="350.4" x2="728" y2="359.6" stroke="#7a0a28" stroke-width="1.2"/><line x1="728" y1="350.7" x2="728" y2="357.9" stroke="#7a0a28" stroke-width="2.2"/><line x1="727.9" y1="346.5" x2="727.9" y2="352.2" stroke="#40e8b8" stroke-width="1" opacity="0.45"/><line x1="730.0" y1="346.5" x2="730.0" y2="352.2" stroke="#e070a0" stroke-width="1" opacity="0.4"/><line x1="729" y1="346.5" x2="729" y2="352.2" stroke="#7a0a28" stroke-width="1.2"/><line x1="729" y1="347.4" x2="729" y2="351.7" stroke="#7a0a28" stroke-width="2.2"/><line x1="728.9" y1="346.5" x2="728.9" y2="357.4" stroke="#40e8b8" stroke-width="1" opacity="0.45"/><line x1="731.0" y1="346.5" x2="731.0" y2="357.4" stroke="#e070a0" stroke-width="1" opacity="0.4"/><line x1="730" y1="346.5" x2="730" y2="357.4" stroke="#181818" stroke-width="1.2"/><line x1="730" y1="347.4" x2="730" y2="355.0" stroke="#181818" stroke-width="2.2"/><line x1="729.9" y1="350.3" x2="729.9" y2="357.8" stroke="#40e8b8" stroke-width="1" opacity="0.45"/><line x1="732.0" y1="350.3" x2="732.0" y2="357.8" stroke="#e070a0" stroke-width="1" opacity="0.4"/><line x1="731" y1="350.3" x2="731" y2="357.8" stroke="#181818" stroke-width="1.2"/><line x1="731" y1="354.0" x2="731" y2="357.0" stroke="#181818" stroke-width="2.2"/><line x1="730.9" y1="353.1" x2="730.9" y2="358.0" stroke="#40e8b8" stroke-width="1" opacity="0.45"/><line x1="733.0" y1="353.1" x2="733.0" y2="358.0" stroke="#e070a0" stroke-width="1" opacity="0.4"/><line x1="732" y1="353.1" x2="732" y2="358.0" stroke="#181818" stroke-width="1.2"/><line x1="732" y1="355.0" x2="732" y2="357.0" stroke="#181818" stroke-width="2.2"/><line x1="731.9" y1="353.7" x2="731.9" y2="364.2" stroke="#40e8b8" stroke-width="1" opacity="0.45"/><line x1="734.0" y1="353.7" x2="734.0" y2="364.2" stroke="#e070a0" stroke-width="1" opacity="0.4"/><line x1="733" y1="353.7" x2="733" y2="364.2" stroke="#181818" stroke-width="1.2"/><line x1="733" y1="355.0" x2="733" y2="363.1" stroke="#181818" stroke-width="2.2"/><line x1="732.9" y1="359.7" x2="732.9" y2="369.1" stroke="#40e8b8" stroke-width="1" opacity="0.45"/><line x1="735.0" y1="359.7" x2="735.0" y2="369.1" stroke="#e070a0" stroke-width="1" opacity="0.4"/><line x1="734" y1="359.7" x2="734" y2="369.1" stroke="#7a0a28" stroke-width="1.2"/><line x1="734" y1="362.1" x2="734" y2="368.4" stroke="#7a0a28" stroke-width="2.2"/><line x1="733.9" y1="364.6" x2="733.9" y2="371.3" stroke="#40e8b8" stroke-width="1" opacity="0.45"/><line x1="736.0" y1="364.6" x2="736.0" y2="371.3" stroke="#e070a0" stroke-width="1" opacity="0.4"/><line x1="735" y1="364.6" x2="735" y2="371.3" stroke="#181818" stroke-width="1.2"/><line x1="735" y1="367.4" x2="735" y2="369.6" stroke="#181818" stroke-width="2.2"/><line x1="734.9" y1="368.1" x2="734.9" y2="377.0" stroke="#40e8b8" stroke-width="1" opacity="0.45"/><line x1="737.0" y1="368.1" x2="737.0" y2="377.0" stroke="#e070a0" stroke-width="1" opacity="0.4"/><line x1="736" y1="368.1" x2="736" y2="377.0" stroke="#181818" stroke-width="1.2"/><line x1="736" y1="368.6" x2="736" y2="373.5" stroke="#181818" stroke-width="2.2"/><line x1="735.9" y1="368.9" x2="735.9" y2="375.9" stroke="#40e8b8" stroke-width="1" opacity="0.45"/><line x1="738.0" y1="368.9" x2="738.0" y2="375.9" stroke="#e070a0" stroke-width="1" opacity="0.4"/><line x1="737" y1="368.9" x2="737" y2="375.9" stroke="#181818" stroke-width="1.2"/><line x1="737" y1="372.5" x2="737" y2="373.9" stroke="#181818" stroke-width="2.2"/><line x1="736.9" y1="371.6" x2="736.9" y2="387.0" stroke="#40e8b8" stroke-width="1" opacity="0.45"/><line x1="739.0" y1="371.6" x2="739.0" y2="387.0" stroke="#e070a0" stroke-width="1" opacity="0.4"/><line x1="738" y1="371.6" x2="738" y2="387.0" stroke="#7a0a28" stroke-width="1.2"/><line x1="738" y1="372.9" x2="738" y2="375.6" stroke="#7a0a28" stroke-width="2.2"/><line x1="737.9" y1="369.6" x2="737.9" y2="376.4" stroke="#40e8b8" stroke-width="1" opacity="0.45"/><line x1="740.0" y1="369.6" x2="740.0" y2="376.4" stroke="#e070a0" stroke-width="1" opacity="0.4"/><line x1="739" y1="369.6" x2="739" y2="376.4" stroke="#181818" stroke-width="1.2"/><line x1="739" y1="370.0" x2="739" y2="375.6" stroke="#181818" stroke-width="2.2"/><line x1="738.9" y1="367.1" x2="738.9" y2="375.5" stroke="#40e8b8" stroke-width="1" opacity="0.45"/><line x1="741.0" y1="367.1" x2="741.0" y2="375.5" stroke="#e070a0" stroke-width="1" opacity="0.4"/><line x1="740" y1="367.1" x2="740" y2="375.5" stroke="#7a0a28" stroke-width="1.2"/><line x1="740" y1="370.0" x2="740" y2="374.6" stroke="#7a0a28" stroke-width="2.2"/><line x1="739.9" y1="369.2" x2="739.9" y2="376.6" stroke="#40e8b8" stroke-width="1" opacity="0.45"/><line x1="742.0" y1="369.2" x2="742.0" y2="376.6" stroke="#e070a0" stroke-width="1" opacity="0.4"/><line x1="741" y1="369.2" x2="741" y2="376.6" stroke="#7a0a28" stroke-width="1.2"/><line x1="741" y1="370.0" x2="741" y2="374.6" stroke="#7a0a28" stroke-width="2.2"/><line x1="740.9" y1="368.4" x2="740.9" y2="373.4" stroke="#40e8b8" stroke-width="1" opacity="0.45"/><line x1="743.0" y1="368.4" x2="743.0" y2="373.4" stroke="#e070a0" stroke-width="1" opacity="0.4"/><line x1="742" y1="368.4" x2="742" y2="373.4" stroke="#181818" stroke-width="1.2"/><line x1="742" y1="370.0" x2="742" y2="372.4" stroke="#181818" stroke-width="2.2"/><line x1="741.9" y1="363.6" x2="741.9" y2="374.4" stroke="#40e8b8" stroke-width="1" opacity="0.45"/><line x1="744.0" y1="363.6" x2="744.0" y2="374.4" stroke="#e070a0" stroke-width="1" opacity="0.4"/><line x1="743" y1="363.6" x2="743" y2="374.4" stroke="#7a0a28" stroke-width="1.2"/><line x1="743" y1="367.2" x2="743" y2="372.4" stroke="#7a0a28" stroke-width="2.2"/><line x1="742.9" y1="364.4" x2="742.9" y2="372.4" stroke="#40e8b8" stroke-width="1" opacity="0.45"/><line x1="745.0" y1="364.4" x2="745.0" y2="372.4" stroke="#e070a0" stroke-width="1" opacity="0.4"/><line x1="744" y1="364.4" x2="744" y2="372.4" stroke="#181818" stroke-width="1.2"/><line x1="744" y1="367.2" x2="744" y2="369.7" stroke="#181818" stroke-width="2.2"/><line x1="743.9" y1="363.4" x2="743.9" y2="372.9" stroke="#40e8b8" stroke-width="1" opacity="0.45"/><line x1="746.0" y1="363.4" x2="746.0" y2="372.9" stroke="#e070a0" stroke-width="1" opacity="0.4"/><line x1="745" y1="363.4" x2="745" y2="372.9" stroke="#181818" stroke-width="1.2"/><line x1="745" y1="364.0" x2="745" y2="369.7" stroke="#181818" stroke-width="2.2"/><line x1="744.9" y1="363.5" x2="744.9" y2="367.1" stroke="#40e8b8" stroke-width="1" opacity="0.45"/><line x1="747.0" y1="363.5" x2="747.0" y2="367.1" stroke="#e070a0" stroke-width="1" opacity="0.4"/><line x1="746" y1="363.5" x2="746" y2="367.1" stroke="#181818" stroke-width="1.2"/><line x1="746" y1="364.0" x2="746" y2="365.8" stroke="#181818" stroke-width="2.2"/><line x1="745.9" y1="364.3" x2="745.9" y2="367.3" stroke="#40e8b8" stroke-width="1" opacity="0.45"/><line x1="748.0" y1="364.3" x2="748.0" y2="367.3" stroke="#e070a0" stroke-width="1" opacity="0.4"/><line x1="747" y1="364.3" x2="747" y2="367.3" stroke="#7a0a28" stroke-width="1.2"/><line x1="747" y1="364.8" x2="747" y2="366.3" stroke="#7a0a28" stroke-width="2.2"/><line x1="746.9" y1="364.2" x2="746.9" y2="366.6" stroke="#40e8b8" stroke-width="1" opacity="0.45"/><line x1="749.0" y1="364.2" x2="749.0" y2="366.6" stroke="#e070a0" stroke-width="1" opacity="0.4"/><line x1="748" y1="364.2" x2="748" y2="366.6" stroke="#181818" stroke-width="1.2"/><line x1="748" y1="364.2" x2="748" y2="366.3" stroke="#181818" stroke-width="2.2"/><line x1="747.9" y1="360.4" x2="747.9" y2="366.0" stroke="#40e8b8" stroke-width="1" opacity="0.45"/><line x1="750.0" y1="360.4" x2="750.0" y2="366.0" stroke="#e070a0" stroke-width="1" opacity="0.4"/><line x1="749" y1="360.4" x2="749" y2="366.0" stroke="#7a0a28" stroke-width="1.2"/><line x1="749" y1="360.7" x2="749" y2="365.2" stroke="#7a0a28" stroke-width="2.2"/><line x1="748.9" y1="352.5" x2="748.9" y2="366.5" stroke="#40e8b8" stroke-width="1" opacity="0.45"/><line x1="751.0" y1="352.5" x2="751.0" y2="366.5" stroke="#e070a0" stroke-width="1" opacity="0.4"/><line x1="750" y1="352.5" x2="750" y2="366.5" stroke="#7a0a28" stroke-width="1.2"/><line x1="750" y1="354.1" x2="750" y2="361.7" stroke="#7a0a28" stroke-width="2.2"/><line x1="749.9" y1="353.9" x2="749.9" y2="360.5" stroke="#40e8b8" stroke-width="1" opacity="0.45"/><line x1="752.0" y1="353.9" x2="752.0" y2="360.5" stroke="#e070a0" stroke-width="1" opacity="0.4"/><line x1="751" y1="353.9" x2="751" y2="360.5" stroke="#181818" stroke-width="1.2"/><line x1="751" y1="354.1" x2="751" y2="359.3" stroke="#181818" stroke-width="2.2"/><line x1="750.9" y1="344.4" x2="750.9" y2="362.7" stroke="#40e8b8" stroke-width="1" opacity="0.45"/><line x1="753.0" y1="344.4" x2="753.0" y2="362.7" stroke="#e070a0" stroke-width="1" opacity="0.4"/><line x1="752" y1="344.4" x2="752" y2="362.7" stroke="#7a0a28" stroke-width="1.2"/><line x1="752" y1="348.4" x2="752" y2="359.3" stroke="#7a0a28" stroke-width="2.2"/><line x1="751.9" y1="340.5" x2="751.9" y2="351.2" stroke="#40e8b8" stroke-width="1" opacity="0.45"/><line x1="754.0" y1="340.5" x2="754.0" y2="351.2" stroke="#e070a0" stroke-width="1" opacity="0.4"/><line x1="753" y1="340.5" x2="753" y2="351.2" stroke="#7a0a28" stroke-width="1.2"/><line x1="753" y1="342.3" x2="753" y2="349.4" stroke="#7a0a28" stroke-width="2.2"/><line x1="752.9" y1="314.0" x2="752.9" y2="345.2" stroke="#40e8b8" stroke-width="1" opacity="0.45"/><line x1="755.0" y1="314.0" x2="755.0" y2="345.2" stroke="#e070a0" stroke-width="1" opacity="0.4"/><line x1="754" y1="314.0" x2="754" y2="345.2" stroke="#7a0a28" stroke-width="1.2"/><line x1="754" y1="334.1" x2="754" y2="343.3" stroke="#7a0a28" stroke-width="2.2"/><line x1="753.9" y1="317.6" x2="753.9" y2="338.0" stroke="#40e8b8" stroke-width="1" opacity="0.45"/><line x1="756.0" y1="317.6" x2="756.0" y2="338.0" stroke="#e070a0" stroke-width="1" opacity="0.4"/><line x1="755" y1="317.6" x2="755" y2="338.0" stroke="#7a0a28" stroke-width="1.2"/><line x1="755" y1="320.1" x2="755" y2="335.1" stroke="#7a0a28" stroke-width="2.2"/><line x1="754.9" y1="318.7" x2="754.9" y2="323.3" stroke="#40e8b8" stroke-width="1" opacity="0.45"/><line x1="757.0" y1="318.7" x2="757.0" y2="323.3" stroke="#e070a0" stroke-width="1" opacity="0.4"/><line x1="756" y1="318.7" x2="756" y2="323.3" stroke="#7a0a28" stroke-width="1.2"/><line x1="756" y1="320.1" x2="756" y2="322.0" stroke="#7a0a28" stroke-width="2.2"/><line x1="755.9" y1="316.9" x2="755.9" y2="331.0" stroke="#40e8b8" stroke-width="1" opacity="0.45"/><line x1="758.0" y1="316.9" x2="758.0" y2="331.0" stroke="#e070a0" stroke-width="1" opacity="0.4"/><line x1="757" y1="316.9" x2="757" y2="331.0" stroke="#7a0a28" stroke-width="1.2"/><line x1="757" y1="321.0" x2="757" y2="327.0" stroke="#7a0a28" stroke-width="2.2"/><line x1="756.9" y1="318.8" x2="756.9" y2="330.5" stroke="#40e8b8" stroke-width="1" opacity="0.45"/><line x1="759.0" y1="318.8" x2="759.0" y2="330.5" stroke="#e070a0" stroke-width="1" opacity="0.4"/><line x1="758" y1="318.8" x2="758" y2="330.5" stroke="#181818" stroke-width="1.2"/><line x1="758" y1="321.5" x2="758" y2="327.0" stroke="#181818" stroke-width="2.2"/><line x1="757.9" y1="320.3" x2="757.9" y2="326.7" stroke="#40e8b8" stroke-width="1" opacity="0.45"/><line x1="760.0" y1="320.3" x2="760.0" y2="326.7" stroke="#e070a0" stroke-width="1" opacity="0.4"/><line x1="759" y1="320.3" x2="759" y2="326.7" stroke="#7a0a28" stroke-width="1.2"/><line x1="759" y1="321.5" x2="759" y2="325.6" stroke="#7a0a28" stroke-width="2.2"/><line x1="758.9" y1="322.9" x2="758.9" y2="326.4" stroke="#40e8b8" stroke-width="1" opacity="0.45"/><line x1="761.0" y1="322.9" x2="761.0" y2="326.4" stroke="#e070a0" stroke-width="1" opacity="0.4"/><line x1="760" y1="322.9" x2="760" y2="326.4" stroke="#7a0a28" stroke-width="1.2"/><line x1="760" y1="324.1" x2="760" y2="325.6" stroke="#7a0a28" stroke-width="2.2"/><line x1="759.9" y1="322.4" x2="759.9" y2="331.2" stroke="#40e8b8" stroke-width="1" opacity="0.45"/><line x1="762.0" y1="322.4" x2="762.0" y2="331.2" stroke="#e070a0" stroke-width="1" opacity="0.4"/><line x1="761" y1="322.4" x2="761" y2="331.2" stroke="#181818" stroke-width="1.2"/><line x1="761" y1="324.1" x2="761" y2="329.7" stroke="#181818" stroke-width="2.2"/><line x1="760.9" y1="324.9" x2="760.9" y2="332.0" stroke="#40e8b8" stroke-width="1" opacity="0.45"/><line x1="763.0" y1="324.9" x2="763.0" y2="332.0" stroke="#e070a0" stroke-width="1" opacity="0.4"/><line x1="762" y1="324.9" x2="762" y2="332.0" stroke="#181818" stroke-width="1.2"/><line x1="762" y1="327.2" x2="762" y2="329.7" stroke="#181818" stroke-width="2.2"/><line x1="761.9" y1="324.8" x2="761.9" y2="330.1" stroke="#40e8b8" stroke-width="1" opacity="0.45"/><line x1="764.0" y1="324.8" x2="764.0" y2="330.1" stroke="#e070a0" stroke-width="1" opacity="0.4"/><line x1="763" y1="324.8" x2="763" y2="330.1" stroke="#181818" stroke-width="1.2"/><line x1="763" y1="325.7" x2="763" y2="328.2" stroke="#181818" stroke-width="2.2"/><line x1="762.9" y1="324.5" x2="762.9" y2="327.2" stroke="#40e8b8" stroke-width="1" opacity="0.45"/><line x1="765.0" y1="324.5" x2="765.0" y2="327.2" stroke="#e070a0" stroke-width="1" opacity="0.4"/><line x1="764" y1="324.5" x2="764" y2="327.2" stroke="#181818" stroke-width="1.2"/><line x1="764" y1="325.7" x2="764" y2="326.7" stroke="#181818" stroke-width="2.2"/><line x1="763.9" y1="323.1" x2="763.9" y2="328.7" stroke="#40e8b8" stroke-width="1" opacity="0.45"/><line x1="766.0" y1="323.1" x2="766.0" y2="328.7" stroke="#e070a0" stroke-width="1" opacity="0.4"/><line x1="765" y1="323.1" x2="765" y2="328.7" stroke="#7a0a28" stroke-width="1.2"/><line x1="765" y1="324.1" x2="765" y2="326.7" stroke="#7a0a28" stroke-width="2.2"/><line x1="764.9" y1="321.6" x2="764.9" y2="325.6" stroke="#40e8b8" stroke-width="1" opacity="0.45"/><line x1="767.0" y1="321.6" x2="767.0" y2="325.6" stroke="#e070a0" stroke-width="1" opacity="0.4"/><line x1="766" y1="321.6" x2="766" y2="325.6" stroke="#7a0a28" stroke-width="1.2"/><line x1="766" y1="322.1" x2="766" y2="325.1" stroke="#7a0a28" stroke-width="2.2"/><line x1="765.9" y1="318.2" x2="765.9" y2="325.5" stroke="#40e8b8" stroke-width="1" opacity="0.45"/><line x1="768.0" y1="318.2" x2="768.0" y2="325.5" stroke="#e070a0" stroke-width="1" opacity="0.4"/><line x1="767" y1="318.2" x2="767" y2="325.5" stroke="#181818" stroke-width="1.2"/><line x1="767" y1="320.3" x2="767" y2="323.1" stroke="#181818" stroke-width="2.2"/><line x1="766.9" y1="319.6" x2="766.9" y2="325.2" stroke="#40e8b8" stroke-width="1" opacity="0.45"/><line x1="769.0" y1="319.6" x2="769.0" y2="325.2" stroke="#e070a0" stroke-width="1" opacity="0.4"/><line x1="768" y1="319.6" x2="768" y2="325.2" stroke="#7a0a28" stroke-width="1.2"/><line x1="768" y1="320.3" x2="768" y2="323.4" stroke="#7a0a28" stroke-width="2.2"/><line x1="767.9" y1="319.8" x2="767.9" y2="323.7" stroke="#40e8b8" stroke-width="1" opacity="0.45"/><line x1="770.0" y1="319.8" x2="770.0" y2="323.7" stroke="#e070a0" stroke-width="1" opacity="0.4"/><line x1="769" y1="319.8" x2="769" y2="323.7" stroke="#181818" stroke-width="1.2"/><line x1="769" y1="320.8" x2="769" y2="323.4" stroke="#181818" stroke-width="2.2"/><line x1="768.9" y1="319.6" x2="768.9" y2="324.0" stroke="#40e8b8" stroke-width="1" opacity="0.45"/><line x1="771.0" y1="319.6" x2="771.0" y2="324.0" stroke="#e070a0" stroke-width="1" opacity="0.4"/><line x1="770" y1="319.6" x2="770" y2="324.0" stroke="#7a0a28" stroke-width="1.2"/><line x1="770" y1="320.8" x2="770" y2="322.6" stroke="#7a0a28" stroke-width="2.2"/><line x1="769.9" y1="318.3" x2="769.9" y2="323.6" stroke="#40e8b8" stroke-width="1" opacity="0.45"/><line x1="772.0" y1="318.3" x2="772.0" y2="323.6" stroke="#e070a0" stroke-width="1" opacity="0.4"/><line x1="771" y1="318.3" x2="771" y2="323.6" stroke="#7a0a28" stroke-width="1.2"/><line x1="771" y1="318.4" x2="771" y2="322.6" stroke="#7a0a28" stroke-width="2.2"/><line x1="770.9" y1="316.9" x2="770.9" y2="321.1" stroke="#40e8b8" stroke-width="1" opacity="0.45"/><line x1="773.0" y1="316.9" x2="773.0" y2="321.1" stroke="#e070a0" stroke-width="1" opacity="0.4"/><line x1="772" y1="316.9" x2="772" y2="321.1" stroke="#7a0a28" stroke-width="1.2"/><line x1="772" y1="318.4" x2="772" y2="319.7" stroke="#7a0a28" stroke-width="2.2"/><line x1="771.9" y1="317.8" x2="771.9" y2="321.2" stroke="#40e8b8" stroke-width="1" opacity="0.45"/><line x1="774.0" y1="317.8" x2="774.0" y2="321.2" stroke="#e070a0" stroke-width="1" opacity="0.4"/><line x1="773" y1="317.8" x2="773" y2="321.2" stroke="#7a0a28" stroke-width="1.2"/><line x1="773" y1="318.7" x2="773" y2="321.0" stroke="#7a0a28" stroke-width="2.2"/><line x1="772.9" y1="308.0" x2="772.9" y2="322.8" stroke="#40e8b8" stroke-width="1" opacity="0.45"/><line x1="775.0" y1="308.0" x2="775.0" y2="322.8" stroke="#e070a0" stroke-width="1" opacity="0.4"/><line x1="774" y1="308.0" x2="774" y2="322.8" stroke="#181818" stroke-width="1.2"/><line x1="774" y1="312.7" x2="774" y2="321.0" stroke="#181818" stroke-width="2.2"/><line x1="773.9" y1="308.0" x2="773.9" y2="315.5" stroke="#40e8b8" stroke-width="1" opacity="0.45"/><line x1="776.0" y1="308.0" x2="776.0" y2="315.5" stroke="#e070a0" stroke-width="1" opacity="0.4"/><line x1="775" y1="308.0" x2="775" y2="315.5" stroke="#7a0a28" stroke-width="1.2"/><line x1="775" y1="310.6" x2="775" y2="313.7" stroke="#7a0a28" stroke-width="2.2"/><line x1="774.9" y1="309.3" x2="774.9" y2="315.0" stroke="#40e8b8" stroke-width="1" opacity="0.45"/><line x1="777.0" y1="309.3" x2="777.0" y2="315.0" stroke="#e070a0" stroke-width="1" opacity="0.4"/><line x1="776" y1="309.3" x2="776" y2="315.0" stroke="#7a0a28" stroke-width="1.2"/><line x1="776" y1="310.6" x2="776" y2="313.8" stroke="#7a0a28" stroke-width="2.2"/><line x1="775.9" y1="312.0" x2="775.9" y2="317.1" stroke="#40e8b8" stroke-width="1" opacity="0.45"/><line x1="778.0" y1="312.0" x2="778.0" y2="317.1" stroke="#e070a0" stroke-width="1" opacity="0.4"/><line x1="777" y1="312.0" x2="777" y2="317.1" stroke="#7a0a28" stroke-width="1.2"/><line x1="777" y1="312.8" x2="777" y2="314.6" stroke="#7a0a28" stroke-width="2.2"/><line x1="776.9" y1="301.4" x2="776.9" y2="315.6" stroke="#40e8b8" stroke-width="1" opacity="0.45"/><line x1="779.0" y1="301.4" x2="779.0" y2="315.6" stroke="#e070a0" stroke-width="1" opacity="0.4"/><line x1="778" y1="301.4" x2="778" y2="315.6" stroke="#181818" stroke-width="1.2"/><line x1="778" y1="304.5" x2="778" y2="314.6" stroke="#181818" stroke-width="2.2"/><line x1="777.9" y1="299.7" x2="777.9" y2="306.0" stroke="#40e8b8" stroke-width="1" opacity="0.45"/><line x1="780.0" y1="299.7" x2="780.0" y2="306.0" stroke="#e070a0" stroke-width="1" opacity="0.4"/><line x1="779" y1="299.7" x2="779" y2="306.0" stroke="#7a0a28" stroke-width="1.2"/><line x1="779" y1="300.2" x2="779" y2="305.5" stroke="#7a0a28" stroke-width="2.2"/><line x1="778.9" y1="296.8" x2="778.9" y2="303.4" stroke="#40e8b8" stroke-width="1" opacity="0.45"/><line x1="781.0" y1="296.8" x2="781.0" y2="303.4" stroke="#e070a0" stroke-width="1" opacity="0.4"/><line x1="780" y1="296.8" x2="780" y2="303.4" stroke="#181818" stroke-width="1.2"/><line x1="780" y1="300.2" x2="780" y2="301.7" stroke="#181818" stroke-width="2.2"/><line x1="779.9" y1="297.0" x2="779.9" y2="303.6" stroke="#40e8b8" stroke-width="1" opacity="0.45"/><line x1="782.0" y1="297.0" x2="782.0" y2="303.6" stroke="#e070a0" stroke-width="1" opacity="0.4"/><line x1="781" y1="297.0" x2="781" y2="303.6" stroke="#181818" stroke-width="1.2"/><line x1="781" y1="298.3" x2="781" y2="301.7" stroke="#181818" stroke-width="2.2"/><line x1="780.9" y1="296.9" x2="780.9" y2="301.4" stroke="#40e8b8" stroke-width="1" opacity="0.45"/><line x1="783.0" y1="296.9" x2="783.0" y2="301.4" stroke="#e070a0" stroke-width="1" opacity="0.4"/><line x1="782" y1="296.9" x2="782" y2="301.4" stroke="#7a0a28" stroke-width="1.2"/><line x1="782" y1="298.3" x2="782" y2="299.5" stroke="#7a0a28" stroke-width="2.2"/><line x1="781.9" y1="291.0" x2="781.9" y2="301.7" stroke="#40e8b8" stroke-width="1" opacity="0.45"/><line x1="784.0" y1="291.0" x2="784.0" y2="301.7" stroke="#e070a0" stroke-width="1" opacity="0.4"/><line x1="783" y1="291.0" x2="783" y2="301.7" stroke="#181818" stroke-width="1.2"/><line x1="783" y1="293.0" x2="783" y2="299.5" stroke="#181818" stroke-width="2.2"/><line x1="782.9" y1="286.0" x2="782.9" y2="294.9" stroke="#40e8b8" stroke-width="1" opacity="0.45"/><line x1="785.0" y1="286.0" x2="785.0" y2="294.9" stroke="#e070a0" stroke-width="1" opacity="0.4"/><line x1="784" y1="286.0" x2="784" y2="294.9" stroke="#7a0a28" stroke-width="1.2"/><line x1="784" y1="292.5" x2="784" y2="294.0" stroke="#7a0a28" stroke-width="2.2"/><line x1="783.9" y1="287.6" x2="783.9" y2="303.7" stroke="#40e8b8" stroke-width="1" opacity="0.45"/><line x1="786.0" y1="287.6" x2="786.0" y2="303.7" stroke="#e070a0" stroke-width="1" opacity="0.4"/><line x1="785" y1="287.6" x2="785" y2="303.7" stroke="#7a0a28" stroke-width="1.2"/><line x1="785" y1="292.5" x2="785" y2="300.6" stroke="#7a0a28" stroke-width="2.2"/><line x1="784.9" y1="298.0" x2="784.9" y2="306.4" stroke="#40e8b8" stroke-width="1" opacity="0.45"/><line x1="787.0" y1="298.0" x2="787.0" y2="306.4" stroke="#e070a0" stroke-width="1" opacity="0.4"/><line x1="786" y1="298.0" x2="786" y2="306.4" stroke="#7a0a28" stroke-width="1.2"/><line x1="786" y1="299.6" x2="786" y2="305.1" stroke="#7a0a28" stroke-width="2.2"/><line x1="785.9" y1="302.0" x2="785.9" y2="309.5" stroke="#40e8b8" stroke-width="1" opacity="0.45"/><line x1="788.0" y1="302.0" x2="788.0" y2="309.5" stroke="#e070a0" stroke-width="1" opacity="0.4"/><line x1="787" y1="302.0" x2="787" y2="309.5" stroke="#181818" stroke-width="1.2"/><line x1="787" y1="304.1" x2="787" y2="308.0" stroke="#181818" stroke-width="2.2"/><line x1="786.9" y1="306.4" x2="786.9" y2="313.3" stroke="#40e8b8" stroke-width="1" opacity="0.45"/><line x1="789.0" y1="306.4" x2="789.0" y2="313.3" stroke="#e070a0" stroke-width="1" opacity="0.4"/><line x1="788" y1="306.4" x2="788" y2="313.3" stroke="#181818" stroke-width="1.2"/><line x1="788" y1="307.0" x2="788" y2="312.3" stroke="#181818" stroke-width="2.2"/><line x1="787.9" y1="311.1" x2="787.9" y2="315.5" stroke="#40e8b8" stroke-width="1" opacity="0.45"/><line x1="790.0" y1="311.1" x2="790.0" y2="315.5" stroke="#e070a0" stroke-width="1" opacity="0.4"/><line x1="789" y1="311.1" x2="789" y2="315.5" stroke="#7a0a28" stroke-width="1.2"/><line x1="789" y1="311.3" x2="789" y2="313.4" stroke="#7a0a28" stroke-width="2.2"/><line x1="788.9" y1="309.7" x2="788.9" y2="316.0" stroke="#40e8b8" stroke-width="1" opacity="0.45"/><line x1="791.0" y1="309.7" x2="791.0" y2="316.0" stroke="#e070a0" stroke-width="1" opacity="0.4"/><line x1="790" y1="309.7" x2="790" y2="316.0" stroke="#7a0a28" stroke-width="1.2"/><line x1="790" y1="311.2" x2="790" y2="313.4" stroke="#7a0a28" stroke-width="2.2"/><line x1="789.9" y1="310.3" x2="789.9" y2="317.0" stroke="#40e8b8" stroke-width="1" opacity="0.45"/><line x1="792.0" y1="310.3" x2="792.0" y2="317.0" stroke="#e070a0" stroke-width="1" opacity="0.4"/><line x1="791" y1="310.3" x2="791" y2="317.0" stroke="#7a0a28" stroke-width="1.2"/><line x1="791" y1="311.2" x2="791" y2="316.0" stroke="#7a0a28" stroke-width="2.2"/><line x1="790.9" y1="312.2" x2="790.9" y2="319.1" stroke="#40e8b8" stroke-width="1" opacity="0.45"/><line x1="793.0" y1="312.2" x2="793.0" y2="319.1" stroke="#e070a0" stroke-width="1" opacity="0.4"/><line x1="792" y1="312.2" x2="792" y2="319.1" stroke="#7a0a28" stroke-width="1.2"/><line x1="792" y1="314.5" x2="792" y2="316.0" stroke="#7a0a28" stroke-width="2.2"/><line x1="791.9" y1="311.0" x2="791.9" y2="316.5" stroke="#40e8b8" stroke-width="1" opacity="0.45"/><line x1="794.0" y1="311.0" x2="794.0" y2="316.5" stroke="#e070a0" stroke-width="1" opacity="0.4"/><line x1="793" y1="311.0" x2="793" y2="316.5" stroke="#181818" stroke-width="1.2"/><line x1="793" y1="314.0" x2="793" y2="315.5" stroke="#181818" stroke-width="2.2"/><line x1="792.9" y1="310.9" x2="792.9" y2="317.1" stroke="#40e8b8" stroke-width="1" opacity="0.45"/><line x1="795.0" y1="310.9" x2="795.0" y2="317.1" stroke="#e070a0" stroke-width="1" opacity="0.4"/><line x1="794" y1="310.9" x2="794" y2="317.1" stroke="#7a0a28" stroke-width="1.2"/><line x1="794" y1="312.5" x2="794" y2="315.0" stroke="#7a0a28" stroke-width="2.2"/><line x1="793.9" y1="307.8" x2="793.9" y2="315.8" stroke="#40e8b8" stroke-width="1" opacity="0.45"/><line x1="796.0" y1="307.8" x2="796.0" y2="315.8" stroke="#e070a0" stroke-width="1" opacity="0.4"/><line x1="795" y1="307.8" x2="795" y2="315.8" stroke="#181818" stroke-width="1.2"/><line x1="795" y1="310.0" x2="795" y2="313.5" stroke="#181818" stroke-width="2.2"/><line x1="794.9" y1="308.3" x2="794.9" y2="311.7" stroke="#40e8b8" stroke-width="1" opacity="0.45"/><line x1="797.0" y1="308.3" x2="797.0" y2="311.7" stroke="#e070a0" stroke-width="1" opacity="0.4"/><line x1="796" y1="308.3" x2="796" y2="311.7" stroke="#181818" stroke-width="1.2"/><line x1="796" y1="308.7" x2="796" y2="311.0" stroke="#181818" stroke-width="2.2"/><line x1="795.9" y1="306.7" x2="795.9" y2="311.7" stroke="#40e8b8" stroke-width="1" opacity="0.45"/><line x1="798.0" y1="306.7" x2="798.0" y2="311.7" stroke="#e070a0" stroke-width="1" opacity="0.4"/><line x1="797" y1="306.7" x2="797" y2="311.7" stroke="#7a0a28" stroke-width="1.2"/><line x1="797" y1="307.0" x2="797" y2="309.7" stroke="#7a0a28" stroke-width="2.2"/><line x1="796.9" y1="301.3" x2="796.9" y2="309.3" stroke="#40e8b8" stroke-width="1" opacity="0.45"/><line x1="799.0" y1="301.3" x2="799.0" y2="309.3" stroke="#e070a0" stroke-width="1" opacity="0.4"/><line x1="798" y1="301.3" x2="798" y2="309.3" stroke="#7a0a28" stroke-width="1.2"/><line x1="798" y1="303.4" x2="798" y2="308.0" stroke="#7a0a28" stroke-width="2.2"/><line x1="797.9" y1="293.2" x2="797.9" y2="307.5" stroke="#40e8b8" stroke-width="1" opacity="0.45"/><line x1="800.0" y1="293.2" x2="800.0" y2="307.5" stroke="#e070a0" stroke-width="1" opacity="0.4"/><line x1="799" y1="293.2" x2="799" y2="307.5" stroke="#7a0a28" stroke-width="1.2"/><line x1="799" y1="297.8" x2="799" y2="304.4" stroke="#7a0a28" stroke-width="2.2"/><line x1="798.9" y1="296.7" x2="798.9" y2="302.6" stroke="#40e8b8" stroke-width="1" opacity="0.45"/><line x1="801.0" y1="296.7" x2="801.0" y2="302.6" stroke="#e070a0" stroke-width="1" opacity="0.4"/><line x1="800" y1="296.7" x2="800" y2="302.6" stroke="#7a0a28" stroke-width="1.2"/><line x1="800" y1="297.8" x2="800" y2="301.3" stroke="#7a0a28" stroke-width="2.2"/><line x1="799.9" y1="299.3" x2="799.9" y2="302.0" stroke="#40e8b8" stroke-width="1" opacity="0.45"/><line x1="802.0" y1="299.3" x2="802.0" y2="302.0" stroke="#e070a0" stroke-width="1" opacity="0.4"/><line x1="801" y1="299.3" x2="801" y2="302.0" stroke="#7a0a28" stroke-width="1.2"/><line x1="801" y1="300.2" x2="801" y2="301.3" stroke="#7a0a28" stroke-width="2.2"/><line x1="800.9" y1="299.8" x2="800.9" y2="304.3" stroke="#40e8b8" stroke-width="1" opacity="0.45"/><line x1="803.0" y1="299.8" x2="803.0" y2="304.3" stroke="#e070a0" stroke-width="1" opacity="0.4"/><line x1="802" y1="299.8" x2="802" y2="304.3" stroke="#181818" stroke-width="1.2"/><line x1="802" y1="300.2" x2="802" y2="301.6" stroke="#181818" stroke-width="2.2"/><line x1="801.9" y1="298.5" x2="801.9" y2="307.6" stroke="#40e8b8" stroke-width="1" opacity="0.45"/><line x1="804.0" y1="298.5" x2="804.0" y2="307.6" stroke="#e070a0" stroke-width="1" opacity="0.4"/><line x1="803" y1="298.5" x2="803" y2="307.6" stroke="#181818" stroke-width="1.2"/><line x1="803" y1="300.6" x2="803" y2="305.5" stroke="#181818" stroke-width="2.2"/><line x1="802.9" y1="301.5" x2="802.9" y2="305.9" stroke="#40e8b8" stroke-width="1" opacity="0.45"/><line x1="805.0" y1="301.5" x2="805.0" y2="305.9" stroke="#e070a0" stroke-width="1" opacity="0.4"/><line x1="804" y1="301.5" x2="804" y2="305.9" stroke="#181818" stroke-width="1.2"/><line x1="804" y1="301.9" x2="804" y2="305.5" stroke="#181818" stroke-width="2.2"/><line x1="803.9" y1="301.4" x2="803.9" y2="310.8" stroke="#40e8b8" stroke-width="1" opacity="0.45"/><line x1="806.0" y1="301.4" x2="806.0" y2="310.8" stroke="#e070a0" stroke-width="1" opacity="0.4"/><line x1="805" y1="301.4" x2="805" y2="310.8" stroke="#7a0a28" stroke-width="1.2"/><line x1="805" y1="301.9" x2="805" y2="308.9" stroke="#7a0a28" stroke-width="2.2"/><line x1="804.9" y1="304.6" x2="804.9" y2="324.0" stroke="#40e8b8" stroke-width="1" opacity="0.45"/><line x1="807.0" y1="304.6" x2="807.0" y2="324.0" stroke="#e070a0" stroke-width="1" opacity="0.4"/><line x1="806" y1="304.6" x2="806" y2="324.0" stroke="#7a0a28" stroke-width="1.2"/><line x1="806" y1="306.7" x2="806" y2="308.9" stroke="#7a0a28" stroke-width="2.2"/><line x1="805.9" y1="302.8" x2="805.9" y2="312.5" stroke="#40e8b8" stroke-width="1" opacity="0.45"/><line x1="808.0" y1="302.8" x2="808.0" y2="312.5" stroke="#e070a0" stroke-width="1" opacity="0.4"/><line x1="807" y1="302.8" x2="807" y2="312.5" stroke="#7a0a28" stroke-width="1.2"/><line x1="807" y1="306.7" x2="807" y2="308.6" stroke="#7a0a28" stroke-width="2.2"/><line x1="806.9" y1="304.4" x2="806.9" y2="314.6" stroke="#40e8b8" stroke-width="1" opacity="0.45"/><line x1="809.0" y1="304.4" x2="809.0" y2="314.6" stroke="#e070a0" stroke-width="1" opacity="0.4"/><line x1="808" y1="304.4" x2="808" y2="314.6" stroke="#181818" stroke-width="1.2"/><line x1="808" y1="307.6" x2="808" y2="313.3" stroke="#181818" stroke-width="2.2"/><line x1="807.9" y1="310.2" x2="807.9" y2="317.0" stroke="#40e8b8" stroke-width="1" opacity="0.45"/><line x1="810.0" y1="310.2" x2="810.0" y2="317.0" stroke="#e070a0" stroke-width="1" opacity="0.4"/><line x1="809" y1="310.2" x2="809" y2="317.0" stroke="#7a0a28" stroke-width="1.2"/><line x1="809" y1="312.3" x2="809" y2="317.0" stroke="#7a0a28" stroke-width="2.2"/><line x1="808.9" y1="307.5" x2="808.9" y2="319.3" stroke="#40e8b8" stroke-width="1" opacity="0.45"/><line x1="811.0" y1="307.5" x2="811.0" y2="319.3" stroke="#e070a0" stroke-width="1" opacity="0.4"/><line x1="810" y1="307.5" x2="810" y2="319.3" stroke="#181818" stroke-width="1.2"/><line x1="810" y1="310.0" x2="810" y2="317.0" stroke="#181818" stroke-width="2.2"/><line x1="809.9" y1="299.1" x2="809.9" y2="312.1" stroke="#40e8b8" stroke-width="1" opacity="0.45"/><line x1="812.0" y1="299.1" x2="812.0" y2="312.1" stroke="#e070a0" stroke-width="1" opacity="0.4"/><line x1="811" y1="299.1" x2="811" y2="312.1" stroke="#181818" stroke-width="1.2"/><line x1="811" y1="301.4" x2="811" y2="311.0" stroke="#181818" stroke-width="2.2"/><line x1="810.9" y1="289.5" x2="810.9" y2="303.3" stroke="#40e8b8" stroke-width="1" opacity="0.45"/><line x1="813.0" y1="289.5" x2="813.0" y2="303.3" stroke="#e070a0" stroke-width="1" opacity="0.4"/><line x1="812" y1="289.5" x2="812" y2="303.3" stroke="#181818" stroke-width="1.2"/><line x1="812" y1="301.4" x2="812" y2="302.7" stroke="#181818" stroke-width="2.2"/><line x1="811.9" y1="301.3" x2="811.9" y2="303.7" stroke="#40e8b8" stroke-width="1" opacity="0.45"/><line x1="814.0" y1="301.3" x2="814.0" y2="303.7" stroke="#e070a0" stroke-width="1" opacity="0.4"/><line x1="813" y1="301.3" x2="813" y2="303.7" stroke="#181818" stroke-width="1.2"/><line x1="813" y1="301.7" x2="813" y2="302.8" stroke="#181818" stroke-width="2.2"/><line x1="812.9" y1="296.2" x2="812.9" y2="304.7" stroke="#40e8b8" stroke-width="1" opacity="0.45"/><line x1="815.0" y1="296.2" x2="815.0" y2="304.7" stroke="#e070a0" stroke-width="1" opacity="0.4"/><line x1="814" y1="296.2" x2="814" y2="304.7" stroke="#7a0a28" stroke-width="1.2"/><line x1="814" y1="297.7" x2="814" y2="302.8" stroke="#7a0a28" stroke-width="2.2"/><line x1="813.9" y1="297.2" x2="813.9" y2="300.0" stroke="#40e8b8" stroke-width="1" opacity="0.45"/><line x1="816.0" y1="297.2" x2="816.0" y2="300.0" stroke="#e070a0" stroke-width="1" opacity="0.4"/><line x1="815" y1="297.2" x2="815" y2="300.0" stroke="#181818" stroke-width="1.2"/><line x1="815" y1="297.7" x2="815" y2="299.0" stroke="#181818" stroke-width="2.2"/><line x1="814.9" y1="296.5" x2="814.9" y2="303.7" stroke="#40e8b8" stroke-width="1" opacity="0.45"/><line x1="817.0" y1="296.5" x2="817.0" y2="303.7" stroke="#e070a0" stroke-width="1" opacity="0.4"/><line x1="816" y1="296.5" x2="816" y2="303.7" stroke="#181818" stroke-width="1.2"/><line x1="816" y1="298.0" x2="816" y2="301.8" stroke="#181818" stroke-width="2.2"/><line x1="815.9" y1="300.9" x2="815.9" y2="303.6" stroke="#40e8b8" stroke-width="1" opacity="0.45"/><line x1="818.0" y1="300.9" x2="818.0" y2="303.6" stroke="#e070a0" stroke-width="1" opacity="0.4"/><line x1="817" y1="300.9" x2="817" y2="303.6" stroke="#181818" stroke-width="1.2"/><line x1="817" y1="300.8" x2="817" y2="302.0" stroke="#181818" stroke-width="2.2"/><line x1="816.9" y1="299.4" x2="816.9" y2="303.1" stroke="#40e8b8" stroke-width="1" opacity="0.45"/><line x1="819.0" y1="299.4" x2="819.0" y2="303.1" stroke="#e070a0" stroke-width="1" opacity="0.4"/><line x1="818" y1="299.4" x2="818" y2="303.1" stroke="#181818" stroke-width="1.2"/><line x1="818" y1="300.8" x2="818" y2="302.0" stroke="#181818" stroke-width="2.2"/><line x1="817.9" y1="298.9" x2="817.9" y2="306.1" stroke="#40e8b8" stroke-width="1" opacity="0.45"/><line x1="820.0" y1="298.9" x2="820.0" y2="306.1" stroke="#e070a0" stroke-width="1" opacity="0.4"/><line x1="819" y1="298.9" x2="819" y2="306.1" stroke="#7a0a28" stroke-width="1.2"/><line x1="819" y1="300.8" x2="819" y2="304.9" stroke="#7a0a28" stroke-width="2.2"/><line x1="818.9" y1="300.7" x2="818.9" y2="306.9" stroke="#40e8b8" stroke-width="1" opacity="0.45"/><line x1="821.0" y1="300.7" x2="821.0" y2="306.9" stroke="#e070a0" stroke-width="1" opacity="0.4"/><line x1="820" y1="300.7" x2="820" y2="306.9" stroke="#7a0a28" stroke-width="1.2"/><line x1="820" y1="302.4" x2="820" y2="304.9" stroke="#7a0a28" stroke-width="2.2"/><line x1="819.9" y1="302.2" x2="819.9" y2="304.7" stroke="#40e8b8" stroke-width="1" opacity="0.45"/><line x1="822.0" y1="302.2" x2="822.0" y2="304.7" stroke="#e070a0" stroke-width="1" opacity="0.4"/><line x1="821" y1="302.2" x2="821" y2="304.7" stroke="#7a0a28" stroke-width="1.2"/><line x1="821" y1="302.4" x2="821" y2="303.8" stroke="#7a0a28" stroke-width="2.2"/><line x1="820.9" y1="301.6" x2="820.9" y2="307.0" stroke="#40e8b8" stroke-width="1" opacity="0.45"/><line x1="823.0" y1="301.6" x2="823.0" y2="307.0" stroke="#e070a0" stroke-width="1" opacity="0.4"/><line x1="822" y1="301.6" x2="822" y2="307.0" stroke="#7a0a28" stroke-width="1.2"/><line x1="822" y1="302.8" x2="822" y2="306.4" stroke="#7a0a28" stroke-width="2.2"/><line x1="821.9" y1="297.6" x2="821.9" y2="310.4" stroke="#40e8b8" stroke-width="1" opacity="0.45"/><line x1="824.0" y1="297.6" x2="824.0" y2="310.4" stroke="#e070a0" stroke-width="1" opacity="0.4"/><line x1="823" y1="297.6" x2="823" y2="310.4" stroke="#181818" stroke-width="1.2"/><line x1="823" y1="300.2" x2="823" y2="306.4" stroke="#181818" stroke-width="2.2"/><line x1="822.9" y1="296.4" x2="822.9" y2="305.2" stroke="#40e8b8" stroke-width="1" opacity="0.45"/><line x1="825.0" y1="296.4" x2="825.0" y2="305.2" stroke="#e070a0" stroke-width="1" opacity="0.4"/><line x1="824" y1="296.4" x2="824" y2="305.2" stroke="#181818" stroke-width="1.2"/><line x1="824" y1="300.2" x2="824" y2="303.3" stroke="#181818" stroke-width="2.2"/><line x1="823.9" y1="290.0" x2="823.9" y2="304.5" stroke="#40e8b8" stroke-width="1" opacity="0.45"/><line x1="826.0" y1="290.0" x2="826.0" y2="304.5" stroke="#e070a0" stroke-width="1" opacity="0.4"/><line x1="825" y1="290.0" x2="825" y2="304.5" stroke="#181818" stroke-width="1.2"/><line x1="825" y1="295.4" x2="825" y2="303.3" stroke="#181818" stroke-width="2.2"/><line x1="824.9" y1="294.4" x2="824.9" y2="296.6" stroke="#40e8b8" stroke-width="1" opacity="0.45"/><line x1="827.0" y1="294.4" x2="827.0" y2="296.6" stroke="#e070a0" stroke-width="1" opacity="0.4"/><line x1="826" y1="294.4" x2="826" y2="296.6" stroke="#181818" stroke-width="1.2"/><line x1="826" y1="295.4" x2="826" y2="296.5" stroke="#181818" stroke-width="2.2"/><line x1="825.9" y1="291.9" x2="825.9" y2="302.4" stroke="#40e8b8" stroke-width="1" opacity="0.45"/><line x1="828.0" y1="291.9" x2="828.0" y2="302.4" stroke="#e070a0" stroke-width="1" opacity="0.4"/><line x1="827" y1="291.9" x2="827" y2="302.4" stroke="#7a0a28" stroke-width="1.2"/><line x1="827" y1="295.5" x2="827" y2="298.7" stroke="#7a0a28" stroke-width="2.2"/><line x1="826.9" y1="295.9" x2="826.9" y2="302.2" stroke="#40e8b8" stroke-width="1" opacity="0.45"/><line x1="829.0" y1="295.9" x2="829.0" y2="302.2" stroke="#e070a0" stroke-width="1" opacity="0.4"/><line x1="828" y1="295.9" x2="828" y2="302.2" stroke="#181818" stroke-width="1.2"/><line x1="828" y1="297.7" x2="828" y2="301.7" stroke="#181818" stroke-width="2.2"/><line x1="827.9" y1="299.5" x2="827.9" y2="304.9" stroke="#40e8b8" stroke-width="1" opacity="0.45"/><line x1="830.0" y1="299.5" x2="830.0" y2="304.9" stroke="#e070a0" stroke-width="1" opacity="0.4"/><line x1="829" y1="299.5" x2="829" y2="304.9" stroke="#181818" stroke-width="1.2"/><line x1="829" y1="300.7" x2="829" y2="303.4" stroke="#181818" stroke-width="2.2"/><line x1="828.9" y1="299.9" x2="828.9" y2="306.3" stroke="#40e8b8" stroke-width="1" opacity="0.45"/><line x1="831.0" y1="299.9" x2="831.0" y2="306.3" stroke="#e070a0" stroke-width="1" opacity="0.4"/><line x1="830" y1="299.9" x2="830" y2="306.3" stroke="#181818" stroke-width="1.2"/><line x1="830" y1="302.4" x2="830" y2="305.3" stroke="#181818" stroke-width="2.2"/><line x1="829.9" y1="301.6" x2="829.9" y2="305.5" stroke="#40e8b8" stroke-width="1" opacity="0.45"/><line x1="832.0" y1="301.6" x2="832.0" y2="305.5" stroke="#e070a0" stroke-width="1" opacity="0.4"/><line x1="831" y1="301.6" x2="831" y2="305.5" stroke="#7a0a28" stroke-width="1.2"/><line x1="831" y1="302.9" x2="831" y2="305.3" stroke="#7a0a28" stroke-width="2.2"/><line x1="830.9" y1="301.4" x2="830.9" y2="310.1" stroke="#40e8b8" stroke-width="1" opacity="0.45"/><line x1="833.0" y1="301.4" x2="833.0" y2="310.1" stroke="#e070a0" stroke-width="1" opacity="0.4"/><line x1="832" y1="301.4" x2="832" y2="310.1" stroke="#181818" stroke-width="1.2"/><line x1="832" y1="302.9" x2="832" y2="306.9" stroke="#181818" stroke-width="2.2"/><line x1="831.9" y1="304.3" x2="831.9" y2="315.4" stroke="#40e8b8" stroke-width="1" opacity="0.45"/><line x1="834.0" y1="304.3" x2="834.0" y2="315.4" stroke="#e070a0" stroke-width="1" opacity="0.4"/><line x1="833" y1="304.3" x2="833" y2="315.4" stroke="#181818" stroke-width="1.2"/><line x1="833" y1="305.9" x2="833" y2="312.9" stroke="#181818" stroke-width="2.2"/><line x1="832.9" y1="310.0" x2="832.9" y2="322.6" stroke="#40e8b8" stroke-width="1" opacity="0.45"/><line x1="835.0" y1="310.0" x2="835.0" y2="322.6" stroke="#e070a0" stroke-width="1" opacity="0.4"/><line x1="834" y1="310.0" x2="834" y2="322.6" stroke="#181818" stroke-width="1.2"/><line x1="834" y1="311.9" x2="834" y2="319.8" stroke="#181818" stroke-width="2.2"/><line x1="833.9" y1="316.3" x2="833.9" y2="331.9" stroke="#40e8b8" stroke-width="1" opacity="0.45"/><line x1="836.0" y1="316.3" x2="836.0" y2="331.9" stroke="#e070a0" stroke-width="1" opacity="0.4"/><line x1="835" y1="316.3" x2="835" y2="331.9" stroke="#7a0a28" stroke-width="1.2"/><line x1="835" y1="318.8" x2="835" y2="327.3" stroke="#7a0a28" stroke-width="2.2"/><line x1="834.9" y1="318.6" x2="834.9" y2="330.4" stroke="#40e8b8" stroke-width="1" opacity="0.45"/><line x1="837.0" y1="318.6" x2="837.0" y2="330.4" stroke="#e070a0" stroke-width="1" opacity="0.4"/><line x1="836" y1="318.6" x2="836" y2="330.4" stroke="#7a0a28" stroke-width="1.2"/><line x1="836" y1="319.6" x2="836" y2="327.3" stroke="#7a0a28" stroke-width="2.2"/><line x1="835.9" y1="317.1" x2="835.9" y2="353.0" stroke="#40e8b8" stroke-width="1" opacity="0.45"/><line x1="838.0" y1="317.1" x2="838.0" y2="353.0" stroke="#e070a0" stroke-width="1" opacity="0.4"/><line x1="837" y1="317.1" x2="837" y2="353.0" stroke="#181818" stroke-width="1.2"/><line x1="837" y1="319.6" x2="837" y2="333.9" stroke="#181818" stroke-width="2.2"/><line x1="836.9" y1="331.5" x2="836.9" y2="344.6" stroke="#40e8b8" stroke-width="1" opacity="0.45"/><line x1="839.0" y1="331.5" x2="839.0" y2="344.6" stroke="#e070a0" stroke-width="1" opacity="0.4"/><line x1="838" y1="331.5" x2="838" y2="344.6" stroke="#7a0a28" stroke-width="1.2"/><line x1="838" y1="332.9" x2="838" y2="342.3" stroke="#7a0a28" stroke-width="2.2"/><line x1="837.9" y1="339.0" x2="837.9" y2="342.2" stroke="#40e8b8" stroke-width="1" opacity="0.45"/><line x1="840.0" y1="339.0" x2="840.0" y2="342.2" stroke="#e070a0" stroke-width="1" opacity="0.4"/><line x1="839" y1="339.0" x2="839" y2="342.2" stroke="#7a0a28" stroke-width="1.2"/><line x1="839" y1="340.3" x2="839" y2="342.3" stroke="#7a0a28" stroke-width="2.2"/><line x1="838.9" y1="337.2" x2="838.9" y2="341.9" stroke="#40e8b8" stroke-width="1" opacity="0.45"/><line x1="841.0" y1="337.2" x2="841.0" y2="341.9" stroke="#e070a0" stroke-width="1" opacity="0.4"/><line x1="840" y1="337.2" x2="840" y2="341.9" stroke="#7a0a28" stroke-width="1.2"/><line x1="840" y1="338.8" x2="840" y2="341.3" stroke="#7a0a28" stroke-width="2.2"/><line x1="839.9" y1="334.6" x2="839.9" y2="340.1" stroke="#40e8b8" stroke-width="1" opacity="0.45"/><line x1="842.0" y1="334.6" x2="842.0" y2="340.1" stroke="#e070a0" stroke-width="1" opacity="0.4"/><line x1="841" y1="334.6" x2="841" y2="340.1" stroke="#7a0a28" stroke-width="1.2"/><line x1="841" y1="337.4" x2="841" y2="339.8" stroke="#7a0a28" stroke-width="2.2"/><line x1="840.9" y1="334.1" x2="840.9" y2="338.8" stroke="#40e8b8" stroke-width="1" opacity="0.45"/><line x1="843.0" y1="334.1" x2="843.0" y2="338.8" stroke="#e070a0" stroke-width="1" opacity="0.4"/><line x1="842" y1="334.1" x2="842" y2="338.8" stroke="#7a0a28" stroke-width="1.2"/><line x1="842" y1="335.8" x2="842" y2="338.4" stroke="#7a0a28" stroke-width="2.2"/><line x1="841.9" y1="334.0" x2="841.9" y2="369.1" stroke="#40e8b8" stroke-width="1" opacity="0.45"/><line x1="844.0" y1="334.0" x2="844.0" y2="369.1" stroke="#e070a0" stroke-width="1" opacity="0.4"/><line x1="843" y1="334.0" x2="843" y2="369.1" stroke="#7a0a28" stroke-width="1.2"/><line x1="843" y1="335.8" x2="843" y2="365.3" stroke="#7a0a28" stroke-width="2.2"/></g>
<path d="M0,503.8 L1,504.6 L2,505.3 L3,506.0 L4,506.8 L5,507.6 L6,508.4 L7,509.2 L8,510.1 L9,511.0 L10,511.9 L11,512.9 L12,514.0 L13,514.9 L14,515.8 L15,516.6 L16,517.6 L17,518.5 L18,519.2 L19,519.9 L20,520.6 L21,521.2 L22,521.8 L23,522.4 L24,522.9 L25,523.3 L26,523.7 L27,524.1 L28,524.5 L29,525.0 L30,525.4 L31,525.8 L32,526.3 L33,526.7 L34,527.1 L35,527.5 L36,527.9 L37,528.3 L38,528.5 L39,528.8 L40,529.0 L41,529.1 L42,529.2 L43,529.2 L44,529.3 L45,529.3 L46,529.3 L47,529.3 L48,529.3 L49,529.2 L50,529.1 L51,529.0 L52,528.9 L53,528.7 L54,528.3 L55,527.9 L56,527.4 L57,526.8 L58,526.1 L59,525.5 L60,524.8 L61,524.2 L62,523.4 L63,522.5 L64,521.6 L65,520.7 L66,519.8 L67,518.9 L68,517.8 L69,516.8 L70,515.9 L71,515.0 L72,513.9 L73,512.8 L74,511.8 L75,510.9 L76,509.8 L77,508.7 L78,507.6 L79,506.4 L80,505.2 L81,503.9 L82,502.6 L83,501.4 L84,499.6 L85,497.4 L86,494.9 L87,492.4 L88,489.6 L89,486.8 L90,483.9 L91,481.0 L92,478.1 L93,474.9 L94,471.8 L95,468.5 L96,465.2 L97,461.7 L98,458.2 L99,454.6 L100,450.9 L101,447.0 L102,442.9 L103,438.7 L104,434.4 L105,430.0 L106,425.3 L107,420.7 L108,416.2 L109,411.9 L110,407.7 L111,403.4 L112,398.9 L113,394.8 L114,390.3 L115,385.8 L116,381.0 L117,375.8 L118,370.6 L119,365.1 L120,359.2 L121,353.2 L122,347.0 L123,340.6 L124,334.0 L125,327.1 L126,320.1 L127,313.3 L128,307.1 L129,300.9 L130,294.9 L131,289.2 L132,283.8 L133,278.4 L134,272.9 L135,267.5 L136,261.9 L137,256.3 L138,250.9 L139,245.7 L140,241.1 L141,237.6 L142,234.5 L143,231.6 L144,229.1 L145,226.9 L146,225.1 L147,223.5 L148,221.9 L149,220.8 L150,219.9 L151,219.1 L152,218.4 L153,218.1 L154,217.8 L155,218.0 L156,218.4 L157,219.0 L158,220.0 L159,221.3 L160,222.8 L161,224.6 L162,226.7 L163,229.0 L164,231.2 L165,233.6 L166,236.1 L167,238.9 L168,241.8 L169,245.0 L170,248.3 L171,251.9 L172,255.8 L173,260.1 L174,264.6 L175,269.7 L176,275.3 L177,280.9 L178,286.6 L179,292.4 L180,298.5 L181,304.9 L182,311.3 L183,317.5 L184,323.4 L185,329.2 L186,334.7 L187,340.0 L188,345.0 L189,349.9 L190,354.8 L191,359.6 L192,364.6 L193,369.7 L194,374.6 L195,379.3 L196,383.5 L197,387.2 L198,390.6 L199,393.8 L200,396.8 L201,399.5 L202,401.6 L203,403.5 L204,405.4 L205,406.8 L206,408.1 L207,409.3 L208,410.3 L209,411.1 L210,411.9 L211,412.3 L212,412.5 L213,412.4 L214,412.2 L215,412.1 L216,411.8 L217,411.6 L218,411.4 L219,411.1 L220,410.7 L221,410.2 L222,409.6 L223,408.8 L224,407.8 L225,406.7 L226,405.1 L227,403.4 L228,401.6 L229,399.7 L230,397.8 L231,395.7 L232,393.5 L233,391.2 L234,389.0 L235,386.6 L236,384.5 L237,382.4 L238,380.6 L239,378.8 L240,377.0 L241,375.1 L242,373.3 L243,371.4 L244,369.5 L245,367.7 L246,366.0 L247,364.5 L248,363.1 L249,361.8 L250,360.7 L251,359.8 L252,359.2 L253,358.7 L254,358.4 L255,358.2 L256,358.0 L257,357.9 L258,358.1 L259,358.5 L260,358.8 L261,359.3 L262,359.8 L263,360.2 L264,360.8 L265,361.4 L266,362.1 L267,362.8 L268,363.6 L269,364.6 L270,365.6 L271,366.3 L272,366.7 L273,366.8 L274,366.8 L275,366.6 L276,366.2 L277,366.0 L278,365.9 L279,365.8 L280,365.9 L281,366.1 L282,366.7 L283,367.3 L284,368.1 L285,368.9 L286,369.7 L287,370.4 L288,371.0 L289,371.7 L290,372.3 L291,373.0 L292,373.5 L293,373.9 L294,374.0 L295,374.1 L296,374.0 L297,374.0 L298,374.0 L299,374.0 L300,374.3 L301,374.7 L302,375.2 L303,375.6 L304,376.1 L305,376.6 L306,376.8 L307,376.9 L308,376.8 L309,376.6 L310,376.3 L311,376.1 L312,375.9 L313,375.7 L314,375.5 L315,375.2 L316,375.1 L317,375.0 L318,375.1 L319,375.4 L320,375.7 L321,376.0 L322,376.4 L323,376.7 L324,377.2 L325,377.6 L326,377.9 L327,378.4 L328,379.2 L329,380.2 L330,381.2 L331,382.5 L332,383.9 L333,385.2 L334,386.4 L335,387.7 L336,388.7 L337,389.8 L338,390.6 L339,391.4 L340,392.0 L341,392.6 L342,393.1 L343,393.8 L344,394.5 L345,395.2 L346,396.0 L347,396.8 L348,397.6 L349,398.5 L350,399.5 L351,400.5 L352,401.7 L353,402.9 L354,404.1 L355,405.3 L356,406.5 L357,407.6 L358,408.7 L359,409.8 L360,410.9 L361,411.9 L362,412.9 L363,414.0 L364,415.2 L365,416.3 L366,417.4 L367,418.5 L368,419.5 L369,420.4 L370,421.3 L371,422.1 L372,422.9 L373,423.7 L374,424.5 L375,425.2 L376,425.9 L377,426.6 L378,427.2 L379,427.8 L380,428.2 L381,428.6 L382,428.9 L383,429.1 L384,429.2 L385,429.1 L386,429.2 L387,429.0 L388,428.8 L389,428.5 L390,428.3 L391,428.2 L392,428.1 L393,428.2 L394,428.4 L395,428.6 L396,429.0 L397,429.3 L398,429.6 L399,429.9 L400,430.1 L401,430.3 L402,430.6 L403,431.0 L404,431.5 L405,432.2 L406,432.9 L407,433.5 L408,434.0 L409,434.4 L410,434.9 L411,435.3 L412,435.6 L413,435.8 L414,436.0 L415,435.9 L416,435.9 L417,435.7 L418,435.6 L419,435.4 L420,435.2 L421,435.0 L422,434.8 L423,434.8 L424,434.7 L425,434.6 L426,434.4 L427,434.3 L428,434.2 L429,434.1 L430,434.0 L431,433.8 L432,433.6 L433,433.6 L434,433.6 L435,433.7 L436,433.8 L437,433.9 L438,434.3 L439,434.7 L440,435.2 L441,435.8 L442,436.3 L443,436.9 L444,437.5 L445,438.0 L446,438.5 L447,439.0 L448,439.4 L449,439.7 L450,440.1 L451,440.4 L452,440.7 L453,441.0 L454,441.3 L455,441.6 L456,441.9 L457,442.2 L458,442.5 L459,442.6 L460,442.5 L461,442.1 L462,441.7 L463,441.3 L464,440.8 L465,440.3 L466,439.9 L467,439.5 L468,439.0 L469,438.5 L470,438.2 L471,437.9 L472,437.5 L473,437.2 L474,436.7 L475,436.4 L476,435.8 L477,435.0 L478,433.9 L479,432.7 L480,431.4 L481,429.8 L482,428.2 L483,426.3 L484,424.4 L485,422.6 L486,420.7 L487,418.8 L488,416.8 L489,414.7 L490,412.5 L491,410.2 L492,407.8 L493,405.2 L494,402.4 L495,399.6 L496,396.5 L497,392.8 L498,389.0 L499,384.9 L500,380.8 L501,376.3 L502,371.8 L503,367.2 L504,362.7 L505,358.5 L506,354.6 L507,351.0 L508,347.4 L509,344.0 L510,340.9 L511,338.0 L512,335.1 L513,332.8 L514,330.5 L515,328.9 L516,327.4 L517,326.1 L518,324.5 L519,322.7 L520,320.9 L521,319.1 L522,317.4 L523,315.5 L524,313.5 L525,311.4 L526,309.4 L527,307.3 L528,305.3 L529,303.4 L530,301.5 L531,299.6 L532,298.0 L533,296.9 L534,296.3 L535,296.0 L536,295.9 L537,296.2 L538,296.7 L539,297.5 L540,298.2 L541,298.8 L542,299.4 L543,299.8 L544,300.2 L545,300.7 L546,301.3 L547,302.1 L548,302.9 L549,304.0 L550,305.4 L551,306.9 L552,308.6 L553,310.8 L554,313.1 L555,315.7 L556,318.2 L557,321.1 L558,324.0 L559,326.9 L560,329.6 L561,332.1 L562,334.3 L563,336.0 L564,337.9 L565,339.6 L566,341.0 L567,342.3 L568,343.4 L569,343.9 L570,344.6 L571,344.6 L572,344.5 L573,344.1 L574,344.1 L575,344.2 L576,344.3 L577,344.5 L578,344.9 L579,345.3 L580,345.9 L581,346.7 L582,347.4 L583,348.1 L584,348.8 L585,349.5 L586,350.2 L587,350.8 L588,351.2 L589,351.3 L590,351.2 L591,350.8 L592,350.3 L593,349.9 L594,349.3 L595,348.7 L596,348.3 L597,347.9 L598,347.5 L599,347.4 L600,347.1 L601,347.0 L602,346.6 L603,346.3 L604,345.9 L605,345.4 L606,344.8 L607,344.2 L608,343.6 L609,342.9 L610,342.3 L611,341.6 L612,341.0 L613,340.4 L614,339.7 L615,339.2 L616,338.6 L617,338.1 L618,337.5 L619,336.9 L620,336.4 L621,335.7 L622,335.1 L623,334.6 L624,334.1 L625,333.7 L626,333.3 L627,332.9 L628,332.7 L629,332.5 L630,332.1 L631,331.8 L632,331.5 L633,331.1 L634,330.6 L635,330.2 L636,329.7 L637,329.6 L638,329.5 L639,329.3 L640,329.1 L641,329.0 L642,329.1 L643,329.2 L644,329.3 L645,329.6 L646,329.7 L647,330.0 L648,330.1 L649,330.2 L650,330.2 L651,330.2 L652,330.3 L653,330.4 L654,330.6 L655,331.0 L656,331.4 L657,331.9 L658,332.5 L659,333.2 L660,333.9 L661,334.7 L662,335.6 L663,336.4 L664,337.4 L665,338.4 L666,339.4 L667,340.5 L668,341.6 L669,342.9 L670,344.2 L671,345.4 L672,346.8 L673,348.1 L674,349.5 L675,350.9 L676,352.3 L677,353.8 L678,355.2 L679,356.6 L680,358.0 L681,359.3 L682,360.5 L683,361.6 L684,362.7 L685,363.6 L686,364.5 L687,365.3 L688,366.0 L689,366.7 L690,367.0 L691,367.5 L692,367.7 L693,367.9 L694,368.2 L695,368.5 L696,369.0 L697,369.4 L698,369.9 L699,370.2 L700,370.4 L701,370.7 L702,371.0 L703,371.4 L704,371.8 L705,372.2 L706,372.7 L707,373.1 L708,373.3 L709,373.6 L710,373.7 L711,373.6 L712,373.5 L713,373.2 L714,372.9 L715,372.7 L716,372.3 L717,371.9 L718,371.4 L719,371.1 L720,370.6 L721,370.2 L722,369.8 L723,369.4 L724,369.0 L725,368.4 L726,367.8 L727,367.2 L728,366.4 L729,365.6 L730,364.9 L731,364.2 L732,363.4 L733,362.7 L734,362.1 L735,361.6 L736,361.2 L737,360.8 L738,360.5 L739,360.1 L740,359.9 L741,359.8 L742,359.9 L743,360.0 L744,360.4 L745,360.6 L746,361.2 L747,361.7 L748,362.3 L749,362.6 L750,362.7 L751,362.8 L752,362.7 L753,362.4 L754,361.8 L755,361.1 L756,360.5 L757,359.9 L758,359.2 L759,358.5 L760,357.8 L761,357.2 L762,356.5 L763,355.8 L764,355.1 L765,354.3 L766,353.6 L767,352.9 L768,352.2 L769,351.5 L770,350.9 L771,350.1 L772,349.4 L773,348.7 L774,347.9 L775,347.0 L776,346.1 L777,345.3 L778,344.2 L779,343.1 L780,342.0 L781,340.8 L782,339.8 L783,338.6 L784,337.6 L785,336.8 L786,335.9 L787,335.0 L788,334.2 L789,333.3 L790,332.3 L791,331.4 L792,330.3 L793,329.3 L794,328.2 L795,327.1 L796,325.9 L797,324.8 L798,323.6 L799,322.4 L800,321.1 L801,320.0 L802,318.8 L803,317.8 L804,316.6 L805,315.7 L806,314.9 L807,314.0 L808,313.3 L809,312.8 L810,312.4 L811,312.1 L812,311.7 L813,311.3 L814,310.9 L815,310.4 L816,310.0 L817,309.5 L818,309.0 L819,308.6 L820,308.2 L821,307.8 L822,307.5 L823,307.2 L824,306.8 L825,306.4 L826,305.9 L827,305.5 L828,305.2 L829,304.9 L830,304.7 L831,304.6 L832,304.5 L833,304.4 L834,304.7 L835,305.2 L836,305.5 L837,306.1 L838,306.9 L839,307.7 L840,308.6 L841,309.2 L842,309.8 L843,310.8" fill="none" stroke="#5cc8ff" stroke-width="1.8" stroke-linejoin="round" filter="url(#b)"/>
<path d="M0,516.7 L1,517.1 L2,517.6 L3,517.9 L4,518.4 L5,518.9 L6,519.4 L7,520.0 L8,520.7 L9,521.3 L10,522.1 L11,523.1 L12,524.0 L13,524.8 L14,525.5 L15,526.2 L16,527.0 L17,527.9 L18,528.5 L19,528.9 L20,529.5 L21,529.9 L22,530.3 L23,530.8 L24,531.1 L25,531.4 L26,531.7 L27,532.0 L28,532.4 L29,532.8 L30,533.2 L31,533.8 L32,534.2 L33,534.6 L34,534.8 L35,535.0 L36,535.1 L37,535.2 L38,534.9 L39,534.5 L40,533.9 L41,533.3 L42,532.8 L43,532.3 L44,531.5 L45,530.7 L46,530.1 L47,529.7 L48,529.1 L49,528.5 L50,528.0 L51,527.3 L52,526.7 L53,525.9 L54,524.9 L55,523.8 L56,522.4 L57,520.7 L58,518.9 L59,517.3 L60,515.5 L61,513.8 L62,511.9 L63,510.0 L64,508.2 L65,506.2 L66,504.7 L67,503.2 L68,501.7 L69,500.4 L70,499.0 L71,497.6 L72,496.2 L73,494.9 L74,493.5 L75,492.0 L76,490.5 L77,489.0 L78,487.3 L79,485.5 L80,483.8 L81,481.9 L82,480.4 L83,479.0 L84,476.7 L85,474.1 L86,470.9 L87,467.5 L88,463.7 L89,459.7 L90,455.9 L91,452.0 L92,448.0 L93,443.6 L94,438.9 L95,433.8 L96,428.7 L97,423.0 L98,417.4 L99,411.6 L100,405.5 L101,399.2 L102,392.3 L103,385.4 L104,378.4 L105,371.0 L106,363.4 L107,355.9 L108,348.7 L109,341.9 L110,335.0 L111,327.8 L112,321.2 L113,315.4 L114,309.8 L115,304.1 L116,298.3 L117,291.9 L118,285.3 L119,278.3 L120,270.3 L121,262.8 L122,255.1 L123,247.5 L124,239.3 L125,231.2 L126,222.7 L127,215.1 L128,208.6 L129,202.6 L130,197.5 L131,193.0 L132,189.3 L133,185.8 L134,182.4 L135,179.2 L136,175.1 L137,170.8 L138,166.7 L139,163.5 L140,161.1 L141,159.9 L142,159.2 L143,159.2 L144,159.9 L145,161.9 L146,164.9 L147,168.7 L148,173.5 L149,178.8 L150,184.7 L151,190.6 L152,197.5 L153,205.0 L154,213.0 L155,220.9 L156,228.1 L157,235.5 L158,242.6 L159,249.5 L160,256.2 L161,263.4 L162,271.0 L163,278.8 L164,287.3 L165,296.4 L166,305.4 L167,314.2 L168,322.6 L169,330.0 L170,337.4 L171,344.6 L172,351.6 L173,358.2 L174,364.4 L175,370.7 L176,377.0 L177,383.0 L178,388.6 L179,394.2 L180,399.4 L181,404.7 L182,409.6 L183,414.2 L184,418.7 L185,422.9 L186,426.8 L187,430.5 L188,433.8 L189,436.5 L190,438.7 L191,440.5 L192,442.0 L193,443.0 L194,443.8 L195,444.3 L196,444.5 L197,444.4 L198,443.9 L199,443.0 L200,442.0 L201,440.8 L202,438.8 L203,436.3 L204,433.8 L205,430.7 L206,427.6 L207,424.3 L208,421.1 L209,417.5 L210,414.2 L211,410.5 L212,406.3 L213,401.9 L214,397.6 L215,393.7 L216,389.9 L217,386.8 L218,384.1 L219,381.6 L220,379.5 L221,377.4 L222,375.3 L223,373.2 L224,371.2 L225,369.0 L226,366.4 L227,363.9 L228,361.2 L229,358.7 L230,356.9 L231,355.1 L232,353.3 L233,351.8 L234,350.3 L235,348.9 L236,347.9 L237,347.2 L238,347.1 L239,347.2 L240,347.6 L241,348.3 L242,349.0 L243,349.2 L244,349.1 L245,348.6 L246,347.9 L247,347.4 L248,346.6 L249,346.1 L250,346.1 L251,346.4 L252,347.2 L253,348.4 L254,350.5 L255,352.4 L256,354.8 L257,357.1 L258,359.4 L259,361.9 L260,364.3 L261,366.7 L262,369.2 L263,371.5 L264,373.7 L265,375.7 L266,377.1 L267,378.4 L268,379.6 L269,380.9 L270,382.3 L271,383.4 L272,384.2 L273,384.9 L274,385.6 L275,385.8 L276,385.9 L277,385.9 L278,385.7 L279,385.2 L280,384.6 L281,383.7 L282,382.9 L283,382.3 L284,381.5 L285,380.8 L286,379.9 L287,378.8 L288,377.7 L289,376.7 L290,375.4 L291,374.4 L292,373.3 L293,372.2 L294,371.0 L295,369.7 L296,368.3 L297,367.1 L298,365.7 L299,364.7 L300,364.4 L301,364.5 L302,364.7 L303,365.5 L304,366.3 L305,367.3 L306,368.0 L307,368.6 L308,369.0 L309,369.4 L310,369.7 L311,370.0 L312,370.4 L313,370.6 L314,371.0 L315,371.6 L316,372.4 L317,373.4 L318,374.8 L319,376.3 L320,378.2 L321,379.8 L322,381.7 L323,383.8 L324,386.1 L325,388.0 L326,390.1 L327,392.1 L328,394.1 L329,396.0 L330,397.6 L331,399.4 L332,401.4 L333,403.1 L334,404.9 L335,406.8 L336,408.4 L337,410.2 L338,411.6 L339,412.9 L340,413.7 L341,414.6 L342,415.2 L343,416.0 L344,416.7 L345,417.0 L346,417.2 L347,417.2 L348,417.1 L349,417.1 L350,417.2 L351,417.3 L352,417.4 L353,417.7 L354,418.1 L355,418.6 L356,419.0 L357,419.3 L358,419.8 L359,420.2 L360,420.5 L361,420.7 L362,420.9 L363,421.3 L364,421.9 L365,422.4 L366,423.3 L367,424.1 L368,425.3 L369,426.3 L370,427.4 L371,428.3 L372,429.1 L373,430.4 L374,431.7 L375,433.2 L376,434.8 L377,436.2 L378,437.3 L379,438.2 L380,439.0 L381,439.5 L382,439.7 L383,439.6 L384,439.3 L385,439.0 L386,438.6 L387,437.9 L388,437.1 L389,436.3 L390,435.8 L391,435.0 L392,434.4 L393,433.9 L394,433.5 L395,433.1 L396,432.7 L397,432.3 L398,431.9 L399,431.5 L400,431.1 L401,430.3 L402,429.5 L403,428.8 L404,428.2 L405,428.2 L406,428.5 L407,428.8 L408,429.1 L409,429.4 L410,430.0 L411,430.9 L412,431.8 L413,432.7 L414,433.4 L415,434.0 L416,434.6 L417,435.0 L418,435.4 L419,435.7 L420,436.0 L421,436.1 L422,436.2 L423,436.5 L424,436.6 L425,436.8 L426,436.9 L427,437.2 L428,437.4 L429,437.9 L430,438.4 L431,438.9 L432,439.1 L433,439.0 L434,438.7 L435,438.6 L436,438.5 L437,438.5 L438,438.6 L439,438.6 L440,438.5 L441,438.8 L442,439.2 L443,439.7 L444,440.3 L445,441.1 L446,441.6 L447,442.2 L448,442.8 L449,443.4 L450,443.9 L451,444.3 L452,444.8 L453,445.3 L454,445.6 L455,446.0 L456,446.5 L457,446.6 L458,446.6 L459,446.2 L460,445.9 L461,445.3 L462,444.7 L463,444.0 L464,443.1 L465,442.2 L466,441.2 L467,440.4 L468,439.4 L469,438.3 L470,437.2 L471,436.0 L472,434.7 L473,433.3 L474,431.8 L475,430.5 L476,428.8 L477,426.7 L478,424.0 L479,421.1 L480,418.0 L481,414.3 L482,410.8 L483,406.5 L484,402.4 L485,398.5 L486,394.7 L487,391.3 L488,387.6 L489,384.0 L490,380.3 L491,376.3 L492,372.5 L493,368.3 L494,363.7 L495,358.8 L496,353.5 L497,347.3 L498,340.8 L499,333.8 L500,326.9 L501,319.3 L502,311.7 L503,303.9 L504,296.6 L505,290.4 L506,285.2 L507,281.0 L508,276.8 L509,273.7 L510,271.1 L511,269.4 L512,267.9 L513,267.1 L514,266.3 L515,266.6 L516,267.2 L517,268.2 L518,268.7 L519,269.0 L520,269.4 L521,270.0 L522,271.1 L523,272.1 L524,273.4 L525,275.5 L526,277.9 L527,280.7 L528,283.8 L529,287.5 L530,291.2 L531,295.3 L532,299.4 L533,303.5 L534,307.4 L535,311.0 L536,315.0 L537,318.6 L538,322.2 L539,325.6 L540,328.6 L541,330.6 L542,332.6 L543,332.9 L544,333.2 L545,333.2 L546,333.9 L547,335.1 L548,336.4 L549,337.9 L550,339.7 L551,341.7 L552,343.9 L553,346.2 L554,348.3 L555,350.6 L556,352.7 L557,354.7 L558,356.7 L559,358.5 L560,359.8 L561,360.7 L562,361.1 L563,361.0 L564,360.8 L565,360.5 L566,359.9 L567,358.9 L568,358.1 L569,357.3 L570,356.6 L571,356.3 L572,355.7 L573,355.0 L574,354.2 L575,353.3 L576,352.2 L577,351.1 L578,350.0 L579,349.0 L580,348.0 L581,347.1 L582,346.4 L583,345.6 L584,344.9 L585,344.3 L586,343.6 L587,343.1 L588,342.5 L589,341.9 L590,341.2 L591,340.6 L592,339.9 L593,339.3 L594,338.7 L595,338.6 L596,338.5 L597,338.4 L598,338.5 L599,338.4 L600,338.6 L601,338.9 L602,339.1 L603,339.3 L604,339.7 L605,339.8 L606,339.6 L607,339.4 L608,339.1 L609,338.8 L610,338.3 L611,337.7 L612,337.1 L613,336.5 L614,335.8 L615,335.3 L616,334.7 L617,334.3 L618,333.7 L619,333.3 L620,332.9 L621,332.2 L622,331.6 L623,330.6 L624,329.8 L625,328.9 L626,328.2 L627,327.5 L628,326.8 L629,326.0 L630,325.2 L631,324.4 L632,323.3 L633,322.4 L634,321.7 L635,320.9 L636,320.3 L637,320.5 L638,320.7 L639,320.9 L640,321.1 L641,321.6 L642,322.4 L643,323.2 L644,323.9 L645,324.9 L646,325.7 L647,326.6 L648,327.4 L649,328.2 L650,328.9 L651,329.8 L652,330.9 L653,331.9 L654,333.1 L655,334.4 L656,336.0 L657,337.8 L658,339.8 L659,341.9 L660,344.5 L661,347.0 L662,349.4 L663,352.0 L664,354.5 L665,356.3 L666,358.1 L667,360.0 L668,362.1 L669,364.1 L670,366.0 L671,367.7 L672,369.6 L673,371.3 L674,373.2 L675,375.1 L676,377.2 L677,379.3 L678,381.5 L679,383.5 L680,385.1 L681,386.6 L682,387.8 L683,388.7 L684,389.4 L685,389.5 L686,389.3 L687,388.8 L688,387.5 L689,386.4 L690,384.7 L691,383.0 L692,381.0 L693,379.5 L694,378.2 L695,377.0 L696,375.9 L697,374.8 L698,373.8 L699,372.6 L700,371.3 L701,370.0 L702,368.8 L703,367.7 L704,366.4 L705,365.1 L706,363.9 L707,362.7 L708,361.6 L709,360.6 L710,359.5 L711,358.5 L712,357.6 L713,356.9 L714,356.6 L715,356.6 L716,357.1 L717,357.3 L718,358.2 L719,359.2 L720,360.2 L721,360.9 L722,361.4 L723,361.8 L724,362.2 L725,362.1 L726,361.9 L727,361.8 L728,361.6 L729,361.2 L730,361.0 L731,360.6 L732,360.4 L733,360.4 L734,360.4 L735,360.5 L736,360.8 L737,361.0 L738,361.5 L739,361.8 L740,362.2 L741,362.6 L742,363.1 L743,363.3 L744,363.7 L745,363.9 L746,364.1 L747,364.2 L748,364.4 L749,364.3 L750,364.0 L751,363.9 L752,363.3 L753,362.6 L754,361.8 L755,360.4 L756,359.4 L757,358.6 L758,357.5 L759,356.3 L760,355.2 L761,354.0 L762,352.6 L763,351.1 L764,349.4 L765,347.7 L766,345.8 L767,344.0 L768,342.2 L769,340.4 L770,338.6 L771,336.9 L772,335.1 L773,333.5 L774,331.7 L775,329.7 L776,327.9 L777,326.2 L778,324.4 L779,322.4 L780,320.7 L781,319.1 L782,317.8 L783,316.9 L784,315.8 L785,314.9 L786,314.3 L787,313.6 L788,313.2 L789,312.6 L790,312.0 L791,311.6 L792,311.2 L793,310.9 L794,310.5 L795,310.2 L796,309.7 L797,309.2 L798,308.5 L799,307.8 L800,307.1 L801,306.4 L802,306.0 L803,305.8 L804,305.4 L805,305.2 L806,305.3 L807,305.5 L808,305.9 L809,306.6 L810,307.0 L811,307.3 L812,307.6 L813,307.7 L814,307.5 L815,307.1 L816,306.8 L817,306.4 L818,306.0 L819,305.6 L820,305.2 L821,304.8 L822,304.5 L823,304.2 L824,303.9 L825,303.5 L826,303.2 L827,303.2 L828,303.3 L829,303.3 L830,303.5 L831,303.4 L832,303.6 L833,303.7 L834,304.1 L835,304.8 L836,305.1 L837,305.7 L838,306.8 L839,308.2 L840,309.5 L841,310.8 L842,312.1 L843,314.5" fill="none" stroke="#b070f8" stroke-width="1.8" stroke-linejoin="round" filter="url(#b)"/>
<path d="M0,519.1 L1,519.4 L2,519.7 L3,519.7 L4,520.1 L5,520.5 L6,521.0 L7,521.6 L8,522.4 L9,523.2 L10,524.2 L11,525.5 L12,526.9 L13,528.0 L14,528.9 L15,529.9 L16,531.2 L17,532.4 L18,533.2 L19,533.8 L20,534.5 L21,535.2 L22,535.6 L23,536.0 L24,536.1 L25,535.9 L26,535.7 L27,535.5 L28,535.2 L29,534.5 L30,534.0 L31,533.7 L32,533.7 L33,533.5 L34,533.1 L35,532.7 L36,532.7 L37,532.9 L38,532.7 L39,532.7 L40,532.5 L41,531.9 L42,531.6 L43,531.3 L44,530.9 L45,530.3 L46,529.7 L47,529.0 L48,528.1 L49,527.0 L50,525.9 L51,524.7 L52,523.4 L53,521.8 L54,519.9 L55,517.7 L56,515.7 L57,513.0 L58,510.7 L59,508.7 L60,506.6 L61,504.8 L62,502.6 L63,500.5 L64,498.5 L65,496.4 L66,494.7 L67,493.4 L68,491.7 L69,490.1 L70,488.6 L71,487.3 L72,486.2 L73,485.4 L74,484.7 L75,484.4 L76,483.8 L77,482.9 L78,482.0 L79,480.5 L80,479.6 L81,478.1 L82,476.7 L83,475.3 L84,472.3 L85,467.8 L86,462.8 L87,457.5 L88,451.7 L89,445.8 L90,439.8 L91,433.7 L92,427.7 L93,421.1 L94,414.3 L95,407.5 L96,400.5 L97,393.0 L98,385.4 L99,377.9 L100,369.8 L101,361.3 L102,353.4 L103,346.3 L104,339.8 L105,332.9 L106,326.0 L107,319.0 L108,312.9 L109,306.9 L110,301.0 L111,295.2 L112,289.1 L113,283.6 L114,277.8 L115,272.5 L116,266.3 L117,259.7 L118,252.8 L119,245.7 L120,238.0 L121,230.4 L122,222.5 L123,215.4 L124,207.4 L125,199.0 L126,189.4 L127,180.7 L128,173.2 L129,166.6 L130,160.9 L131,156.0 L132,152.4 L133,148.9 L134,145.8 L135,143.6 L136,141.5 L137,139.8 L138,139.8 L139,140.8 L140,143.0 L141,147.3 L142,153.2 L143,160.5 L144,168.6 L145,176.9 L146,184.8 L147,192.9 L148,200.8 L149,208.3 L150,215.5 L151,222.9 L152,230.9 L153,239.2 L154,248.2 L155,258.5 L156,268.7 L157,278.5 L158,287.7 L159,295.4 L160,303.4 L161,310.9 L162,318.6 L163,325.4 L164,331.9 L165,338.4 L166,345.0 L167,351.4 L168,357.4 L169,364.2 L170,370.7 L171,377.6 L172,384.3 L173,390.6 L174,396.8 L175,403.3 L176,409.8 L177,416.0 L178,421.3 L179,426.4 L180,430.7 L181,435.1 L182,438.5 L183,441.7 L184,444.8 L185,447.5 L186,449.9 L187,451.7 L188,453.3 L189,453.9 L190,454.0 L191,453.4 L192,452.5 L193,450.9 L194,449.0 L195,446.7 L196,444.4 L197,442.2 L198,439.9 L199,437.2 L200,434.8 L201,432.0 L202,428.0 L203,424.2 L204,420.6 L205,416.3 L206,411.8 L207,407.5 L208,403.4 L209,399.4 L210,395.3 L211,391.1 L212,386.6 L213,381.6 L214,377.0 L215,372.8 L216,369.4 L217,366.5 L218,363.8 L219,361.4 L220,360.3 L221,359.3 L222,358.0 L223,357.4 L224,356.7 L225,356.1 L226,354.7 L227,353.7 L228,352.4 L229,351.3 L230,351.2 L231,351.3 L232,351.6 L233,351.2 L234,350.2 L235,348.6 L236,347.1 L237,345.8 L238,344.8 L239,344.0 L240,343.4 L241,342.9 L242,342.4 L243,342.0 L244,342.6 L245,342.8 L246,343.2 L247,343.9 L248,344.2 L249,345.3 L250,346.9 L251,349.0 L252,351.9 L253,355.3 L254,358.8 L255,361.8 L256,364.4 L257,366.9 L258,369.5 L259,372.5 L260,375.4 L261,378.4 L262,381.4 L263,384.3 L264,387.2 L265,389.8 L266,392.3 L267,394.2 L268,395.6 L269,396.6 L270,396.9 L271,396.4 L272,395.0 L273,393.2 L274,391.3 L275,388.5 L276,385.4 L277,382.6 L278,380.1 L279,377.8 L280,375.8 L281,374.3 L282,373.1 L283,372.1 L284,371.2 L285,370.6 L286,370.0 L287,369.3 L288,368.4 L289,367.9 L290,367.7 L291,368.0 L292,367.9 L293,368.5 L294,369.1 L295,369.0 L296,368.5 L297,368.3 L298,367.5 L299,366.8 L300,366.2 L301,365.6 L302,365.2 L303,364.8 L304,364.3 L305,364.6 L306,364.9 L307,365.2 L308,366.0 L309,366.6 L310,367.6 L311,368.7 L312,370.2 L313,371.9 L314,374.2 L315,376.3 L316,378.8 L317,381.5 L318,383.9 L319,386.4 L320,388.9 L321,390.9 L322,393.1 L323,394.6 L324,396.7 L325,398.5 L326,400.2 L327,402.1 L328,404.1 L329,406.1 L330,407.6 L331,409.6 L332,411.5 L333,413.7 L334,415.5 L335,417.1 L336,418.3 L337,419.2 L338,419.5 L339,420.1 L340,419.9 L341,419.9 L342,419.5 L343,419.7 L344,420.2 L345,420.2 L346,419.9 L347,419.5 L348,419.1 L349,418.3 L350,417.6 L351,416.7 L352,416.2 L353,415.5 L354,415.3 L355,415.1 L356,415.7 L357,416.1 L358,417.2 L359,418.3 L360,419.7 L361,421.0 L362,422.0 L363,423.8 L364,425.5 L365,427.3 L366,429.1 L367,431.0 L368,432.5 L369,433.9 L370,435.1 L371,436.2 L372,437.2 L373,438.5 L374,439.6 L375,441.0 L376,442.4 L377,443.2 L378,443.7 L379,444.0 L380,444.3 L381,443.9 L382,443.0 L383,441.9 L384,440.7 L385,439.2 L386,437.9 L387,436.4 L388,434.8 L389,433.5 L390,432.5 L391,431.1 L392,429.7 L393,428.4 L394,427.1 L395,426.2 L396,425.4 L397,424.7 L398,424.1 L399,423.7 L400,423.8 L401,424.0 L402,424.3 L403,425.1 L404,426.3 L405,428.2 L406,430.4 L407,432.3 L408,433.8 L409,435.1 L410,436.3 L411,437.2 L412,438.1 L413,438.6 L414,439.0 L415,439.0 L416,439.1 L417,438.9 L418,439.2 L419,439.5 L420,439.8 L421,439.8 L422,439.5 L423,439.0 L424,438.0 L425,437.2 L426,436.4 L427,435.8 L428,435.1 L429,434.8 L430,434.6 L431,434.8 L432,435.1 L433,435.9 L434,436.8 L435,437.9 L436,438.6 L437,439.4 L438,440.3 L439,441.0 L440,441.7 L441,442.2 L442,442.9 L443,443.5 L444,444.3 L445,445.0 L446,445.9 L447,446.3 L448,446.6 L449,446.8 L450,447.0 L451,447.3 L452,447.4 L453,447.5 L454,447.3 L455,447.4 L456,447.4 L457,447.4 L458,447.2 L459,446.4 L460,445.6 L461,444.6 L462,443.5 L463,442.4 L464,440.9 L465,439.4 L466,437.8 L467,436.4 L468,434.7 L469,432.8 L470,431.1 L471,429.2 L472,427.4 L473,425.3 L474,423.1 L475,421.3 L476,418.9 L477,416.3 L478,413.0 L479,409.7 L480,405.9 L481,401.4 L482,397.1 L483,392.0 L484,387.0 L485,382.2 L486,377.6 L487,373.2 L488,368.5 L489,363.7 L490,358.8 L491,353.7 L492,348.5 L493,342.5 L494,336.6 L495,330.8 L496,325.1 L497,318.0 L498,311.0 L499,304.0 L500,296.9 L501,289.6 L502,282.2 L503,274.0 L504,266.3 L505,259.4 L506,253.7 L507,249.4 L508,245.0 L509,241.8 L510,239.4 L511,238.3 L512,237.9 L513,239.7 L514,241.9 L515,247.7 L516,254.1 L517,261.5 L518,268.4 L519,275.5 L520,282.6 L521,289.9 L522,296.9 L523,302.4 L524,306.8 L525,309.5 L526,312.7 L527,314.9 L528,316.6 L529,317.7 L530,318.5 L531,317.8 L532,317.9 L533,316.7 L534,316.3 L535,316.1 L536,317.0 L537,318.9 L538,321.6 L539,324.7 L540,327.4 L541,330.6 L542,333.9 L543,337.2 L544,340.1 L545,343.2 L546,346.4 L547,349.5 L548,352.7 L549,356.2 L550,359.5 L551,361.8 L552,363.4 L553,364.2 L554,364.6 L555,364.7 L556,364.0 L557,363.0 L558,362.3 L559,361.3 L560,360.3 L561,359.9 L562,359.6 L563,359.3 L564,358.8 L565,358.4 L566,358.2 L567,357.4 L568,356.1 L569,354.9 L570,353.7 L571,352.9 L572,351.6 L573,350.0 L574,348.7 L575,347.3 L576,345.7 L577,344.7 L578,344.2 L579,343.6 L580,343.0 L581,342.6 L582,342.1 L583,341.5 L584,340.8 L585,340.3 L586,339.7 L587,339.0 L588,338.4 L589,337.5 L590,337.1 L591,336.8 L592,336.5 L593,336.7 L594,337.2 L595,337.8 L596,338.1 L597,338.6 L598,339.0 L599,339.3 L600,339.5 L601,339.6 L602,339.5 L603,339.5 L604,339.6 L605,339.6 L606,339.6 L607,339.7 L608,339.8 L609,339.7 L610,339.7 L611,339.0 L612,338.3 L613,337.1 L614,335.6 L615,334.1 L616,332.6 L617,331.1 L618,329.5 L619,328.1 L620,326.9 L621,325.7 L622,324.6 L623,323.6 L624,322.9 L625,322.2 L626,321.9 L627,321.8 L628,321.6 L629,321.5 L630,321.0 L631,320.7 L632,320.1 L633,319.6 L634,319.3 L635,319.0 L636,318.9 L637,319.8 L638,320.7 L639,321.5 L640,322.0 L641,323.1 L642,324.0 L643,325.2 L644,326.0 L645,327.0 L646,327.9 L647,329.1 L648,330.3 L649,331.6 L650,333.3 L651,335.1 L652,337.2 L653,339.4 L654,341.7 L655,343.4 L656,345.4 L657,347.7 L658,350.1 L659,352.2 L660,354.6 L661,356.7 L662,358.9 L663,361.1 L664,363.6 L665,366.0 L666,368.4 L667,371.0 L668,373.7 L669,376.4 L670,378.6 L671,380.8 L672,382.7 L673,384.3 L674,385.8 L675,387.1 L676,388.5 L677,389.8 L678,390.9 L679,391.9 L680,392.7 L681,393.3 L682,393.7 L683,393.9 L684,394.1 L685,393.5 L686,392.4 L687,390.6 L688,388.0 L689,385.7 L690,382.4 L691,379.3 L692,375.8 L693,372.8 L694,370.0 L695,367.3 L696,364.8 L697,362.8 L698,361.0 L699,359.1 L700,357.0 L701,355.2 L702,353.8 L703,353.3 L704,352.9 L705,353.0 L706,354.2 L707,355.1 L708,356.8 L709,358.5 L710,360.1 L711,361.2 L712,361.9 L713,362.3 L714,362.4 L715,362.4 L716,362.1 L717,361.9 L718,362.1 L719,362.4 L720,362.4 L721,362.1 L722,362.2 L723,362.2 L724,362.2 L725,361.9 L726,361.5 L727,360.9 L728,360.3 L729,359.5 L730,359.1 L731,359.0 L732,358.8 L733,358.9 L734,359.4 L735,360.0 L736,360.8 L737,361.3 L738,362.1 L739,362.6 L740,363.2 L741,363.6 L742,363.9 L743,364.3 L744,364.9 L745,365.3 L746,366.1 L747,367.1 L748,367.6 L749,367.9 L750,367.8 L751,367.6 L752,366.6 L753,365.1 L754,363.0 L755,360.0 L756,357.1 L757,354.6 L758,351.7 L759,349.2 L760,346.6 L761,344.4 L762,342.1 L763,340.0 L764,337.8 L765,335.5 L766,333.2 L767,331.0 L768,329.2 L769,327.1 L770,325.6 L771,324.3 L772,323.5 L773,323.4 L774,323.0 L775,322.1 L776,321.6 L777,321.0 L778,319.9 L779,318.4 L780,316.9 L781,315.4 L782,313.8 L783,312.1 L784,310.5 L785,309.3 L786,308.3 L787,307.5 L788,307.0 L789,306.6 L790,306.2 L791,305.9 L792,306.0 L793,306.2 L794,306.2 L795,306.0 L796,306.2 L797,306.6 L798,306.8 L799,306.7 L800,306.8 L801,307.2 L802,307.7 L803,308.0 L804,307.8 L805,307.9 L806,307.6 L807,307.4 L808,307.4 L809,307.5 L810,307.2 L811,306.5 L812,305.9 L813,305.5 L814,304.9 L815,304.4 L816,304.2 L817,304.4 L818,304.4 L819,304.6 L820,304.7 L821,304.6 L822,304.8 L823,304.4 L824,304.2 L825,303.5 L826,302.6 L827,301.5 L828,301.0 L829,301.1 L830,301.2 L831,301.3 L832,301.8 L833,302.5 L834,303.5 L835,304.9 L836,306.0 L837,307.6 L838,309.7 L839,311.8 L840,313.7 L841,315.7 L842,317.6 L843,321.4" fill="none" stroke="#64f064" stroke-width="1.6" stroke-linejoin="round" filter="url(#b)"/>
<path d="M0,520.3 L1,520.5 L2,520.8 L3,520.7 L4,521.4 L5,522.2 L6,523.3 L7,524.9 L8,526.8 L9,529.0 L10,531.1 L11,534.2 L12,537.0 L13,538.7 L14,539.3 L15,540.1 L16,541.0 L17,540.6 L18,539.3 L19,537.8 L20,537.5 L21,536.4 L22,534.6 L23,533.0 L24,532.0 L25,531.3 L26,530.5 L27,530.1 L28,529.9 L29,529.9 L30,530.6 L31,531.8 L32,533.0 L33,534.1 L34,534.8 L35,535.2 L36,535.4 L37,535.7 L38,534.5 L39,534.0 L40,532.7 L41,530.7 L42,528.8 L43,526.4 L44,525.2 L45,522.8 L46,521.6 L47,521.2 L48,520.1 L49,518.9 L50,517.9 L51,517.1 L52,515.9 L53,513.6 L54,511.0 L55,507.8 L56,504.1 L57,499.2 L58,494.6 L59,491.4 L60,488.9 L61,487.8 L62,485.8 L63,485.3 L64,485.1 L65,484.2 L66,484.1 L67,484.4 L68,485.1 L69,485.8 L70,486.0 L71,486.3 L72,485.8 L73,483.9 L74,483.1 L75,482.0 L76,480.4 L77,478.3 L78,476.1 L79,473.1 L80,470.6 L81,466.6 L82,463.7 L83,461.1 L84,454.9 L85,446.2 L86,434.7 L87,424.0 L88,411.0 L89,398.1 L90,388.4 L91,381.9 L92,377.9 L93,372.5 L94,368.4 L95,363.3 L96,358.1 L97,350.8 L98,343.6 L99,337.1 L100,330.1 L101,322.6 L102,313.5 L103,306.2 L104,298.0 L105,289.0 L106,279.6 L107,271.0 L108,267.0 L109,263.7 L110,261.4 L111,259.5 L112,257.7 L113,257.3 L114,253.0 L115,247.6 L116,239.5 L117,230.5 L118,221.2 L119,208.6 L120,194.0 L121,179.9 L122,166.7 L123,156.2 L124,143.3 L125,131.0 L126,121.1 L127,114.5 L128,113.2 L129,113.2 L130,118.3 L131,128.3 L132,142.1 L133,152.2 L134,157.4 L135,161.5 L136,162.8 L137,160.0 L138,156.3 L139,155.6 L140,158.4 L141,167.2 L142,178.6 L143,193.3 L144,207.6 L145,222.9 L146,238.6 L147,250.0 L148,260.9 L149,271.7 L150,282.6 L151,290.2 L152,295.8 L153,300.4 L154,305.2 L155,310.6 L156,315.8 L157,322.4 L158,328.6 L159,335.9 L160,343.9 L161,350.5 L162,357.5 L163,363.7 L164,371.2 L165,378.9 L166,385.8 L167,393.0 L168,399.0 L169,406.5 L170,412.4 L171,418.1 L172,423.2 L173,428.2 L174,434.0 L175,439.7 L176,445.7 L177,450.8 L178,454.9 L179,458.0 L180,459.1 L181,459.1 L182,457.3 L183,456.1 L184,456.4 L185,456.2 L186,456.6 L187,456.2 L188,456.9 L189,454.7 L190,450.7 L191,445.9 L192,441.8 L193,437.4 L194,432.7 L195,429.4 L196,426.3 L197,424.5 L198,421.3 L199,417.9 L200,414.9 L201,411.8 L202,407.2 L203,402.3 L204,398.7 L205,393.5 L206,387.6 L207,381.4 L208,376.6 L209,371.3 L210,365.8 L211,361.8 L212,357.1 L213,351.7 L214,347.0 L215,344.8 L216,343.5 L217,344.1 L218,346.7 L219,351.0 L220,357.2 L221,361.7 L222,364.8 L223,366.2 L224,366.1 L225,365.7 L226,360.0 L227,354.7 L228,348.9 L229,343.7 L230,340.7 L231,337.3 L232,337.6 L233,337.1 L234,336.9 L235,336.1 L236,334.4 L237,334.6 L238,336.8 L239,340.1 L240,344.5 L241,348.9 L242,352.2 L243,354.3 L244,353.2 L245,351.0 L246,348.4 L247,346.9 L248,346.0 L249,347.0 L250,350.5 L251,355.7 L252,362.8 L253,370.3 L254,378.2 L255,384.3 L256,389.4 L257,393.8 L258,397.3 L259,400.4 L260,402.1 L261,403.9 L262,404.4 L263,403.2 L264,401.4 L265,398.6 L266,396.5 L267,394.5 L268,393.0 L269,392.7 L270,392.1 L271,390.3 L272,386.4 L273,381.3 L274,376.5 L275,369.6 L276,362.8 L277,358.9 L278,357.4 L279,357.5 L280,358.1 L281,360.7 L282,364.2 L283,367.1 L284,369.6 L285,372.9 L286,375.5 L287,377.5 L288,378.0 L289,377.8 L290,376.0 L291,373.7 L292,370.2 L293,367.5 L294,365.1 L295,362.1 L296,359.9 L297,358.3 L298,356.8 L299,355.4 L300,355.6 L301,356.9 L302,359.7 L303,362.2 L304,365.9 L305,370.9 L306,374.2 L307,376.8 L308,378.2 L309,379.1 L310,380.0 L311,379.7 L312,380.9 L313,382.1 L314,384.6 L315,387.5 L316,390.5 L317,393.8 L318,396.6 L319,400.5 L320,403.8 L321,405.9 L322,408.6 L323,410.4 L324,412.6 L325,412.9 L326,412.2 L327,412.7 L328,413.2 L329,413.9 L330,413.6 L331,415.5 L332,418.7 L333,422.3 L334,424.5 L335,427.0 L336,428.7 L337,429.1 L338,427.5 L339,425.2 L340,421.9 L341,418.6 L342,416.3 L343,414.6 L344,414.5 L345,413.1 L346,413.2 L347,412.9 L348,412.4 L349,411.2 L350,410.9 L351,411.7 L352,413.4 L353,415.1 L354,417.0 L355,419.6 L356,421.8 L357,423.5 L358,424.9 L359,427.0 L360,429.7 L361,432.1 L362,433.2 L363,436.3 L364,438.2 L365,439.6 L366,440.6 L367,441.4 L368,442.3 L369,441.9 L370,442.2 L371,441.9 L372,441.3 L373,442.1 L374,443.3 L375,444.9 L376,446.8 L377,448.0 L378,449.1 L379,448.5 L380,447.2 L381,444.7 L382,440.1 L383,435.8 L384,431.6 L385,426.9 L386,423.2 L387,419.4 L388,417.5 L389,416.6 L390,416.7 L391,417.8 L392,418.6 L393,421.1 L394,423.7 L395,426.2 L396,428.0 L397,429.3 L398,430.6 L399,430.6 L400,430.2 L401,429.1 L402,428.3 L403,428.3 L404,429.7 L405,432.9 L406,437.2 L407,441.5 L408,445.2 L409,447.7 L410,448.7 L411,448.1 L412,446.9 L413,445.3 L414,443.4 L415,440.9 L416,438.8 L417,435.9 L418,433.5 L419,431.8 L420,430.8 L421,430.9 L422,431.2 L423,433.1 L424,433.6 L425,434.4 L426,434.9 L427,435.6 L428,435.5 L429,435.6 L430,436.7 L431,438.2 L432,439.7 L433,441.3 L434,443.7 L435,444.9 L436,445.6 L437,445.7 L438,446.4 L439,446.2 L440,445.9 L441,446.3 L442,446.4 L443,446.6 L444,446.8 L445,447.6 L446,448.1 L447,447.7 L448,447.7 L449,448.0 L450,448.0 L451,448.3 L452,448.3 L453,448.6 L454,447.9 L455,447.7 L456,447.4 L457,446.2 L458,445.3 L459,442.8 L460,441.3 L461,438.2 L462,435.2 L463,432.6 L464,429.0 L465,426.8 L466,424.3 L467,423.4 L468,421.4 L469,419.8 L470,418.9 L471,417.9 L472,416.7 L473,414.4 L474,412.7 L475,411.5 L476,408.7 L477,404.2 L478,397.8 L479,391.4 L480,383.4 L481,373.0 L482,363.8 L483,353.8 L484,346.5 L485,340.9 L486,336.8 L487,335.2 L488,333.2 L489,333.0 L490,332.2 L491,329.0 L492,325.2 L493,319.4 L494,312.7 L495,305.7 L496,296.7 L497,284.2 L498,271.0 L499,257.3 L500,244.7 L501,230.1 L502,217.7 L503,208.9 L504,202.6 L505,201.4 L506,203.6 L507,212.5 L508,220.5 L509,232.3 L510,244.7 L511,256.2 L512,265.5 L513,276.3 L514,287.4 L515,302.0 L516,315.0 L517,327.0 L518,336.0 L519,337.8 L520,339.7 L521,335.4 L522,330.9 L523,324.2 L524,318.8 L525,314.3 L526,310.9 L527,307.2 L528,303.9 L529,302.1 L530,300.8 L531,301.3 L532,302.9 L533,307.5 L534,313.9 L535,322.0 L536,331.4 L537,341.2 L538,351.0 L539,359.6 L540,364.3 L541,367.6 L542,369.6 L543,369.0 L544,366.5 L545,362.5 L546,360.9 L547,358.9 L548,357.3 L549,358.5 L550,361.0 L551,363.5 L552,365.1 L553,366.1 L554,366.9 L555,366.6 L556,364.7 L557,363.0 L558,361.0 L559,358.7 L560,356.6 L561,354.5 L562,353.1 L563,351.6 L564,350.3 L565,350.5 L566,351.2 L567,351.1 L568,350.5 L569,350.3 L570,349.9 L571,349.5 L572,346.9 L573,344.5 L574,342.4 L575,340.0 L576,336.8 L577,334.2 L578,334.5 L579,335.3 L580,336.1 L581,337.4 L582,339.6 L583,340.8 L584,340.9 L585,341.3 L586,340.5 L587,339.8 L588,338.8 L589,337.3 L590,335.8 L591,334.0 L592,332.9 L593,333.0 L594,333.3 L595,335.4 L596,337.7 L597,340.4 L598,343.5 L599,345.3 L600,346.4 L601,346.3 L602,345.1 L603,344.0 L604,342.4 L605,340.6 L606,339.1 L607,337.5 L608,336.5 L609,334.9 L610,333.1 L611,331.2 L612,329.5 L613,327.5 L614,325.1 L615,323.5 L616,322.3 L617,321.3 L618,320.0 L619,319.4 L620,319.1 L621,318.6 L622,318.4 L623,318.3 L624,319.2 L625,319.9 L626,321.4 L627,323.3 L628,324.1 L629,324.7 L630,323.8 L631,322.8 L632,319.9 L633,317.0 L634,315.4 L635,313.8 L636,313.8 L637,316.8 L638,320.6 L639,324.3 L640,326.6 L641,330.7 L642,334.5 L643,335.9 L644,337.4 L645,339.6 L646,341.6 L647,342.6 L648,342.6 L649,342.3 L650,341.7 L651,341.3 L652,343.3 L653,344.7 L654,348.0 L655,352.1 L656,357.0 L657,362.2 L658,365.4 L659,369.4 L660,373.1 L661,375.6 L662,378.1 L663,379.8 L664,382.1 L665,383.8 L666,384.1 L667,385.1 L668,385.9 L669,387.3 L670,388.3 L671,389.3 L672,391.1 L673,392.3 L674,393.5 L675,394.1 L676,395.2 L677,396.4 L678,397.5 L679,398.3 L680,398.7 L681,398.4 L682,397.5 L683,396.0 L684,393.7 L685,390.0 L686,384.9 L687,379.4 L688,371.3 L689,364.7 L690,356.0 L691,349.5 L692,343.8 L693,340.6 L694,341.1 L695,341.3 L696,344.8 L697,349.0 L698,354.2 L699,357.3 L700,358.6 L701,359.7 L702,360.4 L703,361.3 L704,360.8 L705,361.3 L706,362.9 L707,364.4 L708,365.2 L709,365.3 L710,365.3 L711,364.9 L712,364.3 L713,362.9 L714,361.7 L715,360.6 L716,360.1 L717,359.5 L718,359.1 L719,359.9 L720,360.2 L721,360.5 L722,361.2 L723,362.1 L724,363.1 L725,362.7 L726,362.4 L727,361.5 L728,359.6 L729,357.0 L730,355.1 L731,354.3 L732,353.8 L733,354.7 L734,357.5 L735,361.0 L736,364.1 L737,366.9 L738,370.2 L739,371.5 L740,372.5 L741,372.8 L742,372.6 L743,371.6 L744,370.7 L745,369.6 L746,368.2 L747,367.4 L748,366.2 L749,365.1 L750,362.7 L751,361.7 L752,359.0 L753,355.1 L754,350.1 L755,343.4 L756,337.9 L757,332.5 L758,328.0 L759,325.0 L760,323.4 L761,324.8 L762,325.9 L763,325.8 L764,326.5 L765,326.4 L766,326.1 L767,324.7 L768,323.9 L769,323.1 L770,322.4 L771,321.4 L772,320.9 L773,320.8 L774,319.2 L775,317.5 L776,316.0 L777,315.2 L778,312.8 L779,309.5 L780,307.6 L781,305.5 L782,303.1 L783,299.7 L784,297.7 L785,297.6 L786,298.2 L787,299.6 L788,301.8 L789,305.0 L790,308.1 L791,310.7 L792,312.4 L793,313.6 L794,313.8 L795,313.3 L796,312.9 L797,311.6 L798,309.8 L799,307.0 L800,305.0 L801,303.4 L802,302.0 L803,301.6 L804,301.4 L805,303.0 L806,304.1 L807,305.4 L808,307.3 L809,309.2 L810,310.6 L811,309.5 L812,308.7 L813,307.7 L814,305.3 L815,302.3 L816,300.7 L817,300.7 L818,300.5 L819,300.9 L820,301.7 L821,302.5 L822,303.2 L823,303.1 L824,303.3 L825,301.9 L826,300.8 L827,299.9 L828,299.1 L829,299.5 L830,299.8 L831,301.1 L832,302.8 L833,305.2 L834,308.2 L835,312.2 L836,314.7 L837,319.7 L838,325.6 L839,330.4 L840,333.7 L841,335.5 L842,338.2 L843,343.5" fill="none" stroke="#2838f0" stroke-width="1.25" stroke-linejoin="round" filter="url(#b)"/>
<text x="129" y="71" font-family="Liberation Serif, serif" font-weight="bold" font-size="14.5" fill="#2c3a40" textLength="47" lengthAdjust="spacingAndGlyphs">6124.04</text>
<line x1="87.7" y1="48.8" x2="910.5" y2="243.7" stroke="#ff1030" stroke-width="3.2" stroke-dasharray="10.3 6.75" />
<line x1="2.3" y1="553.5" x2="911.7" y2="357.3" stroke="#ff1030" stroke-width="3.2" stroke-dasharray="10.3 6.75" />
<path d="M224.5,21.5 L373,21.5 L373,110.5 L224.5,110.5 L224.5,59.0 L125.5,57.5 L224.5,36.7 Z" fill="#fff" stroke="#4a78ae" stroke-width="2" stroke-linejoin="miter"/>
<g filter="url(#sh)" opacity="0.9"><text x="250.4" y="59.6" font-family="Liberation Sans, sans-serif" font-size="32" fill="#9aa4a8">2007</text><path d="M330.24,35.40 L322.34,46.20 M327.84,39.40 L348.84,39.40 M327.04,47.40 L346.54,47.40 M327.74,47.40 L327.74,53.60 M321.54,53.60 L349.94,53.60 M336.54,39.40 L336.54,62.90" fill="none" stroke="#9aa4a8" stroke-width="1.9"/></g>
<g filter="url(#tb)"><text x="248.6" y="57.8" font-family="Liberation Sans, sans-serif" font-size="32" fill="#0c2f8c" stroke="#0c2f8c" stroke-width="0.3">2007</text><path d="M328.64,33.80 L320.74,44.60 M326.24,37.80 L347.24,37.80 M325.44,45.80 L344.94,45.80 M326.14,45.80 L326.14,52.00 M319.94,52.00 L348.34,52.00 M334.94,37.80 L334.94,61.30" fill="none" stroke="#1c4a98" stroke-width="1.9"/></g>
<g filter="url(#sh)" opacity="0.9"><text x="250.4" y="96.8" font-family="Liberation Sans, sans-serif" font-size="32" fill="#9aa4a8">6124</text><path d="M335.64,72.40 L335.64,82.40 M335.64,77.30 L348.04,77.30 M328.24,82.40 L344.24,82.40 L344.24,90.40 L328.24,90.40 Z M326.84,94.00 L323.44,98.40 M331.64,93.80 L333.24,98.20 M338.64,93.80 L340.24,98.20 M345.24,93.80 L348.24,98.20" fill="none" stroke="#9aa4a8" stroke-width="1.9"/></g>
<g filter="url(#tb)"><text x="248.6" y="95.0" font-family="Liberation Sans, sans-serif" font-size="32" fill="#0c2f8c" stroke="#0c2f8c" stroke-width="0.3">6124</text><path d="M334.04,70.80 L334.04,80.80 M334.04,75.70 L346.44,75.70 M326.64,80.80 L342.64,80.80 L342.64,88.80 L326.64,88.80 Z M325.24,92.40 L321.84,96.80 M330.04,92.20 L331.64,96.60 M337.04,92.20 L338.64,96.60 M343.64,92.20 L346.64,96.60" fill="none" stroke="#1c4a98" stroke-width="1.9"/></g>
<path d="M596,71 L743,71 L743,159.5 L596,159.5 L596,145 L503,147.5 L596,122.5 Z" fill="#fff" stroke="#4a78ae" stroke-width="2" stroke-linejoin="miter"/>
<g filter="url(#sh)" opacity="0.9"><text x="619.3" y="109.1" font-family="Liberation Sans, sans-serif" font-size="32" fill="#9aa4a8">2015</text><path d="M699.19,84.90 L691.29,95.70 M696.79,88.90 L717.79,88.90 M695.99,96.90 L715.49,96.90 M696.69,96.90 L696.69,103.10 M690.49,103.10 L718.89,103.10 M705.49,88.90 L705.49,112.40" fill="none" stroke="#9aa4a8" stroke-width="1.9"/></g>
<g filter="url(#tb)"><text x="617.5" y="107.3" font-family="Liberation Sans, sans-serif" font-size="32" fill="#0c2f8c" stroke="#0c2f8c" stroke-width="0.3">2015</text><path d="M697.59,83.30 L689.69,94.10 M695.19,87.30 L716.19,87.30 M694.39,95.30 L713.89,95.30 M695.09,95.30 L695.09,101.50 M688.89,101.50 L717.29,101.50 M703.89,87.30 L703.89,110.80" fill="none" stroke="#1c4a98" stroke-width="1.9"/></g>
<g filter="url(#sh)" opacity="0.9"><text x="619.3" y="146.3" font-family="Liberation Sans, sans-serif" font-size="32" fill="#9aa4a8">5178</text><path d="M704.59,121.90 L704.59,131.90 M704.59,126.80 L716.99,126.80 M697.19,131.90 L713.19,131.90 L713.19,139.90 L697.19,139.90 Z M695.79,143.50 L692.39,147.90 M700.59,143.30 L702.19,147.70 M707.59,143.30 L709.19,147.70 M714.19,143.30 L717.19,147.70" fill="none" stroke="#9aa4a8" stroke-width="1.9"/></g>
<g filter="url(#tb)"><text x="617.5" y="144.5" font-family="Liberation Sans, sans-serif" font-size="32" fill="#0c2f8c" stroke="#0c2f8c" stroke-width="0.3">5178</text><path d="M702.99,120.30 L702.99,130.30 M702.99,125.20 L715.39,125.20 M695.59,130.30 L711.59,130.30 L711.59,138.30 L695.59,138.30 Z M694.19,141.90 L690.79,146.30 M698.99,141.70 L700.59,146.10 M705.99,141.70 L707.59,146.10 M712.59,141.70 L715.59,146.10" fill="none" stroke="#1c4a98" stroke-width="1.9"/></g>
<path d="M451.5,468.5 L599.5,468.5 L599.5,557.5 L451.5,557.5 L451.5,505.0 L404.5,466 L451.5,482.5 Z" fill="#fff" stroke="#4a78ae" stroke-width="2" stroke-linejoin="miter"/>
<g filter="url(#sh)" opacity="0.9"><text x="475.4" y="506.6" font-family="Liberation Sans, sans-serif" font-size="32" fill="#9aa4a8">2013</text><path d="M555.29,482.40 L547.39,493.20 M552.89,486.40 L573.89,486.40 M552.09,494.40 L571.59,494.40 M552.79,494.40 L552.79,500.60 M546.59,500.60 L574.99,500.60 M561.59,486.40 L561.59,509.90" fill="none" stroke="#9aa4a8" stroke-width="1.9"/></g>
<g filter="url(#tb)"><text x="473.6" y="504.8" font-family="Liberation Sans, sans-serif" font-size="32" fill="#0c2f8c" stroke="#0c2f8c" stroke-width="0.3">2013</text><path d="M553.69,480.80 L545.79,491.60 M551.29,484.80 L572.29,484.80 M550.49,492.80 L569.99,492.80 M551.19,492.80 L551.19,499.00 M544.99,499.00 L573.39,499.00 M559.99,484.80 L559.99,508.30" fill="none" stroke="#1c4a98" stroke-width="1.9"/></g>
<g filter="url(#sh)" opacity="0.9"><text x="475.4" y="543.8" font-family="Liberation Sans, sans-serif" font-size="32" fill="#9aa4a8">1849</text><path d="M560.69,519.40 L560.69,529.40 M560.69,524.30 L573.09,524.30 M553.29,529.40 L569.29,529.40 L569.29,537.40 L553.29,537.40 Z M551.89,541.00 L548.49,545.40 M556.69,540.80 L558.29,545.20 M563.69,540.80 L565.29,545.20 M570.29,540.80 L573.29,545.20" fill="none" stroke="#9aa4a8" stroke-width="1.9"/></g>
<g filter="url(#tb)"><text x="473.6" y="542.0" font-family="Liberation Sans, sans-serif" font-size="32" fill="#0c2f8c" stroke="#0c2f8c" stroke-width="0.3">1849</text><path d="M559.09,517.80 L559.09,527.80 M559.09,522.70 L571.49,522.70 M551.69,527.80 L567.69,527.80 L567.69,535.80 L551.69,535.80 Z M550.29,539.40 L546.89,543.80 M555.09,539.20 L556.69,543.60 M562.09,539.20 L563.69,543.60 M568.69,539.20 L571.69,543.60" fill="none" stroke="#1c4a98" stroke-width="1.9"/></g>
<path d="M708.5,423.5 L858.5,423.5 L858.5,513 L708.5,513 L708.5,461.0 L677.5,407.5 L708.5,437.5 Z" fill="#fff" stroke="#4a78ae" stroke-width="2" stroke-linejoin="miter"/>
<g filter="url(#sh)" opacity="0.9"><text x="735.1" y="461.6" font-family="Liberation Sans, sans-serif" font-size="32" fill="#9aa4a8">2019</text><path d="M814.99,437.40 L807.09,448.20 M812.59,441.40 L833.59,441.40 M811.79,449.40 L831.29,449.40 M812.49,449.40 L812.49,455.60 M806.29,455.60 L834.69,455.60 M821.29,441.40 L821.29,464.90" fill="none" stroke="#9aa4a8" stroke-width="1.9"/></g>
<g filter="url(#tb)"><text x="733.3" y="459.8" font-family="Liberation Sans, sans-serif" font-size="32" fill="#0c2f8c" stroke="#0c2f8c" stroke-width="0.3">2019</text><path d="M813.39,435.80 L805.49,446.60 M810.99,439.80 L831.99,439.80 M810.19,447.80 L829.69,447.80 M810.89,447.80 L810.89,454.00 M804.69,454.00 L833.09,454.00 M819.69,439.80 L819.69,463.30" fill="none" stroke="#1c4a98" stroke-width="1.9"/></g>
<g filter="url(#sh)" opacity="0.9"><text x="735.1" y="498.8" font-family="Liberation Sans, sans-serif" font-size="32" fill="#9aa4a8">2440</text><path d="M820.39,474.40 L820.39,484.40 M820.39,479.30 L832.79,479.30 M812.99,484.40 L828.99,484.40 L828.99,492.40 L812.99,492.40 Z M811.59,496.00 L808.19,500.40 M816.39,495.80 L817.99,500.20 M823.39,495.80 L824.99,500.20 M829.99,495.80 L832.99,500.20" fill="none" stroke="#9aa4a8" stroke-width="1.9"/></g>
<g filter="url(#tb)"><text x="733.3" y="497.0" font-family="Liberation Sans, sans-serif" font-size="32" fill="#0c2f8c" stroke="#0c2f8c" stroke-width="0.3">2440</text><path d="M818.79,472.80 L818.79,482.80 M818.79,477.70 L831.19,477.70 M811.39,482.80 L827.39,482.80 L827.39,490.80 L811.39,490.80 Z M809.99,494.40 L806.59,498.80 M814.79,494.20 L816.39,498.60 M821.79,494.20 L823.39,498.60 M828.39,494.20 L831.39,498.60" fill="none" stroke="#1c4a98" stroke-width="1.9"/></g>
<path d="M108.5,492.5 L257,492.5 L257,581 L108.5,581 L108.5,566.7 L12,549 L108.5,543.8 Z" fill="#fff" stroke="#4a78ae" stroke-width="2" stroke-linejoin="miter"/>
<g filter="url(#sh)" opacity="0.9"><text x="134.4" y="530.6" font-family="Liberation Sans, sans-serif" font-size="32" fill="#9aa4a8">2005</text><path d="M214.24,506.40 L206.34,517.20 M211.84,510.40 L232.84,510.40 M211.04,518.40 L230.54,518.40 M211.74,518.40 L211.74,524.60 M205.54,524.60 L233.94,524.60 M220.54,510.40 L220.54,533.90" fill="none" stroke="#9aa4a8" stroke-width="1.9"/></g>
<g filter="url(#tb)"><text x="132.6" y="528.8" font-family="Liberation Sans, sans-serif" font-size="32" fill="#0c2f8c" stroke="#0c2f8c" stroke-width="0.3">2005</text><path d="M212.64,504.80 L204.74,515.60 M210.24,508.80 L231.24,508.80 M209.44,516.80 L228.94,516.80 M210.14,516.80 L210.14,523.00 M203.94,523.00 L232.34,523.00 M218.94,508.80 L218.94,532.30" fill="none" stroke="#1c4a98" stroke-width="1.9"/></g>
<g filter="url(#sh)" opacity="0.9"><text x="143.3" y="567.8" font-family="Liberation Sans, sans-serif" font-size="32" fill="#9aa4a8">998</text><path d="M210.74,543.40 L210.74,553.40 M210.74,548.30 L223.14,548.30 M203.34,553.40 L219.34,553.40 L219.34,561.40 L203.34,561.40 Z M201.94,565.00 L198.54,569.40 M206.74,564.80 L208.34,569.20 M213.74,564.80 L215.34,569.20 M220.34,564.80 L223.34,569.20" fill="none" stroke="#9aa4a8" stroke-width="1.9"/></g>
<g filter="url(#tb)"><text x="141.5" y="566.0" font-family="Liberation Sans, sans-serif" font-size="32" fill="#0c2f8c" stroke="#0c2f8c" stroke-width="0.3">998</text><path d="M209.14,541.80 L209.14,551.80 M209.14,546.70 L221.54,546.70 M201.74,551.80 L217.74,551.80 L217.74,559.80 L201.74,559.80 Z M200.34,563.40 L196.94,567.80 M205.14,563.20 L206.74,567.60 M212.14,563.20 L213.74,567.60 M218.74,563.20 L221.74,567.60" fill="none" stroke="#1c4a98" stroke-width="1.9"/></g>
<path d="M865.5,4.8 L867,24.5 M867,13.5 L871.5,13.5 M857.7,25.4 Q866,23.8 874.8,24.6 M881.2,6.6 L883.8,8.6 M878.4,16.4 L882.6,14.8 L882,25.4 M887.4,9.8 L894.6,7.8 M891,9.6 L891,24 M891,15.9 L895.2,15.9 M888,15.9 L888,24 M885.6,24.2 L897,23.8 M901.8,13.2 L911.2,12 M906,5.4 L905.7,26.4 L904,25.2 M900,21.8 L910.8,18 M912,5.4 L912,11.6 L917,12 M914.8,7.4 L918,6 M910.2,15 L915.8,15 L915.8,26.4 L910.2,26.4 Z M910.2,20.7 L915.8,20.7 M924,7.0 L925,8.2 M929.6,7.2 L928.6,8.4 M922.2,12.6 L930.6,12 M926.4,4.8 L926.4,15.6 M925.2,17.6 L922.4,23.2 L929.4,26.6 M921,21.2 L930.8,19.8 M928.8,18 L922.8,28.2 M933,4.8 L931.6,10.8 M932.6,10.2 L938,11.2 M936.2,11.6 L931.2,26.6 M932.8,16.8 L939.2,27.6" fill="none" stroke="#2424ff" stroke-width="2.1" stroke-linecap="round" stroke-linejoin="round" filter="url(#b)"/>
<line x1="857" y1="32.7" x2="943.2" y2="32.7" stroke="#a8f8dc" stroke-width="3"/>
</svg></body></html>
